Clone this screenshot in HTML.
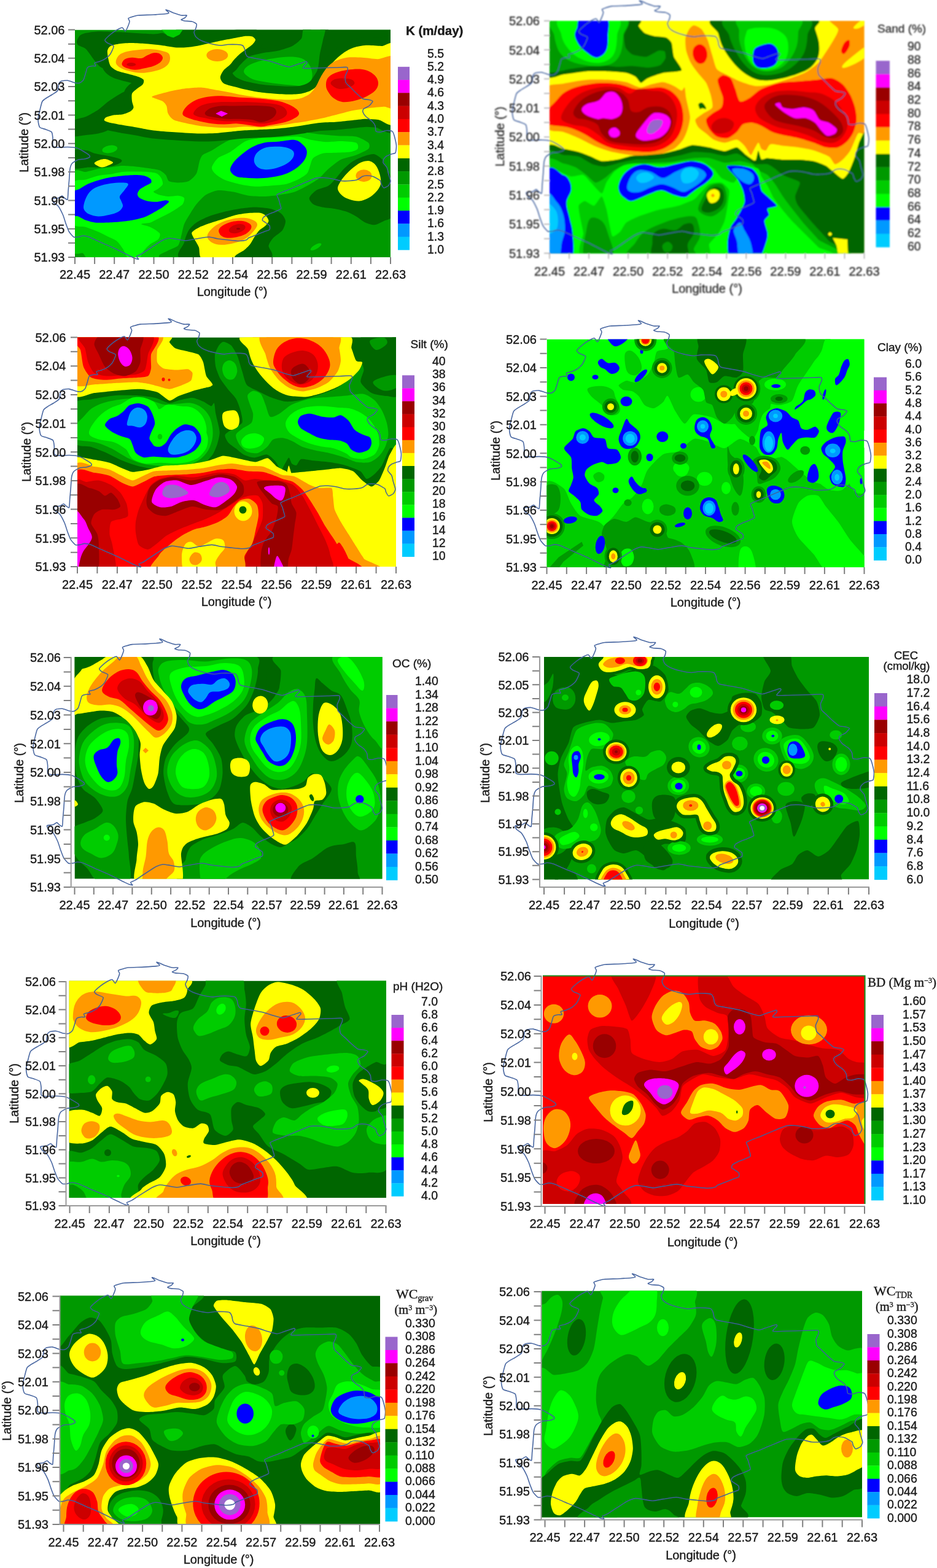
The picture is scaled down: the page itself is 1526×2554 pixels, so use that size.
<!DOCTYPE html>
<html><head><meta charset="utf-8"><title>Spatial distribution maps</title>
<style>html,body{margin:0;padding:0;background:#fff}svg{display:block}text{font-family:"Liberation Sans",sans-serif;font-size:20px;fill:#1a1a1a;stroke:#1a1a1a;stroke-width:.4px}.e{text-anchor:end}.m{text-anchor:middle}.s{font-family:"Liberation Serif",serif}.b{font-weight:bold}.g{fill:#333;stroke:#333}.ol{fill:none;stroke:#3F5F9C;stroke-width:1.6;stroke-linejoin:round;opacity:.95}</style>
</head><body>
<svg width="1526" height="2554" viewBox="0 0 1526 2554">
<rect width="1526" height="2554" fill="#fff"/>
<defs><path id="ol" d="M104 374C103.4 373.9 99.3 373 98 372.5C96.7 372 93.8 370.6 90.5 369C87.2 367.4 70.5 358.9 65.5 356.5C60.5 354.1 44.8 347.4 40.5 345.5C36.2 343.6 25.8 338.5 23 337.5C20.2 336.5 14.8 335.5 13 335.5C11.2 335.5 7 337.3 5.5 337.5C4 337.7 -0.5 338.4 -2 337.5C-3.5 336.6 -8.2 331.1 -9.5 329C-10.8 326.9 -13.5 319.2 -14.5 316.5C-15.5 313.8 -18.2 304.4 -19.5 301.5C-20.8 298.6 -25.5 289.5 -27 287.5C-28.5 285.5 -33.5 282.7 -34.5 281.5C-35.5 280.3 -37.8 276.2 -37 275.5C-36.2 274.8 -28.6 274.5 -27 274C-25.4 273.5 -22 270.5 -21 270.5C-20 270.5 -17.9 273.4 -17 274C-16.1 274.6 -12.6 277.5 -12 276.5C-11.4 275.5 -11.2 267 -11 264C-10.8 261 -9.8 250.2 -9.5 246.5C-9.2 242.7 -8.5 229.4 -8 226.5C-7.5 223.6 -5.8 219 -4.5 217.5C-3.2 216 3.5 212.2 5.5 211.5C7.5 210.8 13.7 210.9 15.5 210.5C17.4 210.1 23.2 208.1 24 207.5C24.8 206.8 24.1 205 23 204C21.9 203 15 198.7 13 197.5C11 196.3 5.5 193.2 3 192.5C0.5 191.8 -8.8 191.1 -12 191C-15.2 190.9 -27.1 191.7 -29.5 191.5C-31.9 191.3 -35.4 190.5 -36 189C-36.6 187.5 -35.8 178.8 -36 176.5C-36.2 174.2 -36.9 167.9 -38 166.5C-39.1 165.1 -45.1 163.2 -47 162.5C-48.9 161.8 -55.8 160.1 -57 159C-58.2 157.9 -59.2 153.2 -59.5 151.5C-59.8 149.8 -59.9 144 -59.5 141.5C-59.1 139 -56.6 129 -56 126.5C-55.4 124 -53.9 118 -53 116.5C-52.1 115 -48.6 112.6 -47 111.5C-45.4 110.4 -38.9 106.8 -37 105.5C-35.1 104.3 -29.1 100.8 -28 99C-26.9 97.2 -26.6 89 -26 87.5C-25.4 86 -23.4 84 -22 83.5C-20.6 83 -14.2 82.2 -12 82.5C-9.8 82.8 -1.5 86.1 0.5 86.5C2.5 86.9 6.7 87 8 86.5C9.3 86 13 83.2 14 81.5C15 79.8 17.4 71 18 69C18.6 67 19.5 62.5 20.5 61.5C21.5 60.5 26.6 59.2 28 59C29.4 58.8 33.6 59.5 34 59C34.4 58.5 31.4 54.7 32 54C32.6 53.2 38.6 52.2 40.5 51.5C42.4 50.8 48.8 47.8 50.5 46.5C52.2 45.2 56.8 41 58 39C59.2 37 63.5 28.2 63 26.5C62.5 24.7 54.4 22.5 53 21.5C51.6 20.5 48.5 17.9 49 16.5C49.5 15.1 56.1 9.1 58 7.5C59.9 5.9 66.1 1.6 68 0.5C69.9 -0.6 75.6 -3.7 77 -3.5C78.4 -3.3 81.2 2.5 82 2.5C82.8 2.5 84.8 -1.9 85.5 -3.5C86.2 -5.1 88.8 -12 89 -13.5C89.2 -15 86.6 -17.8 87 -18.5C87.4 -19.2 91.4 -20.5 93 -21C94.6 -21.5 99.5 -23.1 103 -23.5C106.5 -23.9 123.5 -24.2 128 -24.5C132.5 -24.8 145.5 -25.7 148 -26C150.5 -26.3 153 -26.9 153 -27.5C153 -28.2 148 -32.1 148 -32.5C148 -32.9 151.8 -31.5 153 -31C154.2 -30.5 158.5 -28.3 160.5 -27.5C162.5 -26.8 170.8 -23.9 173 -23.5C175.2 -23.1 181.4 -23.9 182 -23.5C182.6 -23.1 179.9 -20.2 179 -19.5C178.1 -18.8 173.1 -17 173 -16.5C172.9 -16 176.2 -14.8 178 -14.5C179.8 -14.2 188.5 -14 190.5 -13.5C192.5 -13 197.3 -10.6 198 -9.5C198.7 -8.4 197.4 -3.8 197 -2.5C196.6 -1.2 194 2.6 194 4C194 5.4 195.8 10.2 197 11.5C198.2 12.8 203.2 16.4 205.5 17.5C207.8 18.6 217.2 21.7 220.5 22.5C223.8 23.3 235.2 25.4 238 25.5C240.8 25.6 246.4 24.1 249 24C251.6 23.9 261.6 23.9 264 24C266.4 24.1 271.8 24.8 273 25.5C274.2 26.2 276 30.1 276.5 31.5C277 32.9 277.5 37.8 278 39C278.5 40.2 279.4 43.1 281.5 44C283.6 44.9 295.2 46.7 299 47.5C302.8 48.2 315.5 50.6 319 51.5C322.5 52.4 331 55.6 334 56.5C337 57.4 346.5 60.4 349 60.5C351.5 60.6 357 58.1 359 57.5C361 56.9 367.2 54.6 369 54C370.8 53.4 375.6 51.5 376.5 51.5C377.4 51.5 378.5 52.9 378 54C377.5 55.1 370.4 61.7 371.5 62.5C372.6 63.4 383.8 62.6 389 62.5C394.2 62.4 418.6 61.7 424 61.5C429.4 61.4 441 60.5 443 61C445 61.5 444.3 65 444 66.5C443.7 68 440.2 74.5 440 76.5C439.8 78.5 440.6 84.8 441.5 86.5C442.4 88.2 447.2 92.2 449 94C450.8 95.8 457 102.2 459 104C461 105.8 467 111.5 469 112.5C471 113.5 477.4 113.6 479 114C480.6 114.4 485 115.5 485 116.5C485 117.5 480.5 122.8 479 124C477.5 125.2 471 128 470 129C469 130 468.6 132.8 469 134C469.4 135.2 472.5 140 474 141.5C475.5 143 482.5 147.5 484 149C485.5 150.5 488.4 154.8 489 156.5C489.6 158.2 489.6 164.5 490.5 165.5C491.4 166.5 496.2 166.7 498 166.5C499.8 166.3 506.1 164.1 508 164C509.9 163.9 515.8 164.5 517 165.5C518.2 166.5 519.9 171.7 520.5 174C521.1 176.3 523.4 186.4 523.5 189C523.6 191.7 522.8 199.2 522 200.5C521.2 201.8 516.9 202 515.5 202.5C514.1 203 509.2 204.7 508 205.5C506.8 206.3 503.6 209.4 503 210.5C502.4 211.6 501.5 215.2 502 216.5C502.5 217.8 507.1 222.3 508 224C508.9 225.8 509.9 231.8 510.5 234C511.1 236.2 514 244.5 514 246.5C514 248.5 511.6 252.9 510.5 254C509.4 255.1 504.1 257.8 503 257.5C501.9 257.2 499.6 252.7 499 251.5C498.4 250.3 498.4 246.8 497 245.5C495.6 244.2 487.6 239.8 485.5 239C483.4 238.2 477.2 237.5 475.5 237.5C473.8 237.5 469.5 238.3 468 239C466.5 239.7 462.5 243.3 460.5 244C458.5 244.7 450.8 245.8 448 246C445.2 246.2 436 246.4 433 246C430 245.7 420.8 243 418 242.5C415.2 242 408 241.1 405.5 241C403 240.9 395.8 240.9 393 241.5C390.2 242.2 381 246.2 378 247.5C375 248.8 366 252.7 363 254C360 255.3 350.8 259.4 348 260.5C345.2 261.6 337.4 264.6 335.5 265.5C333.6 266.4 329.4 267.9 329 269C328.6 270.1 331.5 275 332 276.5C332.5 278 333.6 282.5 334 284C334.4 285.5 336.4 290.2 335.5 291.5C334.6 292.8 327.5 295.6 325.5 296.5C323.5 297.4 317.4 299.6 315.5 300.5C313.6 301.4 308 304.5 307 305.5C306 306.5 305.1 309.6 305.5 310.5C305.9 311.4 309.4 313.1 310.5 314C311.6 314.9 316.4 317.9 317 319C317.6 320.1 317.9 324.5 317 325.5C316.1 326.5 310.1 328.1 308 329C305.9 329.9 298 333 295.5 334C293 335 284.6 338.1 283 339C281.4 339.9 280.5 342 279 342.5C277.5 343 270.9 344 268 344C265.1 344 254 342.9 250.5 342.5C247 342.1 236.2 341 233 340.5C229.8 340 221.5 337.5 218 337.5C214.5 337.5 201.8 339.9 198 340.5C194.2 341.1 183.8 343.4 180.5 343.5C177.2 343.6 168.2 341.4 165.5 341C162.8 340.6 155.5 339.2 153 339.5C150.5 339.8 143.5 342.4 140.5 344C137.5 345.6 126.2 353.4 123 355.5C119.8 357.6 110.2 364.1 108 365.5C105.8 366.9 100.9 368.1 100.5 369C100.1 369.9 103.7 373.5 104 374"/><filter id="bl" x="-5%" y="-5%" width="110%" height="110%"><feGaussianBlur stdDeviation="0.8"/></filter></defs>
<g id="p01">
<clipPath id="c1"><rect x="122" y="48.5" width="514" height="370.5"/></clipPath>
<g clip-path="url(#c1)">
<rect x="122" y="48.5" width="514" height="370.5" fill="#009900"/>
<path d="M125 67.5C125.3 65.7 128.2 59.6 130 58C131.8 56.4 136.5 54.5 140 53.8C143.5 53 153 51.4 160 51.2C167 51.1 189.5 52 200 52.5C210.5 53 242.4 55.4 250 55.5C257.6 55.6 261.2 53.1 265 53.8C268.8 54.4 278.4 62.3 282.5 61.2C286.6 60.2 274.9 46.9 300 45C325.1 43.1 475 43 497.5 45C520 47 495.1 59 492.5 62.5C489.9 66 480 72.7 475 75C470 77.3 455.8 81.2 450 82.5C444.2 83.8 430.8 85.1 425 86.2C419.2 87.4 404.7 90.3 400 92.5C395.3 94.7 387.9 102.1 385 105C382.1 107.9 375.6 114 375 117.5C374.4 121 377.1 131.8 380 135C382.9 138.2 400.6 143.2 400 145C399.4 146.8 383.8 150.6 375 150C366.2 149.4 339.6 141.8 325 140C310.4 138.2 260.5 136.2 250 135C239.5 133.8 239.4 130.9 235 130C230.6 129.1 217.8 128.7 212.5 127.5C207.2 126.3 195.5 122 190 120C184.5 118 169.1 112.3 165 110C160.9 107.7 157.9 103.5 155 100C152.1 96.5 143.2 83.1 140 80C136.8 76.9 129.2 75.2 127.5 73.8C125.8 72.3 124.7 69.3 125 67.5Z" fill="#006600"/>
<path d="M527.5 45C541.3 43.2 632.2 40.9 646 45C659.8 49.1 651.4 76.5 646 80C640.6 83.5 608.3 75.3 600 75C591.7 74.7 580.8 75.8 575 77.5C569.2 79.2 554.7 86.5 550 90C545.3 93.5 537.9 102.8 535 107.5C532.1 112.2 527.3 125.6 525 130C522.7 134.4 516.8 145.6 515 145C513.2 144.4 510 130.2 510 125C510 119.8 513.5 105.8 515 100C516.5 94.2 521 79.7 522.5 75C524 70.3 526.9 63.5 527.5 60C528.1 56.5 513.7 46.8 527.5 45Z" fill="#006600"/>
<path d="M371 126.2C371.6 123.3 380.6 113.6 383.5 110C386.4 106.4 392.2 98.2 396 95C399.8 91.8 410.2 84.8 416 82.5C421.8 80.2 439 76.5 446 75C453 73.5 470.8 71.8 476 70C481.2 68.2 488.7 62.9 491 60C493.3 57.1 491 46.8 496 45C501 43.2 529.4 41.5 533.5 45C537.6 48.5 531.9 68.6 531 75C530.1 81.4 527.2 94.2 526 100C524.8 105.8 522.8 120 521 125C519.2 130 513.9 139.6 511 142.5C508.1 145.4 500.7 149.1 496 150C491.3 150.9 476.8 150.1 471 150C465.2 149.9 451.8 149.2 446 148.8C440.2 148.3 426.8 147.1 421 146.2C415.2 145.4 401 142.6 396 141.2C391 139.9 381.4 136.8 378.5 135C375.6 133.2 370.4 129.2 371 126.2Z" fill="#006600"/>
<path d="M117.5 197.5C120.1 193.9 135 192.2 140 190C145 187.8 155.9 181.5 160 178.8C164.1 176 171.5 168.9 175 166.2C178.5 163.6 186.2 158.6 190 156.2C193.8 153.9 204.3 148.1 207.5 146.2C210.7 144.4 215.5 136.6 217.5 140C219.5 143.4 228.2 168 225 175C221.8 182 195.8 195.6 190 200C184.2 204.4 178.5 210.5 175 212.5C171.5 214.5 164.1 216.6 160 217.5C155.9 218.4 145 219.6 140 220C135 220.4 120.1 223.9 117.5 221.2C114.9 218.6 114.9 201.1 117.5 197.5Z" fill="#006600"/>
<path d="M378.5 117.5C378.8 115.2 383.1 107.9 386 105C388.9 102.1 398.5 94.7 403.5 92.5C408.5 90.3 422.7 87.4 428.5 86.2C434.3 85.1 448 83.8 453.5 82.5C459 81.2 471.6 77.3 476 75C480.4 72.7 488.7 66 491 62.5C493.3 59 491.6 47 496 45C500.4 43 525 42.7 528.5 45C532 47.3 526.9 60 526 65C525.1 70 521.9 82.5 521 87.5C520.1 92.5 519.4 103.1 518.5 107.5C517.6 111.9 515 121.2 513.5 125C512 128.8 508.3 137.4 506 140C503.7 142.6 497.6 146.8 493.5 147.5C489.4 148.2 476.5 146.8 471 146.2C465.5 145.7 451.8 143.4 446 142.5C440.2 141.6 426.8 140.1 421 138.8C415.2 137.4 400.4 132.9 396 131.2C391.6 129.6 385.5 126.6 383.5 125C381.5 123.4 378.2 119.8 378.5 117.5Z" fill="#009900"/>
<path d="M397.2 117.5C396.4 114.2 399.5 110.4 403.5 107.5C407.5 104.6 413.9 102.1 421 100C428.1 97.9 437.7 96.2 446 95C454.3 93.8 463.5 92.5 471 92.5C478.5 92.5 485.6 92.9 491 95C496.4 97.1 500.6 100.8 503.5 105C506.4 109.2 508.1 115.4 508.5 120C508.9 124.6 508.1 129.2 506 132.5C503.9 135.8 501 139 496 140C491 141 483.5 139.4 476 138.8C468.5 138.1 459.3 137.3 451 136.2C442.7 135.2 433.1 134 426 132.5C418.9 131 413.3 130 408.5 127.5C403.7 125 398.1 120.8 397.2 117.5Z" fill="#00CC00"/>
<path d="M260 45L300 45L292.5 56.2L282.5 61.2L272.5 58Z" fill="#00CC00"/>
<path d="M117.5 246.2C121.2 241.6 133.8 244.4 140 245C146.2 245.6 149.2 248.5 155 250C160.8 251.5 168.3 252.3 175 253.8C181.7 255.2 191.2 257.1 195 258.8C198.8 260.4 199.2 261.9 197.5 263.8C195.8 265.6 190.4 268.5 185 270C179.6 271.5 171.7 272.1 165 272.5C158.3 272.9 152.9 272.4 145 272.5C137.1 272.6 122.1 277.4 117.5 273C112.9 268.6 113.8 250.9 117.5 246.2Z" fill="#006600"/>
<ellipse cx="178.8" cy="243" rx="12.5" ry="6.2" fill="#00CC00" transform="rotate(-10 178.8 243)"/>
<path d="M503.8 322.5C504.4 319.5 510.8 312.7 515 310C519.2 307.3 530.7 305.2 535 302.5C539.3 299.8 544.2 293.7 547.5 290C550.8 286.3 556.3 278.7 560 275C563.7 271.3 570.3 265.3 575 262.5C579.7 259.7 590.3 255.2 595 253.8C599.7 252.2 606.3 250.4 610 251.2C613.7 252.1 619.8 256.8 622.5 260C625.2 263.2 627.7 269.7 630 275C632.3 280.3 638.7 290 640 300C641.3 310 642 342 640 350C638 358 629 357.8 625 360C621 362.2 614 365.9 610 366.2C606 366.6 599 364.3 595 362.5C591 360.7 584 354.8 580 352.5C576 350.2 569.7 346.7 565 345C560.3 343.3 550.3 341 545 340C539.7 339 529.7 338.5 525 337.5C520.3 336.5 512.8 334.5 510 332.5C507.2 330.5 503.1 325.5 503.8 322.5Z" fill="#006600"/>
<path d="M297.5 422.5C279.5 418.8 298.7 401.3 300 395C301.3 388.7 304.8 379.3 307.5 375C310.2 370.7 315.7 365.5 320 362.5C324.3 359.5 334 354.8 340 352.5C346 350.2 358.3 346.7 365 345C371.7 343.3 383.3 341 390 340C396.7 339 408.3 337.5 415 337.5C421.7 337.5 434.3 338.7 440 340C445.7 341.3 454.2 344.8 457.5 347.5C460.8 350.2 464.7 356.3 465 360C465.3 363.7 462.7 371.3 460 375C457.3 378.7 448 384.2 445 387.5C442 390.8 438.8 395.3 437.5 400C436.2 404.7 453.7 419.5 435 422.5C416.3 425.5 315.5 426.2 297.5 422.5Z" fill="#006600"/>
<ellipse cx="514.5" cy="402" rx="10" ry="3.5" fill="#00CC00" transform="rotate(-30 514.5 402)"/>
<path d="M117.5 285C120.1 270.4 135 281.2 140 280C145 278.8 155.3 275.9 160 275C164.7 274.1 175.3 273.1 180 272.5C184.7 271.9 195.3 270.1 200 270C204.7 269.9 215.3 270.8 220 271.2C224.7 271.7 235.3 273 240 273.8C244.7 274.5 256.5 276.2 260 277.5C263.5 278.8 268.2 283 270 285C271.8 287 272.7 293.5 275 295C277.3 296.5 286.2 297.5 290 297.5C293.8 297.5 304 296.8 307.5 295C311 293.2 318 286.3 320 282.5C322 278.7 323.8 266 325 262.5C326.2 259 327.7 254.5 330 252.5C332.3 250.5 340.3 247.6 345 245C349.7 242.4 363.6 232.9 370 230C376.4 227.1 393 221.6 400 220C407 218.4 423 216.5 430 216.2C437 216 453 217.6 460 217.5C467 217.4 483 214.9 490 215C497 215.1 513 218 520 218.8C527 219.5 543 220.8 550 221.2C557 221.7 574.2 221.2 580 222.5C585.8 223.8 597.7 230.2 600 232.5C602.3 234.8 602.3 240.2 600 242.5C597.7 244.8 585.2 250.5 580 252.5C574.8 254.5 560.2 257.4 555 260C549.8 262.6 539.1 271.5 535 275C530.9 278.5 523.5 287.1 520 290C516.5 292.9 509.7 297.4 505 300C500.3 302.6 485.8 310.5 480 312.5C474.2 314.5 460.8 316.6 455 317.5C449.2 318.4 435.8 319.9 430 320C424.2 320.1 410.8 319.6 405 318.8C399.2 317.9 385.8 313.5 380 312.5C374.2 311.5 360.2 309.4 355 310C349.8 310.6 339.1 314.9 335 317.5C330.9 320.1 322.9 329 320 332.5C317.1 336 312.3 343.7 310 347.5C307.7 351.3 301.8 360.6 300 365C298.2 369.4 296.2 380.9 295 385C293.8 389.1 292.3 397.4 290 400C287.7 402.6 278.5 405.8 275 407.5C271.5 409.2 262.9 413.2 260 415C257.1 416.8 262.8 421.6 250 422.5C237.2 423.4 163.4 423.7 150 422.5C136.6 421.3 138.8 414.5 135 412.5C131.2 410.5 119.5 419.9 117.5 405C115.5 390.1 114.9 299.6 117.5 285Z" fill="#00CC00"/>
<path d="M117.5 300C120.5 290.7 134.3 294.3 140 292.5C145.7 290.7 154.7 287.4 160 286.2C165.3 285.1 174.7 284.6 180 283.8C185.3 282.9 194.7 280.6 200 280C205.3 279.4 214.7 279.5 220 279.5C225.3 279.5 235.3 279.6 240 280C244.7 280.4 252 281.2 255 282.5C258 283.8 261.2 287.7 262.5 290C263.8 292.3 265.7 297.7 265 300C264.3 302.3 259.5 305.8 257.5 307.5C255.5 309.2 249.7 311.2 250 312.5C250.3 313.8 256.7 316.5 260 317.5C263.3 318.5 271 319.8 275 320C279 320.2 286.7 318.4 290 318.8C293.3 319.1 299 320.7 300 322.5C301 324.3 299.2 330.2 297.5 332.5C295.8 334.8 290.5 338 287.5 340C284.5 342 278.7 345.5 275 347.5C271.3 349.5 264 353 260 355C256 357 249 361.2 245 362.5C241 363.8 230 364 230 365C230 366 241 368 245 370C249 372 258.3 377.3 260 380C261.7 382.7 259.5 387.7 257.5 390C255.5 392.3 248 395.2 245 397.5C242 399.8 237.7 404.2 235 407.5C232.3 410.8 228.3 420.5 225 422.5C221.7 424.5 213.3 424.8 210 422.5C206.7 420.2 202.7 409 200 405C197.3 401 193.3 395.2 190 392.5C186.7 389.8 179 387 175 385C171 383 164.7 379.5 160 377.5C155.3 375.5 145.7 372 140 370C134.3 368 120.5 371.8 117.5 362.5C114.5 353.2 114.5 309.3 117.5 300Z" fill="#00FF00"/>
<path d="M345 272.5C345.7 269.2 351 260.8 355 257.5C359 254.2 369 251.2 375 247.5C381 243.8 393.3 233 400 230C406.7 227 417.7 225.8 425 225C432.3 224.2 447 224.1 455 223.8C463 223.4 478.3 222 485 222.5C491.7 223 499 226.3 505 227.5C511 228.7 523.3 230.9 530 231.2C536.7 231.6 548.3 229.8 555 230C561.7 230.2 576.3 230.8 580 232.5C583.7 234.2 583.8 240.5 582.5 242.5C581.2 244.5 575 246.7 570 247.5C565 248.3 551 248.4 545 248.8C539 249.1 529.7 248.8 525 250C520.3 251.2 512.7 254.8 510 257.5C507.3 260.2 506.3 266.7 505 270C503.7 273.3 502.7 279.5 500 282.5C497.3 285.5 489.7 290.2 485 292.5C480.3 294.8 471 298.7 465 300C459 301.3 446.7 302 440 302.5C433.3 303 421.7 304.1 415 303.8C408.3 303.4 396.7 301.5 390 300C383.3 298.5 370.3 294.8 365 292.5C359.7 290.2 352.7 285.2 350 282.5C347.3 279.8 344.3 275.8 345 272.5Z" fill="#00FF00"/>
<path d="M117.5 315C119.2 309.5 126.7 309.5 130 307.5C133.3 305.5 138.5 301.8 142.5 300C146.5 298.2 155 295.2 160 293.8C165 292.2 174.7 289.8 180 288.8C185.3 287.8 194.7 286.8 200 286.2C205.3 285.8 215.3 285 220 285C224.7 285 231.7 285.4 235 286.2C238.3 287.1 243.5 289.8 245 291.2C246.5 292.8 247.2 296 246.2 297.5C245.2 299 240 301 237.5 302.5C235 304 229.3 306.9 227.5 308.8C225.7 310.6 223.8 314.4 223.8 316.2C223.8 318.1 225.3 321 227.5 322.5C229.7 324 236.3 326.7 240 327.5C243.7 328.3 251 328.9 255 328.8C259 328.6 267.3 326.2 270 326.2C272.7 326.2 275.7 327.2 275 328.8C274.3 330.2 268.3 335.2 265 337.5C261.7 339.8 254 344.1 250 346.2C246 348.4 239.7 352.1 235 353.8C230.3 355.4 220.3 357.8 215 358.8C209.7 359.8 200.3 360.8 195 361.2C189.7 361.8 180.3 362.3 175 362.5C169.7 362.7 159.7 363 155 362.5C150.3 362 143.7 360.1 140 358.8C136.3 357.4 130.5 353.8 127.5 352.5C124.5 351.2 118.8 353.8 117.5 348.8C116.2 343.8 115.8 320.5 117.5 315Z" fill="#0000FF"/>
<path d="M136.2 335C136.7 331.7 138.1 326.5 140 322.5C141.9 318.5 144.2 314.4 147.5 311.2C150.8 308.1 154.6 305.8 160 303.8C165.4 301.7 173.3 299.8 180 298.8C186.7 297.7 195.2 297.3 200 297.5C204.8 297.7 208.3 297.9 208.8 300C209.2 302.1 204.8 306.7 202.5 310C200.2 313.3 195.8 317.1 195 320C194.2 322.9 196.7 324.8 197.5 327.5C198.3 330.2 200.8 333.3 200 336.2C199.2 339.2 196.2 342.7 192.5 345C188.8 347.3 182.9 348.8 177.5 350C172.1 351.2 165.4 352.7 160 352.5C154.6 352.3 148.8 350.4 145 348.8C141.2 347.1 139 344.8 137.5 342.5C136 340.2 135.8 338.3 136.2 335Z" fill="#0099FF"/>
<path d="M375 277.5C374.2 273.8 377.1 269.2 380 265C382.9 260.8 387.5 256.7 392.5 252.5C397.5 248.3 403.8 243.3 410 240C416.2 236.7 422.5 234.1 430 232.5C437.5 230.9 446.7 231.2 455 230.5C463.3 229.8 473.8 227.2 480 228C486.2 228.8 489.2 232.2 492.5 235C495.8 237.8 498.7 241.2 499.5 245C500.3 248.8 499.5 253.3 497.5 257.5C495.5 261.7 491.7 266.2 487.5 270C483.3 273.8 477.9 277.3 472.5 280C467.1 282.7 462.1 284.6 455 286.2C447.9 287.9 438.3 289.4 430 290C421.7 290.6 412.5 290.4 405 290C397.5 289.6 390 289.6 385 287.5C380 285.4 375.8 281.2 375 277.5Z" fill="#0000FF"/>
<path d="M413.8 262.5C413.3 258.8 414.8 253.5 417.5 250C420.2 246.5 425 243.1 430 241.2C435 239.4 441.7 239 447.5 238.8C453.3 238.5 460 238.8 465 240C470 241.2 475.4 243.5 477.5 246.2C479.6 249 479.2 252.9 477.5 256.2C475.8 259.6 472.1 263.3 467.5 266.2C462.9 269.2 455.8 272.1 450 273.8C444.2 275.4 437.5 276.5 432.5 276.2C427.5 276 423.1 274.8 420 272.5C416.9 270.2 414.2 266.2 413.8 262.5Z" fill="#0099FF"/>
<path d="M175 82.5C175.5 79.8 177.3 76.5 180 75C182.7 73.5 190.3 71.9 195 71.2C199.7 70.6 209.3 70 215 70C220.7 70 231.2 70.8 237.5 71.2C243.8 71.8 255.8 72.9 262.5 73.8C269.2 74.6 280.8 77.2 287.5 77.5C294.2 77.8 305.8 77.1 312.5 76.2C319.2 75.4 331.2 72.6 337.5 71.2C343.8 69.9 353.5 67.6 360 66.2C366.5 64.9 380.5 62.2 386 61.2C391.5 60.2 397.7 59 401 58.8C404.3 58.5 409 58.7 411 59.5C413 60.3 416 63.3 416 65C416 66.7 413 70.5 411 72.5C409 74.5 403.7 78 401 80C398.3 82 393.7 85.2 391 87.5C388.3 89.8 383.1 95.2 381 97.5C378.9 99.8 377.3 102.7 375 105C372.7 107.3 365.9 112.2 363.8 115C361.6 117.8 358.6 123.4 358.8 126.2C358.9 129.1 361.5 134.2 365 136.2C368.5 138.3 380.9 140.8 385 142C389.1 143.2 391.2 143.9 396 145C400.8 146.1 414.3 149 421 150C427.7 151 439.3 152 446 152.5C452.7 153 465 153.8 471 153.8C477 153.8 486.3 153.3 491 152.5C495.7 151.7 502.7 149.2 506 147.5C509.3 145.8 513.3 143 516 140C518.7 137 523.3 129 526 125C528.7 121 533.3 113.7 536 110C538.7 106.3 542.7 100.8 546 97.5C549.3 94.2 557 87.7 561 85C565 82.3 571.3 79 576 77.5C580.7 76 590 74.1 596 73.8C602 73.4 614.5 74.5 621 75C627.5 75.5 641.8 61.2 645 77.5C648.2 93.8 648.9 181.8 645 197.5C641.1 213.2 622.5 195.5 616 195C609.5 194.5 602 193.6 596 193.8C590 193.9 577.7 195.6 571 196.2C564.3 196.9 552.7 198.2 546 198.8C539.3 199.2 527.7 199.3 521 200C514.3 200.7 502.7 202.8 496 203.8C489.3 204.8 477.7 206.7 471 207.5C464.3 208.3 452.7 209.5 446 210C439.3 210.5 427.7 210.9 421 211.2C414.3 211.6 402.7 212 396 212.5C389.3 213 377.1 214.4 371 215C364.9 215.6 356.1 216.7 350 217C343.9 217.3 333.3 217.7 325 217.5C316.7 217.3 297.5 216.2 287.5 215.5C277.5 214.8 258.3 213.5 250 212.5C241.7 211.5 231.7 209.2 225 208C218.3 206.8 206 204.8 200 203.8C194 202.7 184 201 180 200C176 199 171 197.4 170 196.2C169 195.1 170.5 192.4 172.5 191.2C174.5 190.1 181.3 188.2 185 187.5C188.7 186.8 196.3 187.1 200 186.2C203.7 185.4 210.2 182.8 212.5 181.2C214.8 179.8 217.2 177.2 217.5 175C217.8 172.8 215.3 168 215 165C214.7 162 214 155.2 215 152.5C216 149.8 220.2 147 222.5 145C224.8 143 231 139.5 232.5 137.5C234 135.5 234.8 131.7 233.8 130C232.8 128.3 228.5 126.3 225 125C221.5 123.7 212.2 121.3 207.5 120C202.8 118.7 193.7 116.7 190 115C186.3 113.3 181.8 110.2 180 107.5C178.2 104.8 176.9 98.3 176.2 95C175.6 91.7 174.5 85.2 175 82.5Z" fill="#006600" stroke="#006600" stroke-width="26" stroke-linejoin="round"/>
<path d="M175 82.5C175.5 79.8 177.3 76.5 180 75C182.7 73.5 190.3 71.9 195 71.2C199.7 70.6 209.3 70 215 70C220.7 70 231.2 70.8 237.5 71.2C243.8 71.8 255.8 72.9 262.5 73.8C269.2 74.6 280.8 77.2 287.5 77.5C294.2 77.8 305.8 77.1 312.5 76.2C319.2 75.4 331.2 72.6 337.5 71.2C343.8 69.9 353.5 67.6 360 66.2C366.5 64.9 380.5 62.2 386 61.2C391.5 60.2 397.7 59 401 58.8C404.3 58.5 409 58.7 411 59.5C413 60.3 416 63.3 416 65C416 66.7 413 70.5 411 72.5C409 74.5 403.7 78 401 80C398.3 82 393.7 85.2 391 87.5C388.3 89.8 383.1 95.2 381 97.5C378.9 99.8 377.3 102.7 375 105C372.7 107.3 365.9 112.2 363.8 115C361.6 117.8 358.6 123.4 358.8 126.2C358.9 129.1 361.5 134.2 365 136.2C368.5 138.3 380.9 140.8 385 142C389.1 143.2 391.2 143.9 396 145C400.8 146.1 414.3 149 421 150C427.7 151 439.3 152 446 152.5C452.7 153 465 153.8 471 153.8C477 153.8 486.3 153.3 491 152.5C495.7 151.7 502.7 149.2 506 147.5C509.3 145.8 513.3 143 516 140C518.7 137 523.3 129 526 125C528.7 121 533.3 113.7 536 110C538.7 106.3 542.7 100.8 546 97.5C549.3 94.2 557 87.7 561 85C565 82.3 571.3 79 576 77.5C580.7 76 590 74.1 596 73.8C602 73.4 614.5 74.5 621 75C627.5 75.5 641.8 61.2 645 77.5C648.2 93.8 648.9 181.8 645 197.5C641.1 213.2 622.5 195.5 616 195C609.5 194.5 602 193.6 596 193.8C590 193.9 577.7 195.6 571 196.2C564.3 196.9 552.7 198.2 546 198.8C539.3 199.2 527.7 199.3 521 200C514.3 200.7 502.7 202.8 496 203.8C489.3 204.8 477.7 206.7 471 207.5C464.3 208.3 452.7 209.5 446 210C439.3 210.5 427.7 210.9 421 211.2C414.3 211.6 402.7 212 396 212.5C389.3 213 377.1 214.4 371 215C364.9 215.6 356.1 216.7 350 217C343.9 217.3 333.3 217.7 325 217.5C316.7 217.3 297.5 216.2 287.5 215.5C277.5 214.8 258.3 213.5 250 212.5C241.7 211.5 231.7 209.2 225 208C218.3 206.8 206 204.8 200 203.8C194 202.7 184 201 180 200C176 199 171 197.4 170 196.2C169 195.1 170.5 192.4 172.5 191.2C174.5 190.1 181.3 188.2 185 187.5C188.7 186.8 196.3 187.1 200 186.2C203.7 185.4 210.2 182.8 212.5 181.2C214.8 179.8 217.2 177.2 217.5 175C217.8 172.8 215.3 168 215 165C214.7 162 214 155.2 215 152.5C216 149.8 220.2 147 222.5 145C224.8 143 231 139.5 232.5 137.5C234 135.5 234.8 131.7 233.8 130C232.8 128.3 228.5 126.3 225 125C221.5 123.7 212.2 121.3 207.5 120C202.8 118.7 193.7 116.7 190 115C186.3 113.3 181.8 110.2 180 107.5C178.2 104.8 176.9 98.3 176.2 95C175.6 91.7 174.5 85.2 175 82.5Z" fill="#FFFF00"/>
<path d="M188.8 102.5C188.1 99 190.6 93.1 193.8 90C196.9 86.9 202.3 85.2 207.5 83.8C212.7 82.3 218.8 81.9 225 81.2C231.2 80.6 238.8 79.8 245 80C251.2 80.2 257.5 81.2 262.5 82.5C267.5 83.8 272.7 84.6 275 87.5C277.3 90.4 277.5 96.2 276.2 100C275 103.8 271.9 107.3 267.5 110C263.1 112.7 256.2 114.8 250 116.2C243.8 117.7 236.2 118.8 230 118.8C223.8 118.8 217.9 117.5 212.5 116.2C207.1 115 201.5 113.5 197.5 111.2C193.5 109 189.4 106 188.8 102.5Z" fill="#FF9900"/>
<path d="M198.8 102.5C199.4 100.6 201 97.7 203.8 96.2C206.5 94.8 210.6 94 215 93.8C219.4 93.5 225.8 95.6 230 95C234.2 94.4 236.7 91.5 240 90C243.3 88.5 246.7 86.7 250 86.2C253.3 85.8 257.5 86.2 260 87.5C262.5 88.8 264.8 91.5 265 93.8C265.2 96 263.8 99 261.2 101.2C258.8 103.5 254.4 105.8 250 107.5C245.6 109.2 240 110.2 235 111.2C230 112.3 224.6 113.8 220 113.8C215.4 113.8 210.8 112.3 207.5 111.2C204.2 110.2 201.5 109 200 107.5C198.5 106 198.1 104.4 198.8 102.5Z" fill="#FF0000"/>
<ellipse cx="213.8" cy="105" rx="7.5" ry="3" fill="#CC0000" transform="rotate(0 213.8 105)"/>
<ellipse cx="353.8" cy="90" rx="17.5" ry="10" fill="#FF9900" transform="rotate(0 353.8 90)"/>
<path d="M247.5 157.5C248.5 156.3 257.8 153.8 262.5 152.5C267.2 151.2 276.8 148.7 282.5 147.5C288.2 146.3 299 144.4 305 143.8C311 143.1 321.5 142.2 327.5 142.5C333.5 142.8 344.2 145.2 350 146.2C355.8 147.2 364.9 148.8 371 150C377.1 151.2 389.3 153.8 396 155C402.7 156.2 414.3 157.9 421 158.8C427.7 159.6 439.3 160.8 446 161.2C452.7 161.8 465.1 162.7 471 162.5C476.9 162.3 485.5 161.3 490 160C494.5 158.7 501.7 155.2 505 152.5C508.3 149.8 512.7 143.7 515 140C517.3 136.3 520.2 129 522.5 125C524.8 121 529.5 113.3 532.5 110C535.5 106.7 540.7 102.2 545 100C549.3 97.8 559 94.6 565 93.8C571 92.9 583.3 93.4 590 93.8C596.7 94.1 607.7 96.1 615 96.2C622.3 96.4 641 84.8 645 95C649 105.2 647.7 162 645 172.5C642.3 183 631 173.2 625 173.8C619 174.2 606.7 175.4 600 176.2C593.3 177.1 581.7 178.7 575 180C568.3 181.3 556.7 184.6 550 186.2C543.3 187.9 531.7 191 525 192.5C518.3 194 506.7 196.3 500 197.5C493.3 198.7 481.7 200.2 475 201.2C468.3 202.2 456.7 204.2 450 205C443.3 205.8 431.7 207.3 425 207.5C418.3 207.7 406.7 206.2 400 206.2C393.3 206.3 381.7 207.8 375 208C368.3 208.2 356.7 207.9 350 207.5C343.3 207.1 331.7 206 325 205C318.3 204 305.7 201.3 300 200C294.3 198.7 286 197 282.5 195C279 193 275.2 188 273.8 185C272.2 182 272.4 175.2 271.2 172.5C270.1 169.8 267.2 166.5 265 165C262.8 163.5 257.3 162.2 255 161.2C252.7 160.2 246.5 158.7 247.5 157.5Z" fill="#FF9900"/>
<path d="M297.5 186.2C296.7 183.3 299.6 178.5 302.5 175C305.4 171.5 310 167.7 315 165C320 162.3 325.8 160.2 332.5 158.8C339.2 157.3 348.6 156.5 355 156.2C361.4 156 365.2 156.6 371 157C376.8 157.4 382.7 158.2 390 158.8C397.3 159.2 406.7 159.4 415 160C423.3 160.6 432.5 161.5 440 162.5C447.5 163.5 454.2 164.6 460 166.2C465.8 167.9 470.8 170.2 475 172.5C479.2 174.8 483.1 177.5 485 180C486.9 182.5 487.9 185 486.2 187.5C484.6 190 479.4 192.9 475 195C470.6 197.1 465.8 198.5 460 200C454.2 201.5 445.8 202.7 440 203.8C434.2 204.8 430.8 206.2 425 206.2C419.2 206.2 411.7 204.6 405 203.8C398.3 202.9 391.7 201.5 385 201.2C378.3 201 371.7 202.5 365 202.5C358.3 202.5 351.7 202.1 345 201.2C338.3 200.4 331.2 199 325 197.5C318.8 196 312.1 194.4 307.5 192.5C302.9 190.6 298.3 189.2 297.5 186.2Z" fill="#FF0000"/>
<path d="M315 185C315 182.5 318.8 177.7 322.5 175C326.2 172.3 331.7 170.2 337.5 168.8C343.3 167.3 350.4 166.7 357.5 166.2C364.6 165.8 372.1 166.2 380 166.2C387.9 166.2 396.7 166 405 166.2C413.3 166.5 422.5 166.9 430 167.5C437.5 168.1 444.6 168.8 450 170C455.4 171.2 459.6 172.7 462.5 175C465.4 177.3 467.5 181 467.5 183.8C467.5 186.5 465.8 189 462.5 191.2C459.2 193.5 452.9 195.8 447.5 197.5C442.1 199.2 435.4 200.8 430 201.2C424.6 201.7 420.8 200.6 415 200C409.2 199.4 401.7 197.9 395 197.5C388.3 197.1 381.7 197.7 375 197.5C368.3 197.3 361.7 197.1 355 196.2C348.3 195.4 340.4 193.5 335 192.5C329.6 191.5 325.8 191.2 322.5 190C319.2 188.8 315 187.5 315 185Z" fill="#CC0000"/>
<path d="M333.8 183.8C334.6 181.7 338.1 178.1 342.5 176.2C346.9 174.4 353.3 173.1 360 172.5C366.7 171.9 375 172.6 382.5 172.5C390 172.4 397.5 172 405 172C412.5 172 420.8 172 427.5 172.5C434.2 173 441.2 173.3 445 175C448.8 176.7 450 179.8 450 182.5C450 185.2 447.9 188.8 445 191.2C442.1 193.8 436.2 196.2 432.5 197.5C428.8 198.8 426.2 199.2 422.5 198.8C418.8 198.3 415.4 195.8 410 195C404.6 194.2 396.7 194 390 193.8C383.3 193.5 376.7 194.2 370 193.8C363.3 193.3 355.4 192.1 350 191.2C344.6 190.4 340.2 190 337.5 188.8C334.8 187.5 332.9 185.8 333.8 183.8Z" fill="#990000"/>
<path d="M351.2 185L360 180.5L371.2 185L361.2 190Z" fill="#FF00FF"/>
<path d="M531 140C530.8 136.2 531 131 533.5 127.5C536 124 540.6 121 546 118.8C551.4 116.5 559.3 114.8 566 113.8C572.7 112.7 580.2 112.1 586 112.5C591.8 112.9 596.6 114.2 601 116.2C605.4 118.3 609.8 121.7 612.2 125C614.8 128.3 616.2 132.5 616 136.2C615.8 140 614.3 144 611 147.5C607.7 151 601.4 154.8 596 157.5C590.6 160.2 584.8 162.3 578.5 163.8C572.2 165.2 564.3 166.9 558.5 166.2C552.7 165.6 547.5 162.7 543.5 160C539.5 157.3 536.8 153.3 534.8 150C532.7 146.7 531.2 143.8 531 140Z" fill="#FF0000"/>
<path d="M538.5 135C538.9 132.9 542.2 130 546 128.8C549.8 127.5 556.4 127.3 561 127.5C565.6 127.7 570.8 128.5 573.5 130C576.2 131.5 578.1 134.2 577.2 136.2C576.4 138.3 572.5 141 568.5 142.5C564.5 144 557.7 145.2 553.5 145C549.3 144.8 546 142.9 543.5 141.2C541 139.6 538.1 137.1 538.5 135Z" fill="#CC0000"/>
<path d="M153.8 265.5C154.4 263.9 159.4 261.5 162.5 260.5C165.6 259.5 169.4 258.9 172.5 259.2C175.6 259.6 179.4 261.5 181.2 262.5C183.1 263.5 184.8 264.2 183.8 265.5C182.7 266.8 177.9 268.8 175 270C172.1 271.2 169 272.5 166.2 272.5C163.5 272.5 160.8 271.2 158.8 270C156.7 268.8 153.1 267.1 153.8 265.5Z" fill="#FFFF00"/>
<path d="M550 307.5C549.6 303.5 552.5 299.2 555 295C557.5 290.8 561.2 286.5 565 282.5C568.8 278.5 573.3 274.4 577.5 271.2C581.7 268.1 585.8 265.2 590 263.8C594.2 262.3 598.8 261.5 602.5 262.5C606.2 263.5 609.8 266.2 612.5 270C615.2 273.8 617.5 280 618.8 285C620 290 621 295.4 620 300C619 304.6 615.8 308.8 612.5 312.5C609.2 316.2 604.6 320 600 322.5C595.4 325 590 327.1 585 327.5C580 327.9 574.6 326.5 570 325C565.4 323.5 560.8 321.7 557.5 318.8C554.2 315.8 550.4 311.5 550 307.5Z" fill="#FFFF00"/>
<ellipse cx="592.5" cy="286.2" rx="13" ry="10" fill="#FF9900" transform="rotate(0 592.5 286.2)"/>
<path d="M312.5 378.8C313.7 376.2 320.7 372.2 325 370C329.3 367.8 339.7 364.3 345 362.5C350.3 360.7 359.7 357.9 365 356.2C370.3 354.6 379.7 351.2 385 350C390.3 348.8 399.7 347.4 405 347C410.3 346.6 421.2 346.3 425 347C428.8 347.7 432.1 350.8 433.8 352.5C435.4 354.2 437.7 358 437.5 360C437.3 362 434.5 365.5 432.5 367.5C430.5 369.5 424.8 372.7 422.5 375C420.2 377.3 417 382 415 385C413 388 409.8 394.5 407.5 397.5C405.2 400.5 400.5 405.2 397.5 407.5C394.5 409.8 388 413 385 415C382 417 382.3 421.5 375 422.5C367.7 423.5 336.8 425.2 330 422.5C323.2 419.8 325.6 407 323.8 402.5C321.9 398 317.8 391.9 316.2 388.8C314.8 385.6 311.3 381.2 312.5 378.8Z" fill="#FFFF00"/>
<path d="M337.5 385C337.5 381.2 341.2 376.2 345 372.5C348.8 368.8 354.2 365.2 360 362.5C365.8 359.8 373.3 357.5 380 356.2C386.7 355 394.2 354.4 400 355C405.8 355.6 411.9 357.9 415 360C418.1 362.1 419.6 364.2 418.8 367.5C417.9 370.8 413.5 376.2 410 380C406.5 383.8 402.5 387.3 397.5 390C392.5 392.7 386.2 394.8 380 396.2C373.8 397.7 365.8 399 360 398.8C354.2 398.5 348.8 397.3 345 395C341.2 392.7 337.5 388.8 337.5 385Z" fill="#FF9900"/>
<path d="M356.2 375C356.7 372.3 359 369.8 362.5 367.5C366 365.2 372.1 362.5 377.5 361.2C382.9 360 390 359.4 395 360C400 360.6 405.2 362.9 407.5 365C409.8 367.1 410 369.8 408.8 372.5C407.5 375.2 404 379 400 381.2C396 383.5 390 385.2 385 386.2C380 387.3 374.2 387.9 370 387.5C365.8 387.1 362.3 385.8 360 383.8C357.7 381.7 355.8 377.7 356.2 375Z" fill="#FF0000"/>
<ellipse cx="386.2" cy="372.5" rx="13.8" ry="7" fill="#CC0000" transform="rotate(-15 386.2 372.5)"/>
<ellipse cx="388" cy="372.5" rx="3" ry="1.5" fill="#990000" transform="rotate(0 388 372.5)"/>
</g>
<use href="#ol" class="ol" transform="translate(122 48.5) scale(1.0000 1.0000)"/>
<path d="M111 48.5H122M111 71.7H122M111 94.8H122M111 118H122M111 141.1H122M111 164.3H122M111 187.4H122M111 210.6H122M111 233.8H122M111 256.9H122M111 280.1H122M111 303.2H122M111 326.4H122M111 349.5H122M111 372.7H122M111 395.8H122M111 419H122M122 419V430M154.1 419V430M186.2 419V430M218.4 419V430M250.5 419V430M282.6 419V430M314.8 419V430M346.9 419V430M379 419V430M411.1 419V430M443.2 419V430M475.4 419V430M507.5 419V430M539.6 419V430M571.8 419V430M603.9 419V430M636 419V430" stroke="#7f7f7f" stroke-width="2" fill="none"/>
<text x="105.5" y="55.7" class="e">52.06</text>
<text x="105.5" y="102" class="e">52.04</text>
<text x="105.5" y="148.3" class="e">52.03</text>
<text x="105.5" y="194.6" class="e">52.01</text>
<text x="105.5" y="240.9" class="e">52.00</text>
<text x="105.5" y="287.3" class="e">51.98</text>
<text x="105.5" y="333.6" class="e">51.96</text>
<text x="105.5" y="379.9" class="e">51.95</text>
<text x="105.5" y="426.2" class="e">51.93</text>
<text x="122" y="453.7" class="m">22.45</text>
<text x="186.2" y="453.7" class="m">22.47</text>
<text x="250.5" y="453.7" class="m">22.50</text>
<text x="314.8" y="453.7" class="m">22.52</text>
<text x="379" y="453.7" class="m">22.54</text>
<text x="443.2" y="453.7" class="m">22.56</text>
<text x="507.5" y="453.7" class="m">22.59</text>
<text x="571.8" y="453.7" class="m">22.61</text>
<text x="636" y="453.7" class="m">22.63</text>
<text x="378" y="482.2" class="m">Longitude (°)</text>
<text x="46.2" y="232" class="m" transform="rotate(-90 46.2 232)">Latitude (°)</text>
<rect x="648" y="108.8" width="19" height="21.6" fill="#9966CC"/>
<rect x="648" y="130.1" width="19" height="21.6" fill="#FF00FF"/>
<rect x="648" y="151.3" width="19" height="21.6" fill="#990000"/>
<rect x="648" y="172.7" width="19" height="21.6" fill="#CC0000"/>
<rect x="648" y="193.9" width="19" height="21.6" fill="#FF0000"/>
<rect x="648" y="215.2" width="19" height="21.6" fill="#FF9900"/>
<rect x="648" y="236.6" width="19" height="21.6" fill="#FFFF00"/>
<rect x="648" y="257.9" width="19" height="21.6" fill="#006600"/>
<rect x="648" y="279.1" width="19" height="21.6" fill="#009900"/>
<rect x="648" y="300.5" width="19" height="21.6" fill="#00CC00"/>
<rect x="648" y="321.8" width="19" height="21.6" fill="#00FF00"/>
<rect x="648" y="343.1" width="19" height="21.6" fill="#0000FF"/>
<rect x="648" y="364.4" width="19" height="21.6" fill="#0099FF"/>
<rect x="648" y="385.7" width="19" height="21.6" fill="#00CCFF"/>
<text x="696" y="93.5" style="font-size:19.5px">5.5</text>
<text x="696" y="114.8" style="font-size:19.5px">5.2</text>
<text x="696" y="136.1" style="font-size:19.5px">4.9</text>
<text x="696" y="157.4" style="font-size:19.5px">4.6</text>
<text x="696" y="178.7" style="font-size:19.5px">4.3</text>
<text x="696" y="200" style="font-size:19.5px">4.0</text>
<text x="696" y="221.3" style="font-size:19.5px">3.7</text>
<text x="696" y="242.6" style="font-size:19.5px">3.4</text>
<text x="696" y="263.9" style="font-size:19.5px">3.1</text>
<text x="696" y="285.2" style="font-size:19.5px">2.8</text>
<text x="696" y="306.5" style="font-size:19.5px">2.5</text>
<text x="696" y="327.8" style="font-size:19.5px">2.2</text>
<text x="696" y="349.1" style="font-size:19.5px">1.9</text>
<text x="696" y="370.4" style="font-size:19.5px">1.6</text>
<text x="696" y="391.7" style="font-size:19.5px">1.3</text>
<text x="696" y="413" style="font-size:19.5px">1.0</text>
<text x="661" y="57" class="b" style="font-size:20.5px">K (m/day)</text>
</g>
<g id="p02" filter="url(#bl)">
<clipPath id="c2"><rect x="895" y="34" width="512.5" height="378.5"/></clipPath>
<g clip-path="url(#c2)">
<rect x="895" y="34" width="512.5" height="378.5" fill="#FFFF00"/>
<path d="M890 30C904.8 20.7 1022.5 28.8 1037.5 30C1052.5 31.2 1038.8 40.1 1040 42.5C1041.2 44.9 1047.5 52.1 1050 53.8C1052.5 55.4 1061.5 58 1065 58.8C1068.5 59.5 1082.1 60.1 1085 61.2C1087.9 62.4 1092.5 66.9 1093.8 70C1095 73.1 1095.9 88 1097.5 92.5C1099.1 97 1111.8 111.9 1110 114.5C1108.2 117.1 1085.5 117.5 1080 118.8C1074.5 120 1058.6 125.9 1055 127.5C1051.4 129.1 1045.8 135.2 1043.8 135C1041.8 134.8 1037.4 126.6 1035 125C1032.6 123.4 1024.2 119.6 1020 118.8C1015.8 117.9 999 116.5 992.5 116.2C986 116 962.5 115.8 955 116.2C947.5 116.8 924 120.6 917.5 121.2C911 121.9 892.8 132.1 890 123C887.2 113.9 875.2 39.3 890 30Z" fill="#006600"/>
<path d="M890 30C903 21.5 1007.4 27.2 1020 30C1032.6 32.8 1016.4 52.8 1016.2 57.5C1016.1 62.2 1017.4 74.4 1018.8 77.5C1020.1 80.6 1026.6 87.2 1030 88.8C1033.4 90.2 1048.2 93.1 1052.5 92.5C1056.8 91.9 1069.5 83.4 1072.5 82.5C1075.5 81.6 1081.4 82.5 1082.5 83.8C1083.6 85 1084.5 92.8 1083.8 95C1083 97.2 1077.9 104.8 1075 106.2C1072.1 107.8 1059.5 109.9 1055 110C1050.5 110.1 1035 107.6 1030 107.5C1025 107.4 1010 108.9 1005 108.8C1000 108.6 985 106.2 980 106.2C975 106.2 960 108.2 955 108.8C950 109.3 936.5 111.4 930 112C923.5 112.6 894 123.2 890 115C886 106.8 877 38.5 890 30Z" fill="#009900"/>
<path d="M902.5 30C921.2 25.4 996.2 25.4 1015 30C1033.8 34.6 1015.6 48.3 1015 57.5C1014.4 66.7 1013.8 77.7 1011.2 85C1008.8 92.3 1005.2 97.5 1000 101.2C994.8 105 987.5 106.7 980 107.5C972.5 108.3 963.3 107.5 955 106.2C946.7 105 937.3 103.5 930 100C922.7 96.5 915.8 92.1 911.2 85C906.7 77.9 904 66.7 902.5 57.5C901 48.3 883.8 34.6 902.5 30Z" fill="#00CC00"/>
<path d="M913.8 30C928.8 25.8 988.5 25.4 1003.8 30C1019 34.6 1005.3 48.8 1005 57.5C1004.7 66.2 1004.1 76 1002 82.5C999.9 89 997 92.9 992.5 96.2C988 99.6 981.2 102 975 102.5C968.8 103 961.5 101.6 955 99.5C948.5 97.4 941.9 94.3 936.2 90C930.6 85.7 925 79.6 921.2 73.8C917.5 67.9 915 62.3 913.8 55C912.5 47.7 898.8 34.2 913.8 30Z" fill="#00FF00"/>
<path d="M946.2 30C954.2 27.5 980.2 25.4 987.5 30C994.8 34.6 989.8 49.6 990 57.5C990.2 65.4 990 72.3 988.8 77.5C987.5 82.7 985.6 86 982.5 88.8C979.4 91.5 974.6 94.4 970 93.8C965.4 93.1 959.6 88.5 955 85C950.4 81.5 945.6 77.1 942.5 72.5C939.4 67.9 936.7 62.1 936.2 57.5C935.8 52.9 938.3 49.6 940 45C941.7 40.4 938.3 32.5 946.2 30Z" fill="#0000FF"/>
<path d="M1166.2 30C1191.5 25.8 1294.4 27.1 1321.2 30C1348.1 32.9 1325.4 40.8 1327.5 47.5C1329.6 54.2 1332.9 62.5 1333.8 70C1334.6 77.5 1334.8 85.8 1332.5 92.5C1330.2 99.2 1325.4 105.4 1320 110C1314.6 114.6 1307.5 117.1 1300 120C1292.5 122.9 1283.3 125.6 1275 127.5C1266.7 129.4 1257.5 131 1250 131.2C1242.5 131.5 1236.7 131 1230 128.8C1223.3 126.5 1216.2 122.3 1210 117.5C1203.8 112.7 1197.9 106.7 1192.5 100C1187.1 93.3 1181.2 85 1177.5 77.5C1173.8 70 1171.9 62.9 1170 55C1168.1 47.1 1141 34.2 1166.2 30Z" fill="#006600"/>
<path d="M1185 30C1205.8 25.4 1290.8 25.4 1312.5 30C1334.2 34.6 1315.4 48.3 1315 57.5C1314.6 66.7 1313.3 77.1 1310 85C1306.7 92.9 1300.8 99.6 1295 105C1289.2 110.4 1282.5 114.6 1275 117.5C1267.5 120.4 1257.5 122.3 1250 122.5C1242.5 122.7 1236.2 121.7 1230 118.8C1223.8 115.8 1217.9 111 1212.5 105C1207.1 99 1201.7 90.4 1197.5 82.5C1193.3 74.6 1189.6 66.2 1187.5 57.5C1185.4 48.8 1164.2 34.6 1185 30Z" fill="#009900"/>
<path d="M1206.2 30C1222.3 26.7 1284.4 26.2 1300 30C1315.6 33.8 1300.4 45 1300 52.5C1299.6 60 1299.6 67.9 1297.5 75C1295.4 82.1 1291.7 89.2 1287.5 95C1283.3 100.8 1278.8 106.5 1272.5 110C1266.2 113.5 1257.1 116 1250 116.2C1242.9 116.5 1235.8 114.8 1230 111.2C1224.2 107.7 1219.2 101.9 1215 95C1210.8 88.1 1206.9 77.5 1205 70C1203.1 62.5 1203.5 56.7 1203.8 50C1204 43.3 1190.2 33.3 1206.2 30Z" fill="#00CC00"/>
<path d="M1220 47.5C1224.2 45.8 1232.9 45 1240 45C1247.1 45 1255.8 45 1262.5 47.5C1269.2 50 1276.5 54.6 1280 60C1283.5 65.4 1284 73.8 1283.8 80C1283.5 86.2 1281.9 92.5 1278.8 97.5C1275.6 102.5 1270.2 107.3 1265 110C1259.8 112.7 1253.3 114 1247.5 113.8C1241.7 113.5 1235 112.3 1230 108.8C1225 105.2 1220.4 99 1217.5 92.5C1214.6 86 1212.9 76.2 1212.5 70C1212.1 63.8 1213.8 58.8 1215 55C1216.2 51.2 1215.8 49.2 1220 47.5Z" fill="#00FF00"/>
<path d="M1226.2 92.5C1226.5 88.8 1226.5 83.1 1228.8 80C1231 76.9 1235.6 75.2 1240 73.8C1244.4 72.3 1250.8 70.4 1255 71.2C1259.2 72.1 1262.9 75.2 1265 78.8C1267.1 82.3 1267.9 88.1 1267.5 92.5C1267.1 96.9 1265.4 102 1262.5 105C1259.6 108 1254.6 109.7 1250 110.5C1245.4 111.3 1238.8 111.3 1235 110C1231.2 108.7 1229 105.4 1227.5 102.5C1226 99.6 1226 96.2 1226.2 92.5Z" fill="#0000FF"/>
<path d="M890 143.8C893.2 135.4 909.9 137.9 917.5 136.2C925.1 134.6 946.2 130.7 955 130C963.8 129.3 984.9 129.6 992.5 130C1000.1 130.4 1014.2 132.3 1020 133.8C1025.8 135.2 1037.8 142.1 1042.5 142.5C1047.2 142.9 1055.6 138.5 1060 137.5C1064.4 136.5 1075.6 133.5 1080 133.8C1084.4 134 1094 138.4 1097.5 140C1101 141.6 1108 147.2 1110 147.5C1112 147.8 1114.1 141 1115 142.5C1115.9 144 1116.5 154.5 1117.5 160C1118.5 165.5 1123.5 184.2 1123.8 190C1124 195.8 1121.3 205.6 1120 210C1118.7 214.4 1115.1 223.7 1112.5 227.5C1109.9 231.3 1102.5 239.6 1097.5 242.5C1092.5 245.4 1076.4 251.2 1070 252.5C1063.6 253.8 1048.6 253.9 1042.5 253.8C1036.4 253.6 1023.3 252.1 1017.5 251.2C1011.7 250.4 998.3 247.9 992.5 246.2C986.7 244.6 973.3 240 967.5 237.5C961.7 235 948.3 227.6 942.5 225C936.7 222.4 923.6 217 917.5 215C911.4 213 893.2 215.8 890 207.5C886.8 199.2 886.8 152.1 890 143.8Z" fill="#FF9900"/>
<path d="M890 182.5C892.5 176.5 900 170.4 905 165C910 159.6 913.3 154.2 920 150C926.7 145.8 935 142.5 945 140C955 137.5 969.2 135.4 980 135C990.8 134.6 1000.8 135.8 1010 137.5C1019.2 139.2 1027.5 144 1035 145C1042.5 146 1047.9 144.2 1055 143.8C1062.1 143.3 1070.8 141.5 1077.5 142.5C1084.2 143.5 1090 146.2 1095 150C1100 153.8 1104.6 159.2 1107.5 165C1110.4 170.8 1111.9 178.3 1112.5 185C1113.1 191.7 1112.9 198.3 1111.2 205C1109.6 211.7 1106.9 219.2 1102.5 225C1098.1 230.8 1092.1 236.2 1085 240C1077.9 243.8 1069.2 246.5 1060 247.5C1050.8 248.5 1040 247.1 1030 246.2C1020 245.4 1009.2 244.8 1000 242.5C990.8 240.2 983.3 236.7 975 232.5C966.7 228.3 958.3 221.7 950 217.5C941.7 213.3 935 210.2 925 207.5C915 204.8 895.8 205.4 890 201.2C884.2 197.1 887.5 188.5 890 182.5Z" fill="#FF0000"/>
<path d="M913.8 192.5C912.9 187.1 919.8 176.7 925 170C930.2 163.3 936.7 157.1 945 152.5C953.3 147.9 965 144.2 975 142.5C985 140.8 996.7 140.8 1005 142.5C1013.3 144.2 1019.2 152.1 1025 152.5C1030.8 152.9 1034.2 145.8 1040 145C1045.8 144.2 1053.3 146.7 1060 147.5C1066.7 148.3 1074.2 147.5 1080 150C1085.8 152.5 1091.2 157.1 1095 162.5C1098.8 167.9 1101.7 175.4 1102.5 182.5C1103.3 189.6 1102.1 197.9 1100 205C1097.9 212.1 1095 219.6 1090 225C1085 230.4 1077.5 235 1070 237.5C1062.5 240 1054.2 240 1045 240C1035.8 240 1024.2 238.8 1015 237.5C1005.8 236.2 996.7 235.4 990 232.5C983.3 229.6 980.8 224.2 975 220C969.2 215.8 962.5 210.4 955 207.5C947.5 204.6 936.9 205 930 202.5C923.1 200 914.6 197.9 913.8 192.5Z" fill="#CC0000"/>
<path d="M933.8 182.5C934.6 177.9 939.8 170 945 165C950.2 160 957.5 155.6 965 152.5C972.5 149.4 982.5 146.7 990 146.2C997.5 145.8 1004.6 147.3 1010 150C1015.4 152.7 1019.6 157.5 1022.5 162.5C1025.4 167.5 1024.6 176.7 1027.5 180C1030.4 183.3 1035.4 183.3 1040 182.5C1044.6 181.7 1049.2 176.5 1055 175C1060.8 173.5 1069.2 172.5 1075 173.8C1080.8 175 1086.7 178.1 1090 182.5C1093.3 186.9 1095.4 194.2 1095 200C1094.6 205.8 1091.2 212.5 1087.5 217.5C1083.8 222.5 1078.8 227.1 1072.5 230C1066.2 232.9 1058.8 234.4 1050 235C1041.2 235.6 1029.2 234.6 1020 233.8C1010.8 232.9 1001.7 232.7 995 230C988.3 227.3 983.8 222.1 980 217.5C976.2 212.9 976.7 206.2 972.5 202.5C968.3 198.8 960.4 196.7 955 195C949.6 193.3 943.5 194.6 940 192.5C936.5 190.4 932.9 187.1 933.8 182.5Z" fill="#990000"/>
<path d="M947.5 178.8C947.5 175.8 950.4 172.5 955 170C959.6 167.5 969.6 166.9 975 163.8C980.4 160.6 983.3 153.5 987.5 151.2C991.7 149 996.2 148.5 1000 150C1003.8 151.5 1007.7 155.8 1010 160C1012.3 164.2 1013.8 170.4 1013.8 175C1013.8 179.6 1012.7 184.4 1010 187.5C1007.3 190.6 1002.1 192.9 997.5 193.8C992.9 194.6 986.7 192.5 982.5 192.5C978.3 192.5 977.1 194.6 972.5 193.8C967.9 192.9 959.2 190 955 187.5C950.8 185 947.5 181.7 947.5 178.8Z" fill="#FF00FF"/>
<path d="M991.2 215.8C991.2 213.6 993.1 210.8 995 209.5C996.9 208.2 1000.2 207.3 1002.5 208C1004.8 208.7 1007.7 211.8 1008.8 213.8C1009.8 215.8 1009.8 218.3 1008.8 220C1007.7 221.7 1004.8 223.3 1002.5 223.8C1000.2 224.2 996.9 223.8 995 222.5C993.1 221.2 991.2 217.9 991.2 215.8Z" fill="#FF00FF"/>
<path d="M1035.5 220C1035.9 216.2 1040.9 210.4 1045 205C1049.1 199.6 1055.8 191 1060 187.5C1064.2 184 1065.8 183.8 1070 183.8C1074.2 183.8 1081.3 185.2 1085 187.5C1088.7 189.8 1091.6 193.3 1092 197.5C1092.4 201.7 1090.3 208.1 1087.5 212.5C1084.7 216.9 1080.4 221 1075 223.8C1069.6 226.5 1060.4 228.1 1055 228.8C1049.6 229.4 1045.8 229 1042.5 227.5C1039.2 226 1035.1 223.8 1035.5 220Z" fill="#FF00FF"/>
<path d="M1053.8 212.5C1054.2 209.4 1057.3 201.7 1060 198.8C1062.7 195.8 1066.9 195.2 1070 195C1073.1 194.8 1077.9 195.4 1078.8 197.5C1079.6 199.6 1077.3 204.4 1075 207.5C1072.7 210.6 1067.9 214.6 1065 216.2C1062.1 217.9 1059.4 218.1 1057.5 217.5C1055.6 216.9 1053.3 215.6 1053.8 212.5Z" fill="#9966CC"/>
<path d="M1130 41.2C1132.3 41.2 1139.9 44.7 1142.5 47.5C1145.1 50.3 1150.5 60 1152.5 65C1154.5 70 1158.2 84.5 1160 90C1161.8 95.5 1164.6 108.7 1167.5 112.5C1170.4 116.3 1180.6 120.2 1185 122.5C1189.4 124.8 1199.8 130.5 1205 132.5C1210.2 134.5 1224.2 139.4 1230 140C1235.8 140.6 1248.3 139 1255 137.5C1261.7 136 1280.8 129.8 1287.5 127.5C1294.2 125.2 1307.2 120.4 1312.5 117.5C1317.8 114.6 1328.7 106.3 1332.5 102.5C1336.3 98.7 1342.1 89.4 1345 85C1347.9 80.6 1355.2 69.4 1357.5 65C1359.8 60.6 1365.9 51.6 1365 47.5C1364.1 43.4 1344.5 32 1350 30C1355.5 28 1405.2 9.6 1412.5 30C1419.8 50.4 1414.2 183.1 1412.5 205C1410.8 226.9 1400.7 212.8 1397.5 217.5C1394.3 222.2 1387.9 240 1385 245C1382.1 250 1375.4 257.4 1372.5 260C1369.6 262.6 1362.6 268.1 1360 267.5C1357.4 266.9 1354.1 257.6 1350 255C1345.9 252.4 1330.8 246.8 1325 245C1319.2 243.2 1305.8 240.9 1300 240C1294.2 239.1 1280.2 238.1 1275 237.5C1269.8 236.9 1258.2 234.1 1255 235C1251.8 235.9 1249.2 244.1 1247.5 245C1245.8 245.9 1241.5 244 1240 242.5C1238.5 241 1236.5 232.2 1235 232.5C1233.5 232.8 1229 242.7 1227.5 245C1226 247.3 1224.2 253.4 1222.5 252.5C1220.8 251.6 1215.1 240.4 1212.5 237.5C1209.9 234.6 1203.8 228.1 1200 227.5C1196.2 226.9 1184.4 232.5 1180 232.5C1175.6 232.5 1166 229.2 1162.5 227.5C1159 225.8 1152.9 219.8 1150 217.5C1147.1 215.2 1139.5 210.1 1137.5 207.5C1135.5 204.9 1131.6 197.6 1132.5 195C1133.4 192.4 1141.8 187.3 1145 185C1148.2 182.7 1158.5 178.5 1160 175C1161.5 171.5 1158.7 159.7 1157.5 155C1156.3 150.3 1152.3 139.1 1150 135C1147.7 130.9 1140.4 123.8 1137.5 120C1134.6 116.2 1127.3 106.9 1125 102.5C1122.7 98.1 1118.5 87.2 1117.5 82.5C1116.5 77.8 1115.7 66.6 1116.2 62.5C1116.8 58.4 1120.9 50 1122.5 47.5C1124.1 45 1127.7 41.2 1130 41.2Z" fill="#FF9900"/>
<path d="M1372.5 106.2C1374.6 103.2 1381.2 97.5 1387.5 92.5C1393.8 87.5 1406.2 76.5 1410 76.2C1413.8 76 1412.5 86.9 1410 91.2C1407.5 95.6 1400.8 99.3 1395 102.5C1389.2 105.7 1378.8 109.9 1375 110.5C1371.2 111.1 1370.4 109.2 1372.5 106.2Z" fill="#FFFF00"/>
<path d="M1390 45C1390.4 43.1 1396.7 37.5 1400 35C1403.3 32.5 1408.3 29.4 1410 30C1411.7 30.6 1412.1 36 1410 38.8C1407.9 41.5 1400.8 45.2 1397.5 46.2C1394.2 47.3 1389.6 46.9 1390 45Z" fill="#FFFF00"/>
<path d="M1128 86.2C1128 82.7 1129.2 78.6 1131.2 76.2C1133.2 73.9 1137.1 71.8 1140 72C1142.9 72.2 1146.8 74.5 1148.8 77.5C1150.8 80.5 1152.2 86 1152 90C1151.8 94 1149.7 99 1147.5 101.2C1145.3 103.5 1141.5 104.4 1138.8 103.8C1136 103.1 1133 100.4 1131.2 97.5C1129.5 94.6 1128 89.8 1128 86.2Z" fill="#FF0000"/>
<path d="M1370 82.5C1370.2 79.5 1372.9 72.9 1375 70C1377.1 67.1 1381 64.4 1382.5 65C1384 65.6 1384.4 70.6 1383.8 73.8C1383.1 76.9 1380.4 81.4 1378.8 83.8C1377.1 86.1 1375.2 88.2 1373.8 88C1372.3 87.8 1369.8 85.5 1370 82.5Z" fill="#FF0000"/>
<path d="M1168.8 130C1169.4 127 1174.7 122.8 1177.5 122.5C1180.3 122.2 1187.3 124.5 1190 127.5C1192.7 130.5 1195.5 140 1197.5 145C1199.5 150 1202 163 1205 165C1208 167 1215.3 162.7 1220 160C1224.7 157.3 1233.3 148.3 1240 145C1246.7 141.7 1262 136.7 1270 135C1278 133.3 1292 133.2 1300 132.5C1308 131.8 1322.7 130.7 1330 130C1337.3 129.3 1349.3 126.5 1355 127.5C1360.7 128.5 1368.5 133.8 1372.5 137.5C1376.5 141.2 1382.3 150 1385 155C1387.7 160 1391.2 169.7 1392.5 175C1393.8 180.3 1395.3 189.7 1395 195C1394.7 200.3 1392 210.3 1390 215C1388 219.7 1383.3 226.7 1380 230C1376.7 233.3 1369.7 238.7 1365 240C1360.3 241.3 1350.3 241 1345 240C1339.7 239 1331 234.5 1325 232.5C1319 230.5 1306.7 226.7 1300 225C1293.3 223.3 1280.7 221.3 1275 220C1269.3 218.7 1262.2 217 1257.5 215C1252.8 213 1244.3 207 1240 205C1235.7 203 1229 200.3 1225 200C1221 199.7 1213.3 200.5 1210 202.5C1206.7 204.5 1203.3 212 1200 215C1196.7 218 1189.3 224 1185 225C1180.7 226 1171.5 224.5 1167.5 222.5C1163.5 220.5 1157.3 213.7 1155 210C1152.7 206.3 1149.3 198.3 1150 195C1150.7 191.7 1156.7 187.7 1160 185C1163.3 182.3 1172.7 178.3 1175 175C1177.3 171.7 1177.8 164 1177.5 160C1177.2 156 1173.7 149 1172.5 145C1171.3 141 1168.1 133 1168.8 130Z" fill="#FF0000"/>
<path d="M1158.8 205C1159.6 201.7 1163.5 197.1 1167.5 195C1171.5 192.9 1177.9 191.7 1182.5 192.5C1187.1 193.3 1193.8 196.7 1195 200C1196.2 203.3 1193.3 209.6 1190 212.5C1186.7 215.4 1179.6 217.1 1175 217.5C1170.4 217.9 1165.2 217.1 1162.5 215C1159.8 212.9 1157.9 208.3 1158.8 205Z" fill="#CC0000"/>
<path d="M1230 175C1230.8 170 1235 164.2 1240 160C1245 155.8 1252.1 152.1 1260 150C1267.9 147.9 1278.3 147.5 1287.5 147.5C1296.7 147.5 1306.7 149.2 1315 150C1323.3 150.8 1330 150 1337.5 152.5C1345 155 1353.8 159.6 1360 165C1366.2 170.4 1371.7 178.3 1375 185C1378.3 191.7 1380.4 198.8 1380 205C1379.6 211.2 1376.2 217.9 1372.5 222.5C1368.8 227.1 1363.3 231.2 1357.5 232.5C1351.7 233.8 1344.6 232.1 1337.5 230C1330.4 227.9 1322.9 222.9 1315 220C1307.1 217.1 1297.9 214.6 1290 212.5C1282.1 210.4 1274.2 209.6 1267.5 207.5C1260.8 205.4 1255.4 202.9 1250 200C1244.6 197.1 1238.3 194.2 1235 190C1231.7 185.8 1229.2 180 1230 175Z" fill="#CC0000"/>
<path d="M1245 175C1244.2 170 1248.3 165.8 1252.5 162.5C1256.7 159.2 1262.9 156.2 1270 155C1277.1 153.8 1286.7 154.2 1295 155C1303.3 155.8 1312.5 157.5 1320 160C1327.5 162.5 1333.8 165.8 1340 170C1346.2 174.2 1352.5 180 1357.5 185C1362.5 190 1367.5 195 1370 200C1372.5 205 1374.2 210.8 1372.5 215C1370.8 219.2 1365 223.8 1360 225C1355 226.2 1348.3 224.6 1342.5 222.5C1336.7 220.4 1332.1 215.4 1325 212.5C1317.9 209.6 1308.3 207.1 1300 205C1291.7 202.9 1282.1 202.1 1275 200C1267.9 197.9 1262.5 196.7 1257.5 192.5C1252.5 188.3 1245.8 180 1245 175Z" fill="#990000"/>
<path d="M1262.5 170C1262.5 168.7 1268.3 166.8 1270 167.5C1271.7 168.2 1272.3 173.7 1275 175C1277.7 176.3 1285.3 177.5 1290 177.5C1294.7 177.5 1305.3 174.7 1310 175C1314.7 175.3 1321.7 177.3 1325 180C1328.3 182.7 1331.7 192.3 1335 195C1338.3 197.7 1346.3 198 1350 200C1353.7 202 1361.2 207.7 1362.5 210C1363.8 212.3 1362 216 1360 217.5C1358 219 1350.5 221.9 1347.5 221.2C1344.5 220.6 1340.2 215.3 1337.5 212.5C1334.8 209.7 1330.8 202.7 1327.5 200C1324.2 197.3 1316.8 193.5 1312.5 192.5C1308.2 191.5 1299.3 193.5 1295 192.5C1290.7 191.5 1283.3 187 1280 185C1276.7 183 1272.3 179.5 1270 177.5C1267.7 175.5 1262.5 171.3 1262.5 170Z" fill="#FF00FF"/>
<path d="M1137.5 170C1137.9 168.2 1140.8 166.8 1142.5 167C1144.2 167.2 1146.2 169.5 1147.5 171.2C1148.8 173 1150.6 176.7 1150 177.5C1149.4 178.3 1145.4 176.2 1143.8 176.2C1142.1 176.2 1141 178.5 1140 177.5C1139 176.5 1137.1 171.8 1137.5 170Z" fill="#006600"/>
<path d="M890 243.8C892.8 226 912.2 242.1 917.5 242.5C922.8 242.9 938 246.2 942.5 247.5C947 248.8 958.8 253.5 962.5 255C966.2 256.5 975.8 262 980 262.5C984.2 263 1000 260.9 1005 260C1010 259.1 1025 254.5 1030 253.8C1035 253 1050 252.9 1055 252.5C1060 252.1 1075 250.9 1080 250C1085 249.1 1100.2 245.1 1105 243.8C1109.8 242.4 1122.5 236.6 1127.5 236.2C1132.5 235.9 1149.8 239 1155 240C1160.2 241 1175.5 246.2 1180 246.2C1184.5 246.2 1196.5 239.4 1200 240C1203.5 240.6 1212.2 250.4 1215 252.5C1217.8 254.6 1225.9 260.5 1227.5 261.2C1229.1 262 1230.5 261.6 1231.2 260C1232 258.4 1234.1 245.6 1235 245.5C1235.9 245.4 1238.5 258.3 1240 259.5C1241.5 260.7 1246.5 257.4 1250 257.5C1253.5 257.6 1270 259.8 1275 260C1280 260.2 1295 259.8 1300 260C1305 260.2 1320.5 261.5 1325 262.5C1329.5 263.5 1341.8 268.2 1345 270C1348.2 271.8 1354.8 277.9 1357.5 280C1360.2 282.1 1370 291.2 1372.5 291.2C1375 291.2 1380.5 283.6 1382.5 280C1384.5 276.4 1390.8 260 1392.5 255C1394.2 250 1398 233.5 1400 230C1402 226.5 1411.2 201 1412.5 220C1413.8 239 1464.8 400 1412.5 420C1360.2 440 942.2 437.6 890 420C837.8 402.4 887.2 261.5 890 243.8Z" fill="#006600"/>
<path d="M890 252.5C892.8 235.8 912.2 252.2 917.5 252.5C922.8 252.8 937.8 253.5 942.5 255C947.2 256.5 960.8 265.9 965 267.5C969.2 269.1 980.5 271.5 985 271.2C989.5 271 1005 266.1 1010 265C1015 263.9 1030 260.5 1035 260C1040 259.5 1055 260.2 1060 260C1065 259.8 1080 258.2 1085 257.5C1090 256.8 1105.5 253.5 1110 252.5C1114.5 251.5 1125.5 247.9 1130 247.5C1134.5 247.1 1150 248.1 1155 248.8C1160 249.4 1175.5 253.6 1180 253.8C1184.5 253.9 1196.2 249.4 1200 250C1203.8 250.6 1214.5 258.2 1217.5 260C1220.5 261.8 1226.8 266.8 1230 267.5C1233.2 268.2 1246.8 266.8 1250 267.5C1253.2 268.2 1260 273.2 1262.5 275C1265 276.8 1271.2 283 1275 285C1278.8 287 1297.2 293.5 1300 295C1302.8 296.5 1303 297.5 1302.5 300C1302 302.5 1295.2 316.5 1295 320C1294.8 323.5 1297 330.5 1300 335C1303 339.5 1320 359.2 1325 365C1330 370.8 1345.5 387 1350 392.5C1354.5 398 1416 417.2 1370 420C1324 422.8 938 436.8 890 420C842 403.2 887.2 269.2 890 252.5Z" fill="#009900"/>
<path d="M890 265C892.8 249.6 912.8 265.5 917.5 266.2C922.2 267 933.8 270.6 937.5 272.5C941.2 274.4 951.8 282.5 955 285C958.2 287.5 967 297 970 297.5C973 298 982 292 985 290C988 288 996.5 279.8 1000 277.5C1003.5 275.2 1014.5 268.8 1020 267.5C1025.5 266.2 1047.8 265.4 1055 265C1062.2 264.6 1085 264.5 1092.5 263.8C1100 263 1123.8 258.1 1130 257.5C1136.2 256.9 1150 256.8 1155 257.5C1160 258.2 1175 264.5 1180 265C1185 265.5 1200.5 262.2 1205 262.5C1209.5 262.8 1222 266 1225 267.5C1228 269 1232.5 275.8 1235 277.5C1237.5 279.2 1247.2 282.8 1250 285C1252.8 287.2 1260 296.5 1262.5 300C1265 303.5 1272.2 316 1275 320C1277.8 324 1286.5 335.5 1290 340C1293.5 344.5 1305.8 360 1310 365C1314.2 370 1328 384.5 1332.5 390C1337 395.5 1399.2 417 1355 420C1310.8 423 936.5 435.5 890 420C843.5 404.5 887.2 280.4 890 265Z" fill="#00CC00"/>
<path d="M890 280C894 266.8 924 287 930 287.5C936 288 946.8 284 950 285C953.2 286 959.5 294.5 962.5 297.5C965.5 300.5 977.5 315 980 315C982.5 315 985.5 301 987.5 297.5C989.5 294 997.2 282.8 1000 280C1002.8 277.2 1011.5 271.4 1015 270C1018.5 268.6 1028.5 266.5 1035 266.2C1041.5 266 1071.8 267.9 1080 267.5C1088.2 267.1 1111.2 263 1117.5 262.5C1123.8 262 1138 261.2 1142.5 262.5C1147 263.8 1159.2 272.2 1162.5 275C1165.8 277.8 1171.8 287.8 1175 290C1178.2 292.2 1192 298.5 1195 297.5C1198 296.5 1205.2 282.8 1205 280C1204.8 277.2 1191.2 271 1192.5 270C1193.8 269 1213.2 269.5 1217.5 270C1221.8 270.5 1232.8 273.2 1235 275C1237.2 276.8 1238.5 284.8 1240 287.5C1241.5 290.2 1248 299 1250 302.5C1252 306 1257.5 318.5 1260 322.5C1262.5 326.5 1272 338.8 1275 342.5C1278 346.2 1286.2 356 1290 360C1293.8 364 1308.2 378.2 1312.5 382.5C1316.8 386.8 1329.2 398.8 1332.5 402.5C1335.8 406.2 1389.2 418.2 1345 420C1300.8 421.8 935.5 434 890 420C844.5 406 886 293.2 890 280Z" fill="#00FF00"/>
<path d="M942.5 335C943.2 332.2 950 327.5 952.5 327.5C955 327.5 964.8 335.8 967.5 335C970.2 334.2 978 319.5 980 320C982 320.5 986.2 335.5 987.5 340C988.8 344.5 991.5 360.5 992.5 365C993.5 369.5 995.8 383.8 997.5 385C999.2 386.2 1007.8 379.8 1010 377.5C1012.2 375.2 1017 365 1020 362.5C1023 360 1035 354.5 1040 352.5C1045 350.5 1063.5 344.2 1070 342.5C1076.5 340.8 1099 336.8 1105 335C1111 333.2 1126.5 327 1130 325C1133.5 323 1137.5 317.5 1140 315C1142.5 312.5 1151.5 301.8 1155 300C1158.5 298.2 1171.8 296.5 1175 297.5C1178.2 298.5 1186.5 306.2 1187.5 310C1188.5 313.8 1185.8 330 1185 335C1184.2 340 1181.5 355.5 1180 360C1178.5 364.5 1172.5 376.2 1170 380C1167.5 383.8 1157.5 393.5 1155 397.5C1152.5 401.5 1165.2 417.8 1145 420C1124.8 422.2 972 424 952.5 420C933 416 950.8 386.5 950 380C949.2 373.5 945.8 359.5 945 355C944.2 350.5 941.8 337.8 942.5 335Z" fill="#00CC00"/>
<path d="M952.5 420C945.4 412.5 953.3 385.8 955 375C956.7 364.2 958.3 357.5 962.5 355C966.7 352.5 975.4 355.8 980 360C984.6 364.2 987.1 370 990 380C992.9 390 1003.8 413.3 997.5 420C991.2 426.7 959.6 427.5 952.5 420Z" fill="#009900"/>
<path d="M1025 420C1009.6 415.8 1030.8 402.1 1035 395C1039.2 387.9 1043.3 382.5 1050 377.5C1056.7 372.5 1065.8 368.8 1075 365C1084.2 361.2 1095.8 357.1 1105 355C1114.2 352.9 1124.6 350.8 1130 352.5C1135.4 354.2 1135.8 359.6 1137.5 365C1139.2 370.4 1141.2 378.3 1140 385C1138.8 391.7 1132.1 399.2 1130 405C1127.9 410.8 1145 417.5 1127.5 420C1110 422.5 1040.4 424.2 1025 420Z" fill="#009900"/>
<path d="M1065 380C1067.9 376.2 1074.2 373.3 1080 372.5C1085.8 371.7 1094.2 376.2 1100 375C1105.8 373.8 1110.4 366.7 1115 365C1119.6 363.3 1125 362.5 1127.5 365C1130 367.5 1131.2 374.6 1130 380C1128.8 385.4 1122.1 390.8 1120 397.5C1117.9 404.2 1126.7 416.2 1117.5 420C1108.3 423.8 1074.2 424.2 1065 420C1055.8 415.8 1062.5 401.7 1062.5 395C1062.5 388.3 1062.1 383.8 1065 380Z" fill="#006600"/>
<path d="M1078.8 400C1079.6 397.3 1084.8 393.8 1087.5 393.8C1090.2 393.8 1094.2 397.5 1095 400C1095.8 402.5 1094.6 407.1 1092.5 408.8C1090.4 410.4 1084.8 411.5 1082.5 410C1080.2 408.5 1077.9 402.7 1078.8 400Z" fill="#009900"/>
<path d="M1137.5 342.5C1135.4 337.1 1141.7 326.7 1145 320C1148.3 313.3 1152.5 305.8 1157.5 302.5C1162.5 299.2 1170.8 298.3 1175 300C1179.2 301.7 1181.2 307.5 1182.5 312.5C1183.8 317.5 1183.8 325 1182.5 330C1181.2 335 1179.2 338.8 1175 342.5C1170.8 346.2 1163.8 352.5 1157.5 352.5C1151.2 352.5 1139.6 347.9 1137.5 342.5Z" fill="#009900"/>
<path d="M1142.5 341.2C1141.7 337.3 1146.7 328.5 1150 322.5C1153.3 316.5 1158.1 307.3 1162.5 305C1166.9 302.7 1173.5 305.4 1176.2 308.8C1179 312.1 1179.6 320 1178.8 325C1177.9 330 1175.2 335.2 1171.2 338.8C1167.3 342.3 1159.8 345.8 1155 346.2C1150.2 346.7 1143.3 345.2 1142.5 341.2Z" fill="#006600"/>
<path d="M1151.2 318.8C1151 315.6 1152.9 313 1155 311.2C1157.1 309.5 1161 307.8 1163.8 308C1166.5 308.2 1170 310.1 1171.2 312.5C1172.5 314.9 1172.3 319.7 1171.2 322.5C1170.2 325.3 1167.5 328.2 1165 329.5C1162.5 330.8 1158.5 331.8 1156.2 330C1154 328.2 1151.5 321.9 1151.2 318.8Z" fill="#FFFF00"/>
<path d="M1158 318C1158.1 317 1160.3 315.4 1161.2 315.5C1162.2 315.6 1163.8 317.8 1163.8 318.8C1163.7 319.7 1161.7 321.4 1160.8 321.2C1159.8 321.1 1157.9 319 1158 318Z" fill="#FF9900"/>
<path d="M890 282.5C894.6 260 911.2 282.9 917.5 285C923.8 287.1 925.4 290.8 927.5 295C929.6 299.2 930.8 304.2 930 310C929.2 315.8 922.9 322.5 922.5 330C922.1 337.5 925.8 346.7 927.5 355C929.2 363.3 932.1 369.2 932.5 380C932.9 390.8 937.1 413.3 930 420C922.9 426.7 896.7 442.9 890 420C883.3 397.1 885.4 305 890 282.5Z" fill="#0000FF"/>
<path d="M890 320C892.9 305 902.9 325 907.5 330C912.1 335 915.4 342.5 917.5 350C919.6 357.5 920.4 367.5 920 375C919.6 382.5 916.7 387.5 915 395C913.3 402.5 914.2 415.8 910 420C905.8 424.2 893.3 436.7 890 420C886.7 403.3 887.1 335 890 320Z" fill="#0099FF"/>
<path d="M890 332.5C892.5 326.7 901.9 337.9 905 342.5C908.1 347.1 908.8 354.6 908.8 360C908.8 365.4 908.1 372.1 905 375C901.9 377.9 892.5 384.6 890 377.5C887.5 370.4 887.5 338.3 890 332.5Z" fill="#00CCFF"/>
<path d="M1007.5 302.5C1008.3 297.5 1011.2 290 1015 285C1018.8 280 1024.2 275.4 1030 272.5C1035.8 269.6 1042.5 267.5 1050 267.5C1057.5 267.5 1066.7 272.5 1075 272.5C1083.3 272.5 1091.7 269.2 1100 267.5C1108.3 265.8 1117.5 262.7 1125 262.5C1132.5 262.3 1139.6 264.2 1145 266.2C1150.4 268.3 1154.8 271.9 1157.5 275C1160.2 278.1 1162.5 281.2 1161.2 285C1160 288.8 1154.4 293.8 1150 297.5C1145.6 301.2 1139.2 304.6 1135 307.5C1130.8 310.4 1128.3 312.7 1125 315C1121.7 317.3 1119.6 320.8 1115 321.2C1110.4 321.7 1103.8 319.4 1097.5 317.5C1091.2 315.6 1083.8 310.4 1077.5 310C1071.2 309.6 1065.8 312.9 1060 315C1054.2 317.1 1047.9 320.4 1042.5 322.5C1037.1 324.6 1031.7 327.5 1027.5 327.5C1023.3 327.5 1020.4 324.6 1017.5 322.5C1014.6 320.4 1011.7 318.3 1010 315C1008.3 311.7 1006.7 307.5 1007.5 302.5Z" fill="#0000FF"/>
<path d="M1021.2 305C1021.2 300.8 1024.4 292.1 1027.5 287.5C1030.6 282.9 1034.6 278.8 1040 277.5C1045.4 276.2 1053.3 277.9 1060 280C1066.7 282.1 1073.3 290 1080 290C1086.7 290 1093.3 282.9 1100 280C1106.7 277.1 1113.3 273.3 1120 272.5C1126.7 271.7 1135 272.9 1140 275C1145 277.1 1150 281.2 1150 285C1150 288.8 1144.2 293.8 1140 297.5C1135.8 301.2 1129.6 305 1125 307.5C1120.4 310 1117.5 312.9 1112.5 312.5C1107.5 312.1 1100.8 307.1 1095 305C1089.2 302.9 1083.3 300 1077.5 300C1071.7 300 1065.8 302.9 1060 305C1054.2 307.1 1047.9 311.2 1042.5 312.5C1037.1 313.8 1031 313.8 1027.5 312.5C1024 311.2 1021.2 309.2 1021.2 305Z" fill="#0099FF"/>
<path d="M1036.2 290C1036.2 287.5 1039.4 284 1042.5 282.5C1045.6 281 1051.2 280.2 1055 281.2C1058.8 282.3 1065 286.2 1065 288.8C1065 291.2 1058.8 294.8 1055 296.2C1051.2 297.7 1045.6 298.5 1042.5 297.5C1039.4 296.5 1036.2 292.5 1036.2 290Z" fill="#00CCFF"/>
<path d="M1108.8 285C1109.2 281.2 1111.9 277.1 1115 275C1118.1 272.9 1123.8 271.7 1127.5 272.5C1131.2 273.3 1136.2 277.1 1137.5 280C1138.8 282.9 1137.1 287.1 1135 290C1132.9 292.9 1128.8 296.2 1125 297.5C1121.2 298.8 1115.2 299.6 1112.5 297.5C1109.8 295.4 1108.3 288.8 1108.8 285Z" fill="#00CCFF"/>
<path d="M1183.8 271.2C1184.3 268.9 1200.2 269.6 1205 270C1209.8 270.4 1221.5 273 1225 275C1228.5 277 1233.2 283.4 1235 287.5C1236.8 291.6 1238.2 306.2 1240 310C1241.8 313.8 1247.1 317.1 1250 320C1252.9 322.9 1265 332.7 1265 335C1265 337.3 1251.5 338.2 1250 340C1248.5 341.8 1253.1 347.7 1252.5 350C1251.9 352.3 1245.3 356.5 1245 360C1244.7 363.5 1249.7 375.9 1250 380C1250.3 384.1 1249.2 390.3 1247.5 395C1245.8 399.7 1241.7 417.1 1235 420C1228.3 422.9 1195.8 422.9 1190 420C1184.2 417.1 1185 400.8 1185 395C1185 389.2 1188.2 374.7 1190 370C1191.8 365.3 1197.4 359.7 1200 355C1202.6 350.3 1211.3 335.2 1212.5 330C1213.7 324.8 1211.5 314.7 1210 310C1208.5 305.3 1203.1 294.5 1200 290C1196.9 285.5 1183.2 273.6 1183.8 271.2Z" fill="#0000FF"/>
<path d="M1192.5 276.2C1193.3 273.3 1204.6 274 1210 275C1215.4 276 1222.1 279.6 1225 282.5C1227.9 285.4 1228.3 289.6 1227.5 292.5C1226.7 295.4 1223.8 300 1220 300C1216.2 300 1209.6 296.5 1205 292.5C1200.4 288.5 1191.7 279.2 1192.5 276.2Z" fill="#0099FF"/>
<path d="M1195 375C1195.8 370 1202.1 362.5 1205 362.5C1207.9 362.5 1209.6 369.6 1212.5 375C1215.4 380.4 1220.4 387.5 1222.5 395C1224.6 402.5 1227.9 415.8 1225 420C1222.1 424.2 1209.2 424.6 1205 420C1200.8 415.4 1201.7 400 1200 392.5C1198.3 385 1194.2 380 1195 375Z" fill="#0099FF"/>
<path d="M1356.2 387.5L1380 390L1381.2 420L1366.2 420L1362.5 400Z" fill="#FFFF00"/>
<path d="M1348.8 381.2C1348.8 380.2 1350.8 378.2 1351.8 378.2C1352.8 378.2 1354.8 380.2 1354.8 381.2C1354.8 382.2 1352.8 384.2 1351.8 384.2C1350.8 384.2 1348.8 382.2 1348.8 381.2Z" fill="#FFFF00"/>
</g>
<use href="#ol" class="ol" transform="translate(894 34) scale(0.9951 1.0154)"/>
<path d="M886 34H895M886 57.7H895M886 81.3H895M886 105H895M886 128.6H895M886 152.3H895M886 175.9H895M886 199.6H895M886 223.2H895M886 246.9H895M886 270.6H895M886 294.2H895M886 317.9H895M886 341.5H895M886 365.2H895M886 388.8H895M886 412.5H895M895 412.5V421.5M927 412.5V421.5M959.1 412.5V421.5M991.1 412.5V421.5M1023.1 412.5V421.5M1055.2 412.5V421.5M1087.2 412.5V421.5M1119.2 412.5V421.5M1151.2 412.5V421.5M1183.3 412.5V421.5M1215.3 412.5V421.5M1247.3 412.5V421.5M1279.4 412.5V421.5M1311.4 412.5V421.5M1343.4 412.5V421.5M1375.5 412.5V421.5M1407.5 412.5V421.5" stroke="#a8a8a8" stroke-width="1.5" fill="none"/>
<text x="879" y="41.2" class="e g">52.06</text>
<text x="879" y="88.5" class="e g">52.04</text>
<text x="879" y="135.8" class="e g">52.03</text>
<text x="879" y="183.1" class="e g">52.01</text>
<text x="879" y="230.4" class="e g">52.00</text>
<text x="879" y="277.8" class="e g">51.98</text>
<text x="879" y="325.1" class="e g">51.96</text>
<text x="879" y="372.4" class="e g">51.95</text>
<text x="879" y="419.7" class="e g">51.93</text>
<text x="895" y="448.7" class="m g">22.45</text>
<text x="959.1" y="448.7" class="m g">22.47</text>
<text x="1023.1" y="448.7" class="m g">22.50</text>
<text x="1087.2" y="448.7" class="m g">22.52</text>
<text x="1151.2" y="448.7" class="m g">22.54</text>
<text x="1215.3" y="448.7" class="m g">22.56</text>
<text x="1279.4" y="448.7" class="m g">22.59</text>
<text x="1343.4" y="448.7" class="m g">22.61</text>
<text x="1407.5" y="448.7" class="m g">22.63</text>
<text x="1151.5" y="477.2" class="m g">Longitude (°)</text>
<text x="821.2" y="222.5" class="m g" transform="rotate(-90 821.2 222.5)">Latitude (°)</text>
<rect x="1426.5" y="99" width="22.5" height="22" fill="#9966CC"/>
<rect x="1426.5" y="120.7" width="22.5" height="22" fill="#FF00FF"/>
<rect x="1426.5" y="142.4" width="22.5" height="22" fill="#990000"/>
<rect x="1426.5" y="164" width="22.5" height="22" fill="#CC0000"/>
<rect x="1426.5" y="185.7" width="22.5" height="22" fill="#FF0000"/>
<rect x="1426.5" y="207.4" width="22.5" height="22" fill="#FF9900"/>
<rect x="1426.5" y="229.1" width="22.5" height="22" fill="#FFFF00"/>
<rect x="1426.5" y="250.8" width="22.5" height="22" fill="#006600"/>
<rect x="1426.5" y="272.4" width="22.5" height="22" fill="#009900"/>
<rect x="1426.5" y="294.1" width="22.5" height="22" fill="#00CC00"/>
<rect x="1426.5" y="315.8" width="22.5" height="22" fill="#00FF00"/>
<rect x="1426.5" y="337.5" width="22.5" height="22" fill="#0000FF"/>
<rect x="1426.5" y="359.2" width="22.5" height="22" fill="#0099FF"/>
<rect x="1426.5" y="380.8" width="22.5" height="22" fill="#00CCFF"/>
<text x="1478" y="82.3" class="g" style="font-size:19.5px">90</text>
<text x="1478" y="104" class="g" style="font-size:19.5px">88</text>
<text x="1478" y="125.7" class="g" style="font-size:19.5px">86</text>
<text x="1478" y="147.4" class="g" style="font-size:19.5px">84</text>
<text x="1478" y="169.1" class="g" style="font-size:19.5px">82</text>
<text x="1478" y="190.7" class="g" style="font-size:19.5px">80</text>
<text x="1478" y="212.4" class="g" style="font-size:19.5px">78</text>
<text x="1478" y="234.1" class="g" style="font-size:19.5px">76</text>
<text x="1478" y="255.8" class="g" style="font-size:19.5px">74</text>
<text x="1478" y="277.5" class="g" style="font-size:19.5px">72</text>
<text x="1478" y="299.1" class="g" style="font-size:19.5px">70</text>
<text x="1478" y="320.8" class="g" style="font-size:19.5px">68</text>
<text x="1478" y="342.5" class="g" style="font-size:19.5px">66</text>
<text x="1478" y="364.2" class="g" style="font-size:19.5px">64</text>
<text x="1478" y="385.9" class="g" style="font-size:19.5px">62</text>
<text x="1478" y="407.5" class="g" style="font-size:19.5px">60</text>
<text x="1429" y="53" class="g" style="font-size:19px">Sand (%)</text>
</g>
<g id="p03">
<clipPath id="c3"><rect x="126" y="549.5" width="519" height="373.5"/></clipPath>
<g clip-path="url(#c3)">
<rect x="126" y="549.5" width="519" height="373.5" fill="#006600"/>
<path d="M120.9 545.6C135.9 536.4 255.1 544.3 270.3 545.6C285.5 546.8 271.6 555.5 272.8 557.9C274.1 560.2 280.4 567.4 283 569C285.5 570.6 294.6 573.2 298.2 573.9C301.7 574.7 315.5 575.3 318.4 576.4C321.3 577.5 326 581.9 327.3 585C328.5 588.1 329.4 602.8 331.1 607.2C332.7 611.6 345.5 626.3 343.7 628.9C342 631.5 318.9 631.8 313.3 633.1C307.8 634.4 291.7 640.2 288 641.8C284.4 643.4 278.7 649.4 276.6 649.2C274.6 648.9 270.2 640.9 267.8 639.3C265.4 637.7 256.9 634 252.6 633.1C248.3 632.3 231.3 630.9 224.7 630.7C218.2 630.4 194.4 630.2 186.8 630.7C179.2 631.2 155.4 634.9 148.8 635.6C142.2 636.3 123.7 646.3 120.9 637.3C118.2 628.3 106 554.7 120.9 545.6Z" fill="#FFFF00"/>
<path d="M120.9 545.6C134.1 537.2 239.8 542.8 252.6 545.6C265.4 548.3 248.9 568 248.8 572.7C248.7 577.4 249.9 589.3 251.3 592.4C252.7 595.5 259.3 602 262.7 603.5C266.1 605 281.2 607.8 285.5 607.2C289.8 606.6 302.7 598.2 305.8 597.4C308.8 596.5 314.7 597.4 315.9 598.6C317 599.8 317.9 607.5 317.1 609.7C316.4 611.9 311.2 619.3 308.3 620.8C305.4 622.3 292.6 624.4 288 624.5C283.5 624.6 267.8 622.2 262.7 622C257.6 621.9 242.5 623.4 237.4 623.3C232.3 623.1 217.1 620.8 212.1 620.8C207 620.8 191.8 622.7 186.8 623.3C181.7 623.8 168 625.9 161.4 626.5C154.9 627.1 125 637.5 120.9 629.4C116.9 621.3 107.8 553.9 120.9 545.6Z" fill="#FF9900"/>
<path d="M133.6 545.6C152.6 541 228.5 541 247.5 545.6C266.5 550.1 248.2 563.6 247.5 572.7C246.9 581.7 246.3 592.6 243.7 599.8C241.2 607 237.6 612.2 232.3 615.9C227.1 619.6 219.7 621.2 212.1 622C204.5 622.9 195.2 622 186.8 620.8C178.3 619.6 168.8 618.1 161.4 614.6C154.1 611.1 147.1 606.8 142.5 599.8C137.8 592.8 135.1 581.7 133.6 572.7C132.1 563.6 114.6 550.1 133.6 545.6Z" fill="#FF0000"/>
<path d="M145 545.6C160.2 541.4 220.7 541 236.1 545.6C251.5 550.1 237.7 564.1 237.4 572.7C237.1 581.3 236.5 591 234.4 597.4C232.2 603.7 229.3 607.6 224.7 610.9C220.2 614.2 213.3 616.6 207 617.1C200.7 617.6 193.3 616.2 186.8 614.1C180.2 612.1 173.5 609 167.8 604.8C162.1 600.5 156.4 594.5 152.6 588.7C148.8 583 146.3 577.4 145 570.2C143.7 563 129.8 549.7 145 545.6Z" fill="#CC0000"/>
<path d="M177.9 545.6C185.9 543.1 212.3 541 219.7 545.6C227.1 550.1 222 564.9 222.2 572.7C222.4 580.5 222.2 587.3 220.9 592.4C219.7 597.6 217.8 600.9 214.6 603.5C211.4 606.2 206.6 609.1 202 608.5C197.3 607.8 191.4 603.3 186.8 599.8C182.1 596.3 177.3 592 174.1 587.5C170.9 583 168.2 577.2 167.8 572.7C167.4 568.2 169.9 564.9 171.6 560.4C173.3 555.8 169.9 548 177.9 545.6Z" fill="#990000"/>
<path d="M400.7 545.6C426.2 541.4 530.4 542.7 557.7 545.6C584.9 548.4 561.9 556.2 564 562.8C566.1 569.4 569.5 577.6 570.3 585C571.2 592.4 571.4 600.6 569 607.2C566.7 613.8 561.9 620 556.4 624.5C550.9 629 543.7 631.5 536.1 634.4C528.5 637.2 519.3 639.9 510.8 641.8C502.4 643.6 493.1 645.3 485.5 645.5C477.9 645.7 472 645.3 465.2 643C458.5 640.7 451.3 636.6 445 631.9C438.7 627.2 432.8 621.2 427.3 614.6C421.8 608 415.9 599.8 412.1 592.4C408.3 585 406.4 578 404.5 570.2C402.6 562.4 375.2 549.7 400.7 545.6Z" fill="#FFFF00"/>
<path d="M419.7 545.6C440.8 541 526.9 541 548.8 545.6C570.7 550.1 551.7 563.6 551.3 572.7C550.9 581.7 549.6 592 546.3 599.8C542.9 607.6 537 614.2 531.1 619.6C525.2 624.9 518.4 629 510.8 631.9C503.2 634.8 493.1 636.6 485.5 636.8C477.9 637 471.6 636 465.2 633.1C458.9 630.3 453 625.5 447.5 619.6C442 613.6 436.6 605.2 432.3 597.4C428.1 589.5 424.3 581.3 422.2 572.7C420.1 564.1 398.6 550.1 419.7 545.6Z" fill="#FF9900"/>
<path d="M441.2 545.6C457.4 542.3 520.3 541.9 536.1 545.6C552 549.3 536.6 560.4 536.1 567.8C535.7 575.2 535.7 583 533.6 590C531.5 596.9 527.7 603.9 523.5 609.7C519.3 615.5 514.6 621 508.3 624.5C502 628 492.7 630.5 485.5 630.7C478.3 630.9 471.2 629.2 465.2 625.7C459.3 622.2 454.3 616.5 450.1 609.7C445.8 602.9 441.8 592.4 439.9 585C438 577.6 438.5 571.9 438.7 565.3C438.9 558.7 425 548.8 441.2 545.6Z" fill="#FF0000"/>
<path d="M455.1 562.8C459.3 561.2 468.2 560.4 475.4 560.4C482.5 560.4 491.4 560.4 498.2 562.8C504.9 565.3 512.3 569.8 515.9 575.2C519.5 580.5 519.9 588.7 519.7 594.9C519.5 601.1 517.8 607.2 514.6 612.2C511.5 617.1 506 621.8 500.7 624.5C495.4 627.2 488.9 628.4 483 628.2C477.1 628 470.3 626.8 465.2 623.3C460.2 619.8 455.5 613.6 452.6 607.2C449.6 600.9 447.9 591.2 447.5 585C447.1 578.9 448.8 573.9 450.1 570.2C451.3 566.5 450.9 564.5 455.1 562.8Z" fill="#CC0000"/>
<path d="M461.5 607.2C461.7 603.5 461.7 598 464 594.9C466.3 591.8 470.9 590.2 475.4 588.7C479.8 587.3 486.3 585.4 490.6 586.3C494.8 587.1 498.6 590.2 500.7 593.7C502.8 597.2 503.6 602.9 503.2 607.2C502.8 611.5 501.1 616.6 498.2 619.6C495.2 622.5 490.1 624.2 485.5 625C480.9 625.8 474.1 625.8 470.3 624.5C466.5 623.2 464.2 620 462.7 617.1C461.2 614.2 461.2 610.9 461.5 607.2Z" fill="#990000"/>
<path d="M120.9 657.8C124.2 649.6 141.1 652 148.8 650.4C156.5 648.8 177.9 645 186.8 644.2C195.6 643.5 217.1 643.8 224.7 644.2C232.4 644.7 246.7 646.5 252.6 647.9C258.5 649.4 270.6 656.1 275.4 656.6C280.1 657 288.7 652.6 293.1 651.6C297.5 650.6 308.9 647.6 313.3 647.9C317.8 648.2 327.5 652.5 331.1 654.1C334.6 655.7 341.7 661.2 343.7 661.5C345.8 661.8 347.9 655.1 348.8 656.6C349.7 658 350.3 668.4 351.3 673.8C352.4 679.3 357.4 697.7 357.7 703.4C357.9 709.2 355.2 718.9 353.9 723.2C352.5 727.5 348.9 736.7 346.3 740.4C343.6 744.2 336.1 752.4 331.1 755.2C326 758.1 309.7 763.8 303.2 765.1C296.7 766.4 281.6 766.5 275.4 766.3C269.2 766.2 256 764.7 250.1 763.9C244.1 763 230.6 760.5 224.7 758.9C218.8 757.4 205.3 752.8 199.4 750.3C193.5 747.9 180 740.6 174.1 738C168.2 735.4 155 730.1 148.8 728.1C142.6 726.1 124.2 728.9 120.9 720.7C117.7 712.5 117.7 666 120.9 657.8Z" fill="#009900"/>
<path d="M120.9 696C123.5 690.1 131.1 684.1 136.1 678.8C141.2 673.4 144.6 668.1 151.3 664C158.1 659.9 166.5 656.6 176.6 654.1C186.8 651.6 201.1 649.6 212.1 649.2C223 648.8 233.2 650 242.5 651.6C251.7 653.3 260.2 658 267.8 659C275.4 660.1 280.9 658.2 288 657.8C295.2 657.4 304.1 655.5 310.8 656.6C317.6 657.6 323.5 660.3 328.5 664C333.6 667.7 338.2 673 341.2 678.8C344.1 684.5 345.6 691.9 346.3 698.5C346.9 705.1 346.7 711.7 345 718.2C343.3 724.8 340.6 732.2 336.1 738C331.7 743.7 325.6 749.1 318.4 752.8C311.2 756.5 302.4 759.2 293.1 760.2C283.8 761.2 272.8 759.8 262.7 758.9C252.6 758.1 241.6 757.5 232.3 755.2C223 753 215.5 749.5 207 745.4C198.6 741.3 190.1 734.7 181.7 730.6C173.3 726.5 166.5 723.4 156.4 720.7C146.3 718 126.8 718.7 120.9 714.5C115 710.4 118.4 702 120.9 696Z" fill="#00CC00"/>
<path d="M145 705.9C144.1 700.6 151.1 690.3 156.4 683.7C161.7 677.1 168.2 671 176.6 666.4C185.1 661.9 196.9 658.2 207 656.6C217.1 654.9 229 654.9 237.4 656.6C245.8 658.2 251.7 666 257.6 666.4C263.6 666.8 266.9 659.9 272.8 659C278.7 658.2 286.3 660.7 293.1 661.5C299.8 662.3 307.4 661.5 313.3 664C319.3 666.4 324.7 671 328.5 676.3C332.3 681.6 335.3 689 336.1 696C337 703 335.7 711.3 333.6 718.2C331.5 725.2 328.5 732.6 323.5 738C318.4 743.3 310.8 747.8 303.2 750.3C295.6 752.8 287.2 752.8 277.9 752.8C268.6 752.8 256.8 751.5 247.5 750.3C238.2 749.1 229 748.3 222.2 745.4C215.5 742.5 212.9 737.2 207 733C201.1 728.9 194.4 723.6 186.8 720.7C179.2 717.8 168.4 718.2 161.4 715.8C154.5 713.3 145.8 711.3 145 705.9Z" fill="#00FF00"/>
<path d="M165.2 696C166.1 691.5 171.4 683.7 176.6 678.8C181.9 673.8 189.3 669.5 196.9 666.4C204.5 663.4 214.6 660.7 222.2 660.3C229.8 659.9 237 661.3 242.5 664C247.9 666.6 252.2 671.4 255.1 676.3C258.1 681.2 257.2 690.3 260.2 693.6C263.1 696.9 268.2 696.9 272.8 696C277.5 695.2 282.1 690.1 288 688.6C293.9 687.2 302.4 686.2 308.3 687.4C314.2 688.6 320.1 691.7 323.5 696C326.8 700.4 329 707.6 328.5 713.3C328.1 719.1 324.7 725.6 320.9 730.6C317.1 735.5 312.1 740 305.8 742.9C299.4 745.8 291.8 747.2 283 747.8C274.1 748.5 261.9 747.4 252.6 746.6C243.3 745.8 234 745.6 227.3 742.9C220.5 740.2 215.9 735.1 212.1 730.6C208.3 726.1 208.7 719.5 204.5 715.8C200.3 712.1 192.2 710 186.8 708.4C181.3 706.7 175.2 708 171.6 705.9C168 703.9 164.4 700.6 165.2 696Z" fill="#0000FF"/>
<path d="M179.2 692.3C179.2 689.5 182.1 686.2 186.8 683.7C191.4 681.2 201.5 680.6 207 677.5C212.5 674.5 215.5 667.5 219.7 665.2C223.9 662.9 228.5 662.5 232.3 664C236.1 665.4 240.1 669.7 242.5 673.8C244.8 677.9 246.3 684.1 246.3 688.6C246.3 693.2 245.2 697.9 242.5 701C239.7 704.1 234.4 706.3 229.8 707.1C225.2 708 218.8 705.9 214.6 705.9C210.4 705.9 209.1 708 204.5 707.1C199.8 706.3 191 703.4 186.8 701C182.5 698.5 179.2 695.2 179.2 692.3Z" fill="#0099FF"/>
<path d="M223.5 728.8C223.5 726.7 225.4 724 227.3 722.7C229.2 721.4 232.5 720.5 234.9 721.2C237.2 721.9 240.1 724.9 241.2 726.9C242.2 728.8 242.2 731.4 241.2 733C240.1 734.7 237.2 736.3 234.9 736.7C232.5 737.2 229.2 736.8 227.3 735.5C225.4 734.2 223.5 731 223.5 728.8Z" fill="#0099FF"/>
<path d="M268.3 733C268.7 729.3 273.8 723.6 277.9 718.2C282 712.9 288.9 704.5 293.1 701C297.3 697.5 299 697.3 303.2 697.3C307.4 697.3 314.7 698.7 318.4 701C322.1 703.2 325.1 706.7 325.5 710.8C325.9 715 323.8 721.3 320.9 725.6C318.1 730 313.8 734.1 308.3 736.7C302.8 739.4 293.5 741.1 288 741.7C282.5 742.3 278.7 741.9 275.4 740.4C272.1 739 267.9 736.7 268.3 733Z" fill="#0099FF"/>
<path d="M286.8 725.6C287.2 722.6 290.4 715 293.1 712.1C295.8 709.2 300.1 708.6 303.2 708.4C306.4 708.2 311.2 708.8 312.1 710.8C312.9 712.9 310.6 717.6 308.3 720.7C306 723.8 301.1 727.7 298.2 729.3C295.2 731 292.5 731.2 290.6 730.6C288.7 730 286.3 728.7 286.8 725.6Z" fill="#00CCFF"/>
<path d="M364 556.7C366.3 556.7 374 560.1 376.6 562.8C379.3 565.6 384.7 575.2 386.8 580.1C388.8 585 392.6 599.3 394.4 604.8C396.1 610.2 399 623.2 402 627C404.9 630.7 415.2 634.5 419.7 636.8C424.1 639.1 434.6 644.7 439.9 646.7C445.2 648.7 459.3 653.5 465.2 654.1C471.2 654.7 483.8 653.1 490.6 651.6C497.4 650.2 516.7 644.1 523.5 641.8C530.3 639.5 543.5 634.8 548.8 631.9C554.1 629 565.2 620.8 569 617.1C572.9 613.4 578.8 604.1 581.7 599.8C584.7 595.5 592 584.4 594.4 580.1C596.7 575.8 602.8 566.9 602 562.8C601.1 558.8 581.2 547.6 586.8 545.6C592.4 543.5 642.7 525.4 650.1 545.6C657.4 565.7 651.8 696.7 650.1 718.2C648.3 739.8 638.1 726 634.9 730.6C631.6 735.2 625.2 752.8 622.2 757.7C619.3 762.6 612.5 769.9 609.6 772.5C606.6 775.1 599.6 780.5 596.9 779.9C594.2 779.3 590.9 770.2 586.8 767.6C582.6 765 567.4 759.4 561.5 757.7C555.5 756 542 753.6 536.1 752.8C530.2 751.9 516.1 750.9 510.8 750.3C505.5 749.7 493.8 747 490.6 747.8C487.3 748.7 484.7 756.8 483 757.7C481.2 758.6 476.9 756.7 475.4 755.2C473.9 753.8 471.8 745.1 470.3 745.4C468.8 745.7 464.2 755.4 462.7 757.7C461.2 760 459.4 766 457.7 765.1C455.9 764.3 450.2 753.2 447.5 750.3C444.9 747.4 438.7 741 434.9 740.4C431 739.9 419 745.4 414.6 745.4C410.2 745.4 400.4 742.2 396.9 740.4C393.3 738.7 387.2 732.9 384.2 730.6C381.3 728.3 373.6 723.3 371.6 720.7C369.5 718.1 365.6 711 366.5 708.4C367.4 705.8 375.9 700.8 379.2 698.5C382.4 696.2 392.9 692.1 394.4 688.6C395.8 685.2 393 673.5 391.8 668.9C390.6 664.3 386.6 653.2 384.2 649.2C381.9 645.1 374.5 638.1 371.6 634.4C368.6 630.6 361.3 621.4 358.9 617.1C356.6 612.8 352.4 602 351.3 597.4C350.3 592.8 349.5 581.7 350.1 577.6C350.6 573.6 354.8 565.3 356.4 562.8C358 560.4 361.6 556.7 364 556.7Z" fill="#009900"/>
<path d="M609.6 620.8C611.7 617.8 618.4 612.2 624.7 607.2C631.1 602.3 643.7 591.4 647.5 591.2C651.3 591 650.1 601.7 647.5 606C645 610.3 638.2 613.9 632.3 617.1C626.4 620.3 615.9 624.4 612.1 625C608.3 625.6 607.4 623.8 609.6 620.8Z" fill="#006600"/>
<path d="M627.3 560.4C627.7 558.5 634 553 637.4 550.5C640.8 548 645.8 544.9 647.5 545.6C649.2 546.2 649.6 551.5 647.5 554.2C645.4 556.9 638.2 560.6 634.9 561.6C631.5 562.6 626.9 562.2 627.3 560.4Z" fill="#006600"/>
<path d="M362 601.1C362 597.6 363.2 593.5 365.2 591.2C367.3 588.8 371.2 586.8 374.1 587C377.1 587.2 380.9 589.5 383 592.4C385 595.4 386.5 600.9 386.3 604.8C386 608.7 383.9 613.6 381.7 615.9C379.5 618.1 375.6 618.9 372.8 618.3C370.1 617.7 367.1 615 365.2 612.2C363.4 609.3 362 604.6 362 601.1Z" fill="#00CC00"/>
<path d="M607 597.4C607.2 594.4 610 587.9 612.1 585C614.2 582.1 618.2 579.5 619.7 580.1C621.2 580.7 621.6 585.6 620.9 588.7C620.3 591.8 617.6 596.2 615.9 598.6C614.2 600.9 612.3 603 610.8 602.8C609.3 602.6 606.8 600.3 607 597.4Z" fill="#00CC00"/>
<path d="M403.2 644.2C403.9 641.3 409.2 637.2 412.1 636.8C415 636.5 422 638.8 424.7 641.8C427.4 644.7 430.3 654.1 432.3 659C434.4 664 436.9 676.8 439.9 678.8C443 680.7 450.4 676.5 455.1 673.8C459.8 671.2 468.6 662.3 475.4 659C482.1 655.7 497.7 650.8 505.8 649.2C513.9 647.5 528 647.4 536.1 646.7C544.2 646 559.1 644.9 566.5 644.2C573.9 643.6 586.1 640.8 591.8 641.8C597.6 642.8 605.5 648 609.6 651.6C613.6 655.3 619.5 664 622.2 668.9C624.9 673.8 628.5 683.4 629.8 688.6C631.2 693.9 632.7 703.1 632.3 708.4C632 713.6 629.3 723.5 627.3 728.1C625.3 732.7 620.5 739.6 617.2 742.9C613.8 746.2 606.7 751.5 602 752.8C597.2 754.1 587.1 753.8 581.7 752.8C576.3 751.8 567.5 747.4 561.5 745.4C555.4 743.4 542.9 739.6 536.1 738C529.4 736.3 516.6 734.4 510.8 733C505.1 731.7 497.8 730.1 493.1 728.1C488.4 726.1 479.8 720.2 475.4 718.2C471 716.3 464.2 713.6 460.2 713.3C456.1 713 448.4 713.8 445 715.8C441.6 717.7 438.2 725.1 434.9 728.1C431.5 731.1 424.1 737 419.7 738C415.3 739 406 737.5 402 735.5C397.9 733.5 391.7 726.8 389.3 723.2C386.9 719.6 383.6 711.7 384.2 708.4C384.9 705.1 391 701.1 394.4 698.5C397.7 695.9 407.2 691.9 409.6 688.6C411.9 685.3 412.4 677.8 412.1 673.8C411.7 669.9 408.2 663 407 659C405.8 655.1 402.5 647.2 403.2 644.2Z" fill="#00CC00"/>
<path d="M393.1 718.2C393.9 715 397.9 710.4 402 708.4C406 706.3 412.5 705.1 417.1 705.9C421.8 706.7 428.5 710 429.8 713.3C431.1 716.6 428.1 722.8 424.7 725.6C421.4 728.5 414.2 730.2 409.6 730.6C404.9 731 399.6 730.2 396.9 728.1C394.1 726.1 392.3 721.5 393.1 718.2Z" fill="#00FF00"/>
<path d="M465.2 688.6C466.1 683.7 470.3 677.9 475.4 673.8C480.4 669.7 487.6 666 495.6 664C503.6 661.9 514.2 661.5 523.5 661.5C532.8 661.5 542.9 663.1 551.3 664C559.8 664.8 566.5 664 574.1 666.4C581.7 668.9 590.6 673.4 596.9 678.8C603.2 684.1 608.7 691.9 612.1 698.5C615.5 705.1 617.6 712.1 617.2 718.2C616.7 724.4 613.4 731 609.6 735.5C605.8 740 600.3 744.1 594.4 745.4C588.5 746.6 581.3 745 574.1 742.9C566.9 740.9 559.3 735.9 551.3 733C543.3 730.2 534 727.7 526 725.6C518 723.6 510 722.8 503.2 720.7C496.5 718.7 491 716.2 485.5 713.3C480 710.4 473.7 707.6 470.3 703.4C466.9 699.3 464.4 693.6 465.2 688.6Z" fill="#00FF00"/>
<path d="M480.4 688.6C479.6 683.7 483.8 679.6 488 676.3C492.3 673 498.6 670.1 505.8 668.9C512.9 667.7 522.6 668.1 531.1 668.9C539.5 669.7 548.8 671.4 556.4 673.8C564 676.3 570.3 679.6 576.6 683.7C583 687.8 589.3 693.6 594.4 698.5C599.4 703.4 604.5 708.4 607 713.3C609.6 718.2 611.2 724 609.6 728.1C607.9 732.2 602 736.7 596.9 738C591.8 739.2 585.1 737.6 579.2 735.5C573.3 733.5 568.6 728.5 561.5 725.6C554.3 722.8 544.6 720.3 536.1 718.2C527.7 716.2 518 715.4 510.8 713.3C503.6 711.3 498.2 710 493.1 705.9C488 701.8 481.3 693.6 480.4 688.6Z" fill="#0000FF"/>
<path d="M498.2 683.7C498.2 682.4 504.1 680.6 505.8 681.2C507.4 681.9 508.1 687.3 510.8 688.6C513.5 690 521.3 691.1 526 691.1C530.7 691.1 541.5 688.3 546.3 688.6C551 689 558.1 690.9 561.5 693.6C564.8 696.2 568.2 705.7 571.6 708.4C575 711 583.1 711.3 586.8 713.3C590.5 715.3 598.1 720.9 599.4 723.2C600.8 725.5 598.9 729.1 596.9 730.6C594.9 732.1 587.3 734.9 584.2 734.3C581.2 733.6 576.8 728.4 574.1 725.6C571.4 722.8 567.4 715.9 564 713.3C560.6 710.7 553.2 706.9 548.8 705.9C544.4 704.9 535.5 706.9 531.1 705.9C526.7 704.9 519.3 700.5 515.9 698.5C512.5 696.5 508.1 693.1 505.8 691.1C503.4 689.1 498.2 685 498.2 683.7Z" fill="#0099FF"/>
<path d="M371.6 683.7C372 682 375 680.5 376.6 680.7C378.3 680.9 380.4 683.2 381.7 684.9C383 686.7 384.9 690.3 384.2 691.1C383.6 691.9 379.6 689.9 377.9 689.9C376.2 689.9 375.2 692.1 374.1 691.1C373.1 690.1 371.2 685.4 371.6 683.7Z" fill="#FFFF00"/>
<path d="M120.9 756.5C123.7 739 143.5 754.9 148.8 755.2C154.1 755.6 169.5 758.9 174.1 760.2C178.7 761.4 190.6 766.1 194.4 767.6C198.2 769.1 207.8 774.5 212.1 775C216.4 775.5 232.3 773.4 237.4 772.5C242.5 771.7 257.6 767.1 262.7 766.3C267.8 765.6 283 765.5 288 765.1C293.1 764.7 308.3 763.5 313.3 762.6C318.4 761.8 333.9 757.8 338.7 756.5C343.5 755.1 356.4 749.4 361.4 749.1C366.5 748.7 384 751.8 389.3 752.8C394.6 753.8 410.1 758.9 414.6 758.9C419.2 758.9 431.3 752.2 434.9 752.8C438.4 753.4 447.3 763 450.1 765.1C452.8 767.2 461.1 773 462.7 773.7C464.4 774.5 465.8 774.1 466.5 772.5C467.3 771 469.4 758.3 470.3 758.2C471.2 758.2 473.9 770.8 475.4 772C476.9 773.2 482 770 485.5 770C489 770.1 505.8 772.3 510.8 772.5C515.9 772.8 531.1 772.3 536.1 772.5C541.2 772.8 556.9 774 561.5 775C566 776 578.4 780.7 581.7 782.4C585 784.1 591.6 790.2 594.4 792.3C597.2 794.3 607 803.4 609.6 803.4C612.1 803.4 617.7 795.8 619.7 792.3C621.7 788.7 628 772.5 629.8 767.6C631.6 762.6 635.4 746.4 637.4 742.9C639.4 739.5 648.8 714.3 650.1 733C651.3 751.8 703 910.7 650.1 930.4C597.2 950.1 173.8 947.8 120.9 930.4C68 913 118.2 774 120.9 756.5Z" fill="#FFFF00"/>
<path d="M120.9 765.1C123.7 748.6 143.5 764.9 148.8 765.1C154.1 765.4 169.3 766.1 174.1 767.6C178.9 769.1 192.6 778.3 196.9 779.9C201.2 781.5 212.6 783.9 217.1 783.6C221.7 783.4 237.4 778.6 242.5 777.4C247.5 776.3 262.7 773 267.8 772.5C272.8 772 288 772.8 293.1 772.5C298.2 772.3 313.3 770.8 318.4 770C323.5 769.3 339.2 766.1 343.7 765.1C348.3 764.1 359.4 760.5 364 760.2C368.5 759.8 384.2 760.8 389.3 761.4C394.4 762 410.1 766.2 414.6 766.3C419.2 766.5 431.1 762 434.9 762.6C438.7 763.3 449.6 770.8 452.6 772.5C455.6 774.2 462 779.2 465.2 779.9C468.5 780.7 482.2 779.2 485.5 779.9C488.8 780.7 495.6 785.6 498.2 787.3C500.7 789 507 795.2 510.8 797.2C514.6 799.2 533.4 805.6 536.1 807.1C538.9 808.5 539.2 809.5 538.7 812C538.2 814.5 531.3 828.3 531.1 831.7C530.8 835.2 533.1 842.1 536.1 846.5C539.2 851 556.4 870.5 561.5 876.1C566.5 881.8 582.2 897.8 586.8 903.3C591.3 908.7 653.6 927.7 607 930.4C560.4 933.1 169.5 946.9 120.9 930.4C72.3 913.9 118.2 781.6 120.9 765.1Z" fill="#FF9900"/>
<path d="M120.9 777.4C123.7 762.3 144 777.9 148.8 778.7C153.6 779.4 165.2 783 169 784.8C172.8 786.7 183.5 794.7 186.8 797.2C190.1 799.7 198.9 809 202 809.5C205 810 214.1 804.1 217.1 802.1C220.2 800.1 228.8 792 232.3 789.8C235.9 787.6 247 781.1 252.6 779.9C258.2 778.7 280.7 777.8 288 777.4C295.4 777.1 318.4 777 326 776.2C333.6 775.5 357.7 770.7 364 770C370.3 769.4 384.2 769.3 389.3 770C394.4 770.8 409.6 777 414.6 777.4C419.7 777.9 435.4 774.7 439.9 775C444.5 775.2 457.1 778.4 460.2 779.9C463.2 781.4 467.8 788.1 470.3 789.8C472.8 791.5 482.7 795 485.5 797.2C488.3 799.4 495.6 808.5 498.2 812C500.7 815.4 508 827.8 510.8 831.7C513.6 835.7 522.5 847 526 851.5C529.6 855.9 542 871.2 546.3 876.1C550.6 881.1 564.5 895.4 569 900.8C573.6 906.2 636.6 927.4 591.8 930.4C547 933.4 168 945.7 120.9 930.4C73.8 915.1 118.2 792.6 120.9 777.4Z" fill="#FF0000"/>
<path d="M120.9 792.3C125 779.2 155.4 799.2 161.4 799.7C167.5 800.1 178.4 796.2 181.7 797.2C185 798.2 191.3 806.6 194.4 809.5C197.4 812.5 209.5 826.8 212.1 826.8C214.6 826.8 217.6 813 219.7 809.5C221.7 806.1 229.5 795 232.3 792.3C235.1 789.5 244 783.7 247.5 782.4C251.1 781 261.2 778.9 267.8 778.7C274.4 778.4 305 780.3 313.3 779.9C321.7 779.5 345 775.5 351.3 775C357.7 774.5 372.1 773.7 376.6 775C381.2 776.2 393.6 784.6 396.9 787.3C400.2 790 406.3 799.9 409.6 802.1C412.8 804.3 426.8 810.5 429.8 809.5C432.8 808.5 440.2 795 439.9 792.3C439.7 789.5 426 783.4 427.3 782.4C428.5 781.4 448.3 781.9 452.6 782.4C456.9 782.9 468 785.6 470.3 787.3C472.6 789 473.9 796.9 475.4 799.7C476.9 802.4 483.5 811 485.5 814.5C487.5 817.9 493.1 830.2 495.6 834.2C498.2 838.1 507.8 850.2 510.8 853.9C513.9 857.6 522.2 867.2 526 871.2C529.8 875.1 544.5 889.2 548.8 893.4C553.1 897.6 565.8 909.4 569 913.1C572.3 916.8 626.5 928.7 581.7 930.4C536.9 932.1 167 944.2 120.9 930.4C74.9 916.6 116.9 805.3 120.9 792.3Z" fill="#CC0000"/>
<path d="M174.1 846.5C174.9 843.8 181.7 839.1 184.2 839.1C186.8 839.1 196.6 847.3 199.4 846.5C202.2 845.8 210.1 831.2 212.1 831.7C214.1 832.2 218.4 847 219.7 851.5C220.9 855.9 223.7 871.7 224.7 876.1C225.7 880.6 228 894.6 229.8 895.9C231.6 897.1 240.2 890.7 242.5 888.5C244.7 886.2 249.5 876.1 252.6 873.7C255.6 871.2 267.8 865.8 272.8 863.8C277.9 861.8 296.6 855.7 303.2 853.9C309.8 852.2 332.6 848.3 338.7 846.5C344.7 844.8 360.4 838.6 364 836.7C367.5 834.7 371.6 829.3 374.1 826.8C376.6 824.3 385.8 813.7 389.3 812C392.8 810.3 406.3 808.5 409.6 809.5C412.8 810.5 421.2 818.2 422.2 821.9C423.2 825.6 420.4 841.6 419.7 846.5C418.9 851.5 416.1 866.8 414.6 871.2C413.1 875.6 407 887.2 404.5 890.9C402 894.6 391.8 904.3 389.3 908.2C386.8 912.1 399.7 928.2 379.2 930.4C358.7 932.6 204 934.3 184.2 930.4C164.5 926.5 182.5 897.3 181.7 890.9C180.9 884.5 177.4 870.7 176.6 866.3C175.9 861.8 173.3 849.2 174.1 846.5Z" fill="#FF0000"/>
<path d="M184.2 930.4C177.1 923 185.1 896.7 186.8 886C188.4 875.3 190.1 868.7 194.4 866.3C198.6 863.8 207.4 867.1 212.1 871.2C216.7 875.3 219.3 881.1 222.2 890.9C225.2 900.8 236.1 923.8 229.8 930.4C223.5 937 191.4 937.8 184.2 930.4Z" fill="#FF9900"/>
<path d="M257.6 930.4C242 926.3 263.6 912.7 267.8 905.7C272 898.7 276.2 893.4 283 888.5C289.7 883.5 299 879.8 308.3 876.1C317.6 872.4 329.4 868.3 338.7 866.3C347.9 864.2 358.5 862.1 364 863.8C369.5 865.4 369.9 870.8 371.6 876.1C373.3 881.5 375.4 889.3 374.1 895.9C372.8 902.4 366.1 909.8 364 915.6C361.9 921.4 379.2 927.9 361.4 930.4C343.7 932.9 273.3 934.5 257.6 930.4Z" fill="#FF9900"/>
<path d="M298.2 890.9C301.1 887.2 307.4 884.4 313.3 883.5C319.3 882.7 327.7 887.2 333.6 886C339.5 884.8 344.1 877.8 348.8 876.1C353.4 874.5 358.9 873.7 361.4 876.1C364 878.6 365.2 885.6 364 890.9C362.7 896.3 356 901.6 353.9 908.2C351.7 914.8 360.6 926.7 351.3 930.4C342 934.1 307.4 934.5 298.2 930.4C288.9 926.3 295.6 912.3 295.6 905.7C295.6 899.2 295.2 894.6 298.2 890.9Z" fill="#FFFF00"/>
<path d="M312.1 910.7C312.9 908 318.2 904.5 320.9 904.5C323.7 904.5 327.7 908.2 328.5 910.7C329.4 913.1 328.1 917.7 326 919.3C323.9 920.9 318.2 922 315.9 920.5C313.6 919.1 311.2 913.3 312.1 910.7Z" fill="#FF9900"/>
<path d="M371.6 853.9C369.5 848.6 375.8 838.3 379.2 831.7C382.5 825.1 386.8 817.7 391.8 814.5C396.9 811.2 405.3 810.3 409.6 812C413.8 813.6 415.9 819.4 417.1 824.3C418.4 829.3 418.4 836.7 417.1 841.6C415.9 846.5 413.8 850.2 409.6 853.9C405.3 857.6 398.2 863.8 391.8 863.8C385.5 863.8 373.7 859.3 371.6 853.9Z" fill="#FF9900"/>
<path d="M376.6 852.7C375.8 848.8 380.9 840.2 384.2 834.2C387.6 828.2 392.5 819.2 396.9 816.9C401.3 814.7 408.1 817.3 410.8 820.6C413.6 823.9 414.2 831.7 413.3 836.7C412.5 841.6 409.8 846.7 405.8 850.2C401.7 853.7 394.2 857.2 389.3 857.6C384.4 858 377.5 856.6 376.6 852.7Z" fill="#FFFF00"/>
<path d="M385.5 830.5C385.3 827.4 387.2 824.9 389.3 823.1C391.4 821.3 395.4 819.7 398.2 819.9C400.9 820.1 404.5 821.9 405.8 824.3C407 826.7 406.8 831.4 405.8 834.2C404.7 837 402 839.9 399.4 841.1C396.9 842.3 392.9 843.4 390.6 841.6C388.2 839.8 385.7 833.6 385.5 830.5Z" fill="#006600"/>
<path d="M392.3 829.7C392.4 828.8 394.7 827.2 395.6 827.3C396.6 827.4 398.2 829.5 398.2 830.5C398.1 831.4 396.1 833.1 395.1 833C394.1 832.8 392.3 830.7 392.3 829.7Z" fill="#009900"/>
<path d="M120.9 794.7C125.6 772.5 142.5 795.1 148.8 797.2C155.1 799.2 156.8 802.9 158.9 807.1C161 811.2 162.3 816.1 161.4 821.9C160.6 827.6 154.3 834.2 153.8 841.6C153.4 849 157.2 858 158.9 866.3C160.6 874.5 163.6 880.2 164 890.9C164.4 901.6 168.6 923.8 161.4 930.4C154.3 937 127.7 953 120.9 930.4C114.2 907.8 116.3 816.9 120.9 794.7Z" fill="#990000"/>
<path d="M120.9 831.7C123.9 816.9 134 836.7 138.7 841.6C143.3 846.5 146.7 853.9 148.8 861.3C150.9 868.7 151.7 878.6 151.3 886C150.9 893.4 147.9 898.3 146.3 905.7C144.6 913.1 145.4 926.3 141.2 930.4C137 934.5 124.3 946.8 120.9 930.4C117.6 914 118 846.5 120.9 831.7Z" fill="#FF00FF"/>
<path d="M120.9 844.1C123.5 838.3 133 849.4 136.1 853.9C139.3 858.4 139.9 865.8 139.9 871.2C139.9 876.5 139.3 883.1 136.1 886C133 888.9 123.5 895.5 120.9 888.5C118.4 881.5 118.4 849.8 120.9 844.1Z" fill="#9966CC"/>
<path d="M239.9 814.5C240.8 809.5 243.7 802.1 247.5 797.2C251.3 792.3 256.8 787.7 262.7 784.8C268.6 782 275.4 779.9 283 779.9C290.6 779.9 299.8 784.8 308.3 784.8C316.7 784.8 325.2 781.6 333.6 779.9C342 778.3 351.3 775.2 358.9 775C366.5 774.8 373.7 776.6 379.2 778.7C384.7 780.7 389.1 784.2 391.8 787.3C394.6 790.4 396.9 793.5 395.6 797.2C394.4 800.9 388.7 805.8 384.2 809.5C379.8 813.2 373.3 816.5 369 819.4C364.8 822.3 362.3 824.5 358.9 826.8C355.5 829 353.4 832.5 348.8 833C344.1 833.4 337.4 831.1 331.1 829.3C324.7 827.4 317.1 822.3 310.8 821.9C304.5 821.4 299 824.7 293.1 826.8C287.2 828.8 280.9 832.1 275.4 834.2C269.9 836.2 264.4 839.1 260.2 839.1C256 839.1 253 836.2 250.1 834.2C247.1 832.1 244.1 830.1 242.5 826.8C240.8 823.5 239.1 819.4 239.9 814.5Z" fill="#990000"/>
<path d="M253.9 816.9C253.9 812.8 257 804.2 260.2 799.7C263.3 795.1 267.4 791 272.8 789.8C278.3 788.5 286.3 790.2 293.1 792.3C299.8 794.3 306.6 802.1 313.3 802.1C320.1 802.1 326.8 795.1 333.6 792.3C340.4 789.4 347.1 785.7 353.9 784.8C360.6 784 369 785.3 374.1 787.3C379.2 789.4 384.2 793.5 384.2 797.2C384.2 800.9 378.3 805.8 374.1 809.5C369.9 813.2 363.6 816.9 358.9 819.4C354.3 821.9 351.3 824.7 346.3 824.3C341.2 823.9 334.4 819 328.5 816.9C322.6 814.9 316.7 812 310.8 812C304.9 812 299 814.9 293.1 816.9C287.2 819 280.9 823.1 275.4 824.3C269.9 825.6 263.8 825.6 260.2 824.3C256.6 823.1 253.9 821 253.9 816.9Z" fill="#FF00FF"/>
<path d="M269 802.1C269 799.7 272.2 796.2 275.4 794.7C278.5 793.3 284.2 792.5 288 793.5C291.8 794.5 298.2 798.4 298.2 800.9C298.2 803.4 291.8 806.8 288 808.3C284.2 809.7 278.5 810.5 275.4 809.5C272.2 808.5 269 804.6 269 802.1Z" fill="#9966CC"/>
<path d="M342.5 797.2C342.9 793.5 345.6 789.4 348.8 787.3C352 785.3 357.7 784 361.4 784.8C365.2 785.7 370.3 789.4 371.6 792.3C372.8 795.1 371.2 799.2 369 802.1C366.9 805 362.7 808.3 358.9 809.5C355.1 810.8 349 811.6 346.3 809.5C343.5 807.5 342 800.9 342.5 797.2Z" fill="#9966CC"/>
<path d="M418.4 783.6C419 781.3 435.1 782 439.9 782.4C444.8 782.8 456.6 785.3 460.2 787.3C463.7 789.3 468.5 795.6 470.3 799.7C472.1 803.7 473.6 818.1 475.4 821.9C477.1 825.6 482.5 828.8 485.5 831.7C488.5 834.6 500.7 844.2 500.7 846.5C500.7 848.8 487 849.7 485.5 851.5C484 853.2 488.6 859 488 861.3C487.4 863.6 480.7 867.7 480.4 871.2C480.1 874.6 485.2 886.9 485.5 890.9C485.8 895 484.7 901.1 483 905.7C481.2 910.3 477.1 927.5 470.3 930.4C463.5 933.3 430.6 933.3 424.7 930.4C418.8 927.5 419.7 911.5 419.7 905.7C419.7 900 423 885.7 424.7 881.1C426.5 876.5 432.2 870.9 434.9 866.3C437.5 861.7 446.3 846.8 447.5 841.6C448.7 836.4 446.5 826.5 445 821.9C443.5 817.2 438 806.6 434.9 802.1C431.8 797.7 417.8 785.9 418.4 783.6Z" fill="#990000"/>
<path d="M427.3 788.5C428.1 785.7 439.5 786.3 445 787.3C450.5 788.3 457.2 791.8 460.2 794.7C463.1 797.6 463.6 801.7 462.7 804.6C461.9 807.5 458.9 812 455.1 812C451.3 812 444.6 808.5 439.9 804.6C435.3 800.7 426.4 791.4 427.3 788.5Z" fill="#FF00FF"/>
<path d="M429.8 886C430.6 881.1 437 873.7 439.9 873.7C442.9 873.7 444.6 880.7 447.5 886C450.5 891.3 455.5 898.3 457.7 905.7C459.8 913.1 463.1 926.3 460.2 930.4C457.2 934.5 444.2 934.9 439.9 930.4C435.7 925.9 436.6 910.7 434.9 903.3C433.2 895.9 429 890.9 429.8 886Z" fill="#FF00FF"/>
<path d="M593.1 898.3L617.2 900.8L618.4 930.4L603.2 930.4L599.4 910.7Z" fill="#006600"/>
<path d="M585.5 892.2C585.5 891.2 587.5 889.2 588.5 889.2C589.6 889.2 591.6 891.2 591.6 892.2C591.6 893.1 589.6 895.1 588.5 895.1C587.5 895.1 585.5 893.1 585.5 892.2Z" fill="#006600"/>
<path d="M121 545C136.2 535.2 258 543.8 273.5 545C289 546.2 274.8 555.2 276 557.5C277.2 559.8 283 566 286 567.5C289 569 302.2 571.5 306 572.5C309.8 573.5 321 575.8 323.5 577.5C326 579.2 329.8 586.5 331 590C332.2 593.5 334.5 608.8 336 612.5C337.5 616.2 348 625.1 346 627.5C344 629.9 321.5 634.5 316 636.2C310.5 638 295 643.4 291 645C287 646.6 279.5 653.1 276 652.5C272.5 651.9 260.8 640.6 256 638.8C251.2 636.9 235 634 228.5 633.8C222 633.5 198.5 635.6 191 636.2C183.5 636.9 160.5 639.3 153.5 640C146.5 640.7 124.2 652.5 121 643C117.8 633.5 105.8 554.8 121 545Z" fill="#FFFF00"/>
<path d="M121 545C135 537 247.5 542.5 261 545C274.5 547.5 256.5 565.5 256 570C255.5 574.5 255 587 256 590C257 593 263 598.8 266 600C269 601.2 282 602.4 286 602.5C290 602.6 303.2 600.8 306 601.2C308.8 601.8 313 605.6 313.5 607.5C314 609.4 312.8 618 311 620C309.2 622 299.5 626.1 296 627.5C292.5 628.9 280 633.6 276 633.8C272 633.9 259.5 629.6 256 628.8C252.5 627.9 244.5 625.6 241 625C237.5 624.4 226 622.6 221 622.5C216 622.4 197.8 623.4 191 623.8C184.2 624.1 160.5 626.1 153.5 626.2C146.5 626.4 124.2 633.6 121 625.5C117.8 617.4 107 553 121 545Z" fill="#FF9900"/>
<path d="M121 545C135.3 542.1 238.9 541.2 253.5 545C268.1 548.8 246.9 571.1 246 577.5C245.1 583.9 246.6 595.9 246 600C245.4 604.1 243.6 610.8 241 612.5C238.4 614.2 228.5 614.6 223.5 615C218.5 615.4 204.6 615.8 198.5 616.2C192.4 616.7 176.8 618.9 171 618.8C165.2 618.6 152.6 617.5 148.5 615C144.4 612.5 138 602.8 136 597.5C134 592.2 132.8 576.1 131 570C129.2 563.9 106.7 547.9 121 545Z" fill="#FF0000"/>
<path d="M131 545C143.5 542.4 233.2 541.2 246 545C258.8 548.8 242.2 570.8 241 577.5C239.8 584.2 238.3 598.7 236 602.5C233.7 606.3 225.4 609 221 610C216.6 611 204 611 198.5 611.2C193 611.5 178.8 612.9 173.5 612.5C168.2 612.1 157 610.1 153.5 607.5C150 604.9 145.2 594.7 143.5 590C141.8 585.3 140 572.8 138.5 567.5C137 562.2 118.5 547.6 131 545Z" fill="#CC0000"/>
<path d="M153.5 560C154.1 556.2 157 546.8 166 545C175 543.2 223.7 542.1 231 545C238.3 547.9 228.8 564.8 228.5 570C228.2 575.2 229.4 585.9 228.5 590C227.6 594.1 223.9 602.4 221 605C218.1 607.6 207.6 612.1 203.5 612.5C199.4 612.9 189.8 610.5 186 608.8C182.2 607 173.9 601.1 171 597.5C168.1 593.9 163 581.9 161 577.5C159 573.1 152.9 563.8 153.5 560Z" fill="#990000"/>
<path d="M192.2 577.5C192 573.8 193.1 569.8 194.8 567.5C196.4 565.2 199.5 563.3 202.2 563.8C205 564.2 208.8 566.9 211 570C213.2 573.1 215.3 578.5 215.5 582.5C215.7 586.5 214.2 591.3 212.2 593.8C210.2 596.2 206.2 597.6 203.5 597C200.8 596.4 197.9 593.2 196 590C194.1 586.8 192.5 581.2 192.2 577.5Z" fill="#FF00FF"/>
<ellipse cx="266" cy="618" rx="2.5" ry="3" fill="#FF0000" transform="rotate(0 266 618)"/>
<ellipse cx="275.5" cy="618.8" rx="2" ry="2" fill="#FF0000" transform="rotate(0 275.5 618.8)"/>
<path d="M158.5 695C158.8 691.3 163 683.7 166 680C169 676.3 176.7 670.5 181 667.5C185.3 664.5 193.8 660.2 198.5 657.5C203.2 654.8 211.3 648.8 216 647.5C220.7 646.2 228.8 646.5 233.5 647.5C238.2 648.5 247.3 652 251 655C254.7 658 257.7 666.7 261 670C264.3 673.3 271.3 678.7 276 680C280.7 681.3 290.7 679.7 296 680C301.3 680.3 311.3 680.5 316 682.5C320.7 684.5 328 691 331 695C334 699 337.8 707.8 338.5 712.5C339.2 717.2 338 725.7 336 730C334 734.3 327.5 742 323.5 745C319.5 748 311 751.2 306 752.5C301 753.8 292 754.8 286 755C280 755.2 267.7 753.8 261 753.8C254.3 753.8 242 755.8 236 755C230 754.2 220 750.5 216 747.5C212 744.5 208.7 736.2 206 732.5C203.3 728.8 199.7 722.3 196 720C192.3 717.7 182.8 716.7 178.5 715C174.2 713.3 166.2 710.2 163.5 707.5C160.8 704.8 158.2 698.7 158.5 695Z" fill="#00FF00"/>
<path d="M171 692.5C170.7 689.8 175.8 684.5 178.5 682.5C181.2 680.5 188 679.2 191 677.5C194 675.8 198.3 672.3 201 670C203.7 667.7 207.7 661.7 211 660C214.3 658.3 222 656.7 226 657C230 657.3 238 660.1 241 662.5C244 664.9 247 671.3 248.5 675C250 678.7 252.6 686 252.2 690C251.9 694 247.2 701.7 246 705C244.8 708.3 242.8 712.3 243.5 715C244.2 717.7 248.7 723.3 251 725C253.3 726.7 258.3 728.2 261 727.5C263.7 726.8 268.7 722.7 271 720C273.3 717.3 276.2 710.5 278.5 707.5C280.8 704.5 285.5 699.7 288.5 697.5C291.5 695.3 297.3 691.6 301 691.2C304.7 690.9 312.7 692.8 316 695C319.3 697.2 324.5 704.2 326 707.5C327.5 710.8 328.2 716.7 327.2 720C326.2 723.3 321.3 729.8 318.5 732.5C315.7 735.2 310 738.3 306 740C302 741.7 293.5 744.3 288.5 745C283.5 745.7 273.8 745.2 268.5 745C263.2 744.8 253.2 743.8 248.5 743.8C243.8 743.8 237.2 745.8 233.5 745C229.8 744.2 223.3 740.2 221 737.5C218.7 734.8 217.3 728 216 725C214.7 722 213.7 717 211 715C208.3 713 200 711.7 196 710C192 708.3 184.3 704.8 181 702.5C177.7 700.2 171.3 695.2 171 692.5Z" fill="#0000FF"/>
<path d="M208.5 682.5C209.5 678.8 211 673.1 213.5 670C216 666.9 220 664.2 223.5 663.8C227 663.3 232 665.2 234.8 667.5C237.5 669.8 239.3 673.8 239.8 677.5C240.2 681.2 239.1 686.9 237.2 690C235.4 693.1 232 695.6 228.5 696.2C225 696.9 219.5 694.4 216 693.8C212.5 693.1 208.5 694.4 207.2 692.5C206 690.6 207.5 686.2 208.5 682.5Z" fill="#0099FF"/>
<path d="M273.5 732.5C273.5 729.2 276 724.2 278.5 720C281 715.8 284.8 710.6 288.5 707.5C292.2 704.4 296.8 702.1 301 701.2C305.2 700.4 310.4 700.6 313.5 702.5C316.6 704.4 319.3 708.8 319.8 712.5C320.2 716.2 318.3 721.2 316 725C313.7 728.8 310.2 732.5 306 735C301.8 737.5 295.6 739.2 291 740C286.4 740.8 281.4 741.2 278.5 740C275.6 738.8 273.5 735.8 273.5 732.5Z" fill="#0099FF"/>
<path d="M244.8 712.5C244.8 709 247.9 707.1 251 705C254.1 702.9 259.8 700 263.5 700C267.2 700 272 702.1 273.5 705C275 707.9 273.9 714 272.2 717.5C270.6 721 267 724.8 263.5 726.2C260 727.7 254.1 728.5 251 726.2C247.9 724 244.8 716 244.8 712.5Z" fill="#00FF00"/>
<ellipse cx="260.5" cy="711.2" rx="3.8" ry="4.5" fill="#00CC00" transform="rotate(0 260.5 711.2)"/>
<path d="M362.2 682.5C361.8 678.8 361.6 674.8 363.5 672.5C365.4 670.2 370 669.2 373.5 668.8C377 668.3 382 667.7 384.8 670C387.5 672.3 389.3 678.3 389.8 682.5C390.2 686.7 389.5 692.1 387.2 695C385 697.9 379.5 700 376 700C372.5 700 368.3 697.9 366 695C363.7 692.1 362.7 686.2 362.2 682.5Z" fill="#FFFF00"/>
<path d="M575 545C583.5 542.4 641.2 533.9 650 545C658.8 556.1 652.3 628.3 650 640C647.7 651.7 635.2 645 630 645C624.8 645 610 642.6 605 640C600 637.4 589 626.9 587.5 622.5C586 618.1 592.5 606.6 592.5 602.5C592.5 598.4 589.2 591.6 587.5 587.5C585.8 583.4 579 572.5 577.5 567.5C576 562.5 566.5 547.6 575 545Z" fill="#006600"/>
<path d="M607.5 622.5C608.3 618.5 623.3 614.2 630 612.5C636.7 610.8 644.6 609.6 647.5 612.5C650.4 615.4 651.2 626 647.5 630C643.8 634 631.7 637.5 625 636.2C618.3 635 606.7 626.5 607.5 622.5Z" fill="#009900"/>
<path d="M602.5 555C604.6 551.7 620.4 549.2 625 550C629.6 550.8 632.1 556.7 630 560C627.9 563.3 617.1 570.8 612.5 570C607.9 569.2 600.4 558.3 602.5 555Z" fill="#009900"/>
<path d="M402.5 555C401.9 551.2 388.8 546.2 407.5 545C426.2 543.8 543.2 542.4 562.5 545C581.8 547.6 570.5 562.5 572.5 567.5C574.5 572.5 578 584.9 580 587.5C582 590.1 589.4 588.2 590 590C590.6 591.8 587.3 599.3 585 602.5C582.7 605.7 574.1 614.3 570 617.5C565.9 620.7 555.2 627.4 550 630C544.8 632.6 530.8 638.1 525 640C519.2 641.9 505.2 645.7 500 646.2C494.8 646.8 484.7 646.3 480 645C475.3 643.7 464.4 637.9 460 635C455.6 632.1 446.3 624.1 442.5 620C438.7 615.9 431 605 427.5 600C424 595 415.4 582.8 412.5 577.5C409.6 572.2 403.1 558.8 402.5 555Z" fill="#FFFF00"/>
<path d="M427.5 545C440.9 541.2 532.9 542.4 547.5 545C562.1 547.6 551.6 562.5 552.5 567.5C553.4 572.5 555.3 583.1 555 587.5C554.7 591.9 552.3 600.9 550 605C547.7 609.1 539.1 619.3 535 622.5C530.9 625.7 520 630.8 515 632.5C510 634.2 497.5 637.5 492.5 637.5C487.5 637.5 476.9 634.5 472.5 632.5C468.1 630.5 458.8 623.8 455 620C451.2 616.2 442.6 605 440 600C437.4 595 434 583.9 432.5 577.5C431 571.1 414.1 548.8 427.5 545Z" fill="#FF9900"/>
<path d="M445 590C445 584.6 447.1 575.4 450 570C452.9 564.6 457.5 560.6 462.5 557.5C467.5 554.4 473.8 552.1 480 551.2C486.2 550.4 493.3 550.6 500 552.5C506.7 554.4 514.6 558.3 520 562.5C525.4 566.7 529.6 572.1 532.5 577.5C535.4 582.9 537.9 589.2 537.5 595C537.1 600.8 533.8 607.5 530 612.5C526.2 617.5 520.8 621.9 515 625C509.2 628.1 501.2 630.8 495 631.2C488.8 631.7 483.3 630.2 477.5 627.5C471.7 624.8 464.6 619.2 460 615C455.4 610.8 452.5 606.7 450 602.5C447.5 598.3 445 595.4 445 590Z" fill="#FF0000"/>
<path d="M458.8 597.5C458.8 592.9 459.4 586.5 462.5 582.5C465.6 578.5 472.1 575.6 477.5 573.8C482.9 571.9 489.6 570.6 495 571.2C500.4 571.9 506.2 574 510 577.5C513.8 581 516.7 587.1 517.5 592.5C518.3 597.9 517.5 605 515 610C512.5 615 507.1 619.8 502.5 622.5C497.9 625.2 492.5 626.7 487.5 626.2C482.5 625.8 476.7 622.7 472.5 620C468.3 617.3 464.8 613.8 462.5 610C460.2 606.2 458.8 602.1 458.8 597.5Z" fill="#CC0000"/>
<path d="M473.8 607.5C473.8 604.4 474.4 601.2 477.5 598.8C480.6 596.2 488.3 592.3 492.5 592.5C496.7 592.7 500.4 596.7 502.5 600C504.6 603.3 505.8 608.8 505 612.5C504.2 616.2 500.4 620.4 497.5 622.5C494.6 624.6 490.8 625.8 487.5 625C484.2 624.2 479.8 620.4 477.5 617.5C475.2 614.6 473.8 610.6 473.8 607.5Z" fill="#990000"/>
<path d="M466.2 690C466.6 686 471.5 678.3 475 675C478.5 671.7 486.8 666.7 492.5 665C498.2 663.3 510.8 662.5 517.5 662.5C524.2 662.5 536.8 664.7 542.5 665C548.2 665.3 555.7 664 560 665C564.3 666 571.3 669.5 575 672.5C578.7 675.5 583.8 683.8 587.5 687.5C591.2 691.2 598.8 697 602.5 700C606.2 703 613 706.7 615 710C617 713.3 618.2 721 617.5 725C616.8 729 613.3 737 610 740C606.7 743 597.5 746.8 592.5 747.5C587.5 748.2 576.8 746.7 572.5 745C568.2 743.3 563.7 737 560 735C556.3 733 549.7 731 545 730C540.3 729 530.3 728.5 525 727.5C519.7 726.5 510 724.2 505 722.5C500 720.8 491.8 717.3 487.5 715C483.2 712.7 475.3 708.3 472.5 705C469.7 701.7 465.9 694 466.2 690Z" fill="#00FF00"/>
<path d="M485 687.5C485 684.8 487.3 679.3 490 677.5C492.7 675.7 500.3 673.6 505 673.8C509.7 673.9 520 677.9 525 678.8C530 679.6 538.5 680.3 542.5 680C546.5 679.7 551.7 675.6 555 676.2C558.3 676.9 564.5 681.8 567.5 685C570.5 688.2 574.5 697 577.5 700C580.5 703 586.7 705.8 590 707.5C593.3 709.2 600.5 710.5 602.5 712.5C604.5 714.5 605.3 719.8 605 722.5C604.7 725.2 602.7 730.5 600 732.5C597.3 734.5 588.7 737.5 585 737.5C581.3 737.5 575.2 734.5 572.5 732.5C569.8 730.5 567.7 724.5 565 722.5C562.3 720.5 556.5 718.3 552.5 717.5C548.5 716.7 539.7 716.9 535 716.2C530.3 715.6 521.8 714 517.5 712.5C513.2 711 506.2 707 502.5 705C498.8 703 492.3 699.8 490 697.5C487.7 695.2 485 690.2 485 687.5Z" fill="#0000FF"/>
<path d="M460 772.5C459.2 771.8 475.5 770.5 480 770C484.5 769.5 500 768 505 767.5C510 767 525 765.5 530 765C535 764.5 550.5 762.2 555 762.5C559.5 762.8 571.5 765.5 575 767.5C578.5 769.5 587 780 590 782.5C593 785 602.2 792.5 605 792.5C607.8 792.5 615.2 785.8 617.5 782.5C619.8 779.2 625.8 764.2 627.5 760C629.2 755.8 632.8 743 635 740C637.2 737 648.5 710.8 650 730C651.5 749.2 654.5 912.2 650 932.5C645.5 952.8 610.8 934.8 605 932.5C599.2 930.2 595 914.2 592.5 910C590 905.8 582.5 894 580 890C577.5 886 570 874 567.5 870C565 866 557.2 854 555 850C552.8 846 546.2 834 545 830C543.8 826 543 813.5 542.5 810C542 806.5 542.2 796.5 540 795C537.8 793.5 523.5 795.5 520 795C516.5 794.5 508.2 791.8 505 790C501.8 788.2 492 779.2 487.5 777.5C483 775.8 460.8 773.2 460 772.5Z" fill="#FFFF00"/>
<path d="M121 746.2C124.2 741.6 147.8 748 153.5 748.8C159.2 749.5 174 752.4 178.5 753.8C183 755.1 194.8 761 198.5 762.5C202.2 764 211.8 768.5 216 768.8C220.2 769 236 766 241 765C246 764 261 759.5 266 758.8C271 758 286 757.9 291 757.5C296 757.1 311 755.8 316 755C321 754.2 336.2 751.2 341 750C345.8 748.8 358.5 742.8 363.5 742.5C368.5 742.2 385.8 746.5 391 747.5C396.2 748.5 411.5 752.6 416 752.5C420.5 752.4 432.5 745.5 436 746.2C439.5 747 448 757.9 451 760C454 762.1 464.1 766.2 466 767.5C467.9 768.8 468.6 769.8 470 772.5C471.4 775.2 514.9 792.8 480 795C445.1 797.2 156.9 799.9 121 795C85.1 790.1 117.8 750.9 121 746.2Z" fill="#FFFF00"/>
<path d="M121 761.2C124.2 744 147.8 759.6 153.5 760C159.2 760.4 174 763.5 178.5 765C183 766.5 194.8 773.2 198.5 775C202.2 776.8 212.5 782.5 216 782.5C219.5 782.5 230 776.5 233.5 775C237 773.5 246.8 768.4 251 767.5C255.2 766.6 270.5 766.5 276 766.2C281.5 766 300.5 765.4 306 765C311.5 764.6 326 763.2 331 762.5C336 761.8 351.2 758.2 356 757.5C360.8 756.8 373.8 754.9 378.5 755C383.2 755.1 398.5 758.2 403.5 758.8C408.5 759.2 423.8 758.9 428.5 760C433.2 761.1 447.9 768.6 451 770C454.1 771.4 457.1 773.1 460 773.8C462.9 774.4 475.5 774.6 480 776.2C484.5 777.9 501 788.1 505 790C509 791.9 516.5 794.5 520 795C523.5 795.5 537.8 793.5 540 795C542.2 796.5 542 806.5 542.5 810C543 813.5 543.8 826 545 830C546.2 834 552.8 846 555 850C557.2 854 565 866 567.5 870C570 874 577.5 886 580 890C582.5 894 590 905.8 592.5 910C595 914.2 652.1 930.2 605 932.5C557.9 934.8 169.4 949.6 121 932.5C72.6 915.4 117.8 778.5 121 761.2Z" fill="#FF9900"/>
<path d="M121 772.5C124.2 756.2 147.8 769.8 153.5 770C159.2 770.2 174 773.4 178.5 775C183 776.6 194.8 784.5 198.5 786.2C202.2 788 212.5 792.6 216 792.5C219.5 792.4 230 786.6 233.5 785C237 783.4 246.8 777.4 251 776.2C255.2 775.1 270.5 774.1 276 773.8C281.5 773.4 300.5 772.9 306 772.5C311.5 772.1 326 770.8 331 770C336 769.2 351.2 765.6 356 765C360.8 764.4 373.8 763.5 378.5 763.8C383.2 764 398.5 767 403.5 767.5C408.5 768 423.8 767.9 428.5 768.8C433.2 769.6 447.9 775.1 451 776.2C454.1 777.4 457.4 779.1 460 780C462.6 780.9 474.2 783.2 477.5 785C480.8 786.8 489.8 794.5 492.5 797.5C495.2 800.5 502.5 811.2 505 815C507.5 818.8 515 830.8 517.5 835C520 839.2 527.2 853 530 857.5C532.8 862 542 875.2 545 880C548 884.8 557 899.8 560 905C563 910.2 618.9 929.8 575 932.5C531.1 935.2 166.4 948.5 121 932.5C75.6 916.5 117.8 788.8 121 772.5Z" fill="#FF0000"/>
<path d="M121 790C123.3 772.8 136.3 785.9 141 785C145.7 784.1 156.3 781.9 161 782.5C165.7 783.1 176.9 787.7 181 790C185.1 792.3 193.1 799 196 802.5C198.9 806 204.5 815.6 206 820C207.5 824.4 209.4 837.1 208.5 840C207.6 842.9 201.7 843.8 198.5 845C195.3 846.2 183.3 847.1 181 850C178.7 852.9 178.2 865.3 178.5 870C178.8 874.7 182.6 882.7 183.5 890C184.4 897.3 193.3 927.5 186 932.5C178.7 937.5 128.6 949.1 121 932.5C113.4 915.9 118.7 807.2 121 790Z" fill="#CC0000"/>
<path d="M221 850C221.6 845.6 224.2 835 226 830C227.8 825 233.7 812.2 236 807.5C238.3 802.8 243.1 793.2 246 790C248.9 786.8 256.3 781.8 261 780C265.7 778.2 279.6 775.3 286 775C292.4 774.7 308.1 778.1 316 777.5C323.9 776.9 345.9 770.6 353.5 770C361.1 769.4 375.8 771 381 772.5C386.2 774 394.4 781.6 398.5 782.5C402.6 783.4 411 779.9 416 780C421 780.1 436.4 783.5 441 783.8C445.6 784 450.7 781.8 455 782.5C459.3 783.2 473.1 787.1 477.5 790C481.9 792.9 489.3 802.8 492.5 807.5C495.7 812.2 502.1 824.5 505 830C507.9 835.5 514.6 849.2 517.5 855C520.4 860.8 527.7 874.5 530 880C532.3 885.5 536.9 896.4 537.5 902.5C538.1 908.6 551.3 929 535 932.5C518.7 936 413.2 935.7 397.5 932.5C381.8 929.3 398.5 910.5 400 905C401.5 899.5 407.7 889.7 410 885C412.3 880.3 418 869.7 420 865C422 860.3 426.6 850.2 427.5 845C428.4 839.8 428.4 824.4 427.5 820C426.6 815.6 422.5 809 420 807.5C417.5 806 409.4 806.9 406 807.5C402.6 808.1 394.5 810.8 391 812.5C387.5 814.2 380.1 819.9 376 822.5C371.9 825.1 360.7 832.4 356 835C351.3 837.6 340.7 843 336 845C331.3 847 321.2 850.5 316 852.5C310.8 854.5 296.2 860.2 291 862.5C285.8 864.8 275.1 869.9 271 872.5C266.9 875.1 259.5 882.4 256 885C252.5 887.6 244.5 894.7 241 895C237.5 895.3 228.3 890.7 226 887.5C223.7 884.3 221.6 871.9 221 867.5C220.4 863.1 220.4 854.4 221 850Z" fill="#CC0000"/>
<path d="M121 795C123.9 779 141.3 794.4 146 795C150.7 795.6 158.1 798.5 161 800C163.9 801.5 168.7 807.2 171 807.5C173.3 807.8 178.7 801.9 181 802.5C183.3 803.1 189.2 809.9 191 812.5C192.8 815.1 196.6 823 196 825C195.4 827 189.5 829.4 186 830C182.5 830.6 169.8 829.1 166 830C162.2 830.9 155.5 834.9 153.5 837.5C151.5 840.1 147.9 848.7 148.5 852.5C149.1 856.3 157 865.6 158.5 870C160 874.4 161 882.7 161 890C161 897.3 163.2 927.5 158.5 932.5C153.8 937.5 125.4 948.5 121 932.5C116.6 916.5 118.1 811 121 795Z" fill="#990000"/>
<path d="M238.5 815C238.8 810.7 240.8 799.3 243.5 795C246.2 790.7 253.5 784.8 258.5 782.5C263.5 780.2 274 777.5 281 777.5C288 777.5 303.7 782.5 311 782.5C318.3 782.5 329.3 778.8 336 777.5C342.7 776.2 354.7 772.5 361 772.5C367.3 772.5 378.8 775.2 383.5 777.5C388.2 779.8 394.3 786.3 396 790C397.7 793.7 398 801.3 396 805C394 808.7 385.7 814.2 381 817.5C376.3 820.8 367 828.3 361 830C355 831.7 342.3 830.7 336 830C329.7 829.3 319.5 824.7 313.5 825C307.5 825.3 296.7 830.5 291 832.5C285.3 834.5 276 839.3 271 840C266 840.7 257.5 839.2 253.5 837.5C249.5 835.8 243 830.5 241 827.5C239 824.5 238.2 819.3 238.5 815Z" fill="#990000"/>
<path d="M427.5 932.5C422.8 929 424.7 908.3 425 902.5C425.3 896.7 428 886.9 430 882.5C432 878.1 440.2 869.4 442.5 865C444.8 860.6 448.8 849.7 450 845C451.2 840.3 453.4 827.9 452.5 825C451.6 822.1 445.1 822.3 442.5 820C439.9 817.7 432.3 807.9 430 805C427.7 802.1 423.8 797.3 422.5 795C421.2 792.7 417.3 786.5 418.8 785C420.2 783.5 430.8 782.6 435 782.5C439.2 782.4 451.2 782.9 455 783.8C458.8 784.6 465.5 787.5 467.5 790C469.5 792.5 471.6 801.5 472.5 805C473.4 808.5 473.8 816.5 475 820C476.2 823.5 481.9 830.9 482.5 835C483.1 839.1 480.6 850.3 480 855C479.4 859.7 478.1 870.3 477.5 875C476.9 879.7 475.9 890.9 475 895C474.1 899.1 471.2 905.6 470 910C468.8 914.4 470 929.9 465 932.5C460 935.1 432.2 936 427.5 932.5Z" fill="#990000"/>
<path d="M247.2 817.5C246.2 813.7 250.7 801.8 253.5 797.5C256.3 793.2 263.8 787 268.5 785C273.2 783 282.8 781.8 288.5 782.5C294.2 783.2 305 789.8 311 790C317 790.2 327.5 785.4 333.5 783.8C339.5 782.1 350.3 777.8 356 777.5C361.7 777.2 372 779.2 376 781.2C380 783.2 385.3 789.3 386 792.5C386.7 795.7 383.7 801.7 381 805C378.3 808.3 370 814.7 366 817.5C362 820.3 355.3 825.6 351 826.2C346.7 826.9 338.2 824 333.5 822.5C328.8 821 321 815.7 316 815C311 814.3 301 816.2 296 817.5C291 818.8 283.2 823.8 278.5 825C273.8 826.2 265.2 827.2 261 826.2C256.8 825.2 248.2 821.3 247.2 817.5Z" fill="#FF00FF"/>
<path d="M264.8 800C265.6 797.3 267.5 792.9 271 791.2C274.5 789.6 281 789 286 790C291 791 297.7 795.2 301 797.5C304.3 799.8 307.7 801.7 306 803.8C304.3 805.8 296 808.8 291 810C286 811.2 280.2 811.7 276 811.2C271.8 810.8 267.9 809.4 266 807.5C264.1 805.6 263.9 802.7 264.8 800Z" fill="#9966CC"/>
<path d="M341 805C340.6 801.7 345.2 793.3 348.5 790C351.8 786.7 357.2 785 361 785C364.8 785 368.9 787.5 371 790C373.1 792.5 374.8 797.1 373.5 800C372.2 802.9 367.2 805.8 363.5 807.5C359.8 809.2 354.8 810.4 351 810C347.2 809.6 341.4 808.3 341 805Z" fill="#9966CC"/>
<path d="M121 837.5C123.5 822.9 132.2 841.2 136 845C139.8 848.8 141.2 855 143.5 860C145.8 865 149.8 870.4 149.8 875C149.8 879.6 145.8 883.8 143.5 887.5C141.2 891.2 138.1 893.8 136 897.5C133.9 901.2 132.7 904.2 131 910C129.3 915.8 127.7 928.8 126 932.5C124.3 936.2 121.8 948.3 121 932.5C120.2 916.7 118.5 852.1 121 837.5Z" fill="#FF00FF"/>
<path d="M430 795C430 792.9 434.6 791.7 440 791.2C445.4 790.8 458.5 790.2 462.5 792.5C466.5 794.8 464.4 801.2 463.8 805C463.1 808.8 461 813.8 458.8 815C456.5 816.2 453.1 814.4 450 812.5C446.9 810.6 443.3 806.7 440 803.8C436.7 800.8 430 797.1 430 795Z" fill="#FF00FF"/>
<path d="M446.2 932.5C444 928.3 448.5 911.2 450 907.5C451.5 903.8 452.7 905.8 455 910C457.3 914.2 465.2 928.8 463.8 932.5C462.3 936.2 448.5 936.7 446.2 932.5Z" fill="#FF00FF"/>
<ellipse cx="438" cy="897.5" rx="1.2" ry="6.2" fill="#FF00FF" transform="rotate(0 438 897.5)"/>
<path d="M251 932.5C233.7 928.8 255.2 911 258.5 905C261.8 899 271 891.8 276 887.5C281 883.2 290.7 875.8 296 872.5C301.3 869.2 310.7 864.5 316 862.5C321.3 860.5 330.7 859.2 336 857.5C341.3 855.8 351.3 852.3 356 850C360.7 847.7 367.7 843.3 371 840C374.3 836.7 378.3 828.3 381 825C383.7 821.7 387.7 816.7 391 815C394.3 813.3 402.3 811.5 406 812.5C409.7 813.5 416.5 818.8 418.5 822.5C420.5 826.2 421.3 834.3 421 840C420.7 845.7 417.3 859 416 865C414.7 871 413.3 879.7 411 885C408.7 890.3 401.5 898.7 398.5 905C395.5 911.3 408.2 928.8 388.5 932.5C368.8 936.2 268.3 936.2 251 932.5Z" fill="#FF9900"/>
<path d="M296 907.5C295.6 900 298.5 891.7 301 887.5C303.5 883.3 307.2 882.1 311 882.5C314.8 882.9 319.3 889.6 323.5 890C327.7 890.4 331.4 887.1 336 885C340.6 882.9 346.4 878.3 351 877.5C355.6 876.7 361 877.5 363.5 880C366 882.5 366.8 888.8 366 892.5C365.2 896.2 361 898.8 358.5 902.5C356 906.2 352.7 910 351 915C349.3 920 356.4 929.6 348.5 932.5C340.6 935.4 312.2 936.7 303.5 932.5C294.8 928.3 296.4 915 296 907.5Z" fill="#FFFF00"/>
<path d="M308.5 910C309.1 906.9 313.1 901.2 316 900C318.9 898.8 323.9 900.4 326 902.5C328.1 904.6 329.3 909.6 328.5 912.5C327.7 915.4 323.7 919 321 920C318.3 921 314.3 920.4 312.2 918.8C310.2 917.1 307.9 913.1 308.5 910Z" fill="#FF9900"/>
<ellipse cx="396" cy="832.5" rx="14.5" ry="16" fill="#FFFF00" transform="rotate(0 396 832.5)"/>
<ellipse cx="395.5" cy="830.5" rx="6" ry="6" fill="#006600" transform="rotate(20 395.5 830.5)"/>
<path d="M540 910C539.2 903.3 547.1 888.3 550 885C552.9 881.7 554.6 885.8 557.5 890C560.4 894.2 565.4 904.6 567.5 910C569.6 915.4 572.1 920 570 922.5C567.9 925 560 927.1 555 925C550 922.9 540.8 916.7 540 910Z" fill="#FF0000"/>
</g>
<use href="#ol" class="ol" transform="translate(124.7 551.5) scale(1.0101 0.9951)"/>
<path d="M115 549.5H126M115 572.8H126M115 596.2H126M115 619.5H126M115 642.9H126M115 666.2H126M115 689.6H126M115 712.9H126M115 736.2H126M115 759.6H126M115 782.9H126M115 806.3H126M115 829.6H126M115 853H126M115 876.3H126M115 899.7H126M115 923H126M126 923V934M158.4 923V934M190.9 923V934M223.3 923V934M255.8 923V934M288.2 923V934M320.6 923V934M353.1 923V934M385.5 923V934M417.9 923V934M450.4 923V934M482.8 923V934M515.2 923V934M547.7 923V934M580.1 923V934M612.6 923V934M645 923V934" stroke="#7f7f7f" stroke-width="2" fill="none"/>
<text x="107.5" y="556.7" class="e">52.06</text>
<text x="107.5" y="603.4" class="e">52.04</text>
<text x="107.5" y="650.1" class="e">52.03</text>
<text x="107.5" y="696.8" class="e">52.01</text>
<text x="107.5" y="743.5" class="e">52.00</text>
<text x="107.5" y="790.1" class="e">51.98</text>
<text x="107.5" y="836.8" class="e">51.96</text>
<text x="107.5" y="883.5" class="e">51.95</text>
<text x="107.5" y="930.2" class="e">51.93</text>
<text x="126" y="958.7" class="m">22.45</text>
<text x="190.9" y="958.7" class="m">22.47</text>
<text x="255.8" y="958.7" class="m">22.50</text>
<text x="320.6" y="958.7" class="m">22.52</text>
<text x="385.5" y="958.7" class="m">22.54</text>
<text x="450.4" y="958.7" class="m">22.56</text>
<text x="515.2" y="958.7" class="m">22.59</text>
<text x="580.1" y="958.7" class="m">22.61</text>
<text x="645" y="958.7" class="m">22.63</text>
<text x="385" y="987.2" class="m">Longitude (°)</text>
<text x="49.7" y="736" class="m" transform="rotate(-90 49.7 736)">Latitude (°)</text>
<rect x="655" y="611.3" width="20" height="21.4" fill="#9966CC"/>
<rect x="655" y="632.4" width="20" height="21.4" fill="#FF00FF"/>
<rect x="655" y="653.5" width="20" height="21.4" fill="#990000"/>
<rect x="655" y="674.6" width="20" height="21.4" fill="#CC0000"/>
<rect x="655" y="695.7" width="20" height="21.4" fill="#FF0000"/>
<rect x="655" y="716.8" width="20" height="21.4" fill="#FF9900"/>
<rect x="655" y="737.9" width="20" height="21.4" fill="#FFFF00"/>
<rect x="655" y="759" width="20" height="21.4" fill="#006600"/>
<rect x="655" y="780.1" width="20" height="21.4" fill="#009900"/>
<rect x="655" y="801.2" width="20" height="21.4" fill="#00CC00"/>
<rect x="655" y="822.3" width="20" height="21.4" fill="#00FF00"/>
<rect x="655" y="843.4" width="20" height="21.4" fill="#0000FF"/>
<rect x="655" y="864.5" width="20" height="21.4" fill="#0099FF"/>
<rect x="655" y="885.6" width="20" height="21.4" fill="#00CCFF"/>
<text x="704" y="595.2" style="font-size:19.5px">40</text>
<text x="704" y="616.3" style="font-size:19.5px">38</text>
<text x="704" y="637.4" style="font-size:19.5px">36</text>
<text x="704" y="658.5" style="font-size:19.5px">34</text>
<text x="704" y="679.6" style="font-size:19.5px">32</text>
<text x="704" y="700.7" style="font-size:19.5px">30</text>
<text x="704" y="721.8" style="font-size:19.5px">28</text>
<text x="704" y="742.9" style="font-size:19.5px">26</text>
<text x="704" y="764" style="font-size:19.5px">24</text>
<text x="704" y="785.1" style="font-size:19.5px">22</text>
<text x="704" y="806.2" style="font-size:19.5px">20</text>
<text x="704" y="827.3" style="font-size:19.5px">18</text>
<text x="704" y="848.4" style="font-size:19.5px">16</text>
<text x="704" y="869.5" style="font-size:19.5px">14</text>
<text x="704" y="890.6" style="font-size:19.5px">12</text>
<text x="704" y="911.7" style="font-size:19.5px">10</text>
<text x="668.5" y="566.5" style="font-size:19px">Silt (%)</text>
</g>
<g id="p04">
<clipPath id="c4"><rect x="890.5" y="552.5" width="517" height="371.5"/></clipPath>
<g clip-path="url(#c4)">
<rect x="890.5" y="552.5" width="517" height="371.5" fill="#00FF00"/>
<path d="M1007.5 627.5C1008.1 625.8 1016.8 620.6 1020 620C1023.2 619.4 1030.9 623.7 1035 622.5C1039.1 621.3 1051.5 613.8 1055 610C1058.5 606.2 1063.2 594.4 1065 590C1066.8 585.6 1067.4 575.1 1070 572.5C1072.6 569.9 1085.2 570.4 1087.5 567.5C1089.8 564.6 1070.9 549.8 1090 547.5C1109.1 545.2 1232.2 532 1251 547.5C1269.8 563 1256.4 663.4 1251 680C1245.6 696.6 1213.3 688.8 1205 690C1196.7 691.2 1185.2 691.2 1180 690C1174.8 688.8 1165.8 681.8 1160 680C1154.2 678.2 1135.2 673.8 1130 675C1124.8 676.2 1118.5 690.6 1115 690C1111.5 689.4 1103.2 675.2 1100 670C1096.8 664.8 1089.8 646.8 1087.5 645C1085.2 643.2 1082.6 652.7 1080 655C1077.4 657.3 1068.5 664.4 1065 665C1061.5 665.6 1052.9 662.3 1050 660C1047.1 657.7 1042.3 647.6 1040 645C1037.7 642.4 1032.9 638.7 1030 637.5C1027.1 636.3 1017.6 636.2 1015 635C1012.4 633.8 1006.9 629.2 1007.5 627.5Z" fill="#00CC00"/>
<path d="M1225 547.5C1245.4 536.7 1338.3 542.5 1350 547.5C1361.7 552.5 1330.8 580.7 1325 590C1319.2 599.3 1304.1 620.2 1300 627.5C1295.9 634.8 1293.5 648.7 1290 652.5C1286.5 656.3 1274.7 659.4 1270 660C1265.3 660.6 1253.2 655.8 1250 657.5C1246.8 659.2 1244.2 670 1242.5 675C1240.8 680 1237 695.3 1235 700C1233 704.7 1228.5 715 1225 715C1221.5 715 1209.1 704.1 1205 700C1200.9 695.9 1193.5 687 1190 680C1186.5 673 1170.9 655.5 1175 640C1179.1 624.5 1204.6 558.3 1225 547.5Z" fill="#00CC00"/>
<path d="M1055 765C1059.1 759.2 1074.2 743.5 1080 740C1085.8 736.5 1099.2 737.9 1105 735C1110.8 732.1 1124.2 716.8 1130 715C1135.8 713.2 1149.2 718.2 1155 720C1160.8 721.8 1174.2 730.6 1180 730C1185.8 729.4 1199.2 715.3 1205 715C1210.8 714.7 1225.9 724.6 1230 727.5C1234.1 730.4 1234.8 738 1240 740C1245.2 742 1268 742.1 1275 745C1282 747.9 1294.2 760.3 1300 765C1305.8 769.7 1319.2 782.1 1325 785C1330.8 787.9 1344.2 788.8 1350 790C1355.8 791.2 1367.4 797.9 1375 795C1382.6 792.1 1410.3 749 1415 765C1419.7 781 1465.8 913 1415 932.5C1364.2 952 1031.3 940.4 980 932.5C928.7 924.6 974.4 874 975 865C975.6 856 982.1 857.9 985 855C987.9 852.1 996.5 844.1 1000 840C1003.5 835.9 1011.5 823.5 1015 820C1018.5 816.5 1026.5 813.5 1030 810C1033.5 806.5 1042.1 795.2 1045 790C1047.9 784.8 1050.9 770.8 1055 765Z" fill="#00CC00"/>
<path d="M887.5 790C891 774 912.5 791.5 917.5 795C922.5 798.5 926.8 814.8 930 820C933.2 825.2 939.8 836.5 945 840C950.2 843.5 970.3 847.1 975 850C979.7 852.9 984.4 855.4 985 865C985.6 874.6 991.4 924.6 980 932.5C968.6 940.4 898.3 949.1 887.5 932.5C876.7 915.9 884 806 887.5 790Z" fill="#00CC00"/>
<path d="M1017.5 577.5C1018.5 571.9 1023.8 570.4 1027.5 571.2C1031.2 572.1 1037.1 577.7 1040 582.5C1042.9 587.3 1045.8 595.2 1045 600C1044.2 604.8 1039 610.4 1035 611.2C1031 612.1 1024.2 610.6 1021.2 605C1018.3 599.4 1016.5 583.1 1017.5 577.5Z" fill="#00CC00"/>
<path d="M957.5 632.5C960.4 629.8 973.3 628.3 980 628.8C986.7 629.2 993.8 631.9 997.5 635C1001.2 638.1 1000.4 642.5 1002.5 647.5C1004.6 652.5 1009.6 660.4 1010 665C1010.4 669.6 1008.3 673.3 1005 675C1001.7 676.7 994.2 677.5 990 675C985.8 672.5 984.6 665 980 660C975.4 655 966.2 649.6 962.5 645C958.8 640.4 954.6 635.2 957.5 632.5Z" fill="#00CC00"/>
<path d="M966.2 775C966.7 772.3 972.1 769 975 768.8C977.9 768.5 982.5 771.5 983.8 773.8C985 776 984.4 780.6 982.5 782.5C980.6 784.4 975.2 786.2 972.5 785C969.8 783.8 965.8 777.7 966.2 775Z" fill="#00CC00"/>
<ellipse cx="1135" cy="607.5" rx="11.2" ry="11.2" fill="#00FF00" transform="rotate(0 1135 607.5)"/>
<ellipse cx="1137.5" cy="642.5" rx="13" ry="12" fill="#00FF00" transform="rotate(0 1137.5 642.5)"/>
<ellipse cx="1175" cy="665" rx="11.2" ry="10" fill="#00FF00" transform="rotate(0 1175 665)"/>
<ellipse cx="1110" cy="762.5" rx="12.5" ry="10" fill="#00FF00" transform="rotate(0 1110 762.5)"/>
<ellipse cx="1110" cy="765" rx="11.2" ry="11.2" fill="#00FF00" transform="rotate(0 1110 765)"/>
<ellipse cx="1147.5" cy="780" rx="12.5" ry="11.2" fill="#00FF00" transform="rotate(0 1147.5 780)"/>
<ellipse cx="1055" cy="825" rx="9.5" ry="12.5" fill="#00FF00" transform="rotate(0 1055 825)"/>
<ellipse cx="1020" cy="905" rx="10.5" ry="13.8" fill="#00FF00" transform="rotate(0 1020 905)"/>
<ellipse cx="1182.5" cy="795" rx="7.5" ry="10" fill="#00FF00" transform="rotate(0 1182.5 795)"/>
<ellipse cx="1107.5" cy="762.5" rx="11.2" ry="10" fill="#00FF00" transform="rotate(0 1107.5 762.5)"/>
<ellipse cx="1295" cy="745" rx="10" ry="10" fill="#00FF00" transform="rotate(0 1295 745)"/>
<ellipse cx="1347.5" cy="757.5" rx="8.8" ry="8.8" fill="#00FF00" transform="rotate(0 1347.5 757.5)"/>
<ellipse cx="1315" cy="680" rx="8.8" ry="8.8" fill="#00FF00" transform="rotate(0 1315 680)"/>
<ellipse cx="1262.5" cy="626.2" rx="17.5" ry="9.5" fill="#00FF00" transform="rotate(0 1262.5 626.2)"/>
<path d="M1290 850C1290 843.6 1297.1 825 1300 820C1302.9 815 1311.2 809 1315 807.5C1318.8 806 1329 805.5 1332.5 807.5C1336 809.5 1341.2 820 1345 825C1348.8 830 1360.3 843.6 1365 850C1369.7 856.4 1379.2 872.4 1385 880C1390.8 887.6 1411.5 908.9 1415 915C1418.5 921.1 1422.6 930.5 1415 932.5C1407.4 934.5 1360.5 936 1350 932.5C1339.5 929 1330.8 909.2 1325 902.5C1319.2 895.8 1304.1 881.1 1300 875C1295.9 868.9 1290 856.4 1290 850Z" fill="#00FF00"/>
<path d="M1205 897.5C1206.7 890.4 1211.7 889.6 1215 890C1218.3 890.4 1222.5 892.9 1225 900C1227.5 907.1 1233.3 927.1 1230 932.5C1226.7 937.9 1209.2 938.3 1205 932.5C1200.8 926.7 1203.3 904.6 1205 897.5Z" fill="#00FF00"/>
<path d="M1380 735C1383.3 726.7 1394.2 726.7 1400 727.5C1405.8 728.3 1412.5 728.8 1415 740C1417.5 751.2 1418.3 784.6 1415 795C1411.7 805.4 1400.8 805.4 1395 802.5C1389.2 799.6 1382.5 788.8 1380 777.5C1377.5 766.2 1376.7 743.3 1380 735Z" fill="#00FF00"/>
<path d="M1350 547.5C1359 544.6 1407.4 530.9 1415 547.5C1422.6 564.1 1418.2 672.2 1415 690C1411.8 707.8 1393.6 703.5 1387.5 700C1381.4 696.5 1368.3 665.5 1362.5 660C1356.7 654.5 1343.3 651.9 1337.5 652.5C1331.7 653.1 1317.5 664.4 1312.5 665C1307.5 665.6 1296.5 661 1295 657.5C1293.5 654 1297.1 641.4 1300 635C1302.9 628.6 1315.6 609.8 1320 602.5C1324.4 595.2 1334 578.9 1337.5 572.5C1341 566.1 1341 550.4 1350 547.5Z" fill="#00FF00"/>
<path d="M1235 700C1235.9 693 1239 679.7 1242.5 675C1246 670.3 1258.9 661.2 1265 660C1271.1 658.8 1288.6 661.5 1295 665C1301.4 668.5 1315 685.9 1320 690C1325 694.1 1336 696.5 1337.5 700C1339 703.5 1336.9 717.7 1332.5 720C1328.1 722.3 1305.5 717.7 1300 720C1294.5 722.3 1290.8 736.8 1285 740C1279.2 743.2 1255.8 748.1 1250 747.5C1244.2 746.9 1236.8 740.5 1235 735C1233.2 729.5 1234.1 707 1235 700Z" fill="#00FF00"/>
<path d="M1325 705C1329.4 698.9 1343.3 700 1350 700C1356.7 700 1378.7 700.3 1382.5 705C1386.3 709.7 1383.4 729.5 1382.5 740C1381.6 750.5 1378.8 788.3 1375 795C1371.2 801.7 1355.8 799.5 1350 797.5C1344.2 795.5 1329.4 782.8 1325 777.5C1320.6 772.2 1312.5 761 1312.5 752.5C1312.5 744 1320.6 711.1 1325 705Z" fill="#00FF00"/>
<path d="M1090 547.5C1113.9 544.6 1278.6 544 1302.5 547.5C1326.4 551 1298.2 571.1 1295 577.5C1291.8 583.9 1278.5 598.1 1275 602.5C1271.5 606.9 1268.5 613.5 1265 615C1261.5 616.5 1248.5 614.1 1245 615C1241.5 615.9 1236.8 619 1235 622.5C1233.2 626 1231.2 640.9 1230 645C1228.8 649.1 1227.9 655.8 1225 657.5C1222.1 659.2 1208.8 657.4 1205 660C1201.2 662.6 1195.4 676.5 1192.5 680C1189.6 683.5 1182.9 690 1180 690C1177.1 690 1169.8 683.5 1167.5 680C1165.2 676.5 1162 662.9 1160 660C1158 657.1 1151.8 657.9 1150 655C1148.2 652.1 1147.3 638.8 1145 635C1142.7 631.2 1132.9 625.4 1130 622.5C1127.1 619.6 1122.9 610.9 1120 610C1117.1 609.1 1107.3 616.8 1105 615C1102.7 613.2 1100.9 600 1100 595C1099.1 590 1098.7 578 1097.5 572.5C1096.3 567 1066.1 550.4 1090 547.5Z" fill="#009900"/>
<path d="M985 855C987.3 852.1 995.9 845.6 1000 845C1004.1 844.4 1015.9 850.3 1020 850C1024.1 849.7 1030.9 842.5 1035 842.5C1039.1 842.5 1049.8 848.5 1055 850C1060.2 851.5 1076.2 852.1 1080 855C1083.8 857.9 1085.2 871.5 1087.5 875C1089.8 878.5 1097.1 883.2 1100 885C1102.9 886.8 1109.6 886.5 1112.5 890C1115.4 893.5 1123.5 910 1125 915C1126.5 920 1140.8 930.5 1125 932.5C1109.2 934.5 1005.8 936 990 932.5C974.2 929 990.6 908 990 902.5C989.4 897 986.2 888.8 985 885C983.8 881.2 980 873.5 980 870C980 866.5 982.7 857.9 985 855Z" fill="#009900"/>
<path d="M1010 905C1010.2 900.6 1013.3 896.7 1016.2 895C1019.2 893.3 1024.8 892.9 1027.5 895C1030.2 897.1 1032.5 903.3 1032.5 907.5C1032.5 911.7 1030.4 917.7 1027.5 920C1024.6 922.3 1017.9 923.8 1015 921.2C1012.1 918.8 1009.8 909.4 1010 905Z" fill="#00FF00"/>
<path d="M887.5 932.5L910 907.5L947.5 882.5L950 888.8L917.5 915L905 932.5Z" fill="#009900"/>
<path d="M887.5 795C890.4 786.7 900.8 788.3 905 790C909.2 791.7 911.7 798.3 912.5 805C913.3 811.7 912.9 824.2 910 830C907.1 835.8 898.8 838.3 895 840C891.2 841.7 888.8 847.5 887.5 840C886.2 832.5 884.6 803.3 887.5 795Z" fill="#009900"/>
<path d="M1185 727.5C1185.8 725.4 1187.5 736.2 1190 740C1192.5 743.8 1196.7 744.6 1200 750C1203.3 755.4 1208.3 765 1210 772.5C1211.7 780 1210.8 789.2 1210 795C1209.2 800.8 1207.5 807.5 1205 807.5C1202.5 807.5 1197.9 800.8 1195 795C1192.1 789.2 1189.2 779.6 1187.5 772.5C1185.8 765.4 1185.4 760 1185 752.5C1184.6 745 1184.2 729.6 1185 727.5Z" fill="#009900"/>
<path d="M1225 752.5C1226.2 747.5 1233.8 743.3 1240 742.5C1246.2 741.7 1257.3 744.2 1262.5 747.5C1267.7 750.8 1271.2 757.5 1271.2 762.5C1271.2 767.5 1266.5 773.8 1262.5 777.5C1258.5 781.2 1252.1 783.3 1247.5 785C1242.9 786.7 1237.5 789.6 1235 787.5C1232.5 785.4 1234.2 778.3 1232.5 772.5C1230.8 766.7 1223.8 757.5 1225 752.5Z" fill="#009900"/>
<path d="M1050 930C1037.5 922.1 1045.8 894.2 1050 885C1054.2 875.8 1065.4 875.4 1075 875C1084.6 874.6 1099.2 877.9 1107.5 882.5C1115.8 887.1 1122.1 894.2 1125 902.5C1127.9 910.8 1137.5 927.9 1125 932.5C1112.5 937.1 1062.5 937.9 1050 930Z" fill="#009900"/>
<ellipse cx="1087.5" cy="831.2" rx="13" ry="9" fill="#009900" transform="rotate(0 1087.5 831.2)"/>
<ellipse cx="1085" cy="830" rx="11.2" ry="8.8" fill="#009900" transform="rotate(0 1085 830)"/>
<ellipse cx="1107.5" cy="746.2" rx="9.5" ry="7.5" fill="#009900" transform="rotate(0 1107.5 746.2)"/>
<ellipse cx="1296.2" cy="776.2" rx="15" ry="7" fill="#009900" transform="rotate(-35 1296.2 776.2)"/>
<ellipse cx="1197.5" cy="828.8" rx="6.2" ry="11.2" fill="#009900" transform="rotate(0 1197.5 828.8)"/>
<ellipse cx="1268.8" cy="649.5" rx="13.8" ry="7.5" fill="#009900" transform="rotate(0 1268.8 649.5)"/>
<ellipse cx="1311.2" cy="733.8" rx="8" ry="7" fill="#009900" transform="rotate(0 1311.2 733.8)"/>
<ellipse cx="1225" cy="717.5" rx="5" ry="7.5" fill="#009900" transform="rotate(0 1225 717.5)"/>
<ellipse cx="1022.5" cy="818.8" rx="6.2" ry="5.5" fill="#009900" transform="rotate(0 1022.5 818.8)"/>
<path d="M1140 547.5C1148.8 545.5 1204.3 544 1212.5 547.5C1220.7 551 1210.3 570.8 1210 577.5C1209.7 584.2 1211.2 600.6 1210 605C1208.8 609.4 1203.5 614.1 1200 615C1196.5 615.9 1183.8 611.6 1180 612.5C1176.2 613.4 1170.4 621.3 1167.5 622.5C1164.6 623.7 1157 624.8 1155 622.5C1153 620.2 1152.3 606.9 1150 602.5C1147.7 598.1 1136.5 589.4 1135 585C1133.5 580.6 1136.9 569.4 1137.5 565C1138.1 560.6 1131.2 549.5 1140 547.5Z" fill="#006600"/>
<ellipse cx="1177.5" cy="873.8" rx="30" ry="15" fill="#009900" transform="rotate(20 1177.5 873.8)"/>
<ellipse cx="1177.5" cy="873.8" rx="23.8" ry="8.8" fill="#006600" transform="rotate(20 1177.5 873.8)"/>
<ellipse cx="1120" cy="791.2" rx="18.8" ry="16.2" fill="#009900" transform="rotate(0 1120 791.2)"/>
<ellipse cx="1120" cy="791.2" rx="11.2" ry="8.8" fill="#006600" transform="rotate(0 1120 791.2)"/>
<ellipse cx="1033.8" cy="743.8" rx="11.2" ry="14.5" fill="#009900" transform="rotate(0 1033.8 743.8)"/>
<ellipse cx="1033.8" cy="743.8" rx="6.2" ry="9.5" fill="#006600" transform="rotate(0 1033.8 743.8)"/>
<ellipse cx="1107.5" cy="746.2" rx="13.2" ry="10.8" fill="#009900" transform="rotate(0 1107.5 746.2)"/>
<ellipse cx="1107.5" cy="746.2" rx="8.8" ry="6.2" fill="#006600" transform="rotate(0 1107.5 746.2)"/>
<ellipse cx="1268.8" cy="649.5" rx="6.2" ry="3.5" fill="#006600" transform="rotate(0 1268.8 649.5)"/>
<path d="M1232.5 750C1233.8 746.9 1242.5 745.8 1247.5 746.2C1252.5 746.7 1259.6 749.4 1262.5 752.5C1265.4 755.6 1266.2 761.2 1265 765C1263.8 768.8 1258.3 772.1 1255 775C1251.7 777.9 1248.1 782.1 1245 782.5C1241.9 782.9 1237.1 780.4 1236.2 777.5C1235.4 774.6 1240.6 769.6 1240 765C1239.4 760.4 1231.2 753.1 1232.5 750Z" fill="#006600"/>
<path d="M990 547.5C993.8 544.8 1018.3 545.6 1022.5 547.5C1026.7 549.4 1018.8 556 1015 558.8C1011.2 561.5 1004.2 565.6 1000 563.8C995.8 561.9 986.2 550.2 990 547.5Z" fill="#0000FF"/>
<ellipse cx="1045" cy="572.5" rx="2.5" ry="3.8" fill="#0000FF" transform="rotate(0 1045 572.5)"/>
<path d="M973.8 590C974.2 587.8 977.3 584.3 980 584.5C982.7 584.7 986.2 590.1 990 591.2C993.8 592.4 999.4 590 1002.5 591.2C1005.6 592.5 1008.3 596.2 1008.8 598.8C1009.2 601.2 1007.3 604.6 1005 606.2C1002.7 607.9 998.3 609.6 995 608.8C991.7 607.9 987.9 603.1 985 601.2C982.1 599.4 979.4 599.4 977.5 597.5C975.6 595.6 973.3 592.2 973.8 590Z" fill="#0000FF"/>
<ellipse cx="930" cy="614.5" rx="6" ry="6" fill="#0000FF" transform="rotate(0 930 614.5)"/>
<ellipse cx="969.5" cy="614.2" rx="5" ry="3.8" fill="#0000FF" transform="rotate(0 969.5 614.2)"/>
<ellipse cx="1043.8" cy="612" rx="13.8" ry="4.5" fill="#0000FF" transform="rotate(-45 1043.8 612)"/>
<ellipse cx="1020" cy="653.8" rx="9.5" ry="8" fill="#0000FF" transform="rotate(0 1020 653.8)"/>
<ellipse cx="980" cy="685" rx="22" ry="7.5" fill="#0000FF" transform="rotate(30 980 685)"/>
<path d="M918.8 730C919.1 726 930 718.7 932.5 715C935 711.3 935.2 704.8 937.5 702.5C939.8 700.2 947 697.5 950 697.5C953 697.5 957.7 700.5 960 702.5C962.3 704.5 964.2 710.8 967.5 712.5C970.8 714.2 982 712.7 985 715C988 717.3 987.3 727.7 990 730C992.7 732.3 1002.2 730.5 1005 732.5C1007.8 734.5 1011.2 742.2 1011.2 745C1011.2 747.8 1007.8 752.2 1005 753.8C1002.2 755.2 993.3 756.4 990 756.2C986.7 756.1 983.3 752.3 980 752.5C976.7 752.7 968.3 755.8 965 757.5C961.7 759.2 956.7 762.7 955 765C953.3 767.3 951.8 772 952.5 775C953.2 778 957.3 784.8 960 787.5C962.7 790.2 970.5 792.7 972.5 795C974.5 797.3 975.7 802.3 975 805C974.3 807.7 967.2 812.3 967.5 815C967.8 817.7 975.7 822.7 977.5 825C979.3 827.3 981.9 830.5 981.2 832.5C980.6 834.5 975.3 839.2 972.5 840C969.7 840.8 963.3 840.1 960 838.8C956.7 837.4 949.5 832.8 947.5 830C945.5 827.2 946.7 820.5 945 817.5C943.3 814.5 937.5 809.8 935 807.5C932.5 805.2 926.9 802.3 926.2 800C925.6 797.7 929 793 930 790C931 787 933.6 781.2 933.8 777.5C933.9 773.8 931.8 766.8 931.2 762.5C930.8 758.2 931.7 749.3 930 745C928.3 740.7 918.4 734 918.8 730Z" fill="#0000FF"/>
<ellipse cx="948.8" cy="712.5" rx="10.5" ry="10.5" fill="#0099FF" transform="rotate(0 948.8 712.5)"/>
<ellipse cx="948.8" cy="712.5" rx="5" ry="5" fill="#00CCFF" transform="rotate(0 948.8 712.5)"/>
<path d="M1007.5 715C1007.5 710.4 1010.4 705.4 1012.5 700C1014.6 694.6 1017.7 684.2 1020 682.5C1022.3 680.8 1022.9 686.7 1026.2 690C1029.6 693.3 1037.3 698.3 1040 702.5C1042.7 706.7 1043.3 710.8 1042.5 715C1041.7 719.2 1038.3 724.8 1035 727.5C1031.7 730.2 1026.2 731.2 1022.5 731.2C1018.8 731.2 1015 730.2 1012.5 727.5C1010 724.8 1007.5 719.6 1007.5 715Z" fill="#0000FF"/>
<ellipse cx="1026.2" cy="714.2" rx="12" ry="12" fill="#0099FF" transform="rotate(0 1026.2 714.2)"/>
<ellipse cx="1026.2" cy="714.2" rx="7.5" ry="7.5" fill="#00CCFF" transform="rotate(0 1026.2 714.2)"/>
<ellipse cx="1078.8" cy="711.2" rx="9.5" ry="8.8" fill="#0000FF" transform="rotate(0 1078.8 711.2)"/>
<ellipse cx="1113" cy="726.2" rx="5" ry="4.5" fill="#0000FF" transform="rotate(0 1113 726.2)"/>
<ellipse cx="1058" cy="745" rx="5.5" ry="6.2" fill="#0000FF" transform="rotate(0 1058 745)"/>
<path d="M1131.2 695C1131.6 691.7 1132.7 686.3 1135 683.8C1137.3 681.2 1141.7 679.3 1145 679.5C1148.3 679.7 1152.6 682 1155 685C1157.4 688 1159.3 693.3 1159.5 697.5C1159.7 701.7 1155.8 705.8 1156.2 710C1156.8 714.2 1161 719.4 1162.5 722.5C1164 725.6 1165.6 727.6 1165 728.8C1164.4 729.9 1160.8 731.8 1158.8 729.5C1156.7 727.2 1155.6 718.2 1152.5 715C1149.4 711.8 1143.2 711.9 1140 710C1136.8 708.1 1134.5 706.2 1133 703.8C1131.5 701.2 1130.9 698.3 1131.2 695Z" fill="#0000FF"/>
<ellipse cx="1144.5" cy="694.5" rx="9.5" ry="10" fill="#0099FF" transform="rotate(0 1144.5 694.5)"/>
<ellipse cx="1144.5" cy="694.5" rx="3.8" ry="3.8" fill="#00CCFF" transform="rotate(0 1144.5 694.5)"/>
<ellipse cx="1222" cy="754.5" rx="18" ry="5.5" fill="#0000FF" transform="rotate(50 1222 754.5)"/>
<path d="M1370 597.5C1371.5 593.8 1373.1 589.6 1375 587.5C1376.9 585.4 1379.8 584 1381.2 585C1382.7 586 1384 590.8 1383.8 593.8C1383.5 596.7 1381.5 599 1380 602.5C1378.5 606 1377.9 610.8 1375 615C1372.1 619.2 1365 627.1 1362.5 627.5C1360 627.9 1359.4 620.4 1360 617.5C1360.6 614.6 1364.6 613.3 1366.2 610C1367.9 606.7 1368.5 601.2 1370 597.5Z" fill="#0000FF"/>
<path d="M1311.2 640C1312.9 636.8 1315 635.1 1317.5 634.5C1320 633.9 1324.5 634.7 1326.2 636.2C1328 637.8 1328.8 641.5 1328 643.8C1327.2 646 1323.6 648.5 1321.2 650C1318.9 651.5 1316.5 650.8 1313.8 652.5C1311 654.2 1308.1 657.6 1305 660C1301.9 662.4 1296.5 666.6 1295 667C1293.5 667.4 1294.2 664.7 1296.2 662.5C1298.3 660.3 1305 657.5 1307.5 653.8C1310 650 1309.6 643.2 1311.2 640Z" fill="#0000FF"/>
<ellipse cx="1263.8" cy="628.8" rx="7.5" ry="3" fill="#0000FF" transform="rotate(0 1263.8 628.8)"/>
<ellipse cx="1342.5" cy="642.5" rx="2" ry="8.8" fill="#0000FF" transform="rotate(15 1342.5 642.5)"/>
<path d="M1247.5 680C1247.8 677 1250.2 672 1252.5 670C1254.8 668 1261.3 665 1265 665C1268.7 665 1276.7 668 1280 670C1283.3 672 1287.3 678 1290 680C1292.7 682 1298 682.7 1300 685C1302 687.3 1303 695.5 1305 697.5C1307 699.5 1312 700.3 1315 700C1318 699.7 1325 694.7 1327.5 695C1330 695.3 1333.8 700.2 1333.8 702.5C1333.8 704.8 1330.3 711.2 1327.5 712.5C1324.7 713.8 1316.2 712.2 1312.5 712.5C1308.8 712.8 1303 713.3 1300 715C1297 716.7 1292.3 722.7 1290 725C1287.7 727.3 1284.5 733.2 1282.5 732.5C1280.5 731.8 1276.3 723.7 1275 720C1273.7 716.3 1273.5 705.7 1272.5 705C1271.5 704.3 1268.5 711.7 1267.5 715C1266.5 718.3 1266.3 726.7 1265 730C1263.7 733.3 1260.2 738.7 1257.5 740C1254.8 741.3 1247.7 741.3 1245 740C1242.3 738.7 1238.5 733.7 1237.5 730C1236.5 726.3 1237.2 716.5 1237.5 712.5C1237.8 708.5 1238.3 702.7 1240 700C1241.7 697.3 1249 695.2 1250 692.5C1251 689.8 1247.2 683 1247.5 680Z" fill="#0000FF"/>
<ellipse cx="1263" cy="677.5" rx="11.2" ry="10" fill="#0099FF" transform="rotate(0 1263 677.5)"/>
<ellipse cx="1263" cy="677.5" rx="3.8" ry="3.5" fill="#00CCFF" transform="rotate(0 1263 677.5)"/>
<ellipse cx="1252" cy="720" rx="10.5" ry="17.5" fill="#0099FF" transform="rotate(0 1252 720)"/>
<ellipse cx="1252" cy="722.5" rx="7" ry="12.5" fill="#00CCFF" transform="rotate(0 1252 722.5)"/>
<path d="M1346.2 695C1346.9 691.2 1350.4 684 1352.5 680C1354.6 676 1356 672.5 1358.8 671.2C1361.5 670 1367.3 670.2 1368.8 672.5C1370.2 674.8 1368.5 680.8 1367.5 685C1366.5 689.2 1364.4 694.2 1362.5 697.5C1360.6 700.8 1358.5 704.2 1356.2 705C1354 705.8 1350.4 704.2 1348.8 702.5C1347.1 700.8 1345.6 698.8 1346.2 695Z" fill="#0000FF"/>
<path d="M1337.5 730C1338 727.3 1342 722.3 1345 720C1348 717.7 1356 713.7 1360 712.5C1364 711.3 1372.7 710.2 1375 711.2C1377.3 712.2 1377.8 716.8 1377.5 720C1377.2 723.2 1373.2 731 1372.5 735C1371.8 739 1372.2 746 1372.5 750C1372.8 754 1374.3 761 1375 765C1375.7 769 1377.5 776.3 1377.5 780C1377.5 783.7 1376.7 790.8 1375 792.5C1373.3 794.2 1367.7 793.2 1365 792.5C1362.3 791.8 1356.8 789.8 1355 787.5C1353.2 785.2 1350.6 778.7 1351.2 775C1351.9 771.3 1360.2 763.7 1360 760C1359.8 756.3 1352.5 750.2 1350 747.5C1347.5 744.8 1342.9 742.3 1341.2 740C1339.6 737.7 1337 732.7 1337.5 730Z" fill="#0000FF"/>
<ellipse cx="1356.2" cy="733.8" rx="12.5" ry="11.2" fill="#0099FF" transform="rotate(0 1356.2 733.8)"/>
<ellipse cx="1356.2" cy="734.5" rx="4.5" ry="3.8" fill="#00CCFF" transform="rotate(0 1356.2 734.5)"/>
<ellipse cx="1363.2" cy="777" rx="9.5" ry="12" fill="#0099FF" transform="rotate(0 1363.2 777)"/>
<ellipse cx="1363.2" cy="777.5" rx="3.8" ry="5.5" fill="#00CCFF" transform="rotate(0 1363.2 777.5)"/>
<path d="M1315 775C1315.6 771 1317.9 763.1 1320 760C1322.1 756.9 1325.4 755 1327.5 756.2C1329.6 757.5 1331.7 763.5 1332.5 767.5C1333.3 771.5 1333.8 776.9 1332.5 780C1331.2 783.1 1327.7 785.6 1325 786.2C1322.3 786.9 1317.9 785.6 1316.2 783.8C1314.6 781.9 1314.4 779 1315 775Z" fill="#0000FF"/>
<ellipse cx="1402.5" cy="783.8" rx="2" ry="5" fill="#0000FF" transform="rotate(0 1402.5 783.8)"/>
<ellipse cx="928.8" cy="847" rx="11.2" ry="5.5" fill="#0000FF" transform="rotate(-10 928.8 847)"/>
<ellipse cx="977.5" cy="887.5" rx="7.5" ry="15" fill="#0000FF" transform="rotate(10 977.5 887.5)"/>
<ellipse cx="1002.5" cy="798.8" rx="5" ry="4.5" fill="#0000FF" transform="rotate(0 1002.5 798.8)"/>
<path d="M1023.8 785C1023.1 781 1026.9 776.2 1028.8 776.2C1030.6 776.2 1032.7 782.3 1035 785C1037.3 787.7 1039.4 790.2 1042.5 792.5C1045.6 794.8 1053.8 796.7 1053.8 798.8C1053.8 800.8 1046 804.8 1042.5 805C1039 805.2 1035.6 803.3 1032.5 800C1029.4 796.7 1024.4 789 1023.8 785Z" fill="#0000FF"/>
<ellipse cx="1120" cy="836.2" rx="7" ry="10" fill="#0000FF" transform="rotate(0 1120 836.2)"/>
<ellipse cx="1107.5" cy="855" rx="8.8" ry="3" fill="#0000FF" transform="rotate(-15 1107.5 855)"/>
<path d="M1140 826.2C1140.3 823.1 1141.5 817.7 1143.8 815C1146 812.3 1150.2 810.2 1153.8 810C1157.3 809.8 1162.3 811.2 1165 813.8C1167.7 816.2 1168.5 821 1170 825C1171.5 829 1172.5 833.8 1173.8 837.5C1175 841.2 1178.1 845.4 1177.5 847.5C1176.9 849.6 1172.9 850.6 1170 850C1167.1 849.4 1163.8 845.4 1160 843.8C1156.2 842.1 1150.5 841.7 1147.5 840C1144.5 838.3 1143.2 836 1142 833.8C1140.8 831.5 1139.7 829.4 1140 826.2Z" fill="#0000FF"/>
<ellipse cx="1155" cy="827.5" rx="10.5" ry="12.5" fill="#0099FF" transform="rotate(0 1155 827.5)"/>
<ellipse cx="1155" cy="828" rx="7" ry="8.8" fill="#00CCFF" transform="rotate(0 1155 828)"/>
<path d="M1248.8 800C1248.5 796.2 1250.2 794 1252.5 792.5C1254.8 791 1259 790.6 1262.5 791.2C1266 791.9 1271.2 793.5 1273.8 796.2C1276.2 799 1277.7 804 1277.5 807.5C1277.3 811 1275 815.4 1272.5 817.5C1270 819.6 1265.6 820.4 1262.5 820C1259.4 819.6 1256 818.3 1253.8 815C1251.5 811.7 1249 803.8 1248.8 800Z" fill="#0000FF"/>
<ellipse cx="1263" cy="805.5" rx="8.8" ry="8.8" fill="#0099FF" transform="rotate(0 1263 805.5)"/>
<ellipse cx="1058.8" cy="745" rx="4.5" ry="5.5" fill="#0000FF" transform="rotate(0 1058.8 745)"/>
<ellipse cx="1050" cy="798.8" rx="3" ry="3.8" fill="#0000FF" transform="rotate(0 1050 798.8)"/>
<ellipse cx="1051.2" cy="553.8" rx="18.1" ry="18.1" fill="#009900" transform="rotate(0 1051.2 553.8)"/>
<ellipse cx="1051.2" cy="553.8" rx="14.5" ry="14.5" fill="#006600" transform="rotate(0 1051.2 553.8)"/>
<ellipse cx="1051.2" cy="553.8" rx="10" ry="10" fill="#FFFF00" transform="rotate(0 1051.2 553.8)"/>
<ellipse cx="1051.2" cy="553.8" rx="8" ry="8" fill="#FF9900" transform="rotate(0 1051.2 553.8)"/>
<ellipse cx="1051.2" cy="553.8" rx="6.2" ry="6.2" fill="#FF0000" transform="rotate(0 1051.2 553.8)"/>
<ellipse cx="1078.2" cy="599.5" rx="16.4" ry="16.4" fill="#009900" transform="rotate(0 1078.2 599.5)"/>
<ellipse cx="1078.2" cy="599.5" rx="12.8" ry="12.8" fill="#006600" transform="rotate(0 1078.2 599.5)"/>
<ellipse cx="1078.2" cy="599.5" rx="8.2" ry="8.2" fill="#FFFF00" transform="rotate(0 1078.2 599.5)"/>
<ellipse cx="1078.2" cy="599.5" rx="4.1" ry="4.1" fill="#FF9900" transform="rotate(0 1078.2 599.5)"/>
<path d="M1147 588.8C1147 585.8 1151 584.3 1153.8 584.5C1156.5 584.7 1161 587.6 1163.8 590C1166.5 592.4 1170.4 595.5 1170 598.8C1169.6 602 1164 608.9 1161.2 609.5C1158.5 610.1 1156.1 606 1153.8 602.5C1151.4 599 1147 591.8 1147 588.8Z" fill="#FFFF00"/>
<ellipse cx="1178.8" cy="642" rx="17.6" ry="17.6" fill="#009900" transform="rotate(0 1178.8 642)"/>
<ellipse cx="1178.8" cy="642" rx="14.8" ry="14.8" fill="#006600" transform="rotate(0 1178.8 642)"/>
<ellipse cx="1178.8" cy="642" rx="11.2" ry="11.2" fill="#FFFF00" transform="rotate(0 1178.8 642)"/>
<ellipse cx="1178.8" cy="642" rx="5.6" ry="5.6" fill="#FF9900" transform="rotate(0 1178.8 642)"/>
<ellipse cx="1215" cy="633" rx="23.3" ry="23.3" fill="#009900" transform="rotate(0 1215 633)"/>
<ellipse cx="1215" cy="633" rx="20.5" ry="20.5" fill="#006600" transform="rotate(0 1215 633)"/>
<ellipse cx="1215" cy="633" rx="17" ry="17" fill="#FFFF00" transform="rotate(0 1215 633)"/>
<ellipse cx="1215" cy="633" rx="13.6" ry="13.6" fill="#FF9900" transform="rotate(0 1215 633)"/>
<ellipse cx="1215" cy="633" rx="10.5" ry="10.5" fill="#FF0000" transform="rotate(0 1215 633)"/>
<ellipse cx="1215" cy="633" rx="7.1" ry="7.1" fill="#CC0000" transform="rotate(0 1215 633)"/>
<ellipse cx="1215" cy="633" rx="3.7" ry="3.7" fill="#990000" transform="rotate(0 1215 633)"/>
<path d="M1187.5 640C1188.3 637.9 1195 632.5 1197.5 632.5C1200 632.5 1203.3 637.9 1202.5 640C1201.7 642.1 1195 645 1192.5 645C1190 645 1186.7 642.1 1187.5 640Z" fill="#FFFF00"/>
<ellipse cx="1215" cy="673.8" rx="18.1" ry="18.1" fill="#009900" transform="rotate(0 1215 673.8)"/>
<ellipse cx="1215" cy="673.8" rx="14.5" ry="14.5" fill="#006600" transform="rotate(0 1215 673.8)"/>
<ellipse cx="1215" cy="673.8" rx="10" ry="10" fill="#FFFF00" transform="rotate(0 1215 673.8)"/>
<ellipse cx="1215" cy="673.8" rx="5" ry="5" fill="#FF9900" transform="rotate(0 1215 673.8)"/>
<ellipse cx="994.5" cy="662.5" rx="13.6" ry="13.6" fill="#009900" transform="rotate(0 994.5 662.5)"/>
<ellipse cx="994.5" cy="662.5" rx="10" ry="10" fill="#006600" transform="rotate(0 994.5 662.5)"/>
<ellipse cx="994.5" cy="662.5" rx="5.5" ry="5.5" fill="#FFFF00" transform="rotate(0 994.5 662.5)"/>
<ellipse cx="1198.8" cy="763.8" rx="13.9" ry="18" fill="#009900" transform="rotate(0 1198.8 763.8)"/>
<ellipse cx="1198.8" cy="763.8" rx="9.9" ry="14" fill="#006600" transform="rotate(0 1198.8 763.8)"/>
<ellipse cx="1198.8" cy="763.8" rx="5" ry="9" fill="#FFFF00" transform="rotate(0 1198.8 763.8)"/>
<ellipse cx="898.8" cy="857" rx="21.1" ry="21.1" fill="#009900" transform="rotate(0 898.8 857)"/>
<ellipse cx="898.8" cy="857" rx="17.5" ry="17.5" fill="#006600" transform="rotate(0 898.8 857)"/>
<ellipse cx="898.8" cy="857" rx="13" ry="13" fill="#FFFF00" transform="rotate(0 898.8 857)"/>
<ellipse cx="898.8" cy="857" rx="10.4" ry="10.4" fill="#FF9900" transform="rotate(0 898.8 857)"/>
<ellipse cx="898.8" cy="857" rx="8.1" ry="8.1" fill="#FF0000" transform="rotate(0 898.8 857)"/>
<ellipse cx="898.8" cy="857" rx="5.5" ry="5.5" fill="#CC0000" transform="rotate(0 898.8 857)"/>
<ellipse cx="898.8" cy="857" rx="2.9" ry="2.9" fill="#990000" transform="rotate(0 898.8 857)"/>
<ellipse cx="1070.5" cy="862.5" rx="16" ry="16" fill="#009900" transform="rotate(0 1070.5 862.5)"/>
<ellipse cx="1070.5" cy="862.5" rx="12" ry="12" fill="#006600" transform="rotate(0 1070.5 862.5)"/>
<ellipse cx="1070.5" cy="862.5" rx="7" ry="7" fill="#FFFF00" transform="rotate(0 1070.5 862.5)"/>
<ellipse cx="998.8" cy="906.2" rx="14.2" ry="17.2" fill="#009900" transform="rotate(0 998.8 906.2)"/>
<ellipse cx="998.8" cy="906.2" rx="11" ry="14" fill="#006600" transform="rotate(0 998.8 906.2)"/>
<ellipse cx="998.8" cy="906.2" rx="7" ry="10" fill="#FFFF00" transform="rotate(0 998.8 906.2)"/>
<ellipse cx="998.8" cy="906.2" rx="3.5" ry="5" fill="#FF9900" transform="rotate(0 998.8 906.2)"/>
<ellipse cx="1235.5" cy="805.5" rx="11.9" ry="13.6" fill="#009900" transform="rotate(0 1235.5 805.5)"/>
<ellipse cx="1235.5" cy="805.5" rx="8.3" ry="10" fill="#006600" transform="rotate(0 1235.5 805.5)"/>
<ellipse cx="1235.5" cy="805.5" rx="3.8" ry="5.5" fill="#FFFF00" transform="rotate(0 1235.5 805.5)"/>
<path d="M1236.2 751.2C1236.7 748.5 1244.2 748.1 1247.5 748.8C1250.8 749.4 1254.4 752.3 1256.2 755C1258.1 757.7 1259.4 762.3 1258.8 765C1258.1 767.7 1254.8 771.2 1252.5 771.2C1250.2 771.2 1247.7 768.3 1245 765C1242.3 761.7 1235.8 754 1236.2 751.2Z" fill="#FFFF00"/>
<path d="M1241.2 753.8C1241.2 752.2 1246.7 751.4 1248.8 752C1250.8 752.6 1252.8 755.5 1253.8 757.5C1254.7 759.5 1255.3 763.1 1254.5 763.8C1253.7 764.4 1251 762.9 1248.8 761.2C1246.5 759.6 1241.2 755.3 1241.2 753.8Z" fill="#FF9900"/>
</g>
<use href="#ol" class="ol" transform="translate(890.1 554.3) scale(1.0091 0.9914)"/>
<path d="M879.5 552.5H890.5M879.5 575.7H890.5M879.5 598.9H890.5M879.5 622.2H890.5M879.5 645.4H890.5M879.5 668.6H890.5M879.5 691.8H890.5M879.5 715H890.5M879.5 738.2H890.5M879.5 761.5H890.5M879.5 784.7H890.5M879.5 807.9H890.5M879.5 831.1H890.5M879.5 854.3H890.5M879.5 877.6H890.5M879.5 900.8H890.5M879.5 924H890.5M890.5 924V935M922.8 924V935M955.1 924V935M987.4 924V935M1019.8 924V935M1052.1 924V935M1084.4 924V935M1116.7 924V935M1149 924V935M1181.3 924V935M1213.6 924V935M1245.9 924V935M1278.2 924V935M1310.6 924V935M1342.9 924V935M1375.2 924V935M1407.5 924V935" stroke="#7f7f7f" stroke-width="2" fill="none"/>
<text x="874" y="559.7" class="e">52.06</text>
<text x="874" y="606.1" class="e">52.04</text>
<text x="874" y="652.6" class="e">52.03</text>
<text x="874" y="699" class="e">52.01</text>
<text x="874" y="745.5" class="e">52.00</text>
<text x="874" y="791.9" class="e">51.98</text>
<text x="874" y="838.3" class="e">51.96</text>
<text x="874" y="884.8" class="e">51.95</text>
<text x="874" y="931.2" class="e">51.93</text>
<text x="890.5" y="959.7" class="m">22.45</text>
<text x="955.1" y="959.7" class="m">22.47</text>
<text x="1019.8" y="959.7" class="m">22.50</text>
<text x="1084.4" y="959.7" class="m">22.52</text>
<text x="1149" y="959.7" class="m">22.54</text>
<text x="1213.6" y="959.7" class="m">22.56</text>
<text x="1278.2" y="959.7" class="m">22.59</text>
<text x="1342.9" y="959.7" class="m">22.61</text>
<text x="1407.5" y="959.7" class="m">22.63</text>
<text x="1149" y="988.2" class="m">Longitude (°)</text>
<text x="813.7" y="734" class="m" transform="rotate(-90 813.7 734)">Latitude (°)</text>
<rect x="1423" y="614.5" width="21" height="21.6" fill="#9966CC"/>
<rect x="1423" y="635.8" width="21" height="21.6" fill="#FF00FF"/>
<rect x="1423" y="657.1" width="21" height="21.6" fill="#990000"/>
<rect x="1423" y="678.4" width="21" height="21.6" fill="#CC0000"/>
<rect x="1423" y="699.7" width="21" height="21.6" fill="#FF0000"/>
<rect x="1423" y="721" width="21" height="21.6" fill="#FF9900"/>
<rect x="1423" y="742.2" width="21" height="21.6" fill="#FFFF00"/>
<rect x="1423" y="763.5" width="21" height="21.6" fill="#006600"/>
<rect x="1423" y="784.8" width="21" height="21.6" fill="#009900"/>
<rect x="1423" y="806.1" width="21" height="21.6" fill="#00CC00"/>
<rect x="1423" y="827.4" width="21" height="21.6" fill="#00FF00"/>
<rect x="1423" y="848.7" width="21" height="21.6" fill="#0000FF"/>
<rect x="1423" y="870" width="21" height="21.6" fill="#0099FF"/>
<rect x="1423" y="891.3" width="21" height="21.6" fill="#00CCFF"/>
<text x="1474" y="599" style="font-size:19.5px">6.0</text>
<text x="1474" y="620.3" style="font-size:19.5px">5.6</text>
<text x="1474" y="641.6" style="font-size:19.5px">5.2</text>
<text x="1474" y="662.9" style="font-size:19.5px">4.8</text>
<text x="1474" y="684.2" style="font-size:19.5px">4.4</text>
<text x="1474" y="705.5" style="font-size:19.5px">4.0</text>
<text x="1474" y="726.8" style="font-size:19.5px">3.6</text>
<text x="1474" y="748.1" style="font-size:19.5px">3.2</text>
<text x="1474" y="769.3" style="font-size:19.5px">2.8</text>
<text x="1474" y="790.6" style="font-size:19.5px">2.4</text>
<text x="1474" y="811.9" style="font-size:19.5px">2.0</text>
<text x="1474" y="833.2" style="font-size:19.5px">1.6</text>
<text x="1474" y="854.5" style="font-size:19.5px">1.2</text>
<text x="1474" y="875.8" style="font-size:19.5px">0.8</text>
<text x="1474" y="897.1" style="font-size:19.5px">0.4</text>
<text x="1474" y="918.4" style="font-size:19.5px">0.0</text>
<text x="1429" y="571.5" style="font-size:19px">Clay (%)</text>
</g>
<g id="p05">
<clipPath id="c5"><rect x="121.5" y="1070" width="501" height="361.5"/></clipPath>
<g clip-path="url(#c5)">
<rect x="121.5" y="1070" width="501" height="361.5" fill="#006600"/>
<path d="M250 1075C252.2 1072 243.7 1068.5 265 1067.5C286.3 1066.5 389.3 1064.5 410 1067.5C430.7 1070.5 419.3 1083 420 1090C420.7 1097 417.3 1112.3 415 1120C412.7 1127.7 407.2 1140.8 402.5 1147.5C397.8 1154.2 386.3 1165.3 380 1170C373.7 1174.7 361 1179.2 355 1182.5C349 1185.8 336 1191 335 1195C334 1199 344.2 1207.2 347.5 1212.5C350.8 1217.8 358 1228.7 360 1235C362 1241.3 362.8 1253.3 362.5 1260C362.2 1266.7 359.8 1279.7 357.5 1285C355.2 1290.3 349.7 1296.7 345 1300C340.3 1303.3 330.5 1308.7 322.5 1310C314.5 1311.3 291.7 1312.7 285 1310C278.3 1307.3 275 1296.7 272.5 1290C270 1283.3 266.6 1267.3 266.2 1260C265.9 1252.7 267.5 1241.3 270 1235C272.5 1228.7 280.3 1217.8 285 1212.5C289.7 1207.2 302 1198.7 305 1195C308 1191.3 308.8 1188.3 307.5 1185C306.2 1181.7 298.3 1174 295 1170C291.7 1166 286.5 1159.7 282.5 1155C278.5 1150.3 269 1141 265 1135C261 1129 254.7 1116 252.5 1110C250.3 1104 249.1 1094.7 248.8 1090C248.4 1085.3 247.8 1078 250 1075Z" fill="#009900"/>
<path d="M122.5 1222.5C123 1214.5 124.8 1205.3 127.5 1200C130.2 1194.7 137.5 1186.5 142.5 1182.5C147.5 1178.5 158.3 1172 165 1170C171.7 1168 185.8 1167.2 192.5 1167.5C199.2 1167.8 210.7 1168.8 215 1172.5C219.3 1176.2 223.7 1187.3 225 1195C226.3 1202.7 225.7 1221.3 225 1230C224.3 1238.7 221.3 1252.7 220 1260C218.7 1267.3 216.7 1279 215 1285C213.3 1291 208.8 1298.3 207.5 1305C206.2 1311.7 205 1326.3 205 1335C205 1343.7 206.8 1362 207.5 1370C208.2 1378 209.7 1386.3 210 1395C210.3 1403.7 216.7 1429.7 210 1435C203.3 1440.3 169 1437.7 160 1435C151 1432.3 147.2 1420 142.5 1415C137.8 1410 128.3 1402.2 125 1397.5C121.7 1392.8 118.5 1386.3 117.5 1380C116.5 1373.7 114.8 1355.3 117.5 1350C120.2 1344.7 132.5 1342.3 137.5 1340C142.5 1337.7 151 1335.2 155 1332.5C159 1329.8 167.5 1324.3 167.5 1320C167.5 1315.7 159.3 1304.7 155 1300C150.7 1295.3 139.2 1290.3 135 1285C130.8 1279.7 125.4 1268.3 123.8 1260C122.1 1251.7 122 1230.5 122.5 1222.5Z" fill="#009900"/>
<path d="M385 1182.5C387.3 1177.8 394.7 1168.7 400 1165C405.3 1161.3 419 1158.7 425 1155C431 1151.3 441 1142.5 445 1137.5C449 1132.5 453.3 1123.5 455 1117.5C456.7 1111.5 457.8 1099.2 457.5 1092.5C457.2 1085.8 429.8 1070.8 452.5 1067.5C475.2 1064.2 604.2 1021.8 627.5 1067.5C650.8 1113.2 627.5 1361 627.5 1410C627.5 1459 670.8 1431.7 627.5 1435C584.2 1438.3 345.8 1439.7 302.5 1435C259.2 1430.3 301.5 1407.3 302.5 1400C303.5 1392.7 306.3 1384.3 310 1380C313.7 1375.7 324 1370.2 330 1367.5C336 1364.8 348.3 1362.3 355 1360C361.7 1357.7 374.7 1352.7 380 1350C385.3 1347.3 391 1340.3 395 1340C399 1339.7 406 1344.5 410 1347.5C414 1350.5 420.7 1358.8 425 1362.5C429.3 1366.2 438.2 1372.7 442.5 1375C446.8 1377.3 453.5 1380.3 457.5 1380C461.5 1379.7 468.8 1374.5 472.5 1372.5C476.2 1370.5 481.3 1368 485 1365C488.7 1362 496.3 1354.7 500 1350C503.7 1345.3 509.2 1335.3 512.5 1330C515.8 1324.7 521.3 1316 525 1310C528.7 1304 540.3 1291 540 1285C539.7 1279 526.8 1268.3 522.5 1265C518.2 1261.7 511.2 1259 507.5 1260C503.8 1261 498.7 1269.8 495 1272.5C491.3 1275.2 484.7 1278.3 480 1280C475.3 1281.7 465.3 1285 460 1285C454.7 1285 445.3 1282.7 440 1280C434.7 1277.3 425 1270 420 1265C415 1260 406.5 1248.5 402.5 1242.5C398.5 1236.5 392.7 1225.7 390 1220C387.3 1214.3 383.2 1205 382.5 1200C381.8 1195 382.7 1187.2 385 1182.5Z" fill="#009900"/>
<path d="M512.5 1122.5C513.3 1115.4 512.9 1106.7 515 1105C517.1 1103.3 520.8 1109.2 525 1112.5C529.2 1115.8 535 1121.7 540 1125C545 1128.3 550.8 1127.5 555 1132.5C559.2 1137.5 562.1 1147.1 565 1155C567.9 1162.9 571.2 1170.8 572.5 1180C573.8 1189.2 574.6 1201.7 572.5 1210C570.4 1218.3 565.4 1225 560 1230C554.6 1235 545.8 1240 540 1240C534.2 1240 529.2 1235 525 1230C520.8 1225 517.5 1218.3 515 1210C512.5 1201.7 510.8 1190.4 510 1180C509.2 1169.6 509.6 1157.1 510 1147.5C510.4 1137.9 511.7 1129.6 512.5 1122.5Z" fill="#006600"/>
<path d="M480 1440C464.6 1435.4 480 1419.6 485 1412.5C490 1405.4 501.7 1402.9 510 1397.5C518.3 1392.1 526.7 1383.8 535 1380C543.3 1376.2 552.9 1376.2 560 1375C567.1 1373.8 574.2 1369.2 577.5 1372.5C580.8 1375.8 579.2 1387.1 580 1395C580.8 1402.9 582.9 1412.5 582.5 1420C582.1 1427.5 594.6 1436.7 577.5 1440C560.4 1443.3 495.4 1444.6 480 1440Z" fill="#006600"/>
<path d="M435 1092.5C436.7 1085.6 442.1 1087.5 445 1088.8C447.9 1090 450.8 1094.8 452.5 1100C454.2 1105.2 456.2 1114.2 455 1120C453.8 1125.8 448.3 1133.3 445 1135C441.7 1136.7 436.7 1137.1 435 1130C433.3 1122.9 433.3 1099.4 435 1092.5Z" fill="#006600"/>
<path d="M258.8 1087.5C260.6 1083.8 263.1 1079.6 270 1077.5C276.9 1075.4 289.2 1075 300 1075C310.8 1075 322.9 1077.9 335 1077.5C347.1 1077.1 361.7 1072.9 372.5 1072.5C383.3 1072.1 393.8 1072.1 400 1075C406.2 1077.9 408.8 1083.3 410 1090C411.2 1096.7 409.6 1106.7 407.5 1115C405.4 1123.3 402.9 1132.5 397.5 1140C392.1 1147.5 382.9 1154.6 375 1160C367.1 1165.4 357.5 1169.2 350 1172.5C342.5 1175.8 336.7 1179.2 330 1180C323.3 1180.8 315.8 1180.4 310 1177.5C304.2 1174.6 300 1167.9 295 1162.5C290 1157.1 285 1152.1 280 1145C275 1137.9 268.5 1127.5 265 1120C261.5 1112.5 259.8 1105.4 258.8 1100C257.7 1094.6 256.9 1091.2 258.8 1087.5Z" fill="#00CC00"/>
<path d="M272.5 1260C271.7 1251.7 274.2 1242.1 277.5 1235C280.8 1227.9 287.1 1222.1 292.5 1217.5C297.9 1212.9 304.6 1209.2 310 1207.5C315.4 1205.8 319.6 1205 325 1207.5C330.4 1210 338.1 1216.2 342.5 1222.5C346.9 1228.8 349.6 1237.5 351.2 1245C352.9 1252.5 354 1260.4 352.5 1267.5C351 1274.6 347.5 1282.5 342.5 1287.5C337.5 1292.5 329.6 1295.8 322.5 1297.5C315.4 1299.2 306.7 1299.6 300 1297.5C293.3 1295.4 287.1 1291.2 282.5 1285C277.9 1278.8 273.3 1268.3 272.5 1260Z" fill="#00CC00"/>
<path d="M128.8 1235C129.4 1227.5 131.5 1217.1 135 1210C138.5 1202.9 144.2 1197.5 150 1192.5C155.8 1187.5 162.9 1182.5 170 1180C177.1 1177.5 185.8 1177.1 192.5 1177.5C199.2 1177.9 205.8 1178.8 210 1182.5C214.2 1186.2 216.2 1192.9 217.5 1200C218.8 1207.1 218.3 1215.8 217.5 1225C216.7 1234.2 214.2 1245.8 212.5 1255C210.8 1264.2 210.4 1273.3 207.5 1280C204.6 1286.7 200 1292.1 195 1295C190 1297.9 183.8 1298.3 177.5 1297.5C171.2 1296.7 163.8 1293.8 157.5 1290C151.2 1286.2 144.4 1280.8 140 1275C135.6 1269.2 133.1 1261.7 131.2 1255C129.4 1248.3 128.1 1242.5 128.8 1235Z" fill="#00CC00"/>
<path d="M398.8 1200C400 1193.8 402.3 1184.2 407.5 1177.5C412.7 1170.8 422.5 1165.4 430 1160C437.5 1154.6 445.8 1150.4 452.5 1145C459.2 1139.6 464.6 1131.2 470 1127.5C475.4 1123.8 480.4 1121.2 485 1122.5C489.6 1123.8 495 1127.9 497.5 1135C500 1142.1 499.6 1152.5 500 1165C500.4 1177.5 501.2 1197.5 500 1210C498.8 1222.5 495.8 1231.7 492.5 1240C489.2 1248.3 485.4 1255 480 1260C474.6 1265 466.7 1268.8 460 1270C453.3 1271.2 446.2 1270.4 440 1267.5C433.8 1264.6 427.9 1258.8 422.5 1252.5C417.1 1246.2 411.2 1236.2 407.5 1230C403.8 1223.8 401.5 1220 400 1215C398.5 1210 397.5 1206.2 398.8 1200Z" fill="#00CC00"/>
<path d="M545 1067.5C557.1 1062.5 613.8 1043.8 627.5 1067.5C641.2 1091.2 630.4 1187.1 627.5 1210C624.6 1232.9 615.4 1209.2 610 1205C604.6 1200.8 599.2 1192.5 595 1185C590.8 1177.5 586.7 1167.5 585 1160C583.3 1152.5 587.5 1146.2 585 1140C582.5 1133.8 575 1129.6 570 1122.5C565 1115.4 559.2 1106.7 555 1097.5C550.8 1088.3 532.9 1072.5 545 1067.5Z" fill="#00CC00"/>
<path d="M131.2 1372.5C131.7 1368.8 133.5 1363.8 137.5 1360C141.5 1356.2 149.2 1353.3 155 1350C160.8 1346.7 167.5 1340.8 172.5 1340C177.5 1339.2 181.7 1341.7 185 1345C188.3 1348.3 191.7 1355 192.5 1360C193.3 1365 191.7 1370 190 1375C188.3 1380 186.7 1386.2 182.5 1390C178.3 1393.8 170.8 1397.5 165 1397.5C159.2 1397.5 152.5 1392.5 147.5 1390C142.5 1387.5 137.7 1385.4 135 1382.5C132.3 1379.6 130.8 1376.2 131.2 1372.5Z" fill="#00CC00"/>
<path d="M325 1407.5C325 1399.6 326.2 1397.1 330 1392.5C333.8 1387.9 340.8 1383.8 347.5 1380C354.2 1376.2 362.9 1372.5 370 1370C377.1 1367.5 383.3 1365 390 1365C396.7 1365 404.6 1367.1 410 1370C415.4 1372.9 420 1377.9 422.5 1382.5C425 1387.1 427.1 1393.3 425 1397.5C422.9 1401.7 415.4 1404.6 410 1407.5C404.6 1410.4 398.3 1412.1 392.5 1415C386.7 1417.9 381.2 1420.8 375 1425C368.8 1429.2 362.5 1437.5 355 1440C347.5 1442.5 335 1445.4 330 1440C325 1434.6 325 1415.4 325 1407.5Z" fill="#00CC00"/>
<path d="M551.2 1275C552.7 1267.5 556 1261.2 560 1255C564 1248.8 570.8 1241.2 575 1237.5C579.2 1233.8 580.8 1230.4 585 1232.5C589.2 1234.6 595 1242.9 600 1250C605 1257.1 611.7 1265.8 615 1275C618.3 1284.2 620 1295.8 620 1305C620 1314.2 617.9 1323.3 615 1330C612.1 1336.7 607.1 1341.2 602.5 1345C597.9 1348.8 592.5 1352.9 587.5 1352.5C582.5 1352.1 577.1 1347.1 572.5 1342.5C567.9 1337.9 563.5 1332.1 560 1325C556.5 1317.9 552.7 1308.3 551.2 1300C549.8 1291.7 549.8 1282.5 551.2 1275Z" fill="#00CC00"/>
<path d="M277.5 1097.5C280.8 1092.1 290.4 1089.6 300 1087.5C309.6 1085.4 324.2 1086.2 335 1085C345.8 1083.8 355.8 1080 365 1080C374.2 1080 384.6 1080.8 390 1085C395.4 1089.2 396.7 1098.3 397.5 1105C398.3 1111.7 397.9 1118.8 395 1125C392.1 1131.2 386.7 1137.1 380 1142.5C373.3 1147.9 362.5 1153.8 355 1157.5C347.5 1161.2 340.8 1163.3 335 1165C329.2 1166.7 325 1168.3 320 1167.5C315 1166.7 310 1164.2 305 1160C300 1155.8 294.2 1149.2 290 1142.5C285.8 1135.8 282.1 1127.5 280 1120C277.9 1112.5 274.2 1102.9 277.5 1097.5Z" fill="#00FF00"/>
<path d="M286.2 1260C285.4 1253.3 287.3 1245.8 290 1240C292.7 1234.2 297.9 1228.3 302.5 1225C307.1 1221.7 312.5 1219.6 317.5 1220C322.5 1220.4 328.8 1222.9 332.5 1227.5C336.2 1232.1 338.8 1240.8 340 1247.5C341.2 1254.2 341.7 1261.7 340 1267.5C338.3 1273.3 335 1279.6 330 1282.5C325 1285.4 315.8 1285.4 310 1285C304.2 1284.6 299 1284.2 295 1280C291 1275.8 287.1 1266.7 286.2 1260Z" fill="#00FF00"/>
<path d="M138.8 1235C139.4 1228.8 141.5 1220.8 145 1215C148.5 1209.2 154.6 1204.2 160 1200C165.4 1195.8 171.7 1192.1 177.5 1190C183.3 1187.9 190 1186.7 195 1187.5C200 1188.3 205 1190.4 207.5 1195C210 1199.6 210.4 1207.5 210 1215C209.6 1222.5 206.2 1231.7 205 1240C203.8 1248.3 204.2 1257.9 202.5 1265C200.8 1272.1 198.3 1278.8 195 1282.5C191.7 1286.2 187.5 1287.5 182.5 1287.5C177.5 1287.5 170.4 1285.8 165 1282.5C159.6 1279.2 154 1272.5 150 1267.5C146 1262.5 143.1 1257.9 141.2 1252.5C139.4 1247.1 138.1 1241.2 138.8 1235Z" fill="#00FF00"/>
<path d="M407.5 1200C408.3 1194.2 410.4 1187.9 415 1182.5C419.6 1177.1 428.3 1171.7 435 1167.5C441.7 1163.3 449.2 1161.2 455 1157.5C460.8 1153.8 465.8 1147.5 470 1145C474.2 1142.5 477.1 1140.8 480 1142.5C482.9 1144.2 485.8 1149.2 487.5 1155C489.2 1160.8 489.6 1168.3 490 1177.5C490.4 1186.7 491.2 1200.4 490 1210C488.8 1219.6 485.8 1227.9 482.5 1235C479.2 1242.1 475 1248.8 470 1252.5C465 1256.2 458.3 1257.9 452.5 1257.5C446.7 1257.1 440.4 1254.2 435 1250C429.6 1245.8 424.2 1237.9 420 1232.5C415.8 1227.1 412.1 1222.9 410 1217.5C407.9 1212.1 406.7 1205.8 407.5 1200Z" fill="#00FF00"/>
<path d="M565 1282.5C566.2 1276.2 569.6 1269 572.5 1265C575.4 1261 578.8 1257.9 582.5 1258.8C586.2 1259.6 590.8 1264.8 595 1270C599.2 1275.2 605 1282.9 607.5 1290C610 1297.1 611.2 1306.7 610 1312.5C608.8 1318.3 604.2 1322.1 600 1325C595.8 1327.9 589.6 1330.8 585 1330C580.4 1329.2 575.8 1324.6 572.5 1320C569.2 1315.4 566.2 1308.8 565 1302.5C563.8 1296.2 563.8 1288.8 565 1282.5Z" fill="#00FF00"/>
<path d="M550 1075C550.8 1071.2 560 1068.3 565 1070C570 1071.7 575.4 1078.3 580 1085C584.6 1091.7 590.8 1103.3 592.5 1110C594.2 1116.7 592.9 1125 590 1125C587.1 1125 580 1115.4 575 1110C570 1104.6 564.2 1098.3 560 1092.5C555.8 1086.7 549.2 1078.8 550 1075Z" fill="#00FF00"/>
<ellipse cx="173.8" cy="1364.5" rx="5" ry="5" fill="#00FF00" transform="rotate(0 173.8 1364.5)"/>
<path d="M295 1117.5C295.4 1112.9 297.9 1107.9 302.5 1105C307.1 1102.1 315 1101.9 322.5 1100C330 1098.1 340.4 1095.2 347.5 1093.8C354.6 1092.3 359.8 1090.6 365 1091.2C370.2 1091.9 375.6 1094.4 378.8 1097.5C381.9 1100.6 383.5 1105.4 383.8 1110C384 1114.6 383.1 1120.8 380 1125C376.9 1129.2 370 1132.1 365 1135C360 1137.9 355 1139.6 350 1142.5C345 1145.4 339.6 1150.4 335 1152.5C330.4 1154.6 326.7 1155.8 322.5 1155C318.3 1154.2 313.8 1151.2 310 1147.5C306.2 1143.8 302.5 1137.5 300 1132.5C297.5 1127.5 294.6 1122.1 295 1117.5Z" fill="#0000FF"/>
<path d="M306.2 1125C306.7 1122.3 308.5 1118.1 312.5 1116.2C316.5 1114.4 324.6 1114 330 1113.8C335.4 1113.5 340.8 1116 345 1115C349.2 1114 351.5 1109.2 355 1107.5C358.5 1105.8 363.1 1104.2 366.2 1105C369.4 1105.8 372.9 1109.8 373.8 1112.5C374.6 1115.2 374 1119 371.2 1121.2C368.5 1123.5 362.3 1125.2 357.5 1126.2C352.7 1127.3 346.2 1125.6 342.5 1127.5C338.8 1129.4 337.5 1134.8 335 1137.5C332.5 1140.2 330.4 1143.3 327.5 1143.8C324.6 1144.2 320.4 1141.9 317.5 1140C314.6 1138.1 311.9 1135 310 1132.5C308.1 1130 305.8 1127.7 306.2 1125Z" fill="#0099FF"/>
<path d="M152.5 1232.5C152.9 1227.9 156.2 1225 160 1222.5C163.8 1220 170.8 1220.4 175 1217.5C179.2 1214.6 181.9 1207.5 185 1205C188.1 1202.5 191.9 1201.7 193.8 1202.5C195.6 1203.3 196.7 1206.2 196.2 1210C195.8 1213.8 192.3 1219.2 191.2 1225C190.2 1230.8 190 1239.2 190 1245C190 1250.8 192.1 1255.8 191.2 1260C190.4 1264.2 187.7 1267.7 185 1270C182.3 1272.3 178.3 1274.6 175 1273.8C171.7 1272.9 167.9 1269 165 1265C162.1 1261 159.6 1255.4 157.5 1250C155.4 1244.6 152.1 1237.1 152.5 1232.5Z" fill="#0000FF"/>
<path d="M416.2 1202.5C416.7 1198.3 419 1191.7 422.5 1187.5C426 1183.3 431.2 1180.2 437.5 1177.5C443.8 1174.8 453.8 1171.2 460 1171.2C466.2 1171.2 471.5 1174 475 1177.5C478.5 1181 480.2 1186.7 481.2 1192.5C482.3 1198.3 482.3 1205.8 481.2 1212.5C480.2 1219.2 477.7 1227.1 475 1232.5C472.3 1237.9 468.8 1242.5 465 1245C461.2 1247.5 457.1 1248.3 452.5 1247.5C447.9 1246.7 441.7 1243.8 437.5 1240C433.3 1236.2 430.4 1229.6 427.5 1225C424.6 1220.4 421.9 1216.2 420 1212.5C418.1 1208.8 415.8 1206.7 416.2 1202.5Z" fill="#0000FF"/>
<path d="M423.8 1205C423.8 1200.8 426.5 1195.8 430 1192.5C433.5 1189.2 439.6 1186.5 445 1185C450.4 1183.5 457.9 1182.5 462.5 1183.8C467.1 1185 470.6 1188.1 472.5 1192.5C474.4 1196.9 474.2 1204.2 473.8 1210C473.3 1215.8 472.3 1222.9 470 1227.5C467.7 1232.1 463.8 1235.4 460 1237.5C456.2 1239.6 451.2 1241.2 447.5 1240C443.8 1238.8 440.4 1233.8 437.5 1230C434.6 1226.2 432.3 1221.7 430 1217.5C427.7 1213.3 423.8 1209.2 423.8 1205Z" fill="#0099FF"/>
<ellipse cx="585.8" cy="1301.8" rx="6.8" ry="6.8" fill="#0000FF" transform="rotate(0 585.8 1301.8)"/>
<path d="M117.5 1092.5C119.5 1083.2 128.5 1091 132.5 1090C136.5 1089 143.2 1087 147.5 1085C151.8 1083 160.7 1077.3 165 1075C169.3 1072.7 172 1068.5 180 1067.5C188 1066.5 217 1065.2 225 1067.5C233 1069.8 236.7 1079.7 240 1085C243.3 1090.3 246.7 1102.2 250 1107.5C253.3 1112.8 261 1120.3 265 1125C269 1129.7 277 1137.2 280 1142.5C283 1147.8 286.8 1159.3 287.5 1165C288.2 1170.7 286.7 1180.3 285 1185C283.3 1189.7 277.7 1196 275 1200C272.3 1204 267 1210.3 265 1215C263 1219.7 261 1229 260 1235C259 1241 258.8 1254 257.5 1260C256.2 1266 252 1276.7 250 1280C248 1283.3 244.5 1285.7 242.5 1285C240.5 1284.3 236.7 1279 235 1275C233.3 1271 231 1261 230 1255C229 1249 227.7 1236 227.5 1230C227.3 1224 229.8 1215.3 228.8 1210C227.8 1204.7 223.2 1195 220 1190C216.8 1185 209.7 1176.5 205 1172.5C200.3 1168.5 190.3 1162 185 1160C179.7 1158 170.3 1157.5 165 1157.5C159.7 1157.5 150 1159.3 145 1160C140 1160.7 131.2 1162.5 127.5 1162.5C123.8 1162.5 118.8 1169.3 117.5 1160C116.2 1150.7 115.5 1101.8 117.5 1092.5Z" fill="#FFFF00"/>
<path d="M117.5 1067.5C120 1061.2 130.4 1065.4 132.5 1067.5C134.6 1069.6 129.8 1076.5 130 1080C130.2 1083.5 134.6 1085.4 133.8 1088.8C132.9 1092.1 127.7 1097.3 125 1100C122.3 1102.7 118.8 1110.4 117.5 1105C116.2 1099.6 115 1073.8 117.5 1067.5Z" fill="#006600"/>
<path d="M141.2 1135C141.7 1130.4 143.5 1124.2 147.5 1117.5C151.5 1110.8 158.8 1101.7 165 1095C171.2 1088.3 179.6 1082.1 185 1077.5C190.4 1072.9 191.7 1069.2 197.5 1067.5C203.3 1065.8 214.6 1064.6 220 1067.5C225.4 1070.4 226.7 1078.8 230 1085C233.3 1091.2 236.2 1098.8 240 1105C243.8 1111.2 247.5 1116.7 252.5 1122.5C257.5 1128.3 265.4 1133.8 270 1140C274.6 1146.2 278.3 1153.8 280 1160C281.7 1166.2 281.2 1172.5 280 1177.5C278.8 1182.5 275.4 1186.5 272.5 1190C269.6 1193.5 265.8 1196.9 262.5 1198.8C259.2 1200.6 255.8 1202.3 252.5 1201.2C249.2 1200.2 246.2 1196 242.5 1192.5C238.8 1189 234.6 1184.6 230 1180C225.4 1175.4 220.4 1169.6 215 1165C209.6 1160.4 203.3 1155.4 197.5 1152.5C191.7 1149.6 186.2 1148.1 180 1147.5C173.8 1146.9 165.8 1149.2 160 1148.8C154.2 1148.3 148.1 1147.3 145 1145C141.9 1142.7 140.8 1139.6 141.2 1135Z" fill="#FF9900"/>
<path d="M166.2 1125C165.8 1120.4 170.6 1112.7 175 1107.5C179.4 1102.3 186.7 1096.7 192.5 1093.8C198.3 1090.8 205 1089.8 210 1090C215 1090.2 218.8 1091.7 222.5 1095C226.2 1098.3 228.8 1105 232.5 1110C236.2 1115 240.4 1120 245 1125C249.6 1130 255.8 1134.6 260 1140C264.2 1145.4 267.7 1152.1 270 1157.5C272.3 1162.9 274.2 1167.9 273.8 1172.5C273.3 1177.1 270.2 1182.1 267.5 1185C264.8 1187.9 261.2 1190.4 257.5 1190C253.8 1189.6 249.6 1185.8 245 1182.5C240.4 1179.2 235.4 1174.6 230 1170C224.6 1165.4 218.3 1160 212.5 1155C206.7 1150 200.8 1143.3 195 1140C189.2 1136.7 182.3 1137.5 177.5 1135C172.7 1132.5 166.7 1129.6 166.2 1125Z" fill="#FF0000"/>
<path d="M191.2 1122.5C190.4 1117.9 194 1112.9 197.5 1110C201 1107.1 207.5 1105 212.5 1105C217.5 1105 222.9 1106.7 227.5 1110C232.1 1113.3 235.4 1120 240 1125C244.6 1130 250.8 1134.6 255 1140C259.2 1145.4 263.1 1152.5 265 1157.5C266.9 1162.5 267.3 1166.7 266.2 1170C265.2 1173.3 261.9 1177.1 258.8 1177.5C255.6 1177.9 251.5 1175 247.5 1172.5C243.5 1170 239.6 1166.7 235 1162.5C230.4 1158.3 225.4 1151.7 220 1147.5C214.6 1143.3 207.3 1141.7 202.5 1137.5C197.7 1133.3 192.1 1127.1 191.2 1122.5Z" fill="#CC0000"/>
<path d="M220 1132.5C220 1129.6 222.1 1127.5 225 1127.5C227.9 1127.5 232.9 1130 237.5 1132.5C242.1 1135 248.5 1138.8 252.5 1142.5C256.5 1146.2 259.8 1151.2 261.2 1155C262.7 1158.8 262.3 1162.3 261.2 1165C260.2 1167.7 257.7 1170.8 255 1171.2C252.3 1171.7 248.3 1169.4 245 1167.5C241.7 1165.6 238.3 1163.8 235 1160C231.7 1156.2 227.5 1149.6 225 1145C222.5 1140.4 220 1135.4 220 1132.5Z" fill="#990000"/>
<ellipse cx="245" cy="1152.5" rx="12" ry="13" fill="#FF00FF" transform="rotate(0 245 1152.5)"/>
<ellipse cx="245.8" cy="1153.8" rx="5" ry="5" fill="#9966CC" transform="rotate(0 245.8 1153.8)"/>
<path d="M232.5 1222.5L237 1218L242 1222.5L237 1227Z" fill="#FF9900"/>
<ellipse cx="423.8" cy="1148" rx="12.5" ry="14.5" fill="#FFFF00" transform="rotate(10 423.8 1148)"/>
<path d="M375 1245C375.4 1241.2 376.7 1237.9 380 1236.2C383.3 1234.6 390.8 1234.2 395 1235C399.2 1235.8 403 1238.3 405 1241.2C407 1244.2 407.4 1248.8 407 1252.5C406.6 1256.2 405.8 1261.7 402.5 1263.8C399.2 1265.8 391.7 1265.8 387.5 1265C383.3 1264.2 379.6 1262.1 377.5 1258.8C375.4 1255.4 374.6 1248.8 375 1245Z" fill="#FFFF00"/>
<path d="M517.5 1180C517.7 1172.9 518.3 1165.8 520 1160C521.7 1154.2 524.2 1147.1 527.5 1145C530.8 1142.9 535.8 1145 540 1147.5C544.2 1150 549.6 1154.6 552.5 1160C555.4 1165.4 556.7 1172.5 557.5 1180C558.3 1187.5 558.8 1197.9 557.5 1205C556.2 1212.1 553.3 1218.3 550 1222.5C546.7 1226.7 541.7 1230 537.5 1230C533.3 1230 528.1 1227.1 525 1222.5C521.9 1217.9 520 1209.6 518.8 1202.5C517.5 1195.4 517.3 1187.1 517.5 1180Z" fill="#FFFF00"/>
<path d="M525 1202.5C525.2 1199.2 528.1 1193.8 530 1190C531.9 1186.2 533.8 1180 536.2 1180C538.8 1180 543.8 1185.8 545 1190C546.2 1194.2 545.2 1201.2 543.8 1205C542.3 1208.8 538.8 1211.7 536.2 1212.5C533.8 1213.3 530.6 1211.7 528.8 1210C526.9 1208.3 524.8 1205.8 525 1202.5Z" fill="#FF9900"/>
<path d="M217.5 1325C218 1321.3 218.9 1315 221.2 1312.5C223.6 1310 231.2 1306.8 235 1306.2C238.8 1305.8 246 1307.2 250 1308.8C254 1310.2 260.3 1315.3 265 1317.5C269.7 1319.7 279.7 1324.3 285 1325C290.3 1325.7 299.7 1324.5 305 1322.5C310.3 1320.5 319.7 1312.7 325 1310C330.3 1307.3 340.3 1303.7 345 1302.5C349.7 1301.3 357.3 1300.2 360 1301.2C362.7 1302.2 364 1306.5 365 1310C366 1313.5 366.3 1323.5 367.5 1327.5C368.7 1331.5 373.4 1337 373.8 1340C374.1 1343 372.5 1347.7 370 1350C367.5 1352.3 359.7 1355.8 355 1357.5C350.3 1359.2 340 1361.2 335 1362.5C330 1363.8 321.8 1365.8 317.5 1367.5C313.2 1369.2 305.5 1372 302.5 1375C299.5 1378 296.2 1381.3 295 1390C293.8 1398.7 303.4 1433.3 293.8 1440C284.1 1446.7 232 1445.3 222.5 1440C213 1434.7 222.2 1408.7 222.5 1400C222.8 1391.3 225 1381 225 1375C225 1369 223.5 1359.7 222.5 1355C221.5 1350.3 218.2 1344 217.5 1340C216.8 1336 217 1328.7 217.5 1325Z" fill="#FFFF00"/>
<path d="M318.8 1335C318.5 1330.8 319.8 1325.8 322.5 1322.5C325.2 1319.2 330.8 1315.4 335 1315C339.2 1314.6 344.6 1317.1 347.5 1320C350.4 1322.9 352.5 1328.3 352.5 1332.5C352.5 1336.7 350.4 1341.7 347.5 1345C344.6 1348.3 339 1352.1 335 1352.5C331 1352.9 326.5 1350.4 323.8 1347.5C321 1344.6 319 1339.2 318.8 1335Z" fill="#FF9900"/>
<path d="M232.5 1420C232.9 1412.5 236.2 1403.3 237.5 1395C238.8 1386.7 238.5 1376.7 240 1370C241.5 1363.3 243.3 1358.8 246.2 1355C249.2 1351.2 254 1347.9 257.5 1347.5C261 1347.1 265 1348.8 267.5 1352.5C270 1356.2 271.2 1363.8 272.5 1370C273.8 1376.2 273.3 1384.6 275 1390C276.7 1395.4 281 1397.9 282.5 1402.5C284 1407.1 285 1413.3 283.8 1417.5C282.5 1421.7 279 1423.8 275 1427.5C271 1431.2 266.7 1437.9 260 1440C253.3 1442.1 239.6 1443.3 235 1440C230.4 1436.7 232.1 1427.5 232.5 1420Z" fill="#FF9900"/>
<path d="M117.5 1305C118.3 1303.3 120.9 1302.9 122.5 1303.8C124.1 1304.6 127 1308.3 127 1310C127 1311.7 124.1 1313.1 122.5 1313.8C120.9 1314.4 118.3 1315.2 117.5 1313.8C116.7 1312.3 116.7 1306.7 117.5 1305Z" fill="#FFFF00"/>
<path d="M407.5 1280C408.3 1275.8 412 1274.1 415 1273.8C418 1273.4 426.3 1275.8 430 1277.5C433.7 1279.2 438.5 1285.1 442.5 1286.2C446.5 1287.4 454.3 1286.4 460 1286.2C465.7 1286.1 480 1285.8 485 1285C490 1284.2 495.3 1282.3 497.5 1280C499.7 1277.7 499.6 1270 501.2 1267.5C502.9 1265 507.2 1261.9 510 1261.2C512.8 1260.6 520 1260.7 522.5 1262.5C525 1264.3 527.6 1271 528.8 1275C529.9 1279 531.8 1288.8 531.2 1292.5C530.8 1296.2 527.5 1300.8 525 1302.5C522.5 1304.2 514.5 1303 512.5 1305C510.5 1307 511.7 1312.8 510 1317.5C508.3 1322.2 503.3 1334.3 500 1340C496.7 1345.7 489.3 1355.3 485 1360C480.7 1364.7 471.2 1373.2 467.5 1375C463.8 1376.8 461.2 1375.4 457.5 1373.8C453.8 1372.1 444.3 1366 440 1362.5C435.7 1359 428.3 1351.8 425 1347.5C421.7 1343.2 417.2 1335.7 415 1330C412.8 1324.3 409.8 1311.7 408.8 1305C407.8 1298.3 406.7 1284.2 407.5 1280Z" fill="#FFFF00"/>
<path d="M503.8 1296.2C504 1294.8 506.2 1293.1 507.5 1293.8C508.8 1294.4 510.8 1298.1 511.2 1300C511.7 1301.9 510.8 1304.6 510 1305C509.2 1305.4 507.3 1304 506.2 1302.5C505.2 1301 503.5 1297.7 503.8 1296.2Z" fill="#006600"/>
<path d="M421.2 1320C421 1315 422.3 1309 425 1305C427.7 1301 432.5 1298.5 437.5 1296.2C442.5 1294 449.2 1291.9 455 1291.2C460.8 1290.6 467.1 1290.6 472.5 1292.5C477.9 1294.4 483.8 1298.3 487.5 1302.5C491.2 1306.7 494.2 1312.1 495 1317.5C495.8 1322.9 494.6 1329.6 492.5 1335C490.4 1340.4 486.7 1345.8 482.5 1350C478.3 1354.2 472.5 1358.8 467.5 1360C462.5 1361.2 457.5 1359.6 452.5 1357.5C447.5 1355.4 441.9 1351.2 437.5 1347.5C433.1 1343.8 429 1339.6 426.2 1335C423.5 1330.4 421.5 1325 421.2 1320Z" fill="#FF9900"/>
<path d="M427.5 1320C427.1 1314.8 429.6 1309.8 432.5 1306.2C435.4 1302.7 440.4 1300.6 445 1298.8C449.6 1296.9 455 1294.8 460 1295C465 1295.2 471 1297.1 475 1300C479 1302.9 482.5 1307.5 483.8 1312.5C485 1317.5 484.4 1324.6 482.5 1330C480.6 1335.4 476.2 1341.2 472.5 1345C468.8 1348.8 464.4 1352.1 460 1352.5C455.6 1352.9 450.4 1350 446.2 1347.5C442.1 1345 438.1 1342.1 435 1337.5C431.9 1332.9 427.9 1325.2 427.5 1320Z" fill="#FF0000"/>
<path d="M440 1320C440 1316.2 441.2 1311.7 443.8 1308.8C446.2 1305.8 451 1303.1 455 1302.5C459 1301.9 464.2 1302.9 467.5 1305C470.8 1307.1 474.2 1311.2 475 1315C475.8 1318.8 474.6 1323.8 472.5 1327.5C470.4 1331.2 465.8 1335.8 462.5 1337.5C459.2 1339.2 455.6 1338.5 452.5 1337.5C449.4 1336.5 445.8 1334.2 443.8 1331.2C441.7 1328.3 440 1323.8 440 1320Z" fill="#CC0000"/>
<ellipse cx="456.8" cy="1318.8" rx="12.5" ry="11.5" fill="#990000" transform="rotate(0 456.8 1318.8)"/>
<ellipse cx="456.8" cy="1315.8" rx="8.5" ry="8" fill="#FF00FF" transform="rotate(0 456.8 1315.8)"/>
</g>
<use href="#ol" class="ol" transform="translate(113.3 1072.8) scale(0.9905 0.9873)"/>
<path d="M103.7 1071H115.7M103.7 1094.4H115.7M103.7 1117.8H115.7M103.7 1141.1H115.7M103.7 1164.5H115.7M103.7 1187.9H115.7M103.7 1211.2H115.7M103.7 1234.6H115.7M103.7 1258H115.7M103.7 1281.4H115.7M103.7 1304.8H115.7M103.7 1328.1H115.7M103.7 1351.5H115.7M103.7 1374.9H115.7M103.7 1398.2H115.7M103.7 1421.6H115.7M103.7 1445H115.7M121.5 1445V1457M152.8 1445V1457M184.1 1445V1457M215.4 1445V1457M246.8 1445V1457M278.1 1445V1457M309.4 1445V1457M340.7 1445V1457M372 1445V1457M403.3 1445V1457M434.6 1445V1457M465.9 1445V1457M497.2 1445V1457M528.6 1445V1457M559.9 1445V1457M591.2 1445V1457M622.5 1445V1457" stroke="#7f7f7f" stroke-width="2" fill="none"/>
<path d="M115.7 1070V1445H623.5" stroke="#9a9a9a" stroke-width="2" fill="none"/>
<text x="99" y="1078.2" class="e">52.06</text>
<text x="99" y="1125" class="e">52.04</text>
<text x="99" y="1171.7" class="e">52.03</text>
<text x="99" y="1218.5" class="e">52.01</text>
<text x="99" y="1265.2" class="e">52.00</text>
<text x="99" y="1312" class="e">51.98</text>
<text x="99" y="1358.7" class="e">51.96</text>
<text x="99" y="1405.5" class="e">51.95</text>
<text x="99" y="1452.2" class="e">51.93</text>
<text x="121.5" y="1480.7" class="m">22.45</text>
<text x="184.1" y="1480.7" class="m">22.47</text>
<text x="246.8" y="1480.7" class="m">22.50</text>
<text x="309.4" y="1480.7" class="m">22.52</text>
<text x="372" y="1480.7" class="m">22.54</text>
<text x="434.6" y="1480.7" class="m">22.57</text>
<text x="497.2" y="1480.7" class="m">22.59</text>
<text x="559.9" y="1480.7" class="m">22.61</text>
<text x="622.5" y="1480.7" class="m">22.63</text>
<text x="367.5" y="1509.7" class="m">Longitude (°)</text>
<text x="38.2" y="1259" class="m" transform="rotate(-90 38.2 1259)">Latitude (°)</text>
<rect x="629" y="1132" width="18.5" height="21.8" fill="#9966CC"/>
<rect x="629" y="1153.5" width="18.5" height="21.8" fill="#FF00FF"/>
<rect x="629" y="1175.1" width="18.5" height="21.8" fill="#990000"/>
<rect x="629" y="1196.6" width="18.5" height="21.8" fill="#CC0000"/>
<rect x="629" y="1218.2" width="18.5" height="21.8" fill="#FF0000"/>
<rect x="629" y="1239.7" width="18.5" height="21.8" fill="#FF9900"/>
<rect x="629" y="1261.2" width="18.5" height="21.8" fill="#FFFF00"/>
<rect x="629" y="1282.8" width="18.5" height="21.8" fill="#006600"/>
<rect x="629" y="1304.3" width="18.5" height="21.8" fill="#009900"/>
<rect x="629" y="1325.9" width="18.5" height="21.8" fill="#00CC00"/>
<rect x="629" y="1347.4" width="18.5" height="21.8" fill="#00FF00"/>
<rect x="629" y="1368.9" width="18.5" height="21.8" fill="#0000FF"/>
<rect x="629" y="1390.5" width="18.5" height="21.8" fill="#0099FF"/>
<rect x="629" y="1412" width="18.5" height="21.8" fill="#00CCFF"/>
<text x="676" y="1116.3" style="font-size:19.5px">1.40</text>
<text x="676" y="1137.8" style="font-size:19.5px">1.34</text>
<text x="676" y="1159.4" style="font-size:19.5px">1.28</text>
<text x="676" y="1180.9" style="font-size:19.5px">1.22</text>
<text x="676" y="1202.4" style="font-size:19.5px">1.16</text>
<text x="676" y="1224" style="font-size:19.5px">1.10</text>
<text x="676" y="1245.5" style="font-size:19.5px">1.04</text>
<text x="676" y="1267.1" style="font-size:19.5px">0.98</text>
<text x="676" y="1288.6" style="font-size:19.5px">0.92</text>
<text x="676" y="1310.1" style="font-size:19.5px">0.86</text>
<text x="676" y="1331.7" style="font-size:19.5px">0.80</text>
<text x="676" y="1353.2" style="font-size:19.5px">0.74</text>
<text x="676" y="1374.8" style="font-size:19.5px">0.68</text>
<text x="676" y="1396.3" style="font-size:19.5px">0.62</text>
<text x="676" y="1417.8" style="font-size:19.5px">0.56</text>
<text x="676" y="1439.4" style="font-size:19.5px">0.50</text>
<text x="639" y="1086.5" style="font-size:19px">OC (%)</text>
</g>
<g id="p06">
<clipPath id="c6"><rect x="886" y="1070" width="529" height="362.5"/></clipPath>
<g clip-path="url(#c6)">
<rect x="886" y="1070" width="529" height="362.5" fill="#009900"/>
<path d="M881 1065C892.7 1021.8 968.8 1062.1 981 1065C993.2 1067.9 983.1 1085.9 986 1090C988.9 1094.1 1001.3 1099.7 1006 1100C1010.7 1100.3 1020.8 1094 1026 1092.5C1031.2 1091 1046.3 1088.4 1051 1087.5C1055.7 1086.6 1062.2 1083.5 1066 1085C1069.8 1086.5 1080.9 1095.3 1083.5 1100C1086.1 1104.7 1089.4 1120 1088.5 1125C1087.6 1130 1079.8 1140.8 1076 1142.5C1072.2 1144.2 1059.5 1138.5 1056 1140C1052.5 1141.5 1046.9 1152.1 1046 1155C1045.1 1157.9 1049.7 1163 1048.5 1165C1047.3 1167 1039.8 1171.3 1036 1172.5C1032.2 1173.7 1020.7 1174.4 1016 1175C1011.3 1175.6 1000.7 1177.8 996 1177.5C991.3 1177.2 981.2 1172.5 976 1172.5C970.8 1172.5 956 1176 951 1177.5C946 1179 936.4 1181.2 933.5 1185C930.6 1188.8 928.3 1204.2 926 1210C923.7 1215.8 915.5 1229.2 913.5 1235C911.5 1240.8 908.8 1254.2 908.5 1260C908.2 1265.8 910.1 1279.2 911 1285C911.9 1290.8 914.2 1304.2 916 1310C917.8 1315.8 923.1 1329.2 926 1335C928.9 1340.8 939.8 1354.2 941 1360C942.2 1365.8 937.8 1379.2 936 1385C934.2 1390.8 929.5 1404.2 926 1410C922.5 1415.8 911.2 1432.1 906 1435C900.8 1437.9 883.9 1478.2 881 1435C878.1 1391.8 869.3 1108.2 881 1065Z" fill="#006600"/>
<path d="M901 1132.5C902.2 1128.8 904.3 1124.6 908.5 1122.5C912.7 1120.4 921.4 1118.8 926 1120C930.6 1121.2 934.3 1125.8 936 1130C937.7 1134.2 937.7 1140.8 936 1145C934.3 1149.2 930.6 1153.5 926 1155C921.4 1156.5 912.7 1155.4 908.5 1153.8C904.3 1152.1 902.2 1148.5 901 1145C899.8 1141.5 899.8 1136.2 901 1132.5Z" fill="#009900"/>
<path d="M881 1122.5C883.1 1117.1 890.2 1114.2 893.5 1110C896.8 1105.8 900 1095.8 901 1097.5C902 1099.2 901.4 1112.9 899.8 1120C898.1 1127.1 894.1 1136.2 891 1140C887.9 1143.8 882.7 1145.4 881 1142.5C879.3 1139.6 878.9 1127.9 881 1122.5Z" fill="#009900"/>
<path d="M881 1355C884.3 1348.8 894.8 1347.5 901 1347.5C907.2 1347.5 914.3 1350.4 918.5 1355C922.7 1359.6 926.8 1369.2 926 1375C925.2 1380.8 919.3 1387.1 913.5 1390C907.7 1392.9 896.4 1393.3 891 1392.5C885.6 1391.7 882.7 1391.2 881 1385C879.3 1378.8 877.7 1361.2 881 1355Z" fill="#009900"/>
<path d="M1242.5 1065C1246 1061.8 1279.5 1062.7 1285 1065C1290.5 1067.3 1288.2 1080.3 1290 1085C1291.8 1089.7 1297.1 1100.3 1300 1105C1302.9 1109.7 1311.5 1120.6 1315 1125C1318.5 1129.4 1327.7 1137.8 1330 1142.5C1332.3 1147.2 1335.6 1160 1335 1165C1334.4 1170 1328.5 1182.4 1325 1185C1321.5 1187.6 1309.7 1187.5 1305 1187.5C1300.3 1187.5 1288.5 1186.5 1285 1185C1281.5 1183.5 1278.2 1177.9 1275 1175C1271.8 1172.1 1261 1162.3 1257.5 1160C1254 1157.7 1247 1157.9 1245 1155C1243 1152.1 1240 1140.2 1240 1135C1240 1129.8 1243.2 1115 1245 1110C1246.8 1105 1255.3 1097.8 1255 1092.5C1254.7 1087.2 1239 1068.2 1242.5 1065Z" fill="#006600"/>
<path d="M1117.5 1167.5C1117.5 1164.9 1122.4 1159.1 1125 1157.5C1127.6 1155.9 1136.2 1153.5 1140 1153.8C1143.8 1154 1153.4 1159 1157.5 1160C1161.6 1161 1171.2 1163.1 1175 1162.5C1178.8 1161.9 1188 1158.2 1190 1155C1192 1151.8 1190.2 1138.1 1192.5 1135C1194.8 1131.9 1205.6 1129.3 1210 1128.8C1214.4 1128.2 1226.5 1128.1 1230 1130C1233.5 1131.9 1238.8 1140.9 1240 1145C1241.2 1149.1 1241.8 1161.2 1240 1165C1238.2 1168.8 1229.1 1175.8 1225 1177.5C1220.9 1179.2 1208.8 1178.5 1205 1180C1201.2 1181.5 1194.8 1187.1 1192.5 1190C1190.2 1192.9 1187.6 1202.1 1185 1205C1182.4 1207.9 1173.5 1214.7 1170 1215C1166.5 1215.3 1158.8 1210.4 1155 1207.5C1151.2 1204.6 1141 1193.2 1137.5 1190C1134 1186.8 1127.3 1182.6 1125 1180C1122.7 1177.4 1117.5 1170.1 1117.5 1167.5Z" fill="#006600"/>
<path d="M1331.2 1215C1331.7 1211.2 1333.5 1208.3 1337.5 1207.5C1341.5 1206.7 1350.6 1207.9 1355 1210C1359.4 1212.1 1363.3 1215.8 1363.8 1220C1364.2 1224.2 1360.6 1231.7 1357.5 1235C1354.4 1238.3 1348.8 1240.8 1345 1240C1341.2 1239.2 1337.3 1234.2 1335 1230C1332.7 1225.8 1330.8 1218.8 1331.2 1215Z" fill="#006600"/>
<path d="M1370 1275C1371.7 1272.5 1379.2 1270 1385 1267.5C1390.8 1265 1399.2 1261.7 1405 1260C1410.8 1258.3 1417.5 1254.2 1420 1257.5C1422.5 1260.8 1424.2 1275.4 1420 1280C1415.8 1284.6 1402.5 1284.6 1395 1285C1387.5 1285.4 1379.2 1284.2 1375 1282.5C1370.8 1280.8 1368.3 1277.5 1370 1275Z" fill="#006600"/>
<path d="M1257.5 1440C1246.4 1437.4 1266.2 1421.3 1270 1417.5C1273.8 1413.7 1286.5 1410.4 1290 1407.5C1293.5 1404.6 1297.1 1395.1 1300 1392.5C1302.9 1389.9 1311.2 1384.7 1315 1385C1318.8 1385.3 1328.4 1395 1332.5 1395C1336.6 1395 1346.2 1388.5 1350 1385C1353.8 1381.5 1361.5 1369.7 1365 1365C1368.5 1360.3 1376.2 1348.2 1380 1345C1383.8 1341.8 1395.2 1335.8 1397.5 1337.5C1399.8 1339.2 1400.3 1354.5 1400 1360C1399.7 1365.5 1396.8 1379.5 1395 1385C1393.2 1390.5 1387.9 1402.8 1385 1407.5C1382.1 1412.2 1372.3 1421.2 1370 1425C1367.7 1428.8 1378.1 1438.2 1365 1440C1351.9 1441.8 1268.6 1442.6 1257.5 1440Z" fill="#006600"/>
<path d="M1280 1310C1282.1 1306.7 1290 1305 1295 1305C1300 1305 1307.9 1305.8 1310 1310C1312.1 1314.2 1309.2 1323.3 1307.5 1330C1305.8 1336.7 1302.5 1344.6 1300 1350C1297.5 1355.4 1294.6 1364.2 1292.5 1362.5C1290.4 1360.8 1289.2 1346.2 1287.5 1340C1285.8 1333.8 1283.8 1330 1282.5 1325C1281.2 1320 1277.9 1313.3 1280 1310Z" fill="#006600"/>
<path d="M956 1290C957.2 1287.1 961.8 1285 966 1285C970.2 1285 976.6 1288.3 981 1290C985.4 1291.7 991.4 1292.1 992.2 1295C993.1 1297.9 989.5 1305 986 1307.5C982.5 1310 975.6 1310.8 971 1310C966.4 1309.2 961 1305.8 958.5 1302.5C956 1299.2 954.8 1292.9 956 1290Z" fill="#006600"/>
<path d="M988.5 1335C990.2 1330.9 997.8 1322.3 1001 1320C1004.2 1317.7 1011.9 1314.4 1016 1315C1020.1 1315.6 1031.3 1322.7 1036 1325C1040.7 1327.3 1051.3 1334.1 1056 1335C1060.7 1335.9 1070.8 1331.9 1076 1332.5C1081.2 1333.1 1096.3 1338 1101 1340C1105.7 1342 1114.2 1346.5 1116 1350C1117.8 1353.5 1117.8 1367.1 1116 1370C1114.2 1372.9 1105.1 1374.4 1101 1375C1096.9 1375.6 1085.1 1373.8 1081 1375C1076.9 1376.2 1066.6 1382.1 1066 1385C1065.4 1387.9 1073.1 1397.4 1076 1400C1078.9 1402.6 1090.4 1405.5 1091 1407.5C1091.6 1409.5 1083.9 1416.9 1081 1417.5C1078.1 1418.1 1069.5 1415.1 1066 1412.5C1062.5 1409.9 1054.5 1398.2 1051 1395C1047.5 1391.8 1040.1 1385.6 1036 1385C1031.9 1384.4 1020.1 1390 1016 1390C1011.9 1390 1003.9 1387.3 1001 1385C998.1 1382.7 992.8 1373.5 991 1370C989.2 1366.5 986.3 1359.1 986 1355C985.7 1350.9 986.8 1339.1 988.5 1335Z" fill="#006600"/>
<path d="M1063.5 1305C1064.8 1300.8 1070.6 1296.2 1076 1295C1081.4 1293.8 1091.8 1295 1096 1297.5C1100.2 1300 1101 1305.4 1101 1310C1101 1314.6 1099.3 1322.1 1096 1325C1092.7 1327.9 1085.6 1328.3 1081 1327.5C1076.4 1326.7 1071.4 1323.8 1068.5 1320C1065.6 1316.2 1062.2 1309.2 1063.5 1305Z" fill="#006600"/>
<path d="M906 1425C907.7 1420.8 911.4 1415.8 916 1415C920.6 1414.2 929.3 1417.1 933.5 1420C937.7 1422.9 940.6 1429.2 941 1432.5C941.4 1435.8 941.8 1438.8 936 1440C930.2 1441.2 911 1442.5 906 1440C901 1437.5 904.3 1429.2 906 1425Z" fill="#006600"/>
<path d="M1062.5 1305C1064.2 1299.2 1070 1295 1075 1295C1080 1295 1088.3 1301.2 1092.5 1305C1096.7 1308.8 1099.6 1312.5 1100 1317.5C1100.4 1322.5 1098.3 1331.2 1095 1335C1091.7 1338.8 1085 1340.8 1080 1340C1075 1339.2 1067.9 1335.8 1065 1330C1062.1 1324.2 1060.8 1310.8 1062.5 1305Z" fill="#006600"/>
<path d="M1050 1375C1052.5 1370.4 1060 1369.2 1065 1370C1070 1370.8 1075 1375 1080 1380C1085 1385 1093.3 1394.6 1095 1400C1096.7 1405.4 1093.3 1410 1090 1412.5C1086.7 1415 1080 1415.8 1075 1415C1070 1414.2 1064.2 1410.4 1060 1407.5C1055.8 1404.6 1051.7 1402.9 1050 1397.5C1048.3 1392.1 1047.5 1379.6 1050 1375Z" fill="#006600"/>
<path d="M1305 1300C1305.4 1296.7 1311.2 1293.3 1315 1292.5C1318.8 1291.7 1325.8 1292.1 1327.5 1295C1329.2 1297.9 1327.5 1307.1 1325 1310C1322.5 1312.9 1315.8 1314.2 1312.5 1312.5C1309.2 1310.8 1304.6 1303.3 1305 1300Z" fill="#006600"/>
<path d="M992.2 1106.2C993.5 1103.3 1000.8 1101.9 1006 1100C1011.2 1098.1 1018.1 1096 1023.5 1095C1028.9 1094 1034.3 1092.9 1038.5 1093.8C1042.7 1094.6 1046.4 1096.9 1048.5 1100C1050.6 1103.1 1051 1107.5 1051 1112.5C1051 1117.5 1050.6 1125.4 1048.5 1130C1046.4 1134.6 1042.2 1138.3 1038.5 1140C1034.8 1141.7 1029.3 1141.7 1026 1140C1022.7 1138.3 1021 1133.3 1018.5 1130C1016 1126.7 1014.3 1122.1 1011 1120C1007.7 1117.9 1001.6 1119.8 998.5 1117.5C995.4 1115.2 991 1109.2 992.2 1106.2Z" fill="#00CC00"/>
<ellipse cx="1039.8" cy="1128" rx="4.5" ry="4.5" fill="#00FF00" transform="rotate(0 1039.8 1128)"/>
<path d="M1083.5 1137.5C1084.8 1134.6 1087.2 1128.8 1091 1127.5C1094.8 1126.2 1101.8 1130.8 1106 1130C1110.2 1129.2 1112.7 1125.2 1116 1122.5C1119.3 1119.8 1121.8 1115.4 1126 1113.8C1130.2 1112.1 1136 1111.5 1141 1112.5C1146 1113.5 1152.7 1117.1 1156 1120C1159.3 1122.9 1161.8 1126.7 1161 1130C1160.2 1133.3 1155.2 1137.5 1151 1140C1146.8 1142.5 1140.6 1143.8 1136 1145C1131.4 1146.2 1127.2 1145.8 1123.5 1147.5C1119.8 1149.2 1117.2 1152.9 1113.5 1155C1109.8 1157.1 1105.2 1160 1101 1160C1096.8 1160 1091.4 1157.5 1088.5 1155C1085.6 1152.5 1084.3 1147.9 1083.5 1145C1082.7 1142.1 1082.2 1140.4 1083.5 1137.5Z" fill="#00CC00"/>
<ellipse cx="1133.5" cy="1127.5" rx="10" ry="8.8" fill="#00FF00" transform="rotate(0 1133.5 1127.5)"/>
<ellipse cx="1099.8" cy="1147.5" rx="4.5" ry="4.5" fill="#00FF00" transform="rotate(0 1099.8 1147.5)"/>
<ellipse cx="920.5" cy="1136.2" rx="5.5" ry="5" fill="#00CC00" transform="rotate(0 920.5 1136.2)"/>
<path d="M931 1210C932.7 1205.3 935.8 1193.7 938.5 1190C941.2 1186.3 946.7 1184.2 951 1182.5C955.3 1180.8 966.3 1177.8 971 1177.5C975.7 1177.2 982.3 1177.7 986 1180C989.7 1182.3 997.5 1191 998.5 1195C999.5 1199 995.8 1206.7 993.5 1210C991.2 1213.3 985 1218.7 981 1220C977 1221.3 966.8 1218 963.5 1220C960.2 1222 957.3 1230.3 956 1235C954.7 1239.7 952.5 1253 953.5 1255C954.5 1257 959.8 1251 963.5 1250C967.2 1249 977 1246.8 981 1247.5C985 1248.2 991.2 1252.3 993.5 1255C995.8 1257.7 998.5 1264.2 998.5 1267.5C998.5 1270.8 996.5 1277.7 993.5 1280C990.5 1282.3 980.7 1285 976 1285C971.3 1285 961.8 1278.7 958.5 1280C955.2 1281.3 953.7 1291.7 951 1295C948.3 1298.3 942.2 1304.3 938.5 1305C934.8 1305.7 926.2 1302.7 923.5 1300C920.8 1297.3 918.5 1290.3 918.5 1285C918.5 1279.7 923.5 1265.3 923.5 1260C923.5 1254.7 918.2 1249.7 918.5 1245C918.8 1240.3 924.3 1229.7 926 1225C927.7 1220.3 929.3 1214.7 931 1210Z" fill="#00CC00"/>
<ellipse cx="976" cy="1203.8" rx="17" ry="11.2" fill="#00FF00" transform="rotate(-10 976 1203.8)"/>
<path d="M926 1235C926.6 1229.2 928.5 1223.3 931 1220C933.5 1216.7 938.1 1214.2 941 1215C943.9 1215.8 947 1220 948.5 1225C950 1230 950.2 1237.9 949.8 1245C949.3 1252.1 947 1260.8 946 1267.5C945 1274.2 945.2 1280 943.5 1285C941.8 1290 938.7 1296.2 936 1297.5C933.3 1298.8 929.3 1296.2 927.2 1292.5C925.2 1288.8 923.5 1281.2 923.5 1275C923.5 1268.8 926.8 1261.7 927.2 1255C927.7 1248.3 925.4 1240.8 926 1235Z" fill="#00FF00"/>
<ellipse cx="974.8" cy="1265" rx="16.2" ry="11.2" fill="#00FF00" transform="rotate(0 974.8 1265)"/>
<path d="M1018.5 1240C1019.8 1237.1 1025.6 1233.8 1031 1232.5C1036.4 1231.2 1046 1233.8 1051 1232.5C1056 1231.2 1056.8 1226.7 1061 1225C1065.2 1223.3 1072 1221.2 1076 1222.5C1080 1223.8 1083.9 1228.8 1084.8 1232.5C1085.6 1236.2 1083.7 1241.7 1081 1245C1078.3 1248.3 1072.7 1250 1068.5 1252.5C1064.3 1255 1058.9 1257.1 1056 1260C1053.1 1262.9 1053.5 1268.8 1051 1270C1048.5 1271.2 1043.5 1270.4 1041 1267.5C1038.5 1264.6 1038.9 1255.4 1036 1252.5C1033.1 1249.6 1026.4 1252.1 1023.5 1250C1020.6 1247.9 1017.2 1242.9 1018.5 1240Z" fill="#00CC00"/>
<ellipse cx="1138.5" cy="1217" rx="17.5" ry="16.2" fill="#00CC00" transform="rotate(30 1138.5 1217)"/>
<ellipse cx="1138.5" cy="1217" rx="11.2" ry="10.5" fill="#00FF00" transform="rotate(30 1138.5 1217)"/>
<ellipse cx="1104.8" cy="1280" rx="17.5" ry="15" fill="#00CC00" transform="rotate(0 1104.8 1280)"/>
<ellipse cx="1104.8" cy="1280" rx="12" ry="10.5" fill="#00FF00" transform="rotate(0 1104.8 1280)"/>
<ellipse cx="1203.5" cy="1260" rx="15" ry="14.5" fill="#00CC00" transform="rotate(0 1203.5 1260)"/>
<ellipse cx="1203.5" cy="1260" rx="10" ry="9.5" fill="#00FF00" transform="rotate(0 1203.5 1260)"/>
<ellipse cx="1257.5" cy="1198.8" rx="16.2" ry="13.8" fill="#00CC00" transform="rotate(0 1257.5 1198.8)"/>
<ellipse cx="1257.5" cy="1198.8" rx="10" ry="8.8" fill="#00FF00" transform="rotate(0 1257.5 1198.8)"/>
<ellipse cx="1247.5" cy="1237.5" rx="20.5" ry="18.8" fill="#00CC00" transform="rotate(30 1247.5 1237.5)"/>
<ellipse cx="1247.5" cy="1237.5" rx="13.8" ry="12.5" fill="#00FF00" transform="rotate(30 1247.5 1237.5)"/>
<ellipse cx="1370" cy="1245" rx="14.5" ry="17.5" fill="#00CC00" transform="rotate(0 1370 1245)"/>
<ellipse cx="1370" cy="1245" rx="9.5" ry="12" fill="#00FF00" transform="rotate(0 1370 1245)"/>
<ellipse cx="1231.2" cy="1288.8" rx="15" ry="12.5" fill="#00CC00" transform="rotate(0 1231.2 1288.8)"/>
<ellipse cx="1231.2" cy="1288.8" rx="10" ry="8" fill="#00FF00" transform="rotate(0 1231.2 1288.8)"/>
<ellipse cx="1106" cy="1381.2" rx="18.8" ry="11.2" fill="#00CC00" transform="rotate(0 1106 1381.2)"/>
<ellipse cx="1106" cy="1381.2" rx="11.2" ry="6.2" fill="#00FF00" transform="rotate(0 1106 1381.2)"/>
<ellipse cx="1156" cy="1367.5" rx="21.2" ry="10" fill="#00CC00" transform="rotate(0 1156 1367.5)"/>
<ellipse cx="1156" cy="1367.5" rx="13.8" ry="5" fill="#00FF00" transform="rotate(0 1156 1367.5)"/>
<ellipse cx="1204.8" cy="1211.2" rx="12.5" ry="11.2" fill="#00CC00" transform="rotate(0 1204.8 1211.2)"/>
<ellipse cx="1218.5" cy="1183.8" rx="12.5" ry="8.8" fill="#00CC00" transform="rotate(0 1218.5 1183.8)"/>
<ellipse cx="1023.5" cy="1297.5" rx="11.2" ry="10.5" fill="#00CC00" transform="rotate(0 1023.5 1297.5)"/>
<ellipse cx="1265" cy="1148.8" rx="11.2" ry="7.5" fill="#00CC00" transform="rotate(0 1265 1148.8)"/>
<ellipse cx="1205" cy="1211.2" rx="12.5" ry="11.2" fill="#00CC00" transform="rotate(0 1205 1211.2)"/>
<ellipse cx="1361.2" cy="1197" rx="10" ry="7.5" fill="#00CC00" transform="rotate(0 1361.2 1197)"/>
<ellipse cx="1280" cy="1285" rx="13.8" ry="11.2" fill="#00CC00" transform="rotate(0 1280 1285)"/>
<ellipse cx="1041" cy="1320" rx="6.2" ry="6.2" fill="#00CC00" transform="rotate(0 1041 1320)"/>
<ellipse cx="963.5" cy="1415" rx="7.5" ry="7.5" fill="#00CC00" transform="rotate(0 963.5 1415)"/>
<ellipse cx="1265" cy="1330" rx="8.8" ry="11.2" fill="#00CC00" transform="rotate(0 1265 1330)"/>
<ellipse cx="898.5" cy="1235" rx="11.2" ry="11.2" fill="#00CC00" transform="rotate(0 898.5 1235)"/>
<ellipse cx="908.5" cy="1322.5" rx="5" ry="5" fill="#00CC00" transform="rotate(0 908.5 1322.5)"/>
<path d="M1270 1210C1270.4 1204.2 1275 1202.1 1280 1200C1285 1197.9 1294.2 1195.8 1300 1197.5C1305.8 1199.2 1310.8 1204.6 1315 1210C1319.2 1215.4 1324.2 1224.2 1325 1230C1325.8 1235.8 1323.3 1241.2 1320 1245C1316.7 1248.8 1310 1252.1 1305 1252.5C1300 1252.9 1294.6 1250.4 1290 1247.5C1285.4 1244.6 1280.8 1241.2 1277.5 1235C1274.2 1228.8 1269.6 1215.8 1270 1210Z" fill="#00CC00"/>
<path d="M1276.2 1215C1276.2 1209.6 1281 1206.9 1285 1205C1289 1203.1 1295.6 1202.1 1300 1203.8C1304.4 1205.4 1308.1 1210.2 1311.2 1215C1314.4 1219.8 1318.5 1227.9 1318.8 1232.5C1319 1237.1 1316 1240.6 1312.5 1242.5C1309 1244.4 1302.1 1244.6 1297.5 1243.8C1292.9 1242.9 1288.5 1242.3 1285 1237.5C1281.5 1232.7 1276.2 1220.4 1276.2 1215Z" fill="#00FF00"/>
<path d="M903.5 1362.5C904.8 1359.2 909.3 1357.1 913.5 1355C917.7 1352.9 923.9 1353.3 928.5 1350C933.1 1346.7 937.7 1341.2 941 1335C944.3 1328.8 945.6 1317.1 948.5 1312.5C951.4 1307.9 955.2 1306.2 958.5 1307.5C961.8 1308.8 965.6 1314.6 968.5 1320C971.4 1325.4 974.3 1334.2 976 1340C977.7 1345.8 979.3 1350.4 978.5 1355C977.7 1359.6 975.2 1364.6 971 1367.5C966.8 1370.4 959.8 1370.4 953.5 1372.5C947.2 1374.6 939.8 1378.3 933.5 1380C927.2 1381.7 920.6 1383.3 916 1382.5C911.4 1381.7 908.1 1378.3 906 1375C903.9 1371.7 902.2 1365.8 903.5 1362.5Z" fill="#00CC00"/>
<path d="M911 1367.5C911.8 1364.8 916.8 1362.1 921 1360C925.2 1357.9 932.2 1354.6 936 1355C939.8 1355.4 944.3 1359.6 943.5 1362.5C942.7 1365.4 935.6 1370.2 931 1372.5C926.4 1374.8 919.3 1377.1 916 1376.2C912.7 1375.4 910.2 1370.2 911 1367.5Z" fill="#00FF00"/>
<ellipse cx="967.2" cy="1347.5" rx="6.2" ry="6.2" fill="#00FF00" transform="rotate(0 967.2 1347.5)"/>
<ellipse cx="953.5" cy="1325" rx="3.8" ry="7.5" fill="#00FF00" transform="rotate(0 953.5 1325)"/>
<path d="M1327.5 1275C1329.2 1271.2 1334.6 1267.5 1340 1267.5C1345.4 1267.5 1352.9 1271.7 1360 1275C1367.1 1278.3 1375.8 1283.3 1382.5 1287.5C1389.2 1291.7 1395.4 1295.8 1400 1300C1404.6 1304.2 1410 1309.2 1410 1312.5C1410 1315.8 1405 1319.2 1400 1320C1395 1320.8 1386.2 1318.3 1380 1317.5C1373.8 1316.7 1368.3 1317.1 1362.5 1315C1356.7 1312.9 1350.4 1309.2 1345 1305C1339.6 1300.8 1332.9 1295 1330 1290C1327.1 1285 1325.8 1278.8 1327.5 1275Z" fill="#00CC00"/>
<path d="M1342.5 1280C1344.6 1278.3 1352.1 1282.9 1357.5 1285C1362.9 1287.1 1370.8 1289.2 1375 1292.5C1379.2 1295.8 1382.9 1302.1 1382.5 1305C1382.1 1307.9 1376.7 1310 1372.5 1310C1368.3 1310 1362.1 1307.5 1357.5 1305C1352.9 1302.5 1347.5 1299.2 1345 1295C1342.5 1290.8 1340.4 1281.7 1342.5 1280Z" fill="#00FF00"/>
<ellipse cx="976" cy="1204.2" rx="2.5" ry="2" fill="#0000FF" transform="rotate(0 976 1204.2)"/>
<path d="M931 1232.5C931.4 1228.8 932.9 1226.5 934.8 1225C936.6 1223.5 940.4 1222.5 942.2 1223.8C944.1 1225 946 1229 946 1232.5C946 1236 942.9 1240.8 942.2 1245C941.6 1249.2 942.9 1254 942.2 1257.5C941.6 1261 940 1265.8 938.5 1266.2C937 1266.7 934.5 1263.1 933.5 1260C932.5 1256.9 932.7 1252.1 932.2 1247.5C931.8 1242.9 930.6 1236.2 931 1232.5Z" fill="#0000FF"/>
<ellipse cx="938" cy="1233.8" rx="3.5" ry="4" fill="#0099FF" transform="rotate(0 938 1233.8)"/>
<ellipse cx="976" cy="1265.5" rx="8.8" ry="4.5" fill="#0000FF" transform="rotate(0 976 1265.5)"/>
<ellipse cx="1138.5" cy="1217" rx="3" ry="4.5" fill="#0000FF" transform="rotate(0 1138.5 1217)"/>
<ellipse cx="1105.5" cy="1280.5" rx="6.2" ry="5.5" fill="#0000FF" transform="rotate(0 1105.5 1280.5)"/>
<ellipse cx="1204" cy="1260" rx="5.5" ry="4.5" fill="#0000FF" transform="rotate(0 1204 1260)"/>
<ellipse cx="1258.8" cy="1198.8" rx="2.5" ry="2" fill="#0000FF" transform="rotate(0 1258.8 1198.8)"/>
<ellipse cx="1247" cy="1238" rx="6.2" ry="6" fill="#0000FF" transform="rotate(20 1247 1238)"/>
<path d="M1282.5 1220C1282.9 1216.7 1284 1212.1 1286.2 1210C1288.5 1207.9 1293.1 1206.7 1296.2 1207.5C1299.4 1208.3 1302.5 1211.2 1305 1215C1307.5 1218.8 1311.2 1226.7 1311.2 1230C1311.2 1233.3 1308.5 1234.2 1305 1235C1301.5 1235.8 1293.5 1235.8 1290 1235C1286.5 1234.2 1285 1232.5 1283.8 1230C1282.5 1227.5 1282.1 1223.3 1282.5 1220Z" fill="#0000FF"/>
<ellipse cx="1291.2" cy="1221.2" rx="7.5" ry="10" fill="#0099FF" transform="rotate(0 1291.2 1221.2)"/>
<ellipse cx="1366.2" cy="1301.2" rx="7" ry="7" fill="#0000FF" transform="rotate(0 1366.2 1301.2)"/>
<path d="M974.8 1082.5C974.8 1079.4 977.9 1076.7 981 1073.8C984.1 1070.8 981 1066.5 993.5 1065C1006 1063.5 1045 1062.9 1056 1065C1067 1067.1 1059.8 1073.8 1059.8 1077.5C1059.8 1081.2 1059.1 1085.4 1056 1087.5C1052.9 1089.6 1046 1090.2 1041 1090C1036 1089.8 1031 1086 1026 1086.2C1021 1086.5 1016.4 1089.8 1011 1091.2C1005.6 1092.7 998.5 1094.8 993.5 1095C988.5 1095.2 984.1 1094.6 981 1092.5C977.9 1090.4 974.8 1085.6 974.8 1082.5Z" fill="#006600" stroke="#006600" stroke-width="9" stroke-linejoin="round"/>
<path d="M974.8 1082.5C974.8 1079.4 977.9 1076.7 981 1073.8C984.1 1070.8 981 1066.5 993.5 1065C1006 1063.5 1045 1062.9 1056 1065C1067 1067.1 1059.8 1073.8 1059.8 1077.5C1059.8 1081.2 1059.1 1085.4 1056 1087.5C1052.9 1089.6 1046 1090.2 1041 1090C1036 1089.8 1031 1086 1026 1086.2C1021 1086.5 1016.4 1089.8 1011 1091.2C1005.6 1092.7 998.5 1094.8 993.5 1095C988.5 1095.2 984.1 1094.6 981 1092.5C977.9 1090.4 974.8 1085.6 974.8 1082.5Z" fill="#FFFF00"/>
<path d="M982.2 1082.5C981.8 1080.4 985.4 1076.9 988.5 1075C991.6 1073.1 994.8 1072 1001 1071.2C1007.2 1070.5 1017.7 1070.6 1026 1070.5C1034.3 1070.4 1046.2 1069.3 1051 1070.5C1055.8 1071.7 1055.2 1075.1 1054.8 1077.5C1054.3 1079.9 1051.6 1083.8 1048.5 1085C1045.4 1086.2 1040.6 1085.6 1036 1085C1031.4 1084.4 1026 1081 1021 1081.2C1016 1081.5 1011 1085.2 1006 1086.2C1001 1087.3 995 1088.1 991 1087.5C987 1086.9 982.7 1084.6 982.2 1082.5Z" fill="#FF9900"/>
<ellipse cx="1009.8" cy="1076.2" rx="8" ry="5.5" fill="#FF0000" transform="rotate(0 1009.8 1076.2)"/>
<ellipse cx="1042.2" cy="1076.2" rx="11.2" ry="8.8" fill="#FF0000" transform="rotate(0 1042.2 1076.2)"/>
<ellipse cx="1042.2" cy="1076.2" rx="7" ry="5.4" fill="#CC0000" transform="rotate(0 1042.2 1076.2)"/>
<ellipse cx="1042.2" cy="1076.2" rx="3.7" ry="2.9" fill="#990000" transform="rotate(0 1042.2 1076.2)"/>
<path d="M951 1137.5C951.6 1133.8 953.9 1129.4 956 1125C958.1 1120.6 960.8 1114 963.5 1111.2C966.2 1108.5 970.4 1107.7 972.2 1108.8C974.1 1109.8 975 1113.5 974.8 1117.5C974.5 1121.5 972.5 1127.5 971 1132.5C969.5 1137.5 967.9 1143.3 966 1147.5C964.1 1151.7 962 1157.5 959.8 1157.5C957.5 1157.5 953.7 1150.8 952.2 1147.5C950.8 1144.2 950.4 1141.2 951 1137.5Z" fill="#FFFF00"/>
<ellipse cx="1069.8" cy="1118.8" rx="18.2" ry="23.2" fill="#006600" transform="rotate(0 1069.8 1118.8)"/>
<ellipse cx="1069.8" cy="1118.8" rx="13.8" ry="18.8" fill="#FFFF00" transform="rotate(0 1069.8 1118.8)"/>
<ellipse cx="1069.8" cy="1118.8" rx="9.4" ry="12.8" fill="#FF9900" transform="rotate(0 1069.8 1118.8)"/>
<ellipse cx="1069.8" cy="1118.8" rx="5.2" ry="7.1" fill="#FF0000" transform="rotate(0 1069.8 1118.8)"/>
<ellipse cx="1018" cy="1156.2" rx="22" ry="17.5" fill="#006600" transform="rotate(0 1018 1156.2)"/>
<ellipse cx="1018" cy="1156.2" rx="17.5" ry="13" fill="#FFFF00" transform="rotate(0 1018 1156.2)"/>
<ellipse cx="1018" cy="1156.2" rx="10" ry="7.4" fill="#FF9900" transform="rotate(0 1018 1156.2)"/>
<ellipse cx="1018" cy="1156.2" rx="4.5" ry="3.4" fill="#FF0000" transform="rotate(0 1018 1156.2)"/>
<ellipse cx="1211" cy="1156.2" rx="26.2" ry="25" fill="#006600" transform="rotate(0 1211 1156.2)"/>
<ellipse cx="1211" cy="1156.2" rx="21.2" ry="20" fill="#FFFF00" transform="rotate(0 1211 1156.2)"/>
<ellipse cx="1211" cy="1156.2" rx="17.4" ry="16.4" fill="#FF9900" transform="rotate(0 1211 1156.2)"/>
<ellipse cx="1211" cy="1156.2" rx="14" ry="13.2" fill="#FF0000" transform="rotate(0 1211 1156.2)"/>
<ellipse cx="1211" cy="1156.2" rx="10.2" ry="9.6" fill="#CC0000" transform="rotate(0 1211 1156.2)"/>
<ellipse cx="1211" cy="1156.2" rx="6.8" ry="6.4" fill="#990000" transform="rotate(0 1211 1156.2)"/>
<ellipse cx="1211" cy="1156.2" rx="4.2" ry="4" fill="#FF00FF" transform="rotate(0 1211 1156.2)"/>
<ellipse cx="1163.5" cy="1190" rx="15" ry="7.5" fill="#FFFF00" transform="rotate(-40 1163.5 1190)"/>
<ellipse cx="1003.5" cy="1224.5" rx="21.5" ry="20" fill="#006600" transform="rotate(0 1003.5 1224.5)"/>
<ellipse cx="1003.5" cy="1224.5" rx="17" ry="15.5" fill="#FFFF00" transform="rotate(0 1003.5 1224.5)"/>
<ellipse cx="1003.5" cy="1224.5" rx="13.9" ry="12.7" fill="#FF9900" transform="rotate(0 1003.5 1224.5)"/>
<ellipse cx="1003.5" cy="1224.5" rx="11.2" ry="10.2" fill="#FF0000" transform="rotate(0 1003.5 1224.5)"/>
<ellipse cx="1003.5" cy="1224.5" rx="6.8" ry="6.2" fill="#CC0000" transform="rotate(0 1003.5 1224.5)"/>
<ellipse cx="1003.5" cy="1224.5" rx="2.5" ry="2.3" fill="#990000" transform="rotate(0 1003.5 1224.5)"/>
<ellipse cx="1024" cy="1267" rx="18.2" ry="19.5" fill="#006600" transform="rotate(0 1024 1267)"/>
<ellipse cx="1024" cy="1267" rx="13.8" ry="15" fill="#FFFF00" transform="rotate(0 1024 1267)"/>
<ellipse cx="1024" cy="1267" rx="9.6" ry="10.5" fill="#FF9900" transform="rotate(0 1024 1267)"/>
<ellipse cx="1024" cy="1267" rx="4.1" ry="4.5" fill="#FF0000" transform="rotate(0 1024 1267)"/>
<ellipse cx="1104.8" cy="1250" rx="18.8" ry="17" fill="#006600" transform="rotate(0 1104.8 1250)"/>
<ellipse cx="1104.8" cy="1250" rx="11.2" ry="9.5" fill="#FFFF00" transform="rotate(0 1104.8 1250)"/>
<ellipse cx="1265.5" cy="1172.5" rx="12" ry="7" fill="#FFFF00" transform="rotate(0 1265.5 1172.5)"/>
<ellipse cx="1265.5" cy="1173" rx="2" ry="1.5" fill="#FF9900" transform="rotate(0 1265.5 1173)"/>
<ellipse cx="1281.2" cy="1253.8" rx="13.8" ry="15" fill="#006600" transform="rotate(0 1281.2 1253.8)"/>
<ellipse cx="1281.2" cy="1253.8" rx="10" ry="11.2" fill="#FFFF00" transform="rotate(0 1281.2 1253.8)"/>
<ellipse cx="1281.2" cy="1253.8" rx="6.5" ry="7.3" fill="#FF9900" transform="rotate(0 1281.2 1253.8)"/>
<ellipse cx="1351.2" cy="1220" rx="2" ry="2" fill="#FFFF00" transform="rotate(0 1351.2 1220)"/>
<path d="M1151 1251.2C1151 1249.4 1155.2 1246.9 1158.5 1245C1161.8 1243.1 1167.2 1242.1 1171 1240C1174.8 1237.9 1177.2 1233.8 1181 1232.5C1184.8 1231.2 1190.6 1231.2 1193.5 1232.5C1196.4 1233.8 1198.5 1236.7 1198.5 1240C1198.5 1243.3 1195.2 1248.8 1193.5 1252.5C1191.8 1256.2 1188.5 1259.2 1188.5 1262.5C1188.5 1265.8 1191 1269.6 1193.5 1272.5C1196 1275.4 1200.8 1276.2 1203.5 1280C1206.2 1283.8 1208.5 1290 1209.8 1295C1211 1300 1211.6 1305.8 1211 1310C1210.4 1314.2 1208.5 1317.9 1206 1320C1203.5 1322.1 1198.9 1323.3 1196 1322.5C1193.1 1321.7 1190.6 1318.3 1188.5 1315C1186.4 1311.7 1185.2 1307.1 1183.5 1302.5C1181.8 1297.9 1179.5 1292.5 1178.5 1287.5C1177.5 1282.5 1177.7 1276.7 1177.2 1272.5C1176.8 1268.3 1177.5 1265 1176 1262.5C1174.5 1260 1171.4 1258.5 1168.5 1257.5C1165.6 1256.5 1161.4 1257.3 1158.5 1256.2C1155.6 1255.2 1151 1253.1 1151 1251.2Z" fill="#006600" stroke="#006600" stroke-width="11" stroke-linejoin="round"/>
<path d="M1151 1251.2C1151 1249.4 1155.2 1246.9 1158.5 1245C1161.8 1243.1 1167.2 1242.1 1171 1240C1174.8 1237.9 1177.2 1233.8 1181 1232.5C1184.8 1231.2 1190.6 1231.2 1193.5 1232.5C1196.4 1233.8 1198.5 1236.7 1198.5 1240C1198.5 1243.3 1195.2 1248.8 1193.5 1252.5C1191.8 1256.2 1188.5 1259.2 1188.5 1262.5C1188.5 1265.8 1191 1269.6 1193.5 1272.5C1196 1275.4 1200.8 1276.2 1203.5 1280C1206.2 1283.8 1208.5 1290 1209.8 1295C1211 1300 1211.6 1305.8 1211 1310C1210.4 1314.2 1208.5 1317.9 1206 1320C1203.5 1322.1 1198.9 1323.3 1196 1322.5C1193.1 1321.7 1190.6 1318.3 1188.5 1315C1186.4 1311.7 1185.2 1307.1 1183.5 1302.5C1181.8 1297.9 1179.5 1292.5 1178.5 1287.5C1177.5 1282.5 1177.7 1276.7 1177.2 1272.5C1176.8 1268.3 1177.5 1265 1176 1262.5C1174.5 1260 1171.4 1258.5 1168.5 1257.5C1165.6 1256.5 1161.4 1257.3 1158.5 1256.2C1155.6 1255.2 1151 1253.1 1151 1251.2Z" fill="#FFFF00"/>
<ellipse cx="1183.5" cy="1246.2" rx="7.5" ry="7" fill="#FF9900" transform="rotate(0 1183.5 1246.2)"/>
<path d="M1179.8 1280C1180.3 1276.2 1184.1 1271.2 1187.2 1271.2C1190.4 1271.2 1195.6 1275.6 1198.5 1280C1201.4 1284.4 1203.4 1292.1 1204.8 1297.5C1206.1 1302.9 1207.3 1309.4 1206.5 1312.5C1205.7 1315.6 1202.3 1317.1 1199.8 1316.2C1197.2 1315.4 1193.6 1311.2 1191 1307.5C1188.4 1303.8 1185.9 1298.3 1184 1293.8C1182.1 1289.2 1179.2 1283.8 1179.8 1280Z" fill="#FF9900"/>
<path d="M1182.2 1280C1182.7 1276.9 1186 1273.3 1188.5 1273.8C1191 1274.2 1195 1278.5 1197.2 1282.5C1199.5 1286.5 1201.2 1292.9 1202.2 1297.5C1203.3 1302.1 1204.1 1307.5 1203.5 1310C1202.9 1312.5 1200.4 1313.3 1198.5 1312.5C1196.6 1311.7 1194.3 1308.3 1192.2 1305C1190.2 1301.7 1187.7 1296.7 1186 1292.5C1184.3 1288.3 1181.8 1283.1 1182.2 1280Z" fill="#FF0000"/>
<path d="M1102.2 1315C1101.4 1311.5 1103.3 1307.5 1106 1305C1108.7 1302.5 1113.9 1301 1118.5 1300C1123.1 1299 1129.3 1297.9 1133.5 1298.8C1137.7 1299.6 1140.6 1301.9 1143.5 1305C1146.4 1308.1 1148.5 1313.3 1151 1317.5C1153.5 1321.7 1156 1325.8 1158.5 1330C1161 1334.2 1165 1338.8 1166 1342.5C1167 1346.2 1166.8 1350.4 1164.8 1352.5C1162.7 1354.6 1156.8 1355.4 1153.5 1355C1150.2 1354.6 1147 1352.9 1144.8 1350C1142.5 1347.1 1141.2 1341.2 1139.8 1337.5C1138.3 1333.8 1138.7 1329.2 1136 1327.5C1133.3 1325.8 1127.7 1327.7 1123.5 1327.5C1119.3 1327.3 1114.5 1328.3 1111 1326.2C1107.5 1324.2 1103.1 1318.5 1102.2 1315Z" fill="#006600" stroke="#006600" stroke-width="11" stroke-linejoin="round"/>
<path d="M1102.2 1315C1101.4 1311.5 1103.3 1307.5 1106 1305C1108.7 1302.5 1113.9 1301 1118.5 1300C1123.1 1299 1129.3 1297.9 1133.5 1298.8C1137.7 1299.6 1140.6 1301.9 1143.5 1305C1146.4 1308.1 1148.5 1313.3 1151 1317.5C1153.5 1321.7 1156 1325.8 1158.5 1330C1161 1334.2 1165 1338.8 1166 1342.5C1167 1346.2 1166.8 1350.4 1164.8 1352.5C1162.7 1354.6 1156.8 1355.4 1153.5 1355C1150.2 1354.6 1147 1352.9 1144.8 1350C1142.5 1347.1 1141.2 1341.2 1139.8 1337.5C1138.3 1333.8 1138.7 1329.2 1136 1327.5C1133.3 1325.8 1127.7 1327.7 1123.5 1327.5C1119.3 1327.3 1114.5 1328.3 1111 1326.2C1107.5 1324.2 1103.1 1318.5 1102.2 1315Z" fill="#FFFF00"/>
<ellipse cx="1124.8" cy="1312" rx="12.5" ry="8.8" fill="#FF9900" transform="rotate(0 1124.8 1312)"/>
<ellipse cx="1152.2" cy="1345" rx="7" ry="7" fill="#FF9900" transform="rotate(0 1152.2 1345)"/>
<ellipse cx="1124.8" cy="1312" rx="2.5" ry="2" fill="#FF0000" transform="rotate(0 1124.8 1312)"/>
<path d="M994.8 1340C995.2 1336.9 998.1 1332.3 1001 1330C1003.9 1327.7 1008.1 1325.8 1012.2 1326.2C1016.4 1326.7 1021.2 1329.8 1026 1332.5C1030.8 1335.2 1036.4 1339.6 1041 1342.5C1045.6 1345.4 1051.4 1347.1 1053.5 1350C1055.6 1352.9 1055.6 1357.7 1053.5 1360C1051.4 1362.3 1045.6 1363.3 1041 1363.8C1036.4 1364.2 1031 1364 1026 1362.5C1021 1361 1015.6 1357.3 1011 1355C1006.4 1352.7 1001.2 1351.2 998.5 1348.8C995.8 1346.2 994.3 1343.1 994.8 1340Z" fill="#006600" stroke="#006600" stroke-width="9" stroke-linejoin="round"/>
<path d="M994.8 1340C995.2 1336.9 998.1 1332.3 1001 1330C1003.9 1327.7 1008.1 1325.8 1012.2 1326.2C1016.4 1326.7 1021.2 1329.8 1026 1332.5C1030.8 1335.2 1036.4 1339.6 1041 1342.5C1045.6 1345.4 1051.4 1347.1 1053.5 1350C1055.6 1352.9 1055.6 1357.7 1053.5 1360C1051.4 1362.3 1045.6 1363.3 1041 1363.8C1036.4 1364.2 1031 1364 1026 1362.5C1021 1361 1015.6 1357.3 1011 1355C1006.4 1352.7 1001.2 1351.2 998.5 1348.8C995.8 1346.2 994.3 1343.1 994.8 1340Z" fill="#FFFF00"/>
<ellipse cx="1023.5" cy="1345" rx="11.2" ry="6.2" fill="#FF9900" transform="rotate(30 1023.5 1345)"/>
<path d="M1064.8 1360C1065.2 1357.7 1069.5 1355.4 1073.5 1353.8C1077.5 1352.1 1083.5 1351 1088.5 1350C1093.5 1349 1099.5 1346.7 1103.5 1347.5C1107.5 1348.3 1111.2 1352.3 1112.2 1355C1113.3 1357.7 1112 1361.5 1109.8 1363.8C1107.5 1366 1102.9 1368.3 1098.5 1368.8C1094.1 1369.2 1088.1 1366.5 1083.5 1366.2C1078.9 1366 1074.1 1368.5 1071 1367.5C1067.9 1366.5 1064.3 1362.3 1064.8 1360Z" fill="#006600" stroke="#006600" stroke-width="7.5" stroke-linejoin="round"/>
<path d="M1064.8 1360C1065.2 1357.7 1069.5 1355.4 1073.5 1353.8C1077.5 1352.1 1083.5 1351 1088.5 1350C1093.5 1349 1099.5 1346.7 1103.5 1347.5C1107.5 1348.3 1111.2 1352.3 1112.2 1355C1113.3 1357.7 1112 1361.5 1109.8 1363.8C1107.5 1366 1102.9 1368.3 1098.5 1368.8C1094.1 1369.2 1088.1 1366.5 1083.5 1366.2C1078.9 1366 1074.1 1368.5 1071 1367.5C1067.9 1366.5 1064.3 1362.3 1064.8 1360Z" fill="#FFFF00"/>
<ellipse cx="1097.2" cy="1360" rx="5.5" ry="5.5" fill="#FF9900" transform="rotate(0 1097.2 1360)"/>
<ellipse cx="948.5" cy="1387.5" rx="21.2" ry="18" fill="#006600" transform="rotate(-20 948.5 1387.5)"/>
<ellipse cx="948.5" cy="1387.5" rx="16.2" ry="13" fill="#FFFF00" transform="rotate(-20 948.5 1387.5)"/>
<ellipse cx="948.5" cy="1387.5" rx="9.8" ry="7.8" fill="#FF9900" transform="rotate(-20 948.5 1387.5)"/>
<ellipse cx="948.5" cy="1387.5" rx="1.6" ry="1.3" fill="#FF0000" transform="rotate(-20 948.5 1387.5)"/>
<ellipse cx="885.5" cy="1380" rx="24.5" ry="24.5" fill="#006600" transform="rotate(0 885.5 1380)"/>
<ellipse cx="885.5" cy="1380" rx="20" ry="20" fill="#FFFF00" transform="rotate(0 885.5 1380)"/>
<ellipse cx="885.5" cy="1380" rx="17" ry="17" fill="#FF9900" transform="rotate(0 885.5 1380)"/>
<ellipse cx="885.5" cy="1380" rx="14" ry="14" fill="#FF0000" transform="rotate(0 885.5 1380)"/>
<ellipse cx="885.5" cy="1380" rx="10.4" ry="10.4" fill="#CC0000" transform="rotate(0 885.5 1380)"/>
<ellipse cx="885.5" cy="1380" rx="7.2" ry="7.2" fill="#990000" transform="rotate(0 885.5 1380)"/>
<ellipse cx="885.5" cy="1380" rx="3" ry="3" fill="#FF00FF" transform="rotate(0 885.5 1380)"/>
<path d="M976 1440C968.9 1436.2 978.1 1422.7 981 1417.5C983.9 1412.3 988.9 1410 993.5 1408.8C998.1 1407.5 1004.3 1408.1 1008.5 1410C1012.7 1411.9 1016 1415 1018.5 1420C1021 1425 1030.6 1436.7 1023.5 1440C1016.4 1443.3 983.1 1443.8 976 1440Z" fill="#006600" stroke="#006600" stroke-width="9" stroke-linejoin="round"/>
<path d="M976 1440C968.9 1436.2 978.1 1422.7 981 1417.5C983.9 1412.3 988.9 1410 993.5 1408.8C998.1 1407.5 1004.3 1408.1 1008.5 1410C1012.7 1411.9 1016 1415 1018.5 1420C1021 1425 1030.6 1436.7 1023.5 1440C1016.4 1443.3 983.1 1443.8 976 1440Z" fill="#FFFF00"/>
<path d="M979.8 1440C974 1436.9 982 1425.6 984.8 1421.2C987.5 1416.9 992 1414.6 996 1413.8C1000 1412.9 1005.2 1414.4 1008.5 1416.2C1011.8 1418.1 1014.2 1421 1016 1425C1017.8 1429 1025 1437.5 1019 1440C1013 1442.5 985.5 1443.1 979.8 1440Z" fill="#FF9900"/>
<path d="M983.5 1440C979.3 1437.1 986 1426.2 988.5 1422.5C991 1418.8 995.2 1417.5 998.5 1417.5C1001.8 1417.5 1006 1418.8 1008.5 1422.5C1011 1426.2 1017.7 1437.1 1013.5 1440C1009.3 1442.9 987.7 1442.9 983.5 1440Z" fill="#FF0000"/>
<path d="M1156 1397.5C1155.6 1394.6 1157.7 1391.9 1161 1390C1164.3 1388.1 1171 1386.5 1176 1386.2C1181 1386 1186.8 1386.9 1191 1388.8C1195.2 1390.6 1199.3 1394.4 1201 1397.5C1202.7 1400.6 1202.7 1404.6 1201 1407.5C1199.3 1410.4 1195.2 1414 1191 1415C1186.8 1416 1180.6 1415 1176 1413.8C1171.4 1412.5 1166.8 1410.2 1163.5 1407.5C1160.2 1404.8 1156.4 1400.4 1156 1397.5Z" fill="#006600" stroke="#006600" stroke-width="12.5" stroke-linejoin="round"/>
<path d="M1156 1397.5C1155.6 1394.6 1157.7 1391.9 1161 1390C1164.3 1388.1 1171 1386.5 1176 1386.2C1181 1386 1186.8 1386.9 1191 1388.8C1195.2 1390.6 1199.3 1394.4 1201 1397.5C1202.7 1400.6 1202.7 1404.6 1201 1407.5C1199.3 1410.4 1195.2 1414 1191 1415C1186.8 1416 1180.6 1415 1176 1413.8C1171.4 1412.5 1166.8 1410.2 1163.5 1407.5C1160.2 1404.8 1156.4 1400.4 1156 1397.5Z" fill="#FFFF00"/>
<ellipse cx="1179.8" cy="1398.8" rx="15" ry="7.5" fill="#FF9900" transform="rotate(15 1179.8 1398.8)"/>
<ellipse cx="1241.2" cy="1316.2" rx="23.2" ry="22" fill="#006600" transform="rotate(0 1241.2 1316.2)"/>
<ellipse cx="1241.2" cy="1316.2" rx="18.8" ry="17.5" fill="#FFFF00" transform="rotate(0 1241.2 1316.2)"/>
<ellipse cx="1241.2" cy="1316.2" rx="16.5" ry="15.4" fill="#FF9900" transform="rotate(0 1241.2 1316.2)"/>
<ellipse cx="1241.2" cy="1316.2" rx="14.6" ry="13.7" fill="#FF0000" transform="rotate(0 1241.2 1316.2)"/>
<ellipse cx="1241.2" cy="1316.2" rx="12.8" ry="11.9" fill="#CC0000" transform="rotate(0 1241.2 1316.2)"/>
<ellipse cx="1241.2" cy="1316.2" rx="10.9" ry="10.1" fill="#990000" transform="rotate(0 1241.2 1316.2)"/>
<ellipse cx="1241.2" cy="1316.2" rx="8.2" ry="7.7" fill="#FF00FF" transform="rotate(0 1241.2 1316.2)"/>
<ellipse cx="1241.2" cy="1316.2" rx="6.2" ry="5.8" fill="#9966CC" transform="rotate(0 1241.2 1316.2)"/>
<ellipse cx="1241.2" cy="1316.2" rx="3.8" ry="3.5" fill="#FFFFFF" transform="rotate(0 1241.2 1316.2)"/>
<ellipse cx="1340" cy="1310" rx="17" ry="17.5" fill="#006600" transform="rotate(-30 1340 1310)"/>
<ellipse cx="1340" cy="1310" rx="12" ry="12.5" fill="#FFFF00" transform="rotate(-30 1340 1310)"/>
<ellipse cx="1340" cy="1310" rx="3.6" ry="3.8" fill="#FF9900" transform="rotate(-30 1340 1310)"/>
</g>
<use href="#ol" class="ol" transform="translate(877.6 1070) scale(1.0428 0.9992)"/>
<path d="M867 1070H879M867 1092.7H879M867 1115.3H879M867 1138H879M867 1160.6H879M867 1183.3H879M867 1205.9H879M867 1228.6H879M867 1251.2H879M867 1273.9H879M867 1296.6H879M867 1319.2H879M867 1341.9H879M867 1364.5H879M867 1387.2H879M867 1409.8H879M867 1432.5H879M886 1445V1457M919.1 1445V1457M952.1 1445V1457M985.2 1445V1457M1018.2 1445V1457M1051.3 1445V1457M1084.4 1445V1457M1117.4 1445V1457M1150.5 1445V1457M1183.6 1445V1457M1216.6 1445V1457M1249.7 1445V1457M1282.8 1445V1457M1315.8 1445V1457M1348.9 1445V1457M1381.9 1445V1457M1415 1445V1457" stroke="#7f7f7f" stroke-width="2" fill="none"/>
<path d="M879 1069V1445H1416" stroke="#9a9a9a" stroke-width="2" fill="none"/>
<text x="861.5" y="1077.2" class="e">52.06</text>
<text x="861.5" y="1122.5" class="e">52.05</text>
<text x="861.5" y="1167.8" class="e">52.03</text>
<text x="861.5" y="1213.1" class="e">52.01</text>
<text x="861.5" y="1258.5" class="e">52.00</text>
<text x="861.5" y="1303.8" class="e">51.98</text>
<text x="861.5" y="1349.1" class="e">51.97</text>
<text x="861.5" y="1394.4" class="e">51.95</text>
<text x="861.5" y="1439.7" class="e">51.93</text>
<text x="886" y="1481.2" class="m">22.45</text>
<text x="952.1" y="1481.2" class="m">22.47</text>
<text x="1018.2" y="1481.2" class="m">22.50</text>
<text x="1084.4" y="1481.2" class="m">22.52</text>
<text x="1150.5" y="1481.2" class="m">22.54</text>
<text x="1216.6" y="1481.2" class="m">22.57</text>
<text x="1282.8" y="1481.2" class="m">22.59</text>
<text x="1348.9" y="1481.2" class="m">22.61</text>
<text x="1415" y="1481.2" class="m">22.63</text>
<text x="1146.5" y="1511.2" class="m">Longitude (°)</text>
<text x="797.2" y="1259" class="m" transform="rotate(-90 797.2 1259)">Latitude (°)</text>
<rect x="1424" y="1129" width="21" height="22" fill="#9966CC"/>
<rect x="1424" y="1150.7" width="21" height="22" fill="#FF00FF"/>
<rect x="1424" y="1172.4" width="21" height="22" fill="#990000"/>
<rect x="1424" y="1194.1" width="21" height="22" fill="#CC0000"/>
<rect x="1424" y="1215.8" width="21" height="22" fill="#FF0000"/>
<rect x="1424" y="1237.5" width="21" height="22" fill="#FF9900"/>
<rect x="1424" y="1259.2" width="21" height="22" fill="#FFFF00"/>
<rect x="1424" y="1280.9" width="21" height="22" fill="#006600"/>
<rect x="1424" y="1302.6" width="21" height="22" fill="#009900"/>
<rect x="1424" y="1324.3" width="21" height="22" fill="#00CC00"/>
<rect x="1424" y="1346" width="21" height="22" fill="#00FF00"/>
<rect x="1424" y="1367.7" width="21" height="22" fill="#0000FF"/>
<rect x="1424" y="1389.4" width="21" height="22" fill="#0099FF"/>
<rect x="1424" y="1411.1" width="21" height="22" fill="#00CCFF"/>
<text x="1476.5" y="1113.1" style="font-size:19.5px">18.0</text>
<text x="1476.5" y="1134.8" style="font-size:19.5px">17.2</text>
<text x="1476.5" y="1156.5" style="font-size:19.5px">16.4</text>
<text x="1476.5" y="1178.2" style="font-size:19.5px">15.6</text>
<text x="1476.5" y="1199.9" style="font-size:19.5px">14.8</text>
<text x="1476.5" y="1221.6" style="font-size:19.5px">14.0</text>
<text x="1476.5" y="1243.3" style="font-size:19.5px">13.2</text>
<text x="1476.5" y="1265" style="font-size:19.5px">12.4</text>
<text x="1476.5" y="1286.7" style="font-size:19.5px">11.6</text>
<text x="1476.5" y="1308.4" style="font-size:19.5px">10.8</text>
<text x="1476.5" y="1330.1" style="font-size:19.5px">10.0</text>
<text x="1476.5" y="1351.8" style="font-size:19.5px">9.2</text>
<text x="1476.5" y="1373.5" style="font-size:19.5px">8.4</text>
<text x="1476.5" y="1395.2" style="font-size:19.5px">7.6</text>
<text x="1476.5" y="1416.9" style="font-size:19.5px">6.8</text>
<text x="1476.5" y="1438.6" style="font-size:19.5px">6.0</text>
<text x="1475.5" y="1074" class="m" style="font-size:18.5px">CEC</text>
<text x="1476.5" y="1091" class="m" style="font-size:18.5px">(cmol/kg)</text>
</g>
<g id="p07">
<clipPath id="c7"><rect x="112.5" y="1597.5" width="516.5" height="353.5"/></clipPath>
<g clip-path="url(#c7)">
<rect x="112.5" y="1597.5" width="516.5" height="353.5" fill="#006600"/>
<path d="M107.5 1737.5C110.5 1730.8 124.3 1730.5 130 1727.5C135.7 1724.5 144.7 1718.3 150 1715C155.3 1711.7 164.7 1705.2 170 1702.5C175.3 1699.8 184.7 1696.3 190 1695C195.3 1693.7 205.3 1692.2 210 1692.5C214.7 1692.8 221.7 1695.2 225 1697.5C228.3 1699.8 231 1707 235 1710C239 1713 250.3 1717 255 1720C259.7 1723 267.7 1728.5 270 1732.5C272.3 1736.5 273.2 1745.3 272.5 1750C271.8 1754.7 267.3 1763.2 265 1767.5C262.7 1771.8 258 1779.2 255 1782.5C252 1785.8 246.2 1791.5 242.5 1792.5C238.8 1793.5 230.8 1791.7 227.5 1790C224.2 1788.3 219.8 1782.7 217.5 1780C215.2 1777.3 213 1772.7 210 1770C207 1767.3 199.7 1762 195 1760C190.3 1758 179.3 1754.3 175 1755C170.7 1755.7 165.8 1762 162.5 1765C159.2 1768 154 1775.5 150 1777.5C146 1779.5 138.2 1780 132.5 1780C126.8 1780 110.8 1783.2 107.5 1777.5C104.2 1771.8 104.5 1744.2 107.5 1737.5Z" fill="#009900"/>
<path d="M552 1592.5C562 1589.2 621.3 1574.8 632 1592.5C642.7 1610.2 634.7 1706.7 632 1725C629.3 1743.3 617 1728 612 1730C607 1732 598.5 1737.3 594.5 1740C590.5 1742.7 584.7 1746.7 582 1750C579.3 1753.3 575.2 1760.3 574.5 1765C573.8 1769.7 575.3 1780.3 577 1785C578.7 1789.7 584 1796.7 587 1800C590 1803.3 596.2 1808.7 599.5 1810C602.8 1811.3 607.7 1811.3 612 1810C616.3 1808.7 629.3 1788 632 1800C634.7 1812 636.3 1885.3 632 1900C627.7 1914.7 607.2 1908.7 599.5 1910C591.8 1911.3 581.2 1911.3 574.5 1910C567.8 1908.7 556.2 1901 549.5 1900C542.8 1899 530.8 1901.8 524.5 1902.5C518.2 1903.2 507 1906 502 1905C497 1904 492.3 1898.3 487 1895C481.7 1891.7 468.7 1883.7 462 1880C455.3 1876.3 442.3 1871.8 437 1867.5C431.7 1863.2 425.3 1851.8 422 1847.5C418.7 1843.2 412 1838 412 1835C412 1832 419.3 1827.7 422 1825C424.7 1822.3 432 1817.7 432 1815C432 1812.3 426 1807 422 1805C418 1803 406.7 1801.3 402 1800C397.3 1798.7 390.3 1794.3 387 1795C383.7 1795.7 378.3 1801 377 1805C375.7 1809 376.7 1820.3 377 1825C377.3 1829.7 380.8 1836.7 379.5 1840C378.2 1843.3 371 1850 367 1850C363 1850 352.8 1844.7 349.5 1840C346.2 1835.3 345.7 1819.3 342 1815C338.3 1810.7 326.3 1810.8 322 1807.5C317.7 1804.2 311.7 1795.7 309.5 1790C307.3 1784.3 305.4 1771.7 305.8 1765C306.1 1758.3 311.8 1745.3 312 1740C312.2 1734.7 309 1729 307 1725C305 1721 299.3 1714.7 297 1710C294.7 1705.3 290.7 1696 289.5 1690C288.3 1684 287.6 1670.3 288.2 1665C288.9 1659.7 291 1653 294.5 1650C298 1647 310.5 1646.2 314.5 1642.5C318.5 1638.8 321.8 1627.5 324.5 1622.5C327.2 1617.5 332.5 1609 334.5 1605C336.5 1601 331.8 1594.2 339.5 1592.5C347.2 1590.8 384.2 1589.8 392 1592.5C399.8 1595.2 397.1 1606.8 398.2 1612.5C399.4 1618.2 400.8 1628.7 400.8 1635C400.8 1641.3 398.2 1653.3 398.2 1660C398.2 1666.7 399.6 1679 400.8 1685C401.9 1691 406.8 1700.3 407 1705C407.2 1709.7 404.7 1718.3 402 1720C399.3 1721.7 391 1718.5 387 1717.5C383 1716.5 375.3 1712.5 372 1712.5C368.7 1712.5 363.8 1715.5 362 1717.5C360.2 1719.5 356.9 1725.2 358.2 1727.5C359.6 1729.8 368.2 1733.7 372 1735C375.8 1736.3 383 1736.2 387 1737.5C391 1738.8 398.3 1743.3 402 1745C405.7 1746.7 410.5 1750 414.5 1750C418.5 1750 427.3 1747.3 432 1745C436.7 1742.7 444.5 1736.5 449.5 1732.5C454.5 1728.5 463.8 1719.3 469.5 1715C475.2 1710.7 485.7 1703.3 492 1700C498.3 1696.7 511 1692.7 517 1690C523 1687.3 532 1682.7 537 1680C542 1677.3 550.2 1672.7 554.5 1670C558.8 1667.3 568.5 1664 569.5 1660C570.5 1656 563.7 1645.7 562 1640C560.3 1634.3 558.3 1623.8 557 1617.5C555.7 1611.2 542 1595.8 552 1592.5Z" fill="#009900"/>
<path d="M457 1775C458.7 1771.7 462 1769.4 467 1767.5C472 1765.6 480.3 1764.6 487 1763.8C493.7 1762.9 500.3 1761.9 507 1762.5C513.7 1763.1 521.6 1765 527 1767.5C532.4 1770 538.7 1773.3 539.5 1777.5C540.3 1781.7 536.6 1789.2 532 1792.5C527.4 1795.8 518.7 1795.8 512 1797.5C505.3 1799.2 498.2 1801.2 492 1802.5C485.8 1803.8 479.5 1805.8 474.5 1805C469.5 1804.2 464.9 1800.4 462 1797.5C459.1 1794.6 457.8 1791.2 457 1787.5C456.2 1783.8 455.3 1778.3 457 1775Z" fill="#006600"/>
<path d="M575.8 1765C576.4 1760.8 577.6 1757.3 580.8 1755C583.9 1752.7 589.3 1750.8 594.5 1751.2C599.7 1751.7 605.8 1754.8 612 1757.5C618.2 1760.2 628.7 1760.4 632 1767.5C635.3 1774.6 635.3 1793.3 632 1800C628.7 1806.7 617.8 1806.7 612 1807.5C606.2 1808.3 601.6 1807.5 597 1805C592.4 1802.5 587.8 1796.7 584.5 1792.5C581.2 1788.3 578.5 1784.6 577 1780C575.5 1775.4 575.1 1769.2 575.8 1765Z" fill="#006600"/>
<path d="M265 1651.2C265 1650.2 271.7 1650.8 275 1650C278.3 1649.2 282.3 1646.7 285 1646.2C287.7 1645.8 291 1645.6 291.2 1647.5C291.5 1649.4 289 1656 286.2 1657.5C283.5 1659 278.5 1657.3 275 1656.2C271.5 1655.2 265 1652.3 265 1651.2Z" fill="#009900"/>
<path d="M107.5 1880C110.8 1869 126.8 1878.8 132.5 1877.5C138.2 1876.2 145.7 1872.7 150 1870C154.3 1867.3 161 1860.5 165 1857.5C169 1854.5 175.3 1847.5 180 1847.5C184.7 1847.5 195 1854.8 200 1857.5C205 1860.2 212.2 1865.8 217.5 1867.5C222.8 1869.2 235 1869 240 1870C245 1871 252.3 1872.3 255 1875C257.7 1877.7 260.7 1886 260 1890C259.3 1894 253.3 1901.3 250 1905C246.7 1908.7 238.3 1914.2 235 1917.5C231.7 1920.8 227.3 1924.3 225 1930C222.7 1935.7 233.2 1956 217.5 1960C201.8 1964 122.2 1970.7 107.5 1960C92.8 1949.3 104.2 1891 107.5 1880Z" fill="#009900"/>
<path d="M176.2 1722.5C176.9 1719.8 178.5 1715.4 182.5 1712.5C186.5 1709.6 195 1706.5 200 1705C205 1703.5 209.4 1702.5 212.5 1703.8C215.6 1705 217.9 1709.4 218.8 1712.5C219.6 1715.6 219.8 1719.8 217.5 1722.5C215.2 1725.2 210 1727.3 205 1728.8C200 1730.2 191.9 1731.2 187.5 1731.2C183.1 1731.2 180.6 1730.2 178.8 1728.8C176.9 1727.3 175.6 1725.2 176.2 1722.5Z" fill="#00CC00"/>
<ellipse cx="149.2" cy="1758.8" rx="6.2" ry="7.5" fill="#00CC00" transform="rotate(0 149.2 1758.8)"/>
<ellipse cx="241.2" cy="1758" rx="4.5" ry="4.5" fill="#00CC00" transform="rotate(0 241.2 1758)"/>
<path d="M315 1672.5C315.8 1669 318.8 1664.2 322.5 1660C326.2 1655.8 333.8 1652.1 337.5 1647.5C341.2 1642.9 341.7 1636.2 345 1632.5C348.3 1628.8 352.5 1626 357.5 1625C362.5 1624 370.8 1624.2 375 1626.2C379.2 1628.3 381.2 1632.7 382.5 1637.5C383.8 1642.3 384.2 1649.6 382.5 1655C380.8 1660.4 377.1 1666.2 372.5 1670C367.9 1673.8 360.4 1675.2 355 1677.5C349.6 1679.8 345 1682.1 340 1683.8C335 1685.4 328.8 1687.9 325 1687.5C321.2 1687.1 319.2 1683.8 317.5 1681.2C315.8 1678.8 314.2 1676 315 1672.5Z" fill="#00CC00"/>
<ellipse cx="360" cy="1643.8" rx="7" ry="9.5" fill="#00FF00" transform="rotate(30 360 1643.8)"/>
<path d="M320 1775C321 1771.7 323.3 1767.9 327.5 1765C331.7 1762.1 338.8 1760 345 1757.5C351.2 1755 359.6 1750.8 365 1750C370.4 1749.2 374.2 1750.4 377.5 1752.5C380.8 1754.6 384.6 1758.8 385 1762.5C385.4 1766.2 384.2 1771.7 380 1775C375.8 1778.3 366.2 1780.4 360 1782.5C353.8 1784.6 347.9 1785.8 342.5 1787.5C337.1 1789.2 331 1792.9 327.5 1792.5C324 1792.1 322.5 1787.9 321.2 1785C320 1782.1 319 1778.3 320 1775Z" fill="#00CC00"/>
<path d="M413.8 1775C413.8 1771.7 416.9 1767.3 420 1765C423.1 1762.7 428.8 1760.8 432.5 1761.2C436.2 1761.7 440.8 1764.4 442.5 1767.5C444.2 1770.6 444.2 1777.1 442.5 1780C440.8 1782.9 436.2 1784.2 432.5 1785C428.8 1785.8 423.1 1786.7 420 1785C416.9 1783.3 413.8 1778.3 413.8 1775Z" fill="#00CC00"/>
<path d="M444.5 1845C442.2 1842 447.2 1830.8 449.5 1827.5C451.8 1824.2 458 1820.3 462 1820C466 1819.7 475.5 1825.7 479.5 1825C483.5 1824.3 488.3 1817.7 492 1815C495.7 1812.3 502.3 1807.7 507 1805C511.7 1802.3 522 1798.3 527 1795C532 1791.7 541.5 1784 544.5 1780C547.5 1776 550.5 1768.3 549.5 1765C548.5 1761.7 542 1756.7 537 1755C532 1753.3 518.7 1752.8 512 1752.5C505.3 1752.2 492.3 1753.5 487 1752.5C481.7 1751.5 473.3 1747.7 472 1745C470.7 1742.3 474.3 1735.2 477 1732.5C479.7 1729.8 487.3 1726.7 492 1725C496.7 1723.3 502.7 1721.3 512 1720C521.3 1718.7 552.7 1715 562 1715C571.3 1715 578.7 1717.3 582 1720C585.3 1722.7 588 1731 587 1735C586 1739 577.2 1746 574.5 1750C571.8 1754 567.3 1760.3 567 1765C566.7 1769.7 570 1780 572 1785C574 1790 580.3 1797.2 582 1802.5C583.7 1807.8 584.8 1819.3 584.5 1825C584.2 1830.7 581.8 1840.3 579.5 1845C577.2 1849.7 571 1857 567 1860C563 1863 554.8 1867.2 549.5 1867.5C544.2 1867.8 532.7 1864.2 527 1862.5C521.3 1860.8 512.3 1856.7 507 1855C501.7 1853.3 492.3 1850.7 487 1850C481.7 1849.3 472.7 1850.7 467 1850C461.3 1849.3 446.8 1848 444.5 1845Z" fill="#00CC00"/>
<path d="M517 1822.5C517 1819.4 522.4 1816 527 1813.8C531.6 1811.5 538.7 1809.8 544.5 1808.8C550.3 1807.7 558.5 1806 562 1807.5C565.5 1809 566.2 1813.8 565.8 1817.5C565.3 1821.2 563 1827.3 559.5 1830C556 1832.7 549.9 1833.3 544.5 1833.8C539.1 1834.2 531.6 1834.4 527 1832.5C522.4 1830.6 517 1825.6 517 1822.5Z" fill="#00FF00"/>
<ellipse cx="542" cy="1741.2" rx="10.5" ry="5.5" fill="#00FF00" transform="rotate(-10 542 1741.2)"/>
<path d="M597 1840C597.4 1835.4 601.2 1830.8 604.5 1827.5C607.8 1824.2 612.4 1821.2 617 1820C621.6 1818.8 629.5 1813.3 632 1820C634.5 1826.7 634.9 1852.9 632 1860C629.1 1867.1 619.5 1863.3 614.5 1862.5C609.5 1861.7 604.9 1858.8 602 1855C599.1 1851.2 596.6 1844.6 597 1840Z" fill="#00CC00"/>
<path d="M107.5 1895C111.7 1889.2 125.4 1893.8 132.5 1892.5C139.6 1891.2 144.6 1887.5 150 1887.5C155.4 1887.5 159.6 1892.1 165 1892.5C170.4 1892.9 176.7 1890 182.5 1890C188.3 1890 195.4 1890.8 200 1892.5C204.6 1894.2 207.9 1896.2 210 1900C212.1 1903.8 213.8 1910 212.5 1915C211.2 1920 205 1925 202.5 1930C200 1935 198.8 1940 197.5 1945C196.2 1950 202.9 1957.5 195 1960C187.1 1962.5 160 1963.3 150 1960C140 1956.7 140 1945 135 1940C130 1935 124.6 1932.1 120 1930C115.4 1927.9 109.6 1933.3 107.5 1927.5C105.4 1921.7 103.3 1900.8 107.5 1895Z" fill="#00CC00"/>
<ellipse cx="175.5" cy="1877.5" rx="5.5" ry="5.5" fill="#006600" transform="rotate(0 175.5 1877.5)"/>
<ellipse cx="192.5" cy="1915.5" rx="2.2" ry="1.8" fill="#00FF00" transform="rotate(0 192.5 1915.5)"/>
<path d="M107.5 1592.5C133.2 1578.1 273.7 1589.8 300 1592.5C326.3 1595.2 305 1608.2 305 1612.5C305 1616.8 302.7 1622.7 300 1625C297.3 1627.3 289.7 1629 285 1630C280.3 1631 270 1631.5 265 1632.5C260 1633.5 250.5 1635.2 247.5 1637.5C244.5 1639.8 242.2 1646.3 242.5 1650C242.8 1653.7 248.7 1661 250 1665C251.3 1669 251.8 1676.3 252.5 1680C253.2 1683.7 256 1689.7 255 1692.5C254 1695.3 247.7 1700.9 245 1701.2C242.3 1701.6 237.7 1697.2 235 1695C232.3 1692.8 228.3 1686.7 225 1685C221.7 1683.3 214.7 1682.5 210 1682.5C205.3 1682.5 195.3 1684 190 1685C184.7 1686 175.3 1688.7 170 1690C164.7 1691.3 155.3 1694 150 1695C144.7 1696 135.7 1696.8 130 1697.5C124.3 1698.2 110.5 1714.5 107.5 1700.5C104.5 1686.5 81.8 1606.9 107.5 1592.5Z" fill="#FFFF00"/>
<path d="M118.8 1655C119 1650 119.8 1640.8 122.5 1635C125.2 1629.2 129.6 1623.3 135 1620C140.4 1616.7 147.5 1615.2 155 1615C162.5 1614.8 171.7 1617.5 180 1618.8C188.3 1620 197.9 1621.9 205 1622.5C212.1 1623.1 218.3 1620.8 222.5 1622.5C226.7 1624.2 229.6 1627.9 230 1632.5C230.4 1637.1 227.9 1645 225 1650C222.1 1655 217.9 1658.8 212.5 1662.5C207.1 1666.2 199.6 1669.8 192.5 1672.5C185.4 1675.2 177.5 1677.3 170 1678.8C162.5 1680.2 154.2 1681.9 147.5 1681.2C140.8 1680.6 134.4 1677.7 130 1675C125.6 1672.3 123.1 1668.3 121.2 1665C119.4 1661.7 118.5 1660 118.8 1655Z" fill="#FF9900"/>
<path d="M227.5 1592.5C235.4 1589 273.5 1589.6 282.5 1592.5C291.5 1595.4 282.9 1606 281.2 1610C279.6 1614 277.7 1615 272.5 1616.2C267.3 1617.5 256.2 1617.9 250 1617.5C243.8 1617.1 238.8 1617.9 235 1613.8C231.2 1609.6 219.6 1596 227.5 1592.5Z" fill="#FF9900"/>
<path d="M140 1657.5C140 1654.8 142.1 1650.2 145 1647.5C147.9 1644.8 152.9 1642.7 157.5 1641.2C162.1 1639.8 167.5 1638.3 172.5 1638.8C177.5 1639.2 183.5 1641.2 187.5 1643.8C191.5 1646.2 195 1650.6 196.2 1653.8C197.5 1656.9 196.9 1660 195 1662.5C193.1 1665 189.2 1667.5 185 1668.8C180.8 1670 175 1670.2 170 1670C165 1669.8 159.2 1668.5 155 1667.5C150.8 1666.5 147.5 1665.4 145 1663.8C142.5 1662.1 140 1660.2 140 1657.5Z" fill="#FF0000"/>
<path d="M408.2 1667.5C408.6 1661.2 412.3 1649.2 414.5 1642.5C416.7 1635.8 421.5 1622.5 424.5 1617.5C427.5 1612.5 433.3 1607.4 437 1605C440.7 1602.6 447 1599.7 452 1599.5C457 1599.3 468.8 1602 474.5 1603.8C480.2 1605.5 489.5 1609.3 494.5 1612.5C499.5 1615.7 508.3 1623.5 512 1627.5C515.7 1631.5 521 1638.2 522 1642.5C523 1646.8 521.5 1655.7 519.5 1660C517.5 1664.3 511.3 1671 507 1675C502.7 1679 492.3 1686.7 487 1690C481.7 1693.3 472 1698 467 1700C462 1702 453 1703 449.5 1705C446 1707 442.4 1712 440.8 1715C439.1 1718 439.2 1724.7 437 1727.5C434.8 1730.3 427.2 1736.2 424.5 1736.2C421.8 1736.2 418.3 1731 417 1727.5C415.7 1724 415.2 1715 414.5 1710C413.8 1705 412.8 1695.7 412 1690C411.2 1684.3 407.9 1673.8 408.2 1667.5Z" fill="#FFFF00"/>
<path d="M417 1677.5C417.4 1672.5 421.2 1665.4 424.5 1660C427.8 1654.6 432 1649.4 437 1645C442 1640.6 448.2 1635.8 454.5 1633.8C460.8 1631.7 468.7 1631 474.5 1632.5C480.3 1634 485.8 1638.3 489.5 1642.5C493.2 1646.7 496.6 1652.5 497 1657.5C497.4 1662.5 495.3 1667.9 492 1672.5C488.7 1677.1 482.8 1682.1 477 1685C471.2 1687.9 463.7 1688.5 457 1690C450.3 1691.5 442.8 1693.8 437 1693.8C431.2 1693.8 425.3 1692.7 422 1690C418.7 1687.3 416.6 1682.5 417 1677.5Z" fill="#FF9900"/>
<ellipse cx="467" cy="1668" rx="16.2" ry="13.8" fill="#FF0000" transform="rotate(10 467 1668)"/>
<ellipse cx="431" cy="1679.5" rx="7.5" ry="7.5" fill="#FF0000" transform="rotate(0 431 1679.5)"/>
<ellipse cx="509.5" cy="1780" rx="10.5" ry="8" fill="#FFFF00" transform="rotate(0 509.5 1780)"/>
<path d="M584.5 1760C584.9 1758.8 588.7 1757.1 592 1757.5C595.3 1757.9 600.3 1760.4 604.5 1762.5C608.7 1764.6 613.7 1767.1 617 1770C620.3 1772.9 624.1 1776.2 624.5 1780C624.9 1783.8 622.4 1789.2 619.5 1792.5C616.6 1795.8 610.1 1800.4 607 1800C603.9 1799.6 602 1794.2 600.8 1790C599.5 1785.8 601.4 1779.2 599.5 1775C597.6 1770.8 592 1767.5 589.5 1765C587 1762.5 584.1 1761.2 584.5 1760Z" fill="#FFFF00"/>
<path d="M107.5 1813.8C110.8 1807.1 126.8 1807.7 132.5 1807.5C138.2 1807.3 146 1811.2 150 1812.5C154 1813.8 160.3 1818.5 162.5 1817.5C164.7 1816.5 166.8 1808.3 166.2 1805C165.8 1801.7 160.1 1795.5 158.8 1792.5C157.4 1789.5 155.4 1785.2 156.2 1782.5C157.1 1779.8 162.5 1774.3 165 1772.5C167.5 1770.7 172.7 1768.1 175 1768.8C177.3 1769.4 181.5 1774.7 182.5 1777.5C183.5 1780.3 181.5 1787.7 182.5 1790C183.5 1792.3 187 1794 190 1795C193 1796 201 1796.2 205 1797.5C209 1798.8 216 1803 220 1805C224 1807 231.3 1811.8 235 1812.5C238.7 1813.2 244.2 1812 247.5 1810C250.8 1808 258 1800.8 260 1797.5C262 1794.2 260.8 1787.5 262.5 1785C264.2 1782.5 269.8 1779.1 272.5 1778.8C275.2 1778.4 280.7 1780.3 282.5 1782.5C284.3 1784.7 285.9 1791.3 286.2 1795C286.6 1798.7 284.5 1806 285 1810C285.5 1814 288 1821.7 290 1825C292 1828.3 296.7 1833.3 300 1835C303.3 1836.7 311.3 1838.2 315 1837.5C318.7 1836.8 324.5 1830.7 327.5 1830C330.5 1829.3 335.8 1830.8 337.5 1832.5C339.2 1834.2 340.7 1839.5 340 1842.5C339.3 1845.5 333.5 1852.3 332.5 1855C331.5 1857.7 330.2 1861.2 332.5 1862.5C334.8 1863.8 345 1865.3 350 1865C355 1864.7 364.7 1861.2 370 1860C375.3 1858.8 384.3 1855.9 390 1856.2C395.7 1856.6 406.8 1860 412.5 1862.5C418.2 1865 427.5 1871.3 432.5 1875C437.5 1878.7 445.3 1885.3 450 1890C454.7 1894.7 463.5 1904.7 467.5 1910C471.5 1915.3 477.5 1923.3 480 1930C482.5 1936.7 520.2 1956 486.2 1960C452.2 1964 259.2 1963 225 1960C190.8 1957 227.7 1941.8 230 1937.5C232.3 1933.2 238.5 1930.2 242.5 1927.5C246.5 1924.8 256.3 1921.2 260 1917.5C263.7 1913.8 269 1905 270 1900C271 1895 269.5 1884.7 267.5 1880C265.5 1875.3 259.3 1867.7 255 1865C250.7 1862.3 240.3 1861.3 235 1860C229.7 1858.7 219.7 1857 215 1855C210.3 1853 204.7 1847.7 200 1845C195.3 1842.3 184.7 1835 180 1835C175.3 1835 169 1842 165 1845C161 1848 154.3 1855.2 150 1857.5C145.7 1859.8 138.2 1862.5 132.5 1862.5C126.8 1862.5 110.8 1864 107.5 1857.5C104.2 1851 104.2 1820.4 107.5 1813.8Z" fill="#FFFF00"/>
<path d="M132.5 1842.5C132.1 1838.5 134.6 1832.7 137.5 1830C140.4 1827.3 146 1826 150 1826.2C154 1826.5 159.4 1828.5 161.2 1831.2C163.1 1834 162.7 1839 161.2 1842.5C159.8 1846 156 1850.6 152.5 1852.5C149 1854.4 143.3 1855.4 140 1853.8C136.7 1852.1 132.9 1846.5 132.5 1842.5Z" fill="#FF9900"/>
<path d="M185 1817.5C185.4 1815.2 188.8 1813.5 192.5 1813.8C196.2 1814 202.1 1816.9 207.5 1818.8C212.9 1820.6 218.8 1823.5 225 1825C231.2 1826.5 238.3 1827.5 245 1827.5C251.7 1827.5 260 1824.6 265 1825C270 1825.4 272.5 1827.1 275 1830C277.5 1832.9 280 1839.2 280 1842.5C280 1845.8 279.2 1848.1 275 1850C270.8 1851.9 261.7 1853.3 255 1853.8C248.3 1854.2 241.2 1853.5 235 1852.5C228.8 1851.5 222.9 1850 217.5 1847.5C212.1 1845 207.1 1840.8 202.5 1837.5C197.9 1834.2 192.9 1830.8 190 1827.5C187.1 1824.2 184.6 1819.8 185 1817.5Z" fill="#FF9900"/>
<ellipse cx="284.2" cy="1877.5" rx="4" ry="6" fill="#FF9900" transform="rotate(-20 284.2 1877.5)"/>
<ellipse cx="307.5" cy="1883.8" rx="3.5" ry="1.8" fill="#006600" transform="rotate(-20 307.5 1883.8)"/>
<path d="M266.2 1940C267.7 1934.2 271.5 1929.6 275 1925C278.5 1920.4 282.5 1915.8 287.5 1912.5C292.5 1909.2 298.8 1907.1 305 1905C311.2 1902.9 318.3 1902.5 325 1900C331.7 1897.5 338.8 1893.8 345 1890C351.2 1886.2 356.7 1880.8 362.5 1877.5C368.3 1874.2 373.8 1871.5 380 1870C386.2 1868.5 393.8 1867.9 400 1868.8C406.2 1869.6 411.7 1871.5 417.5 1875C423.3 1878.5 430 1884.2 435 1890C440 1895.8 445 1902.9 447.5 1910C450 1917.1 450 1924.2 450 1932.5C450 1940.8 478.1 1955.4 447.5 1960C416.9 1964.6 296.5 1963.3 266.2 1960C236 1956.7 264.8 1945.8 266.2 1940Z" fill="#FF9900"/>
<path d="M341.2 1922.5C341.7 1917.1 344.4 1910.4 347.5 1905C350.6 1899.6 355.4 1894.2 360 1890C364.6 1885.8 369.6 1882.3 375 1880C380.4 1877.7 386.7 1876 392.5 1876.2C398.3 1876.5 404.6 1878.1 410 1881.2C415.4 1884.4 420.8 1889.4 425 1895C429.2 1900.6 433.1 1908.8 435 1915C436.9 1921.2 437.5 1925 436.2 1932.5C435 1940 440.6 1955.4 427.5 1960C414.4 1964.6 371.2 1963.8 357.5 1960C343.8 1956.2 347.7 1943.8 345 1937.5C342.3 1931.2 340.8 1927.9 341.2 1922.5Z" fill="#FF0000"/>
<ellipse cx="302.5" cy="1923.8" rx="8.8" ry="7" fill="#FF0000" transform="rotate(20 302.5 1923.8)"/>
<path d="M362.5 1912.5C362.3 1907.1 365.8 1901.7 368.8 1897.5C371.7 1893.3 375.6 1889.6 380 1887.5C384.4 1885.4 390 1884.2 395 1885C400 1885.8 405.6 1888.8 410 1892.5C414.4 1896.2 419 1902.1 421.2 1907.5C423.5 1912.9 424.8 1920 423.8 1925C422.7 1930 419 1934.6 415 1937.5C411 1940.4 405.4 1942.1 400 1942.5C394.6 1942.9 387.5 1942.1 382.5 1940C377.5 1937.9 373.3 1934.6 370 1930C366.7 1925.4 362.7 1917.9 362.5 1912.5Z" fill="#CC0000"/>
<path d="M373.8 1910C373.5 1905.8 376 1900.4 378.8 1897.5C381.5 1894.6 386 1892.5 390 1892.5C394 1892.5 399 1894.6 402.5 1897.5C406 1900.4 409.6 1906.2 411.2 1910C412.9 1913.8 414 1917.1 412.5 1920C411 1922.9 406.2 1926.2 402.5 1927.5C398.8 1928.8 393.8 1928.3 390 1927.5C386.2 1926.7 382.7 1925.4 380 1922.5C377.3 1919.6 374 1914.2 373.8 1910Z" fill="#990000"/>
</g>
<use href="#ol" class="ol" transform="translate(103.8 1599) scale(1.0214 0.9752)"/>
<path d="M95.5 1599H107.5M95.5 1621.8H107.5M95.5 1644.6H107.5M95.5 1667.4H107.5M95.5 1690.2H107.5M95.5 1713.1H107.5M95.5 1735.9H107.5M95.5 1758.7H107.5M95.5 1781.5H107.5M95.5 1804.3H107.5M95.5 1827.1H107.5M95.5 1849.9H107.5M95.5 1872.8H107.5M95.5 1895.6H107.5M95.5 1918.4H107.5M95.5 1941.2H107.5M95.5 1964H107.5M113.5 1964V1976M145.7 1964V1976M177.9 1964V1976M210.1 1964V1976M242.2 1964V1976M274.4 1964V1976M306.6 1964V1976M338.8 1964V1976M371 1964V1976M403.2 1964V1976M435.4 1964V1976M467.6 1964V1976M499.8 1964V1976M531.9 1964V1976M564.1 1964V1976M596.3 1964V1976M628.5 1964V1976" stroke="#7f7f7f" stroke-width="2" fill="none"/>
<path d="M107.5 1598V1964H629.5" stroke="#9a9a9a" stroke-width="2" fill="none"/>
<text x="91" y="1606.2" class="e">52.06</text>
<text x="91" y="1651.8" class="e">52.04</text>
<text x="91" y="1697.5" class="e">52.03</text>
<text x="91" y="1743.1" class="e">52.01</text>
<text x="91" y="1788.7" class="e">52.00</text>
<text x="91" y="1834.3" class="e">51.98</text>
<text x="91" y="1880" class="e">51.96</text>
<text x="91" y="1925.6" class="e">51.95</text>
<text x="91" y="1971.2" class="e">51.93</text>
<text x="113.5" y="1999.7" class="m">22.45</text>
<text x="177.9" y="1999.7" class="m">22.47</text>
<text x="242.2" y="1999.7" class="m">22.50</text>
<text x="306.6" y="1999.7" class="m">22.52</text>
<text x="371" y="1999.7" class="m">22.54</text>
<text x="435.4" y="1999.7" class="m">22.57</text>
<text x="499.8" y="1999.7" class="m">22.59</text>
<text x="564.1" y="1999.7" class="m">22.61</text>
<text x="628.5" y="1999.7" class="m">22.63</text>
<text x="367.5" y="2028.2" class="m">Longitude (°)</text>
<text x="29.7" y="1781" class="m" transform="rotate(-90 29.7 1781)">Latitude (°)</text>
<rect x="637.5" y="1653" width="20" height="21.4" fill="#9966CC"/>
<rect x="637.5" y="1674.1" width="20" height="21.4" fill="#FF00FF"/>
<rect x="637.5" y="1695.2" width="20" height="21.4" fill="#990000"/>
<rect x="637.5" y="1716.3" width="20" height="21.4" fill="#CC0000"/>
<rect x="637.5" y="1737.4" width="20" height="21.4" fill="#FF0000"/>
<rect x="637.5" y="1758.5" width="20" height="21.4" fill="#FF9900"/>
<rect x="637.5" y="1779.6" width="20" height="21.4" fill="#FFFF00"/>
<rect x="637.5" y="1800.7" width="20" height="21.4" fill="#006600"/>
<rect x="637.5" y="1821.8" width="20" height="21.4" fill="#009900"/>
<rect x="637.5" y="1842.9" width="20" height="21.4" fill="#00CC00"/>
<rect x="637.5" y="1864" width="20" height="21.4" fill="#00FF00"/>
<rect x="637.5" y="1885.1" width="20" height="21.4" fill="#0000FF"/>
<rect x="637.5" y="1906.2" width="20" height="21.4" fill="#0099FF"/>
<rect x="637.5" y="1927.3" width="20" height="21.4" fill="#00CCFF"/>
<text x="686" y="1637.7" style="font-size:19.5px">7.0</text>
<text x="686" y="1658.8" style="font-size:19.5px">6.8</text>
<text x="686" y="1679.9" style="font-size:19.5px">6.6</text>
<text x="686" y="1701" style="font-size:19.5px">6.4</text>
<text x="686" y="1722.1" style="font-size:19.5px">6.2</text>
<text x="686" y="1743.2" style="font-size:19.5px">6.0</text>
<text x="686" y="1764.3" style="font-size:19.5px">5.8</text>
<text x="686" y="1785.4" style="font-size:19.5px">5.6</text>
<text x="686" y="1806.5" style="font-size:19.5px">5.4</text>
<text x="686" y="1827.6" style="font-size:19.5px">5.2</text>
<text x="686" y="1848.7" style="font-size:19.5px">5.0</text>
<text x="686" y="1869.8" style="font-size:19.5px">4.8</text>
<text x="686" y="1890.9" style="font-size:19.5px">4.6</text>
<text x="686" y="1912" style="font-size:19.5px">4.4</text>
<text x="686" y="1933.1" style="font-size:19.5px">4.2</text>
<text x="686" y="1954.2" style="font-size:19.5px">4.0</text>
<text x="640" y="1613" style="font-size:19px">pH (H2O)</text>
</g>
<g id="p08">
<clipPath id="c8"><rect x="884" y="1590" width="524" height="371"/></clipPath>
<g clip-path="url(#c8)">
<rect x="884" y="1590" width="524" height="371" fill="#FF0000"/>
<path d="M996.5 1586.2C1002.5 1583.9 1060.2 1583.1 1066.5 1586.2C1072.8 1589.4 1061.2 1611.6 1059 1617.5C1056.8 1623.4 1047 1640.5 1044 1645C1041 1649.5 1031.5 1663.2 1029 1662.5C1026.5 1661.8 1021.2 1642.8 1019 1637.5C1016.8 1632.2 1008.8 1615.1 1006.5 1610C1004.2 1604.9 990.5 1588.6 996.5 1586.2Z" fill="#CC0000"/>
<path d="M956.5 1692.5C956.8 1688.7 958.9 1680 961.5 1677.5C964.1 1675 974 1671.8 979 1671.2C984 1670.7 999 1671.9 1004 1672.5C1009 1673.1 1018.9 1673.9 1021.5 1676.2C1024.1 1678.6 1025.6 1688 1026.5 1692.5C1027.4 1697 1026.4 1711.2 1029 1715C1031.6 1718.8 1043.8 1723.2 1049 1725C1054.2 1726.8 1068.8 1730 1074 1730C1079.2 1730 1089.6 1727 1094 1725C1098.4 1723 1106.5 1714.2 1111.5 1712.5C1116.5 1710.8 1130.7 1709.1 1136.5 1710C1142.3 1710.9 1156.2 1720 1161.5 1720C1166.8 1720 1178.6 1714.7 1181.5 1710C1184.4 1705.3 1186.2 1686.4 1186.5 1680C1186.8 1673.6 1186 1658.5 1184 1655C1182 1651.5 1173.1 1651.8 1169 1650C1164.9 1648.2 1152.5 1642.9 1149 1640C1145.5 1637.1 1140.2 1631.3 1139 1625C1137.8 1618.7 1134.2 1590.8 1139 1586.2C1143.8 1581.7 1173.5 1583.8 1180 1586.2C1186.5 1588.7 1190.9 1603.3 1195 1607.5C1199.1 1611.7 1210.3 1619.3 1215 1622.5C1219.7 1625.7 1231.5 1631.2 1235 1635C1238.5 1638.8 1243.2 1650.3 1245 1655C1246.8 1659.7 1247.1 1670.9 1250 1675C1252.9 1679.1 1264.8 1687.7 1270 1690C1275.2 1692.3 1289.2 1693.5 1295 1695C1300.8 1696.5 1314.8 1701 1320 1702.5C1325.2 1704 1334.8 1706.6 1340 1707.5C1345.2 1708.4 1360 1708 1365 1710C1370 1712 1379 1722.7 1382.5 1725C1386 1727.3 1391.3 1728.8 1395 1730C1398.7 1731.2 1411.8 1728.6 1414 1735C1416.2 1741.4 1416.2 1778.9 1414 1785C1411.8 1791.1 1400.1 1788.1 1395 1787.5C1389.9 1786.9 1375.8 1780 1370 1780C1364.2 1780 1350.8 1785.5 1345 1787.5C1339.2 1789.5 1325.8 1797.5 1320 1797.5C1314.2 1797.5 1299.4 1790.4 1295 1787.5C1290.6 1784.6 1286 1775.7 1282.5 1772.5C1279 1769.3 1269.4 1762 1265 1760C1260.6 1758 1250.2 1756.2 1245 1755C1239.8 1753.8 1225.8 1749.7 1220 1750C1214.2 1750.3 1200.8 1756.9 1195 1757.5C1189.2 1758.1 1175.8 1755.9 1170 1755C1164.2 1754.1 1150.4 1749.4 1145 1750C1139.6 1750.6 1127.9 1757.7 1124 1760C1120.1 1762.3 1113.5 1766.2 1111.5 1770C1109.5 1773.8 1108.5 1787.8 1106.5 1792.5C1104.5 1797.2 1097.2 1807.1 1094 1810C1090.8 1812.9 1081.9 1818.1 1079 1817.5C1076.1 1816.9 1071.9 1808.2 1069 1805C1066.1 1801.8 1057.5 1793.2 1054 1790C1050.5 1786.8 1042.5 1780.1 1039 1777.5C1035.5 1774.9 1028.1 1770.1 1024 1767.5C1019.9 1764.9 1008.7 1758.2 1004 1755C999.3 1751.8 988.1 1743.5 984 1740C979.9 1736.5 971.9 1728.5 969 1725C966.1 1721.5 960.5 1713.8 959 1710C957.5 1706.2 956.2 1696.3 956.5 1692.5Z" fill="#CC0000"/>
<path d="M879 1880C882.3 1868 898 1877 904 1875C910 1873 919.3 1868.7 924 1865C928.7 1861.3 934.7 1851 939 1847.5C943.3 1844 951.2 1839.8 956.5 1838.8C961.8 1837.8 973.3 1838.5 979 1840C984.7 1841.5 995 1846.7 999 1850C1003 1853.3 1007 1860.3 1009 1865C1011 1869.7 1014 1879.7 1014 1885C1014 1890.3 1010.3 1899.7 1009 1905C1007.7 1910.3 1003.3 1920.3 1004 1925C1004.7 1929.7 1011.7 1934.7 1014 1940C1016.3 1945.3 1039.5 1961.7 1021.5 1965C1003.5 1968.3 898 1976.3 879 1965C860 1953.7 875.7 1892 879 1880Z" fill="#CC0000"/>
<path d="M906.5 1925C906.5 1920.8 909.8 1915.4 914 1912.5C918.2 1909.6 926.5 1907.1 931.5 1907.5C936.5 1907.9 942.3 1911.2 944 1915C945.7 1918.8 944 1925.8 941.5 1930C939 1934.2 933.6 1938.8 929 1940C924.4 1941.2 917.8 1940 914 1937.5C910.2 1935 906.5 1929.2 906.5 1925Z" fill="#FF0000"/>
<path d="M1039 1925C1038.3 1920.3 1042 1910.3 1044 1905C1046 1899.7 1051 1889.7 1054 1885C1057 1880.3 1062.5 1873.3 1066.5 1870C1070.5 1866.7 1079 1862.3 1084 1860C1089 1857.7 1099.3 1854.8 1104 1852.5C1108.7 1850.2 1115.3 1845.5 1119 1842.5C1122.7 1839.5 1127.5 1832 1131.5 1830C1135.5 1828 1144.7 1826.5 1149 1827.5C1153.3 1828.5 1160.8 1833.8 1164 1837.5C1167.2 1841.2 1171.8 1850 1172.8 1855C1173.8 1860 1173 1870.3 1171.5 1875C1170 1879.7 1164.8 1886.7 1161.5 1890C1158.2 1893.3 1150.8 1897.3 1146.5 1900C1142.2 1902.7 1133 1906.7 1129 1910C1125 1913.3 1119.8 1921 1116.5 1925C1113.2 1929 1108 1937 1104 1940C1100 1943 1091.5 1946.5 1086.5 1947.5C1081.5 1948.5 1071.5 1948.5 1066.5 1947.5C1061.5 1946.5 1052.7 1943 1049 1940C1045.3 1937 1039.7 1929.7 1039 1925Z" fill="#CC0000"/>
<path d="M1270 1855C1270.2 1851.3 1272.3 1843 1275 1840C1277.7 1837 1285.3 1833.2 1290 1832.5C1294.7 1831.8 1304.3 1834 1310 1835C1315.7 1836 1326.8 1839.7 1332.5 1840C1338.2 1840.3 1347.2 1838.2 1352.5 1837.5C1357.8 1836.8 1367.8 1834 1372.5 1835C1377.2 1836 1385.2 1841 1387.5 1845C1389.8 1849 1390.7 1860.3 1390 1865C1389.3 1869.7 1385.8 1877.3 1382.5 1880C1379.2 1882.7 1370 1884.7 1365 1885C1360 1885.3 1350.3 1881.8 1345 1882.5C1339.7 1883.2 1330.3 1889.3 1325 1890C1319.7 1890.7 1310.3 1889.2 1305 1887.5C1299.7 1885.8 1289.2 1880.2 1285 1877.5C1280.8 1874.8 1275.8 1870.5 1273.8 1867.5C1271.8 1864.5 1269.8 1858.7 1270 1855Z" fill="#CC0000"/>
<ellipse cx="984.5" cy="1703.8" rx="18.8" ry="19.5" fill="#990000" transform="rotate(0 984.5 1703.8)"/>
<path d="M1032.8 1757.5C1032.8 1754.9 1035.9 1749.2 1039 1747.5C1042.1 1745.8 1053.8 1742.8 1059 1742.5C1064.2 1742.2 1078.2 1745.6 1084 1745C1089.8 1744.4 1103.2 1739.2 1109 1737.5C1114.8 1735.8 1128.5 1730.6 1134 1730C1139.5 1729.4 1151.8 1733.1 1156.5 1732.5C1161.2 1731.9 1170.5 1728.2 1174 1725C1177.5 1721.8 1185 1710.8 1186.5 1705C1188 1699.2 1186.6 1680.8 1186.5 1675C1186.4 1669.2 1184.3 1658.6 1185.2 1655C1186.2 1651.4 1191.8 1644.9 1195 1643.8C1198.2 1642.6 1209.3 1643.7 1212.5 1645C1215.7 1646.3 1221 1651.5 1222.5 1655C1224 1658.5 1224.4 1670.9 1225 1675C1225.6 1679.1 1225.2 1687.4 1227.5 1690C1229.8 1692.6 1240.6 1696.3 1245 1697.5C1249.4 1698.7 1260.9 1698.5 1265 1700C1269.1 1701.5 1276.5 1707.7 1280 1710C1283.5 1712.3 1290.9 1718.5 1295 1720C1299.1 1721.5 1310.6 1722.5 1315 1722.5C1319.4 1722.5 1329.6 1718.5 1332.5 1720C1335.4 1721.5 1338.5 1730.9 1340 1735C1341.5 1739.1 1342.7 1751.5 1345 1755C1347.3 1758.5 1356.2 1765 1360 1765C1363.8 1765 1373.4 1756.8 1377.5 1755C1381.6 1753.2 1390.7 1750.3 1395 1750C1399.3 1749.7 1411.8 1749 1414 1752.5C1416.2 1756 1416.8 1776.5 1414 1780C1411.2 1783.5 1395.4 1782.8 1390 1782.5C1384.6 1782.2 1372.8 1777.5 1367.5 1777.5C1362.2 1777.5 1350.5 1780.8 1345 1782.5C1339.5 1784.2 1325.2 1792.2 1320 1792.5C1314.8 1792.8 1303.8 1787.6 1300 1785C1296.2 1782.4 1291 1773.5 1287.5 1770C1284 1766.5 1274.4 1757.3 1270 1755C1265.6 1752.7 1254.7 1751.2 1250 1750C1245.3 1748.8 1234.7 1745 1230 1745C1225.3 1745 1214.1 1748.5 1210 1750C1205.9 1751.5 1199.1 1757.2 1195 1757.5C1190.9 1757.8 1179.8 1753.7 1175 1752.5C1170.2 1751.3 1159.4 1747.5 1154 1747.5C1148.6 1747.5 1134 1750.5 1129 1752.5C1124 1754.5 1114.3 1761.2 1111.5 1765C1108.7 1768.8 1107.3 1780.9 1105.2 1785C1103.2 1789.1 1097.1 1797.4 1094 1800C1090.9 1802.6 1082.2 1807.8 1079 1807.5C1075.8 1807.2 1069.4 1800.4 1066.5 1797.5C1063.6 1794.6 1057.2 1785.7 1054 1782.5C1050.8 1779.3 1041.5 1772.9 1039 1770C1036.5 1767.1 1032.8 1760.1 1032.8 1757.5Z" fill="#990000"/>
<ellipse cx="971" cy="1875" rx="30" ry="20" fill="#990000" transform="rotate(0 971 1875)"/>
<path d="M939 1965C929.8 1961.2 941.1 1947.9 944 1942.5C946.9 1937.1 951.5 1934.6 956.5 1932.5C961.5 1930.4 968.6 1929.2 974 1930C979.4 1930.8 984.8 1934.2 989 1937.5C993.2 1940.8 997.3 1945.4 999 1950C1000.7 1954.6 1009 1962.5 999 1965C989 1967.5 948.2 1968.8 939 1965Z" fill="#990000"/>
<ellipse cx="881.5" cy="1902.5" rx="10" ry="9.5" fill="#990000" transform="rotate(0 881.5 1902.5)"/>
<ellipse cx="1075.2" cy="1905.5" rx="14.5" ry="15" fill="#990000" transform="rotate(0 1075.2 1905.5)"/>
<ellipse cx="1310" cy="1848.8" rx="14.5" ry="13.8" fill="#990000" transform="rotate(0 1310 1848.8)"/>
<ellipse cx="1204.5" cy="1672.5" rx="9.5" ry="12.5" fill="#FF00FF" transform="rotate(0 1204.5 1672.5)"/>
<path d="M1179 1740C1179.6 1736.7 1183.6 1733.8 1186.5 1730C1189.4 1726.2 1193.2 1720.6 1196.5 1717.5C1199.8 1714.4 1203.6 1711.5 1206.5 1711.2C1209.4 1711 1213.4 1713.5 1214 1716.2C1214.6 1719 1212.3 1724 1210.2 1727.5C1208.2 1731 1204.6 1734.6 1201.5 1737.5C1198.4 1740.4 1194.6 1742.9 1191.5 1745C1188.4 1747.1 1184.8 1750.8 1182.8 1750C1180.7 1749.2 1178.4 1743.3 1179 1740Z" fill="#FF00FF"/>
<path d="M1049 1767.5C1048.6 1764 1052.3 1760.6 1056.5 1758.8C1060.7 1756.9 1067.8 1756.2 1074 1756.2C1080.2 1756.2 1088.8 1757.1 1094 1758.8C1099.2 1760.4 1104 1762.7 1105.2 1766.2C1106.5 1769.8 1103.4 1775.6 1101.5 1780C1099.6 1784.4 1097.3 1789.4 1094 1792.5C1090.7 1795.6 1085.7 1798.8 1081.5 1798.8C1077.3 1798.8 1072.8 1795.6 1069 1792.5C1065.2 1789.4 1062.3 1784.2 1059 1780C1055.7 1775.8 1049.4 1771 1049 1767.5Z" fill="#FF00FF"/>
<ellipse cx="1082.8" cy="1778.8" rx="12.5" ry="11.2" fill="#9966CC" transform="rotate(0 1082.8 1778.8)"/>
<ellipse cx="1252.5" cy="1718" rx="11.2" ry="9.5" fill="#FF00FF" transform="rotate(0 1252.5 1718)"/>
<ellipse cx="1313.8" cy="1768.8" rx="19.5" ry="18" fill="#FF00FF" transform="rotate(0 1313.8 1768.8)"/>
<ellipse cx="1310.5" cy="1771.2" rx="2" ry="2" fill="#9966CC" transform="rotate(0 1310.5 1771.2)"/>
<path d="M952.8 1965C948 1962.5 953.8 1953.5 956.5 1950C959.2 1946.5 964.8 1944 969 1943.8C973.2 1943.5 978.8 1945.2 981.5 1948.8C984.2 1952.3 990 1962.3 985.2 1965C980.5 1967.7 957.5 1967.5 952.8 1965Z" fill="#FF00FF"/>
<ellipse cx="902" cy="1651.2" rx="16.2" ry="15.5" fill="#FF9900" transform="rotate(0 902 1651.2)"/>
<ellipse cx="977" cy="1638.8" rx="19.5" ry="18.8" fill="#FF9900" transform="rotate(0 977 1638.8)"/>
<path d="M910.2 1720C910.2 1714.2 911.3 1705.8 914 1700C916.7 1694.2 922.8 1685.8 926.5 1685C930.2 1684.2 933.2 1690.4 936.5 1695C939.8 1699.6 943.8 1706.7 946.5 1712.5C949.2 1718.3 952.3 1724.6 952.8 1730C953.2 1735.4 951.7 1741.5 949 1745C946.3 1748.5 940.9 1751 936.5 1751.2C932.1 1751.5 926.5 1749 922.8 1746.2C919 1743.5 916.1 1739.4 914 1735C911.9 1730.6 910.2 1725.8 910.2 1720Z" fill="#FF9900"/>
<ellipse cx="936" cy="1720.8" rx="4.5" ry="6" fill="#FFFF00" transform="rotate(0 936 1720.8)"/>
<path d="M1061.5 1657.5C1061.2 1652.5 1064.2 1644.7 1066.5 1640C1068.8 1635.3 1075 1626 1079 1622.5C1083 1619 1092.2 1614.4 1096.5 1613.8C1100.8 1613.1 1108.2 1615 1111.5 1617.5C1114.8 1620 1119.8 1628.2 1121.5 1632.5C1123.2 1636.8 1122.7 1646 1124 1650C1125.3 1654 1128.2 1660.8 1131.5 1662.5C1134.8 1664.2 1144.7 1661.8 1149 1662.5C1153.3 1663.2 1160.7 1665.2 1164 1667.5C1167.3 1669.8 1172.3 1676.7 1174 1680C1175.7 1683.3 1177.2 1689.2 1176.5 1692.5C1175.8 1695.8 1171.7 1702.7 1169 1705C1166.3 1707.3 1160.2 1710 1156.5 1710C1152.8 1710 1144.8 1707.3 1141.5 1705C1138.2 1702.7 1133.5 1695.8 1131.5 1692.5C1129.5 1689.2 1128.8 1682 1126.5 1680C1124.2 1678 1117.7 1677.2 1114 1677.5C1110.3 1677.8 1103 1681.3 1099 1682.5C1095 1683.7 1088 1686.9 1084 1686.2C1080 1685.6 1072 1681.3 1069 1677.5C1066 1673.7 1061.8 1662.5 1061.5 1657.5Z" fill="#FF9900"/>
<path d="M1077.8 1660C1077.1 1656.9 1078.8 1653.8 1081.5 1650C1084.2 1646.2 1089.8 1640.5 1094 1637.5C1098.2 1634.5 1103.7 1632 1106.5 1632C1109.3 1632 1111 1634.1 1111 1637.5C1111 1640.9 1108.9 1647.9 1106.5 1652.5C1104.1 1657.1 1100 1662.3 1096.5 1665C1093 1667.7 1088.4 1669.6 1085.2 1668.8C1082.1 1667.9 1078.4 1663.1 1077.8 1660Z" fill="#FFFF00"/>
<ellipse cx="1157.8" cy="1688.8" rx="12" ry="12.5" fill="#FFFF00" transform="rotate(0 1157.8 1688.8)"/>
<ellipse cx="1317.5" cy="1677.5" rx="29.5" ry="23.8" fill="#FF9900" transform="rotate(0 1317.5 1677.5)"/>
<ellipse cx="1317" cy="1682.5" rx="12.5" ry="12" fill="#FFFF00" transform="rotate(0 1317 1682.5)"/>
<path d="M885.2 1837.5C885.2 1830.8 886.3 1825 889 1820C891.7 1815 896.9 1809.4 901.5 1807.5C906.1 1805.6 912.3 1806.7 916.5 1808.8C920.7 1810.8 924.4 1815.6 926.5 1820C928.6 1824.4 929.4 1829.6 929 1835C928.6 1840.4 926.5 1847.5 924 1852.5C921.5 1857.5 917.8 1862.1 914 1865C910.2 1867.9 905.7 1870.8 901.5 1870C897.3 1869.2 891.7 1865.4 889 1860C886.3 1854.6 885.2 1844.2 885.2 1837.5Z" fill="#FF9900"/>
<path d="M959 1787.5C959.7 1784.5 969.3 1781.5 974 1780C978.7 1778.5 988.7 1776.6 994 1776.2C999.3 1775.9 1009 1776.7 1014 1777.5C1019 1778.3 1027.5 1779.8 1031.5 1782.5C1035.5 1785.2 1041.3 1793.2 1044 1797.5C1046.7 1801.8 1050.8 1810.7 1051.5 1815C1052.2 1819.3 1050.7 1826.3 1049 1830C1047.3 1833.7 1041.7 1839.3 1039 1842.5C1036.3 1845.7 1032 1853.4 1029 1853.8C1026 1854.1 1020.5 1847.8 1016.5 1845C1012.5 1842.2 1003.3 1835.8 999 1832.5C994.7 1829.2 988 1824 984 1820C980 1816 972.3 1806.8 969 1802.5C965.7 1798.2 958.3 1790.5 959 1787.5Z" fill="#FF9900"/>
<ellipse cx="1018.5" cy="1808.8" rx="25" ry="24.5" fill="#FFFF00" transform="rotate(0 1018.5 1808.8)"/>
<path d="M1012.8 1812.5C1012.8 1809.8 1014.6 1803.1 1016.5 1800C1018.4 1796.9 1021.6 1794.8 1024 1793.8C1026.4 1792.7 1030 1791.9 1031 1793.8C1032 1795.6 1031.4 1801.7 1030.2 1805C1029.1 1808.3 1026.3 1811.9 1024 1813.8C1021.7 1815.6 1018.4 1816.5 1016.5 1816.2C1014.6 1816 1012.8 1815.2 1012.8 1812.5Z" fill="#006600"/>
<path d="M1024 1885C1023.6 1881.2 1025.9 1877.1 1027.8 1872.5C1029.6 1867.9 1033.2 1857.9 1035.2 1857.5C1037.3 1857.1 1039 1865.8 1040.2 1870C1041.5 1874.2 1043.2 1878.8 1042.8 1882.5C1042.3 1886.2 1039.8 1890.4 1037.8 1892.5C1035.7 1894.6 1032.5 1896.2 1030.2 1895C1028 1893.8 1024.4 1888.8 1024 1885Z" fill="#FF9900"/>
<path d="M1109 1812.5C1108.7 1808.7 1116.3 1799.7 1119 1795C1121.7 1790.3 1126 1781.2 1129 1777.5C1132 1773.8 1137.2 1769.2 1141.5 1767.5C1145.8 1765.8 1155.8 1764.3 1161.5 1765C1167.2 1765.7 1178.3 1771.2 1184 1772.5C1189.7 1773.8 1198.7 1775.3 1204 1775C1209.3 1774.7 1219.2 1771 1224 1770C1228.8 1769 1235.9 1766.8 1240 1767.5C1244.1 1768.2 1251 1773.7 1255 1775C1259 1776.3 1266.1 1774.2 1270 1777.5C1273.9 1780.8 1282.8 1794.3 1284 1800C1285.2 1805.7 1281.7 1817 1279 1820C1276.3 1823 1268 1823.5 1264 1822.5C1260 1821.5 1253 1815.5 1249 1812.5C1245 1809.5 1237.7 1800.7 1234 1800C1230.3 1799.3 1223.5 1804.2 1221.5 1807.5C1219.5 1810.8 1220.3 1821 1219 1825C1217.7 1829 1214.5 1835 1211.5 1837.5C1208.5 1840 1200.5 1843.8 1196.5 1843.8C1192.5 1843.8 1185.2 1840 1181.5 1837.5C1177.8 1835 1172.7 1827.7 1169 1825C1165.3 1822.3 1158.3 1818.2 1154 1817.5C1149.7 1816.8 1140.8 1819.2 1136.5 1820C1132.2 1820.8 1125.2 1824.8 1121.5 1823.8C1117.8 1822.8 1109.3 1816.3 1109 1812.5Z" fill="#FF9900"/>
<path d="M1124 1812.5C1123 1810 1127.3 1799.7 1129 1795C1130.7 1790.3 1134.2 1780.7 1136.5 1777.5C1138.8 1774.3 1143.2 1771.8 1146.5 1771.2C1149.8 1770.8 1157.2 1772.2 1161.5 1773.8C1165.8 1775.2 1174.3 1780 1179 1782.5C1183.7 1785 1192.5 1789.5 1196.5 1792.5C1200.5 1795.5 1207.3 1801.7 1209 1805C1210.7 1808.3 1210.3 1814.8 1209 1817.5C1207.7 1820.2 1202 1824.3 1199 1825C1196 1825.7 1189.8 1824.2 1186.5 1822.5C1183.2 1820.8 1178.3 1814.3 1174 1812.5C1169.7 1810.7 1159 1808.6 1154 1808.8C1149 1808.9 1140.5 1813.2 1136.5 1813.8C1132.5 1814.2 1125 1815 1124 1812.5Z" fill="#FFFF00"/>
<ellipse cx="1200.2" cy="1811.2" rx="1.2" ry="2.5" fill="#006600" transform="rotate(0 1200.2 1811.2)"/>
<path d="M1325 1817.5C1324.7 1813.5 1329.5 1805.7 1332.5 1802.5C1335.5 1799.3 1342.5 1795.2 1347.5 1793.8C1352.5 1792.2 1364.3 1790.8 1370 1791.2C1375.7 1791.8 1384.3 1796.3 1390 1797.5C1395.7 1798.7 1409.5 1791 1412.5 1800C1415.5 1809 1414.2 1858.3 1412.5 1865C1410.8 1871.7 1402.7 1854.3 1400 1850C1397.3 1845.7 1395.2 1835.8 1392.5 1832.5C1389.8 1829.2 1383.7 1825.3 1380 1825C1376.3 1824.7 1369 1828.3 1365 1830C1361 1831.7 1354 1837.2 1350 1837.5C1346 1837.8 1338.3 1835.2 1335 1832.5C1331.7 1829.8 1325.3 1821.5 1325 1817.5Z" fill="#FF9900"/>
<path d="M1336.2 1817.5C1335.8 1813.8 1339 1808.1 1342.5 1805C1346 1801.9 1351.7 1799.4 1357.5 1798.8C1363.3 1798.1 1371.2 1799.8 1377.5 1801.2C1383.8 1802.7 1392.9 1804.4 1395 1807.5C1397.1 1810.6 1393.3 1817.5 1390 1820C1386.7 1822.5 1380 1821.2 1375 1822.5C1370 1823.8 1365 1826.7 1360 1827.5C1355 1828.3 1349 1829.2 1345 1827.5C1341 1825.8 1336.7 1821.2 1336.2 1817.5Z" fill="#FFFF00"/>
<ellipse cx="1352" cy="1814.5" rx="7.5" ry="7" fill="#006600" transform="rotate(0 1352 1814.5)"/>
<path d="M1403.8 1825C1404.8 1822.1 1411 1817.1 1412.5 1820C1414 1822.9 1413.5 1839.6 1412.5 1842.5C1411.5 1845.4 1407.7 1840.4 1406.2 1837.5C1404.8 1834.6 1402.7 1827.9 1403.8 1825Z" fill="#FFFF00"/>
</g>
<use href="#ol" class="ol" transform="translate(880.7 1594.3) scale(1.0175 0.9914)"/>
<path d="M869.5 1590H881.5M869.5 1613.4H881.5M869.5 1636.9H881.5M869.5 1660.3H881.5M869.5 1683.8H881.5M869.5 1707.2H881.5M869.5 1730.6H881.5M869.5 1754.1H881.5M869.5 1777.5H881.5M869.5 1800.9H881.5M869.5 1824.4H881.5M869.5 1847.8H881.5M869.5 1871.2H881.5M869.5 1894.7H881.5M869.5 1918.1H881.5M869.5 1941.6H881.5M869.5 1965H881.5M887.5 1965V1977M920 1965V1977M952.6 1965V1977M985.1 1965V1977M1017.6 1965V1977M1050.2 1965V1977M1082.7 1965V1977M1115.2 1965V1977M1147.8 1965V1977M1180.3 1965V1977M1212.8 1965V1977M1245.3 1965V1977M1277.9 1965V1977M1310.4 1965V1977M1342.9 1965V1977M1375.5 1965V1977M1408 1965V1977" stroke="#7f7f7f" stroke-width="2" fill="none"/>
<path d="M881.5 1589V1965H1409" stroke="#9a9a9a" stroke-width="2" fill="none"/>
<text x="865" y="1597.2" class="e">52.06</text>
<text x="865" y="1644.1" class="e">52.04</text>
<text x="865" y="1691" class="e">52.03</text>
<text x="865" y="1737.8" class="e">52.01</text>
<text x="865" y="1784.7" class="e">52.00</text>
<text x="865" y="1831.6" class="e">51.98</text>
<text x="865" y="1878.5" class="e">51.96</text>
<text x="865" y="1925.3" class="e">51.95</text>
<text x="865" y="1972.2" class="e">51.93</text>
<text x="887.5" y="1999.7" class="m">22.45</text>
<text x="952.6" y="1999.7" class="m">22.47</text>
<text x="1017.6" y="1999.7" class="m">22.50</text>
<text x="1082.7" y="1999.7" class="m">22.52</text>
<text x="1147.8" y="1999.7" class="m">22.54</text>
<text x="1212.8" y="1999.7" class="m">22.57</text>
<text x="1277.9" y="1999.7" class="m">22.59</text>
<text x="1342.9" y="1999.7" class="m">22.61</text>
<text x="1408" y="1999.7" class="m">22.63</text>
<text x="1144" y="2029.7" class="m">Longitude (°)</text>
<text x="802.2" y="1779" class="m" transform="rotate(-90 802.2 1779)">Latitude (°)</text>
<rect x="1419" y="1653" width="20" height="21.9" fill="#9966CC"/>
<rect x="1419" y="1674.6" width="20" height="21.9" fill="#FF00FF"/>
<rect x="1419" y="1696.1" width="20" height="21.9" fill="#990000"/>
<rect x="1419" y="1717.7" width="20" height="21.9" fill="#CC0000"/>
<rect x="1419" y="1739.3" width="20" height="21.9" fill="#FF0000"/>
<rect x="1419" y="1760.8" width="20" height="21.9" fill="#FF9900"/>
<rect x="1419" y="1782.4" width="20" height="21.9" fill="#FFFF00"/>
<rect x="1419" y="1804" width="20" height="21.9" fill="#006600"/>
<rect x="1419" y="1825.6" width="20" height="21.9" fill="#009900"/>
<rect x="1419" y="1847.1" width="20" height="21.9" fill="#00CC00"/>
<rect x="1419" y="1868.7" width="20" height="21.9" fill="#00FF00"/>
<rect x="1419" y="1890.3" width="20" height="21.9" fill="#0000FF"/>
<rect x="1419" y="1911.8" width="20" height="21.9" fill="#0099FF"/>
<rect x="1419" y="1933.4" width="20" height="21.9" fill="#00CCFF"/>
<text x="1470" y="1637.2" style="font-size:19.5px">1.60</text>
<text x="1470" y="1658.8" style="font-size:19.5px">1.57</text>
<text x="1470" y="1680.4" style="font-size:19.5px">1.53</text>
<text x="1470" y="1702" style="font-size:19.5px">1.50</text>
<text x="1470" y="1723.5" style="font-size:19.5px">1.47</text>
<text x="1470" y="1745.1" style="font-size:19.5px">1.43</text>
<text x="1470" y="1766.7" style="font-size:19.5px">1.40</text>
<text x="1470" y="1788.2" style="font-size:19.5px">1.37</text>
<text x="1470" y="1809.8" style="font-size:19.5px">1.33</text>
<text x="1470" y="1831.4" style="font-size:19.5px">1.30</text>
<text x="1470" y="1853" style="font-size:19.5px">1.27</text>
<text x="1470" y="1874.5" style="font-size:19.5px">1.23</text>
<text x="1470" y="1896.1" style="font-size:19.5px">1.20</text>
<text x="1470" y="1917.7" style="font-size:19.5px">1.17</text>
<text x="1470" y="1939.2" style="font-size:19.5px">1.13</text>
<text x="1470" y="1960.8" style="font-size:19.5px">1.10</text>
<text x="1413" y="1607" class="s" style="font-size:21px">BD (Mg m<tspan dy="-6" style="font-size:12px">−3</tspan><tspan dy="6">)</tspan></text>
<path d="M884 1589.5H1408.5V1961" stroke="#1f8a1f" stroke-width="2.2" fill="none"/>
</g>
<g id="p09">
<clipPath id="c9"><rect x="97.5" y="2110.5" width="521.5" height="372.5"/></clipPath>
<g clip-path="url(#c9)">
<rect x="97.5" y="2110.5" width="521.5" height="372.5" fill="#006600"/>
<path d="M93 2105C123.3 2093.3 291.2 2101.7 320.5 2105C349.8 2108.3 314.7 2124 313 2130C311.3 2136 307 2144.3 308 2150C309 2155.7 316.5 2167.5 320.5 2172.5C324.5 2177.5 332.3 2184.2 338 2187.5C343.7 2190.8 357 2195.5 363 2197.5C369 2199.5 380.3 2199.8 383 2202.5C385.7 2205.2 386 2215.2 383 2217.5C380 2219.8 367.8 2220.7 360.5 2220C353.2 2219.3 335.7 2213.8 328 2212.5C320.3 2211.2 309.7 2209.5 303 2210C296.3 2210.5 284.7 2214.6 278 2216.2C271.3 2217.9 259.7 2221 253 2222.5C246.3 2224 234.7 2226.5 228 2227.5C221.3 2228.5 208 2230.3 203 2230C198 2229.7 193.2 2228.3 190.5 2225C187.8 2221.7 184.3 2210.7 183 2205C181.7 2199.3 182.2 2188.2 180.5 2182.5C178.8 2176.8 173.2 2166.8 170.5 2162.5C167.8 2158.2 163.8 2152.2 160.5 2150C157.2 2147.8 149.5 2145.6 145.5 2146.2C141.5 2146.9 134.8 2151.2 130.5 2155C126.2 2158.8 118 2170 113 2175C108 2180 95.7 2201.8 93 2192.5C90.3 2183.2 62.7 2116.7 93 2105Z" fill="#009900"/>
<path d="M93 2235C95.7 2209.8 107.7 2236.5 113 2237.5C118.3 2238.5 127.7 2240.8 133 2242.5C138.3 2244.2 148.7 2247 153 2250C157.3 2253 161.8 2261 165.5 2265C169.2 2269 177.2 2275.7 180.5 2280C183.8 2284.3 189.2 2292.5 190.5 2297.5C191.8 2302.5 192.2 2312.5 190.5 2317.5C188.8 2322.5 181.7 2330.7 178 2335C174.3 2339.3 166 2344.7 163 2350C160 2355.3 157.5 2369 155.5 2375C153.5 2381 150.7 2390.7 148 2395C145.3 2399.3 139.8 2404.5 135.5 2407.5C131.2 2410.5 121.2 2415 115.5 2417.5C109.8 2420 96 2450.6 93 2426.2C90 2401.9 90.3 2260.2 93 2235Z" fill="#009900"/>
<path d="M226.8 2312.5C226.1 2309.5 233.2 2306.3 238 2305C242.8 2303.7 256.3 2303.2 263 2302.5C269.7 2301.8 281.3 2300 288 2300C294.7 2300 307 2301.8 313 2302.5C319 2303.2 328.3 2306 333 2305C337.7 2304 345.7 2298.3 348 2295C350.3 2291.7 348.2 2284.7 350.5 2280C352.8 2275.3 363.8 2265.3 365.5 2260C367.2 2254.7 360.7 2244.7 363 2240C365.3 2235.3 378.3 2225 383 2225C387.7 2225 395.4 2236.7 398 2240C400.6 2243.3 400.2 2248 402.5 2250C404.8 2252 411.3 2255 415 2255C418.7 2255 427 2252.7 430 2250C433 2247.3 436.3 2240 437.5 2235C438.7 2230 437.4 2217.8 438.8 2212.5C440.1 2207.2 444.7 2199.3 447.5 2195C450.3 2190.7 456 2183.7 460 2180C464 2176.3 472.8 2169.8 477.5 2167.5C482.2 2165.2 489.3 2163.2 495 2162.5C500.7 2161.8 513 2162.5 520 2162.5C527 2162.5 541.2 2161.2 547.5 2162.5C553.8 2163.8 563.2 2169.2 567.5 2172.5C571.8 2175.8 577 2182.8 580 2187.5C583 2192.2 586.7 2202.5 590 2207.5C593.3 2212.5 600.3 2221.3 605 2225C609.7 2228.7 622.3 2220.7 625 2235C627.7 2249.3 628.3 2319.3 625 2332.5C621.7 2345.7 606 2333.1 600 2333.8C594 2334.4 585 2336.5 580 2337.5C575 2338.5 566.8 2341.4 562.5 2341.2C558.2 2341.1 551.5 2337.2 547.5 2336.2C543.5 2335.2 536.2 2332.9 532.5 2333.8C528.8 2334.6 523.7 2340 520 2342.5C516.3 2345 509 2349.8 505 2352.5C501 2355.2 494 2359.8 490 2362.5C486 2365.2 479.7 2370.5 475 2372.5C470.3 2374.5 460.3 2376.3 455 2377.5C449.7 2378.7 439.7 2380.9 435 2381.2C430.3 2381.6 424 2381.2 420 2380C416 2378.8 409.7 2374 405 2372.5C400.3 2371 390.3 2370.4 385 2368.8C379.7 2367.1 369.7 2362.2 365 2360C360.3 2357.8 354.7 2353.2 350 2352.5C345.3 2351.8 336 2353.7 330 2355C324 2356.3 311.7 2361.5 305 2362.5C298.3 2363.5 285.7 2363.5 280 2362.5C274.3 2361.5 266.8 2357.3 262.5 2355C258.2 2352.7 250.6 2348.7 248 2345C245.4 2341.3 245.8 2331.8 243 2327.5C240.2 2323.2 227.4 2315.5 226.8 2312.5Z" fill="#009900"/>
<path d="M467.5 2240C467.9 2235 469.6 2228.1 472.5 2225C475.4 2221.9 480.4 2220.4 485 2221.2C489.6 2222.1 495.8 2226 500 2230C504.2 2234 507.9 2240 510 2245C512.1 2250 513.3 2255.8 512.5 2260C511.7 2264.2 508.8 2267.9 505 2270C501.2 2272.1 495 2272.9 490 2272.5C485 2272.1 478.3 2270.4 475 2267.5C471.7 2264.6 471.2 2259.6 470 2255C468.8 2250.4 467.1 2245 467.5 2240Z" fill="#006600"/>
<path d="M465 2330C465.4 2326.9 467.9 2322.9 470 2321.2C472.1 2319.6 475.4 2319 477.5 2320C479.6 2321 482.3 2324.2 482.5 2327.5C482.7 2330.8 480.4 2336.9 478.8 2340C477.1 2343.1 474.4 2346.2 472.5 2346.2C470.6 2346.2 468.8 2342.7 467.5 2340C466.2 2337.3 464.6 2333.1 465 2330Z" fill="#006600"/>
<path d="M176.8 2457.5C177.2 2452.5 179.5 2446.7 183 2442.5C186.5 2438.3 191.3 2435 198 2432.5C204.7 2430 215.5 2427.9 223 2427.5C230.5 2427.1 237.2 2427.9 243 2430C248.8 2432.1 254.2 2435.4 258 2440C261.8 2444.6 264.7 2451.7 265.5 2457.5C266.3 2463.3 264.7 2469.6 263 2475C261.3 2480.4 268 2487.5 255.5 2490C243 2492.5 200.5 2492.9 188 2490C175.5 2487.1 182.4 2477.9 180.5 2472.5C178.6 2467.1 176.3 2462.5 176.8 2457.5Z" fill="#009900"/>
<path d="M188 2155C189.3 2151 194 2147 198 2145C202 2143 212.7 2141.7 218 2140C223.3 2138.3 234 2135.2 238 2132.5C242 2129.8 246.3 2123.7 248 2120C249.7 2116.3 240.8 2107 250.5 2105C260.2 2103 312.2 2101.7 320.5 2105C328.8 2108.3 314.7 2124 313 2130C311.3 2136 307.3 2144.7 308 2150C308.7 2155.3 314.7 2165.3 318 2170C321.3 2174.7 327.7 2181.7 333 2185C338.3 2188.3 352 2192.7 358 2195C364 2197.3 375.3 2200.2 378 2202.5C380.7 2204.8 380.7 2210.8 378 2212.5C375.3 2214.2 364.7 2215.3 358 2215C351.3 2214.7 335.3 2211 328 2210C320.7 2209 309.7 2207.2 303 2207.5C296.3 2207.8 284.7 2211.2 278 2212.5C271.3 2213.8 259.7 2216.5 253 2217.5C246.3 2218.5 235 2219.5 228 2220C221 2220.5 204.8 2223.9 200.5 2221.2C196.2 2218.6 197.2 2206.2 195.5 2200C193.8 2193.8 189 2181 188 2175C187 2169 186.7 2159 188 2155Z" fill="#00CC00"/>
<path d="M93 2260C95.7 2241.7 107.7 2255.3 113 2255C118.3 2254.7 128 2255.5 133 2257.5C138 2259.5 146.5 2265.7 150.5 2270C154.5 2274.3 160.7 2284.3 163 2290C165.3 2295.7 168.3 2306.8 168 2312.5C167.7 2318.2 162.8 2327.2 160.5 2332.5C158.2 2337.8 153.5 2346.8 150.5 2352.5C147.5 2358.2 141.3 2370 138 2375C134.7 2380 128.8 2387.3 125.5 2390C122.2 2392.7 117.3 2394.7 113 2395C108.7 2395.3 95.7 2410.5 93 2392.5C90.3 2374.5 90.3 2278.3 93 2260Z" fill="#00CC00"/>
<path d="M353 2317.5C351.7 2311.5 356 2300.7 358 2295C360 2289.3 364.7 2279.7 368 2275C371.3 2270.3 378.3 2262.8 383 2260C387.7 2257.2 397.3 2253.8 403 2253.8C408.7 2253.8 420.2 2257.8 425.5 2260C430.8 2262.2 440 2266 443 2270C446 2274 445.3 2288 448 2290C450.7 2292 458.3 2286 463 2285C467.7 2284 478.7 2281.2 483 2282.5C487.3 2283.8 494.2 2291 495.5 2295C496.8 2299 495.3 2309.2 493 2312.5C490.7 2315.8 482.7 2319 478 2320C473.3 2321 462.3 2318.3 458 2320C453.7 2321.7 448.8 2328.8 445.5 2332.5C442.2 2336.2 437.3 2344.5 433 2347.5C428.7 2350.5 419 2354.3 413 2355C407 2355.7 394 2354.5 388 2352.5C382 2350.5 372.7 2344.7 368 2340C363.3 2335.3 354.3 2323.5 353 2317.5Z" fill="#00CC00"/>
<path d="M266.8 2332.5C266.8 2329.4 271.5 2328.3 275.5 2327.5C279.5 2326.7 286.8 2326.2 290.5 2327.5C294.2 2328.8 298.4 2332.1 298 2335C297.6 2337.9 291.8 2343.1 288 2345C284.2 2346.9 279 2348.3 275.5 2346.2C272 2344.2 266.8 2335.6 266.8 2332.5Z" fill="#00CC00"/>
<path d="M513.8 2205C514.1 2201.3 517.2 2195.2 520 2192.5C522.8 2189.8 531 2185.3 535 2185C539 2184.7 546.3 2187.3 550 2190C553.7 2192.7 558.8 2200.3 562.5 2205C566.2 2209.7 573.5 2220.3 577.5 2225C581.5 2229.7 588.2 2236.7 592.5 2240C596.8 2243.3 605.7 2248 610 2250C614.3 2252 623 2245 625 2255C627 2265 627.7 2314.7 625 2325C622.3 2335.3 611 2331.2 605 2332.5C599 2333.8 586.7 2335.3 580 2335C573.3 2334.7 561 2331.7 555 2330C549 2328.3 539.7 2322.2 535 2322.5C530.3 2322.8 524 2329.5 520 2332.5C516 2335.5 508.3 2342.7 505 2345C501.7 2347.3 497 2351.3 495 2350C493 2348.7 490 2339 490 2335C490 2331 492.3 2323.7 495 2320C497.7 2316.3 506 2310.5 510 2307.5C514 2304.5 522.3 2301.2 525 2297.5C527.7 2293.8 529 2285 530 2280C531 2275 532.8 2265.3 532.5 2260C532.2 2254.7 529.5 2245.3 527.5 2240C525.5 2234.7 519.3 2224.7 517.5 2220C515.7 2215.3 513.4 2208.7 513.8 2205Z" fill="#00CC00"/>
<ellipse cx="450" cy="2210" rx="10.5" ry="11.2" fill="#00CC00" transform="rotate(0 450 2210)"/>
<ellipse cx="458.8" cy="2236.2" rx="4.5" ry="4.5" fill="#00CC00" transform="rotate(0 458.8 2236.2)"/>
<ellipse cx="449.2" cy="2210" rx="10" ry="11.2" fill="#00CC00" transform="rotate(0 449.2 2210)"/>
<path d="M184.2 2460C184.2 2456.2 187 2450.8 190.5 2447.5C194 2444.2 199.7 2441.5 205.5 2440C211.3 2438.5 219.7 2437.9 225.5 2438.8C231.3 2439.6 236.8 2441.5 240.5 2445C244.2 2448.5 248 2455.4 248 2460C248 2464.6 244.7 2469.6 240.5 2472.5C236.3 2475.4 229.2 2476.9 223 2477.5C216.8 2478.1 208.4 2477.5 203 2476.2C197.6 2475 193.6 2472.7 190.5 2470C187.4 2467.3 184.2 2463.8 184.2 2460Z" fill="#00CC00"/>
<path d="M229.2 2167.5C230.3 2163.3 233.2 2156.7 238 2152.5C242.8 2148.3 252.2 2145.2 258 2142.5C263.8 2139.8 268.4 2135.8 273 2136.2C277.6 2136.7 281.3 2141 285.5 2145C289.7 2149 293.4 2155 298 2160C302.6 2165 310.1 2171.2 313 2175C315.9 2178.8 317.2 2179.6 315.5 2182.5C313.8 2185.4 308.4 2190.2 303 2192.5C297.6 2194.8 289.7 2196.7 283 2196.2C276.3 2195.8 269.7 2191.9 263 2190C256.3 2188.1 248.2 2187.1 243 2185C237.8 2182.9 234 2180.4 231.8 2177.5C229.5 2174.6 228.2 2171.7 229.2 2167.5Z" fill="#00FF00"/>
<path d="M105.5 2285C106.5 2280 109.2 2275 113 2272.5C116.8 2270 123.4 2268.8 128 2270C132.6 2271.2 137.4 2275 140.5 2280C143.6 2285 145.9 2293.3 146.8 2300C147.6 2306.7 147.4 2313.8 145.5 2320C143.6 2326.2 138 2331.7 135.5 2337.5C133 2343.3 132.6 2350.8 130.5 2355C128.4 2359.2 125.5 2364.2 123 2362.5C120.5 2360.8 117.2 2352.1 115.5 2345C113.8 2337.9 114.5 2327.1 113 2320C111.5 2312.9 108 2308.3 106.8 2302.5C105.5 2296.7 104.5 2290 105.5 2285Z" fill="#00FF00"/>
<path d="M370.5 2315C369 2309.2 372.2 2301.2 374.2 2295C376.3 2288.8 379 2282.1 383 2277.5C387 2272.9 392.6 2268.8 398 2267.5C403.4 2266.2 409.7 2267.9 415.5 2270C421.3 2272.1 428.4 2275.4 433 2280C437.6 2284.6 442.2 2291.2 443 2297.5C443.8 2303.8 441.3 2311.7 438 2317.5C434.7 2323.3 428.8 2329.2 423 2332.5C417.2 2335.8 409.7 2337.9 403 2337.5C396.3 2337.1 388.4 2333.8 383 2330C377.6 2326.2 372 2320.8 370.5 2315Z" fill="#00FF00"/>
<path d="M542.5 2270C545 2264.6 545.8 2258.3 550 2255C554.2 2251.7 561.2 2250 567.5 2250C573.8 2250 581.2 2252.9 587.5 2255C593.8 2257.1 598.8 2260 605 2262.5C611.2 2265 621.7 2260.4 625 2270C628.3 2279.6 629.2 2310.8 625 2320C620.8 2329.2 608.3 2324.6 600 2325C591.7 2325.4 582.5 2324.2 575 2322.5C567.5 2320.8 560.8 2317.9 555 2315C549.2 2312.1 543.3 2309.6 540 2305C536.7 2300.4 534.6 2293.3 535 2287.5C535.4 2281.7 540 2275.4 542.5 2270Z" fill="#00FF00"/>
<ellipse cx="510" cy="2332.5" rx="9.5" ry="10.5" fill="#00FF00" transform="rotate(0 510 2332.5)"/>
<path d="M193 2460C192.2 2457.1 196.8 2454.2 200.5 2452.5C204.2 2450.8 211.3 2449.2 215.5 2450C219.7 2450.8 224.7 2454.6 225.5 2457.5C226.3 2460.4 223.8 2465.4 220.5 2467.5C217.2 2469.6 210.1 2471.2 205.5 2470C200.9 2468.8 193.8 2462.9 193 2460Z" fill="#00FF00"/>
<ellipse cx="297.5" cy="2182.5" rx="2.5" ry="2.2" fill="#0000FF" transform="rotate(0 297.5 2182.5)"/>
<ellipse cx="399.2" cy="2302.5" rx="13.8" ry="16.2" fill="#0000FF" transform="rotate(0 399.2 2302.5)"/>
<path d="M538.8 2297.5C538.3 2292.5 541.5 2284.6 545 2280C548.5 2275.4 554.2 2272.5 560 2270C565.8 2267.5 573.3 2265.4 580 2265C586.7 2264.6 594.2 2265.8 600 2267.5C605.8 2269.2 610.8 2272.9 615 2275C619.2 2277.1 623.3 2274.6 625 2280C626.7 2285.4 628.3 2301.7 625 2307.5C621.7 2313.3 611.7 2313.1 605 2315C598.3 2316.9 591.7 2318.3 585 2318.8C578.3 2319.2 571.2 2319 565 2317.5C558.8 2316 551.9 2313.3 547.5 2310C543.1 2306.7 539.2 2302.5 538.8 2297.5Z" fill="#0000FF"/>
<path d="M551.2 2300C550.4 2296.5 554 2290.2 557.5 2286.2C561 2282.3 567.1 2278.3 572.5 2276.2C577.9 2274.2 584.6 2273.3 590 2273.8C595.4 2274.2 601 2276 605 2278.8C609 2281.5 612.5 2286 613.8 2290C615 2294 614.8 2299.2 612.5 2302.5C610.2 2305.8 605.4 2308.5 600 2310C594.6 2311.5 586.2 2311.7 580 2311.2C573.8 2310.8 567.3 2309.4 562.5 2307.5C557.7 2305.6 552.1 2303.5 551.2 2300Z" fill="#0099FF"/>
<ellipse cx="509.5" cy="2338.8" rx="2" ry="2" fill="#0000FF" transform="rotate(0 509.5 2338.8)"/>
<path d="M113 2207.5C112.6 2202.1 115.1 2197.1 118 2192.5C120.9 2187.9 125.9 2183.3 130.5 2180C135.1 2176.7 140.5 2172.9 145.5 2172.5C150.5 2172.1 156.3 2174.6 160.5 2177.5C164.7 2180.4 168 2185 170.5 2190C173 2195 175.1 2201.7 175.5 2207.5C175.9 2213.3 175.1 2220 173 2225C170.9 2230 166.8 2234.4 163 2237.5C159.2 2240.6 155.1 2243.8 150.5 2243.8C145.9 2243.8 140.5 2240.6 135.5 2237.5C130.5 2234.4 124.2 2230 120.5 2225C116.8 2220 113.4 2212.9 113 2207.5Z" fill="#FFFF00"/>
<ellipse cx="150.5" cy="2202.5" rx="13.8" ry="15" fill="#FF9900" transform="rotate(0 150.5 2202.5)"/>
<path d="M190.5 2262.5C190.8 2259.5 192.5 2254.5 195.5 2252.5C198.5 2250.5 207.3 2249.2 213 2247.5C218.7 2245.8 231.3 2242.3 238 2240C244.7 2237.7 256.3 2232.3 263 2230C269.7 2227.7 281.3 2223.8 288 2222.5C294.7 2221.2 307 2219.3 313 2220C319 2220.7 328.7 2224.8 333 2227.5C337.3 2230.2 343 2236 345.5 2240C348 2244 351.4 2252.8 351.8 2257.5C352.1 2262.2 349.8 2271 348 2275C346.2 2279 342 2284.8 338 2287.5C334 2290.2 324 2294.3 318 2295C312 2295.7 299.7 2292.2 293 2292.5C286.3 2292.8 274.7 2296.5 268 2297.5C261.3 2298.5 249.7 2300 243 2300C236.3 2300 223.7 2299.5 218 2297.5C212.3 2295.5 203.8 2288 200.5 2285C197.2 2282 194.3 2278 193 2275C191.7 2272 190.2 2265.5 190.5 2262.5Z" fill="#FFFF00"/>
<path d="M234.2 2272.5C234.2 2268.3 236.5 2264.2 240.5 2260C244.5 2255.8 251.8 2251.2 258 2247.5C264.2 2243.8 270.9 2240.4 278 2237.5C285.1 2234.6 293.4 2231.2 300.5 2230C307.6 2228.8 314.7 2228.5 320.5 2230C326.3 2231.5 331.5 2234.6 335.5 2238.8C339.5 2242.9 343.4 2249.4 344.2 2255C345.1 2260.6 343.2 2267.9 340.5 2272.5C337.8 2277.1 333.4 2280.4 328 2282.5C322.6 2284.6 314.7 2284.6 308 2285C301.3 2285.4 294.7 2284.2 288 2285C281.3 2285.8 274.2 2288.8 268 2290C261.8 2291.2 255.1 2293.3 250.5 2292.5C245.9 2291.7 243.2 2288.3 240.5 2285C237.8 2281.7 234.2 2276.7 234.2 2272.5Z" fill="#FF9900"/>
<path d="M269.2 2260C269.2 2256.7 272 2253.3 275.5 2250C279 2246.7 285.1 2242.5 290.5 2240C295.9 2237.5 302.2 2235 308 2235C313.8 2235 320.9 2237.1 325.5 2240C330.1 2242.9 333.8 2247.9 335.5 2252.5C337.2 2257.1 337.2 2263.3 335.5 2267.5C333.8 2271.7 330.1 2275.4 325.5 2277.5C320.9 2279.6 313.8 2280.4 308 2280C302.2 2279.6 295.9 2276.7 290.5 2275C285.1 2273.3 279 2272.5 275.5 2270C272 2267.5 269.2 2263.3 269.2 2260Z" fill="#FF0000"/>
<path d="M293 2260C293.2 2257.3 295.1 2252.7 298 2250C300.9 2247.3 306.3 2244.2 310.5 2243.8C314.7 2243.3 319.7 2245.2 323 2247.5C326.3 2249.8 329.7 2254.2 330.5 2257.5C331.3 2260.8 330.1 2265 328 2267.5C325.9 2270 321.8 2271.9 318 2272.5C314.2 2273.1 309 2272.3 305.5 2271.2C302 2270.2 298.8 2268.1 296.8 2266.2C294.7 2264.4 292.8 2262.7 293 2260Z" fill="#CC0000"/>
<ellipse cx="316.8" cy="2259.2" rx="8.8" ry="7" fill="#990000" transform="rotate(0 316.8 2259.2)"/>
<path d="M348 2127.5C347.2 2124.9 351 2119.8 353 2118.8C355 2117.8 363.2 2117.2 368 2117.5C372.8 2117.8 394.8 2120.6 400.5 2121.2C406.2 2121.9 421.5 2122.6 425.5 2123.8C429.5 2124.9 438.5 2130.1 440.5 2132.5C442.5 2134.9 445.2 2144 445.5 2147.5C445.8 2151 444.2 2163.5 443 2167.5C441.8 2171.5 435 2183.8 433 2187.5C431 2191.2 424.9 2201.5 423 2205C421.1 2208.5 416 2222.2 414.2 2222.5C412.5 2222.8 407.6 2211.2 405.5 2207.5C403.4 2203.8 395.8 2189.2 393 2185C390.2 2180.8 381.2 2169 378 2165C374.8 2161 363.5 2148.8 360.5 2145C357.5 2141.2 348.8 2130.1 348 2127.5Z" fill="#FFFF00"/>
<ellipse cx="413" cy="2180" rx="13.8" ry="21.2" fill="#FF9900" transform="rotate(-10 413 2180)"/>
<ellipse cx="418" cy="2233.8" rx="5" ry="7" fill="#FFFF00" transform="rotate(-20 418 2233.8)"/>
<path d="M160.5 2385C162.2 2379.7 163.2 2368.2 165.5 2362.5C167.8 2356.8 174 2346.8 178 2342.5C182 2338.2 191.2 2332.2 195.5 2330C199.8 2327.8 206.5 2325.9 210.5 2326.2C214.5 2326.6 221.5 2329.3 225.5 2332.5C229.5 2335.7 237.2 2345.3 240.5 2350C243.8 2354.7 248.2 2362.8 250.5 2367.5C252.8 2372.2 257.7 2380.3 258 2385C258.3 2389.7 255.3 2398.5 253 2402.5C250.7 2406.5 244.5 2412.3 240.5 2415C236.5 2417.7 228 2421.2 223 2422.5C218 2423.8 207.7 2424 203 2425C198.3 2426 191.3 2427.7 188 2430C184.7 2432.3 179.7 2438.5 178 2442.5C176.3 2446.5 174.8 2456 175.5 2460C176.2 2464 180.7 2468.5 183 2472.5C185.3 2476.5 205 2487.7 193 2490C181 2492.3 106.3 2496 93 2490C79.7 2484 91.7 2453 93 2445C94.3 2437 99.7 2433.3 103 2430C106.3 2426.7 113.3 2422.3 118 2420C122.7 2417.7 133.3 2414.8 138 2412.5C142.7 2410.2 150 2406.2 153 2402.5C156 2398.8 158.8 2390.3 160.5 2385Z" fill="#FFFF00"/>
<path d="M168 2385C170 2379.3 170.7 2370 173 2365C175.3 2360 181.8 2351 185.5 2347.5C189.2 2344 196.5 2339.9 200.5 2338.8C204.5 2337.6 211.5 2337.2 215.5 2338.8C219.5 2340.2 227.2 2346.2 230.5 2350C233.8 2353.8 238.5 2362.8 240.5 2367.5C242.5 2372.2 245.5 2380.7 245.5 2385C245.5 2389.3 242.8 2396.5 240.5 2400C238.2 2403.5 232 2408.9 228 2411.2C224 2413.6 215.2 2416.3 210.5 2417.5C205.8 2418.7 197.3 2419 193 2420C188.7 2421 181.3 2422.7 178 2425C174.7 2427.3 169.7 2433.2 168 2437.5C166.3 2441.8 164.8 2452.8 165.5 2457.5C166.2 2462.2 170.3 2468.2 173 2472.5C175.7 2476.8 196.2 2487.7 185.5 2490C174.8 2492.3 104.5 2495 93 2490C81.5 2485 97.6 2459.2 99.2 2452.5C100.9 2445.8 102.7 2443 105.5 2440C108.3 2437 115.8 2432.7 120.5 2430C125.2 2427.3 135.5 2423 140.5 2420C145.5 2417 154.3 2412.2 158 2407.5C161.7 2402.8 166 2390.7 168 2385Z" fill="#FF9900"/>
<ellipse cx="205" cy="2383.8" rx="33.2" ry="35.5" fill="#FF0000" transform="rotate(0 205 2383.8)"/>
<ellipse cx="205" cy="2383.8" rx="27.6" ry="29.5" fill="#CC0000" transform="rotate(0 205 2383.8)"/>
<ellipse cx="205" cy="2383.8" rx="22.6" ry="24.1" fill="#990000" transform="rotate(0 205 2383.8)"/>
<ellipse cx="205.5" cy="2388" rx="17.5" ry="17.5" fill="#FF00FF" transform="rotate(0 205.5 2388)"/>
<ellipse cx="205.5" cy="2388" rx="11.2" ry="11.2" fill="#9966CC" transform="rotate(0 205.5 2388)"/>
<ellipse cx="205.5" cy="2388" rx="5.6" ry="5.6" fill="#FFFFFF" transform="rotate(0 205.5 2388)"/>
<path d="M108 2470C108 2463.3 108.4 2456.2 110.5 2450C112.6 2443.8 116.3 2436.7 120.5 2432.5C124.7 2428.3 130.5 2425.4 135.5 2425C140.5 2424.6 146.8 2426.7 150.5 2430C154.2 2433.3 156.3 2439.6 158 2445C159.7 2450.4 158.4 2457.1 160.5 2462.5C162.6 2467.9 168 2472.9 170.5 2477.5C173 2482.1 185.5 2487.9 175.5 2490C165.5 2492.1 121.8 2493.3 110.5 2490C99.2 2486.7 108 2476.7 108 2470Z" fill="#FF0000"/>
<path d="M120.5 2457.5C120.1 2452.9 122 2446.7 124.2 2442.5C126.5 2438.3 130.9 2433.3 134.2 2432.5C137.6 2431.7 142 2434.2 144.2 2437.5C146.5 2440.8 147.6 2447.5 148 2452.5C148.4 2457.5 148.4 2463.8 146.8 2467.5C145.1 2471.2 141.3 2474.6 138 2475C134.7 2475.4 129.7 2472.9 126.8 2470C123.8 2467.1 120.9 2462.1 120.5 2457.5Z" fill="#CC0000"/>
<path d="M275.5 2420C276.8 2415.3 281.8 2405 285.5 2400C289.2 2395 297.7 2385.8 303 2382.5C308.3 2379.2 319.2 2376.2 325.5 2375C331.8 2373.8 343.8 2373.1 350.5 2373.8C357.2 2374.4 368.8 2377.5 375.5 2380C382.2 2382.5 394.2 2388.8 400.5 2392.5C406.8 2396.2 417.7 2402.8 423 2407.5C428.3 2412.2 437.2 2421.8 440.5 2427.5C443.8 2433.2 447.3 2444.3 448 2450C448.7 2455.7 446.5 2464.7 445.5 2470C444.5 2475.3 459.5 2487.3 440.5 2490C421.5 2492.7 323.3 2492.7 303 2490C282.7 2487.3 291 2475 288 2470C285 2465 282.2 2457.2 280.5 2452.5C278.8 2447.8 276.2 2439.3 275.5 2435C274.8 2430.7 274.2 2424.7 275.5 2420Z" fill="#FFFF00"/>
<path d="M298 2430C299.3 2424.7 304 2412.5 308 2407.5C312 2402.5 322 2395.3 328 2392.5C334 2389.7 346.3 2386.6 353 2386.2C359.7 2385.9 371.7 2387.8 378 2390C384.3 2392.2 394.8 2398.5 400.5 2402.5C406.2 2406.5 416.2 2415 420.5 2420C424.8 2425 431 2434.3 433 2440C435 2445.7 435.8 2455.8 435.5 2462.5C435.2 2469.2 446.8 2486.3 430.5 2490C414.2 2493.7 330 2493.3 313 2490C296 2486.7 305 2470.7 303 2465C301 2459.3 298.7 2452.2 298 2447.5C297.3 2442.8 296.7 2435.3 298 2430Z" fill="#FF9900"/>
<ellipse cx="368.5" cy="2448.8" rx="54.2" ry="51.2" fill="#FF0000" transform="rotate(0 368.5 2448.8)"/>
<ellipse cx="371.8" cy="2450" rx="43.8" ry="40.5" fill="#CC0000" transform="rotate(0 371.8 2450)"/>
<ellipse cx="373.5" cy="2450.5" rx="34.2" ry="32" fill="#990000" transform="rotate(0 373.5 2450.5)"/>
<ellipse cx="374.2" cy="2450.8" rx="25" ry="24.5" fill="#FF00FF" transform="rotate(0 374.2 2450.8)"/>
<ellipse cx="374.2" cy="2450.8" rx="17.5" ry="17.1" fill="#9966CC" transform="rotate(0 374.2 2450.8)"/>
<ellipse cx="374.2" cy="2450.8" rx="8.8" ry="8.6" fill="#FFFFFF" transform="rotate(0 374.2 2450.8)"/>
<path d="M490 2385C490.3 2381.3 492.7 2373.7 495 2370C497.3 2366.3 504.2 2360.5 507.5 2357.5C510.8 2354.5 516.7 2350 520 2347.5C523.3 2345 528.8 2339.6 532.5 2338.8C536.2 2337.9 543.5 2340.2 547.5 2341.2C551.5 2342.2 558.2 2346.1 562.5 2346.2C566.8 2346.4 575 2343.5 580 2342.5C585 2341.5 594 2339.4 600 2338.8C606 2338.1 621.7 2326 625 2337.5C628.3 2349 628.3 2413 625 2425C621.7 2437 606.3 2427 600 2427.5C593.7 2428 583.5 2428.4 577.5 2428.8C571.5 2429.1 561 2430 555 2430C549 2430 537.8 2429.8 532.5 2428.8C527.2 2427.8 519.3 2425 515 2422.5C510.7 2420 503 2413.3 500 2410C497 2406.7 493.8 2400.8 492.5 2397.5C491.2 2394.2 489.7 2388.7 490 2385Z" fill="#FFFF00"/>
<path d="M510 2385C510.3 2381.3 513 2371.8 515 2367.5C517 2363.2 522.3 2355.7 525 2352.5C527.7 2349.3 531.7 2344.4 535 2343.8C538.3 2343.1 546 2346.5 550 2347.5C554 2348.5 560.7 2351.2 565 2351.2C569.3 2351.2 577.5 2348.5 582.5 2347.5C587.5 2346.5 596.8 2344.4 602.5 2343.8C608.2 2343.1 622 2333.3 625 2342.5C628 2351.7 628.3 2402.7 625 2412.5C621.7 2422.3 606.3 2415.6 600 2416.2C593.7 2416.9 583.5 2417.3 577.5 2417.5C571.5 2417.7 560.3 2418.2 555 2417.5C549.7 2416.8 541.8 2414.5 537.5 2412.5C533.2 2410.5 525.8 2404.8 522.5 2402.5C519.2 2400.2 514.2 2397.3 512.5 2395C510.8 2392.7 509.7 2388.7 510 2385Z" fill="#FF9900"/>
<path d="M521.2 2380C520.9 2376.3 523.5 2366.7 525 2362.5C526.5 2358.3 529.8 2350.2 532.5 2348.8C535.2 2347.2 541 2350.4 545 2351.2C549 2352.1 557.5 2355.2 562.5 2355C567.5 2354.8 577.2 2351.2 582.5 2350C587.8 2348.8 596.8 2346.6 602.5 2346.2C608.2 2345.9 622 2340 625 2347.5C628 2355 628.3 2394.8 625 2402.5C621.7 2410.2 606.3 2404.5 600 2405C593.7 2405.5 583.5 2406.2 577.5 2406.2C571.5 2406.2 560 2406.2 555 2405C550 2403.8 543.7 2399.5 540 2397.5C536.3 2395.5 530 2392.3 527.5 2390C525 2387.7 521.6 2383.7 521.2 2380Z" fill="#FF0000"/>
<path d="M527.5 2372.5C527.7 2369.7 530.2 2360.8 532.5 2358.8C534.8 2356.8 541 2357.3 545 2357.5C549 2357.7 557.5 2360.7 562.5 2360C567.5 2359.3 576.8 2353.8 582.5 2352.5C588.2 2351.2 599.3 2350 605 2350C610.7 2350 622.3 2347.2 625 2352.5C627.7 2357.8 628 2384.7 625 2390C622 2395.3 608.5 2391.8 602.5 2392.5C596.5 2393.2 585.7 2395 580 2395C574.3 2395 565 2393.8 560 2392.5C555 2391.2 546.3 2386.7 542.5 2385C538.7 2383.3 533.2 2381.7 531.2 2380C529.2 2378.3 527.3 2375.3 527.5 2372.5Z" fill="#CC0000"/>
<path d="M567.5 2375C567.3 2372.1 571.2 2368.1 575 2365C578.8 2361.9 585 2357.9 590 2356.2C595 2354.6 601.7 2354 605 2355C608.3 2356 610.4 2359.6 610 2362.5C609.6 2365.4 605.8 2369.6 602.5 2372.5C599.2 2375.4 594.4 2378.3 590 2380C585.6 2381.7 580 2383.3 576.2 2382.5C572.5 2381.7 567.7 2377.9 567.5 2375Z" fill="#990000"/>
</g>
<use href="#ol" class="ol" transform="translate(97.8 2112.9) scale(1.0121 0.9849)"/>
<path d="M85.5 2111.5H97.5M85.5 2134.7H97.5M85.5 2157.9H97.5M85.5 2181.2H97.5M85.5 2204.4H97.5M85.5 2227.6H97.5M85.5 2250.8H97.5M85.5 2274H97.5M85.5 2297.2H97.5M85.5 2320.5H97.5M85.5 2343.7H97.5M85.5 2366.9H97.5M85.5 2390.1H97.5M85.5 2413.3H97.5M85.5 2436.6H97.5M85.5 2459.8H97.5M85.5 2483H97.5M103.5 2483V2495M135.7 2483V2495M167.8 2483V2495M200 2483V2495M232.1 2483V2495M264.3 2483V2495M296.4 2483V2495M328.6 2483V2495M360.8 2483V2495M392.9 2483V2495M425.1 2483V2495M457.2 2483V2495M489.4 2483V2495M521.5 2483V2495M553.7 2483V2495M585.8 2483V2495M618 2483V2495" stroke="#7f7f7f" stroke-width="2" fill="none"/>
<path d="M97.5 2110.5V2483H619" stroke="#9a9a9a" stroke-width="2" fill="none"/>
<text x="79" y="2118.7" class="e">52.06</text>
<text x="79" y="2165.1" class="e">52.04</text>
<text x="79" y="2211.6" class="e">52.03</text>
<text x="79" y="2258" class="e">52.01</text>
<text x="79" y="2304.4" class="e">52.00</text>
<text x="79" y="2350.9" class="e">51.98</text>
<text x="79" y="2397.3" class="e">51.96</text>
<text x="79" y="2443.8" class="e">51.95</text>
<text x="79" y="2490.2" class="e">51.93</text>
<text x="103.5" y="2518.7" class="m">22.45</text>
<text x="167.8" y="2518.7" class="m">22.47</text>
<text x="232.1" y="2518.7" class="m">22.50</text>
<text x="296.4" y="2518.7" class="m">22.52</text>
<text x="360.8" y="2518.7" class="m">22.54</text>
<text x="425.1" y="2518.7" class="m">22.57</text>
<text x="489.4" y="2518.7" class="m">22.59</text>
<text x="553.7" y="2518.7" class="m">22.61</text>
<text x="618" y="2518.7" class="m">22.63</text>
<text x="356" y="2547.2" class="m">Longitude (°)</text>
<text x="18.2" y="2298" class="m" transform="rotate(-90 18.2 2298)">Latitude (°)</text>
<rect x="627.5" y="2177.5" width="20" height="21.8" fill="#9966CC"/>
<rect x="627.5" y="2199" width="20" height="21.8" fill="#FF00FF"/>
<rect x="627.5" y="2220.4" width="20" height="21.8" fill="#990000"/>
<rect x="627.5" y="2241.9" width="20" height="21.8" fill="#CC0000"/>
<rect x="627.5" y="2263.3" width="20" height="21.8" fill="#FF0000"/>
<rect x="627.5" y="2284.8" width="20" height="21.8" fill="#FF9900"/>
<rect x="627.5" y="2306.3" width="20" height="21.8" fill="#FFFF00"/>
<rect x="627.5" y="2327.7" width="20" height="21.8" fill="#006600"/>
<rect x="627.5" y="2349.2" width="20" height="21.8" fill="#009900"/>
<rect x="627.5" y="2370.6" width="20" height="21.8" fill="#00CC00"/>
<rect x="627.5" y="2392.1" width="20" height="21.8" fill="#00FF00"/>
<rect x="627.5" y="2413.6" width="20" height="21.8" fill="#0000FF"/>
<rect x="627.5" y="2435" width="20" height="21.8" fill="#0099FF"/>
<rect x="627.5" y="2456.5" width="20" height="21.8" fill="#00CCFF"/>
<text x="660" y="2161.9" style="font-size:19.5px">0.330</text>
<text x="660" y="2183.3" style="font-size:19.5px">0.308</text>
<text x="660" y="2204.8" style="font-size:19.5px">0.286</text>
<text x="660" y="2226.2" style="font-size:19.5px">0.264</text>
<text x="660" y="2247.7" style="font-size:19.5px">0.242</text>
<text x="660" y="2269.2" style="font-size:19.5px">0.220</text>
<text x="660" y="2290.6" style="font-size:19.5px">0.198</text>
<text x="660" y="2312.1" style="font-size:19.5px">0.176</text>
<text x="660" y="2333.5" style="font-size:19.5px">0.154</text>
<text x="660" y="2355" style="font-size:19.5px">0.132</text>
<text x="660" y="2376.5" style="font-size:19.5px">0.110</text>
<text x="660" y="2397.9" style="font-size:19.5px">0.088</text>
<text x="660" y="2419.4" style="font-size:19.5px">0.066</text>
<text x="660" y="2440.8" style="font-size:19.5px">0.044</text>
<text x="660" y="2462.3" style="font-size:19.5px">0.022</text>
<text x="660" y="2483.8" style="font-size:19.5px">0.000</text>
<text x="645" y="2115" class="s" style="font-size:22px">WC<tspan dy="4" style="font-size:14px">grav</tspan></text>
<text x="642.5" y="2140" class="s" style="font-size:20.5px">(m<tspan dy="-6" style="font-size:12px">3</tspan><tspan dy="6"> m</tspan><tspan dy="-6" style="font-size:12px">−3</tspan><tspan dy="6">)</tspan></text>
</g>
<g id="p10">
<clipPath id="c10"><rect x="881.5" y="2102.5" width="522.5" height="369"/></clipPath>
<g clip-path="url(#c10)">
<rect x="881.5" y="2102.5" width="522.5" height="369" fill="#009900"/>
<path d="M877 2237C880.3 2214.7 896 2239.5 902 2239.5C908 2239.5 916.7 2238 922 2237C927.3 2236 937.3 2234.3 942 2232C946.7 2229.7 953.7 2224.2 957 2219.5C960.3 2214.8 965 2204 967 2197C969 2190 970.7 2175 972 2167C973.3 2159 975.7 2144 977 2137C978.3 2130 980.7 2119.8 982 2114.5C983.3 2109.2 968 2099.3 987 2097C1006 2094.7 1105.2 2093.7 1124.5 2097C1143.8 2100.3 1130.8 2116 1132 2122C1133.2 2128 1134.6 2136.7 1133.2 2142C1131.9 2147.3 1125.8 2157 1122 2162C1118.2 2167 1109.2 2174.8 1104.5 2179.5C1099.8 2184.2 1091.3 2192.3 1087 2197C1082.7 2201.7 1076 2210.8 1072 2214.5C1068 2218.2 1060.3 2223.8 1057 2224.5C1053.7 2225.2 1049.7 2221.5 1047 2219.5C1044.3 2217.5 1040.3 2211.3 1037 2209.5C1033.7 2207.7 1026 2205.4 1022 2205.8C1018 2206.1 1011.3 2209.5 1007 2212C1002.7 2214.5 993.5 2220.8 989.5 2224.5C985.5 2228.2 979.3 2235.2 977 2239.5C974.7 2243.8 972.8 2251.3 972 2257C971.2 2262.7 970.4 2276 970.8 2282C971.1 2288 973.3 2297.3 974.5 2302C975.7 2306.7 980.5 2312.3 979.5 2317C978.5 2321.7 970.3 2331.3 967 2337C963.7 2342.7 957.5 2354.5 954.5 2359.5C951.5 2364.5 947.8 2372.5 944.5 2374.5C941.2 2376.5 934.2 2373.8 929.5 2374.5C924.8 2375.2 914.5 2376.8 909.5 2379.5C904.5 2382.2 896.3 2390.8 892 2394.5C887.7 2398.2 879 2428 877 2407C875 2386 873.7 2259.3 877 2237Z" fill="#00CC00"/>
<path d="M877 2137C879.1 2121.2 885.8 2126.2 889.5 2122C893.2 2117.8 896.2 2114.1 899.5 2112C902.8 2109.9 906.8 2108.2 909.5 2109.5C912.2 2110.8 914.9 2114.9 915.8 2119.5C916.6 2124.1 916 2129.9 914.5 2137C913 2144.1 909.9 2153.7 907 2162C904.1 2170.3 900.3 2179.5 897 2187C893.7 2194.5 890.3 2202 887 2207C883.7 2212 878.7 2228.7 877 2217C875.3 2205.3 874.9 2152.8 877 2137Z" fill="#00CC00"/>
<path d="M1062 2332C1061.7 2327.7 1063.2 2316.3 1064.5 2312C1065.8 2307.7 1069.3 2301.5 1072 2299.5C1074.7 2297.5 1081.2 2296 1084.5 2297C1087.8 2298 1093.3 2306 1097 2307C1100.7 2308 1107.7 2306.5 1112 2304.5C1116.3 2302.5 1125.2 2296 1129.5 2292C1133.8 2288 1141.2 2279.2 1144.5 2274.5C1147.8 2269.8 1151.5 2260.3 1154.5 2257C1157.5 2253.7 1163 2250.2 1167 2249.5C1171 2248.8 1180.2 2251.3 1184.5 2252C1188.8 2252.7 1195.5 2255.2 1199.5 2254.5C1203.5 2253.8 1210.8 2248.3 1214.5 2247C1218.2 2245.7 1224 2243.2 1227 2244.5C1230 2245.8 1234.6 2252.7 1237 2257C1239.4 2261.3 1243.9 2271 1245 2277C1246.1 2283 1245.7 2296 1245 2302C1244.3 2308 1241.7 2317 1240 2322C1238.3 2327 1235.2 2335.5 1232.5 2339.5C1229.8 2343.5 1224 2349.7 1220 2352C1216 2354.3 1207.2 2357.3 1202.5 2357C1197.8 2356.7 1190 2350.5 1185 2349.5C1180 2348.5 1170.3 2348.8 1165 2349.5C1159.7 2350.2 1150.7 2352.8 1145 2354.5C1139.3 2356.2 1128.4 2360.7 1122 2362C1115.6 2363.3 1103 2365.2 1097 2364.5C1091 2363.8 1081 2359.7 1077 2357C1073 2354.3 1069 2347.8 1067 2344.5C1065 2341.2 1062.3 2336.3 1062 2332Z" fill="#00CC00"/>
<path d="M1143.2 2162C1142.8 2156.6 1144.7 2154.5 1147 2152C1149.3 2149.5 1154.1 2146.6 1157 2147C1159.9 2147.4 1162.8 2150.3 1164.5 2154.5C1166.2 2158.7 1166.8 2165.8 1167 2172C1167.2 2178.2 1167 2185.8 1165.8 2192C1164.5 2198.2 1161.6 2207.8 1159.5 2209.5C1157.4 2211.2 1154.9 2206.2 1153.2 2202C1151.6 2197.8 1151.2 2191.2 1149.5 2184.5C1147.8 2177.8 1143.7 2167.4 1143.2 2162Z" fill="#00CC00"/>
<path d="M1267.5 2287C1268.2 2281 1272.7 2272.3 1275 2267C1277.3 2261.7 1282.3 2253 1285 2247C1287.7 2241 1293 2228.7 1295 2222C1297 2215.3 1298.3 2204.3 1300 2197C1301.7 2189.7 1305.5 2173.7 1307.5 2167C1309.5 2160.3 1312.3 2150.8 1315 2147C1317.7 2143.2 1324.2 2138.9 1327.5 2138.2C1330.8 2137.6 1337 2139.5 1340 2142C1343 2144.5 1348 2152.3 1350 2157C1352 2161.7 1353 2172.3 1355 2177C1357 2181.7 1361.7 2189 1365 2192C1368.3 2195 1374 2198.2 1380 2199.5C1386 2200.8 1406 2188.3 1410 2202C1414 2215.7 1413.3 2287 1410 2302C1406.7 2317 1391 2311.5 1385 2314.5C1379 2317.5 1369.7 2322.5 1365 2324.5C1360.3 2326.5 1354 2329.2 1350 2329.5C1346 2329.8 1339 2328.7 1335 2327C1331 2325.3 1324 2318 1320 2317C1316 2316 1309 2318.2 1305 2319.5C1301 2320.8 1294 2325.3 1290 2327C1286 2328.7 1277.7 2334 1275 2332C1272.3 2330 1271 2318 1270 2312C1269 2306 1266.8 2293 1267.5 2287Z" fill="#00CC00"/>
<path d="M997 2154.5C996.6 2149.5 997.4 2142.8 999.5 2137C1001.6 2131.2 1005.8 2124.5 1009.5 2119.5C1013.2 2114.5 1017.8 2110.8 1022 2107C1026.2 2103.2 1027 2098.7 1034.5 2097C1042 2095.3 1061.2 2092.8 1067 2097C1072.8 2101.2 1069.5 2114.5 1069.5 2122C1069.5 2129.5 1069.1 2136.6 1067 2142C1064.9 2147.4 1061.2 2151.2 1057 2154.5C1052.8 2157.8 1047 2159.5 1042 2162C1037 2164.5 1032 2167.4 1027 2169.5C1022 2171.6 1016.2 2174.9 1012 2174.5C1007.8 2174.1 1004.5 2170.3 1002 2167C999.5 2163.7 997.4 2159.5 997 2154.5Z" fill="#00FF00"/>
<ellipse cx="1079.5" cy="2162.5" rx="9.5" ry="13.8" fill="#00FF00" transform="rotate(0 1079.5 2162.5)"/>
<path d="M894.5 2297C896.6 2288.7 898.9 2282.4 902 2277C905.1 2271.6 909.1 2265.3 913.2 2264.5C917.4 2263.7 923 2267.8 927 2272C931 2276.2 934.5 2283.7 937 2289.5C939.5 2295.3 942 2301.2 942 2307C942 2312.8 939.5 2318.7 937 2324.5C934.5 2330.3 931.2 2337 927 2342C922.8 2347 916.6 2351.6 912 2354.5C907.4 2357.4 903.7 2360.8 899.5 2359.5C895.3 2358.2 888.7 2352.4 887 2347C885.3 2341.6 888.2 2335.3 889.5 2327C890.8 2318.7 892.4 2305.3 894.5 2297Z" fill="#00FF00"/>
<path d="M1159.5 2294.5C1159.5 2290.3 1164.1 2283 1167 2279.5C1169.9 2276 1173.7 2273.5 1177 2273.2C1180.3 2273 1183.2 2277.2 1187 2278.2C1190.8 2279.3 1194.9 2280.1 1199.5 2279.5C1204.1 2278.9 1209.9 2274.5 1214.5 2274.5C1219.1 2274.5 1224.1 2276.2 1227 2279.5C1229.9 2282.8 1232.4 2289.5 1232 2294.5C1231.6 2299.5 1227.4 2304.5 1224.5 2309.5C1221.6 2314.5 1217.4 2319.5 1214.5 2324.5C1211.6 2329.5 1209.5 2338.2 1207 2339.5C1204.5 2340.8 1201.2 2335.8 1199.5 2332C1197.8 2328.2 1199.9 2320.3 1197 2317C1194.1 2313.7 1187 2314.1 1182 2312C1177 2309.9 1170.8 2307.4 1167 2304.5C1163.2 2301.6 1159.5 2298.7 1159.5 2294.5Z" fill="#00FF00"/>
<path d="M1290 2289.5C1289.6 2284.5 1292.9 2278.2 1295 2272C1297.1 2265.8 1300 2258.7 1302.5 2252C1305 2245.3 1307.5 2237.8 1310 2232C1312.5 2226.2 1314.2 2219.1 1317.5 2217C1320.8 2214.9 1325.4 2217.8 1330 2219.5C1334.6 2221.2 1339.6 2224.9 1345 2227C1350.4 2229.1 1356.7 2231.2 1362.5 2232C1368.3 2232.8 1374.6 2231.2 1380 2232C1385.4 2232.8 1390 2235.3 1395 2237C1400 2238.7 1407.5 2232 1410 2242C1412.5 2252 1413.3 2286.6 1410 2297C1406.7 2307.4 1396.7 2302 1390 2304.5C1383.3 2307 1376.7 2311.2 1370 2312C1363.3 2312.8 1356.7 2310.3 1350 2309.5C1343.3 2308.7 1336.2 2307.8 1330 2307C1323.8 2306.2 1317.9 2305.3 1312.5 2304.5C1307.1 2303.7 1301.2 2304.5 1297.5 2302C1293.8 2299.5 1290.4 2294.5 1290 2289.5Z" fill="#00FF00"/>
<path d="M977 2452C977.2 2450.1 981.6 2449.5 983.2 2450.8C984.9 2452 984.7 2457.2 987 2459.5C989.3 2461.8 994.1 2462.4 997 2464.5C999.9 2466.6 1006.6 2470.8 1004.5 2472C1002.4 2473.2 988.2 2473.7 984.5 2472C980.8 2470.3 983.2 2465.3 982 2462C980.8 2458.7 976.8 2453.9 977 2452Z" fill="#00FF00"/>
<ellipse cx="939" cy="2178.2" rx="14.5" ry="30" fill="#006600" transform="rotate(10 939 2178.2)"/>
<ellipse cx="1108.2" cy="2244.5" rx="25" ry="40" fill="#006600" transform="rotate(15 1108.2 2244.5)"/>
<ellipse cx="1204.5" cy="2177" rx="22" ry="61.2" fill="#006600" transform="rotate(8 1204.5 2177)"/>
<ellipse cx="1261.2" cy="2218.2" rx="16.2" ry="30" fill="#006600" transform="rotate(8 1261.2 2218.2)"/>
<path d="M877 2477C834.3 2469 875 2427.3 877 2417C879 2406.7 887.7 2403.8 892 2399.5C896.3 2395.2 904.5 2387.2 909.5 2384.5C914.5 2381.8 924.8 2380.2 929.5 2379.5C934.2 2378.8 941.2 2381.5 944.5 2379.5C947.8 2377.5 951.5 2369.8 954.5 2364.5C957.5 2359.2 963.3 2346.5 967 2339.5C970.7 2332.5 978 2318.3 982 2312C986 2305.7 993.3 2295.3 997 2292C1000.7 2288.7 1006.5 2286.3 1009.5 2287C1012.5 2287.7 1016.5 2293 1019.5 2297C1022.5 2301 1029 2311.7 1032 2317C1035 2322.3 1040.3 2331 1042 2337C1043.7 2343 1044.2 2355.3 1044.5 2362C1044.8 2368.7 1044.8 2381.7 1044.5 2387C1044.2 2392.3 1040.3 2400.7 1042 2402C1043.7 2403.3 1053 2398 1057 2397C1061 2396 1067.7 2393.8 1072 2394.5C1076.3 2395.2 1085.2 2400.3 1089.5 2402C1093.8 2403.7 1100.8 2407.7 1104.5 2407C1108.2 2406.3 1113.3 2400.3 1117 2397C1120.7 2393.7 1128 2385.7 1132 2382C1136 2378.3 1143 2372 1147 2369.5C1151 2367 1157.7 2363.6 1162 2363.2C1166.3 2362.9 1175.2 2364.8 1179.5 2367C1183.8 2369.2 1190.8 2375.8 1194.5 2379.5C1198.2 2383.2 1204.3 2390.2 1207 2394.5C1209.7 2398.8 1213.5 2407 1214.5 2412C1215.5 2417 1215.5 2426.7 1214.5 2432C1213.5 2437.3 1209.3 2446 1207 2452C1204.7 2458 1241 2473.7 1197 2477C1153 2480.3 919.7 2485 877 2477Z" fill="#006600"/>
<path d="M949.5 2477C926.2 2473.2 954.9 2460.3 959.5 2454.5C964.1 2448.7 970.8 2446.2 977 2442C983.2 2437.8 990.3 2433.2 997 2429.5C1003.7 2425.8 1011.2 2422.4 1017 2419.5C1022.8 2416.6 1027.8 2414.1 1032 2412C1036.2 2409.9 1039.9 2405.3 1042 2407C1044.1 2408.7 1043.7 2415.8 1044.5 2422C1045.3 2428.2 1045.8 2438.7 1047 2444.5C1048.2 2450.3 1048.7 2454.1 1052 2457C1055.3 2459.9 1061.6 2461.8 1067 2462C1072.4 2462.2 1079.5 2457.4 1084.5 2458.2C1089.5 2459.1 1094.5 2463.9 1097 2467C1099.5 2470.1 1124.1 2475.3 1099.5 2477C1074.9 2478.7 972.8 2480.8 949.5 2477Z" fill="#009900"/>
<path d="M1272.5 2407C1272.5 2401.7 1273.3 2388.3 1275 2382C1276.7 2375.7 1281.7 2365.2 1285 2359.5C1288.3 2353.8 1296.3 2343.7 1300 2339.5C1303.7 2335.3 1309.2 2329.9 1312.5 2328.2C1315.8 2326.6 1322 2325.8 1325 2327C1328 2328.2 1332.3 2335 1335 2337C1337.7 2339 1341.7 2342.3 1345 2342C1348.3 2341.7 1355.3 2336.8 1360 2334.5C1364.7 2332.2 1373.3 2327.2 1380 2324.5C1386.7 2321.8 1406 2302.5 1410 2314.5C1414 2326.5 1412.7 2399.5 1410 2414.5C1407.3 2429.5 1395 2424 1390 2427C1385 2430 1377.2 2435.3 1372.5 2437C1367.8 2438.7 1360 2439.8 1355 2439.5C1350 2439.2 1340.3 2435.5 1335 2434.5C1329.7 2433.5 1320 2431.7 1315 2432C1310 2432.3 1301.8 2437 1297.5 2437C1293.2 2437 1285.5 2434 1282.5 2432C1279.5 2430 1276.3 2425.3 1275 2422C1273.7 2418.7 1272.5 2412.3 1272.5 2407Z" fill="#006600"/>
<path d="M1332.5 2284.5C1332.7 2281.2 1334.6 2275.5 1337.5 2272C1340.4 2268.5 1345 2265.8 1350 2263.2C1355 2260.8 1362.1 2257.6 1367.5 2257C1372.9 2256.4 1379.2 2257.4 1382.5 2259.5C1385.8 2261.6 1387.1 2266.2 1387.5 2269.5C1387.9 2272.8 1387.5 2276.6 1385 2279.5C1382.5 2282.4 1377.1 2284.9 1372.5 2287C1367.9 2289.1 1362.1 2290.5 1357.5 2292C1352.9 2293.5 1348.5 2295.8 1345 2295.8C1341.5 2295.8 1338.3 2293.9 1336.2 2292C1334.2 2290.1 1332.3 2287.8 1332.5 2284.5Z" fill="#0000FF"/>
<ellipse cx="1107.5" cy="2249" rx="8.8" ry="14.5" fill="#FFFF00" transform="rotate(20 1107.5 2249)"/>
<ellipse cx="1202" cy="2182.5" rx="6.2" ry="12.5" fill="#FFFF00" transform="rotate(15 1202 2182.5)"/>
<path d="M897 2449.5C896.7 2445.2 898.2 2436.7 899.5 2432C900.8 2427.3 904.7 2418.2 907 2414.5C909.3 2410.8 913.7 2406.3 917 2404.5C920.3 2402.7 928.3 2400.9 932 2400.8C935.7 2400.6 941.5 2404.4 944.5 2403.2C947.5 2402.1 951.8 2396.2 954.5 2392C957.2 2387.8 961.5 2378 964.5 2372C967.5 2366 973.7 2353 977 2347C980.3 2341 986.2 2331 989.5 2327C992.8 2323 999 2318.5 1002 2317C1005 2315.5 1009.3 2314.8 1012 2315.8C1014.7 2316.8 1019.8 2321.3 1022 2324.5C1024.2 2327.7 1027.1 2334.8 1028.2 2339.5C1029.4 2344.2 1030.9 2354.2 1030.8 2359.5C1030.6 2364.8 1028.8 2374.5 1027 2379.5C1025.2 2384.5 1020.3 2393 1017 2397C1013.7 2401 1006.3 2406.8 1002 2409.5C997.7 2412.2 989.2 2415.5 984.5 2417C979.8 2418.5 971.3 2419.8 967 2420.8C962.7 2421.8 955 2422.7 952 2424.5C949 2426.3 946.5 2431.5 944.5 2434.5C942.5 2437.5 939.7 2443.7 937 2447C934.3 2450.3 927.8 2456.7 924.5 2459.5C921.2 2462.3 915 2467.6 912 2468.2C909 2468.9 904 2467 902 2464.5C900 2462 897.3 2453.8 897 2449.5Z" fill="#FFFF00"/>
<path d="M970.8 2387C971 2381.6 973 2373.7 975.8 2367C978.5 2360.3 983 2352.2 987 2347C991 2341.8 995.8 2337.4 999.5 2335.8C1003.2 2334.1 1006.6 2334.7 1009.5 2337C1012.4 2339.3 1015.5 2344.5 1017 2349.5C1018.5 2354.5 1019.1 2361.2 1018.2 2367C1017.4 2372.8 1015.1 2379.3 1012 2384.5C1008.9 2389.7 1004.1 2394.9 999.5 2398.2C994.9 2401.6 988.7 2404.3 984.5 2404.5C980.3 2404.7 976.8 2402.4 974.5 2399.5C972.2 2396.6 970.5 2392.4 970.8 2387Z" fill="#FF9900"/>
<ellipse cx="992" cy="2377" rx="8.2" ry="14.5" fill="#FF0000" transform="rotate(25 992 2377)"/>
<path d="M1119.5 2477C1109.1 2472 1120.8 2455.8 1122 2447C1123.2 2438.2 1124.5 2432 1127 2424.5C1129.5 2417 1133.2 2408.5 1137 2402C1140.8 2395.5 1145.3 2389.5 1149.5 2385.8C1153.7 2382 1157.8 2379.7 1162 2379.5C1166.2 2379.3 1170.8 2381.2 1174.5 2384.5C1178.2 2387.8 1181.6 2393.7 1184.5 2399.5C1187.4 2405.3 1190.3 2412.4 1192 2419.5C1193.7 2426.6 1194.9 2434.9 1194.5 2442C1194.1 2449.1 1191.2 2456.2 1189.5 2462C1187.8 2467.8 1196.2 2474.5 1184.5 2477C1172.8 2479.5 1129.9 2482 1119.5 2477Z" fill="#FFFF00"/>
<path d="M1135.8 2477C1130.5 2472.8 1134.9 2459.9 1135.8 2452C1136.6 2444.1 1138.5 2436.6 1140.8 2429.5C1143 2422.4 1146 2414.3 1149.5 2409.5C1153 2404.7 1158.2 2401.2 1162 2400.8C1165.8 2400.3 1169.1 2403 1172 2407C1174.9 2411 1178 2418.2 1179.5 2424.5C1181 2430.8 1181.6 2438.2 1180.8 2444.5C1179.9 2450.8 1176.8 2456.6 1174.5 2462C1172.2 2467.4 1173.5 2474.5 1167 2477C1160.5 2479.5 1141 2481.2 1135.8 2477Z" fill="#FF9900"/>
<ellipse cx="1159.5" cy="2439.5" rx="9" ry="16.2" fill="#FF0000" transform="rotate(10 1159.5 2439.5)"/>
<path d="M1295 2394.5C1294.3 2390.2 1296.2 2377.7 1297.5 2372C1298.8 2366.3 1302.7 2356.3 1305 2352C1307.3 2347.7 1312.7 2341.5 1315 2339.5C1317.3 2337.5 1320.5 2336.3 1322.5 2337C1324.5 2337.7 1327.7 2342.2 1330 2344.5C1332.3 2346.8 1337 2353.8 1340 2354.5C1343 2355.2 1348.8 2351.5 1352.5 2349.5C1356.2 2347.5 1363.2 2341.7 1367.5 2339.5C1371.8 2337.3 1379.3 2334.2 1385 2333.2C1390.7 2332.2 1406.7 2325.5 1410 2332C1413.3 2338.5 1412 2373.7 1410 2382C1408 2390.3 1399 2391.8 1395 2394.5C1391 2397.2 1384.3 2400.7 1380 2402C1375.7 2403.3 1367.2 2404.3 1362.5 2404.5C1357.8 2404.7 1349.3 2403.2 1345 2403.2C1340.7 2403.2 1334 2404 1330 2404.5C1326 2405 1318.7 2407 1315 2407C1311.3 2407 1305.2 2406.2 1302.5 2404.5C1299.8 2402.8 1295.7 2398.8 1295 2394.5Z" fill="#FFFF00"/>
<ellipse cx="1379.5" cy="2359.5" rx="9.5" ry="14.5" fill="#FF9900" transform="rotate(0 1379.5 2359.5)"/>
</g>
<use href="#ol" class="ol" transform="translate(877.9 2106.8) scale(1.0251 0.9833)"/>
<path d="M869.5 2104H881.5M869.5 2127.2H881.5M869.5 2150.4H881.5M869.5 2173.7H881.5M869.5 2196.9H881.5M869.5 2220.1H881.5M869.5 2243.3H881.5M869.5 2266.5H881.5M869.5 2289.8H881.5M869.5 2313H881.5M869.5 2336.2H881.5M869.5 2359.4H881.5M869.5 2382.6H881.5M869.5 2405.8H881.5M869.5 2429.1H881.5M869.5 2452.3H881.5M869.5 2475.5H881.5M887.5 2475.5V2487.5M919.8 2475.5V2487.5M952.1 2475.5V2487.5M984.3 2475.5V2487.5M1016.6 2475.5V2487.5M1048.9 2475.5V2487.5M1081.2 2475.5V2487.5M1113.5 2475.5V2487.5M1145.8 2475.5V2487.5M1178 2475.5V2487.5M1210.3 2475.5V2487.5M1242.6 2475.5V2487.5M1274.9 2475.5V2487.5M1307.2 2475.5V2487.5M1339.4 2475.5V2487.5M1371.7 2475.5V2487.5M1404 2475.5V2487.5" stroke="#7f7f7f" stroke-width="2" fill="none"/>
<path d="M881.5 2103V2475.5H1405" stroke="#9a9a9a" stroke-width="2" fill="none"/>
<text x="863" y="2111.2" class="e">52.06</text>
<text x="863" y="2157.6" class="e">52.04</text>
<text x="863" y="2204.1" class="e">52.03</text>
<text x="863" y="2250.5" class="e">52.01</text>
<text x="863" y="2296.9" class="e">52.00</text>
<text x="863" y="2343.4" class="e">51.98</text>
<text x="863" y="2389.8" class="e">51.96</text>
<text x="863" y="2436.3" class="e">51.95</text>
<text x="863" y="2482.7" class="e">51.93</text>
<text x="887.5" y="2511.2" class="m">22.45</text>
<text x="952.1" y="2511.2" class="m">22.47</text>
<text x="1016.6" y="2511.2" class="m">22.50</text>
<text x="1081.2" y="2511.2" class="m">22.52</text>
<text x="1145.8" y="2511.2" class="m">22.54</text>
<text x="1210.3" y="2511.2" class="m">22.57</text>
<text x="1274.9" y="2511.2" class="m">22.59</text>
<text x="1339.4" y="2511.2" class="m">22.61</text>
<text x="1404" y="2511.2" class="m">22.63</text>
<text x="1141.5" y="2540.2" class="m">Longitude (°)</text>
<text x="802.2" y="2290" class="m" transform="rotate(-90 802.2 2290)">Latitude (°)</text>
<rect x="1412.5" y="2173" width="20" height="21.7" fill="#9966CC"/>
<rect x="1412.5" y="2194.4" width="20" height="21.7" fill="#FF00FF"/>
<rect x="1412.5" y="2215.9" width="20" height="21.7" fill="#990000"/>
<rect x="1412.5" y="2237.3" width="20" height="21.7" fill="#CC0000"/>
<rect x="1412.5" y="2258.7" width="20" height="21.7" fill="#FF0000"/>
<rect x="1412.5" y="2280.2" width="20" height="21.7" fill="#FF9900"/>
<rect x="1412.5" y="2301.6" width="20" height="21.7" fill="#FFFF00"/>
<rect x="1412.5" y="2323" width="20" height="21.7" fill="#006600"/>
<rect x="1412.5" y="2344.4" width="20" height="21.7" fill="#009900"/>
<rect x="1412.5" y="2365.9" width="20" height="21.7" fill="#00CC00"/>
<rect x="1412.5" y="2387.3" width="20" height="21.7" fill="#00FF00"/>
<rect x="1412.5" y="2408.7" width="20" height="21.7" fill="#0000FF"/>
<rect x="1412.5" y="2430.2" width="20" height="21.7" fill="#0099FF"/>
<rect x="1412.5" y="2451.6" width="20" height="21.7" fill="#00CCFF"/>
<text x="1445" y="2157.4" style="font-size:19.5px">0.330</text>
<text x="1445" y="2178.8" style="font-size:19.5px">0.308</text>
<text x="1445" y="2200.2" style="font-size:19.5px">0.286</text>
<text x="1445" y="2221.7" style="font-size:19.5px">0.264</text>
<text x="1445" y="2243.1" style="font-size:19.5px">0.242</text>
<text x="1445" y="2264.5" style="font-size:19.5px">0.220</text>
<text x="1445" y="2286" style="font-size:19.5px">0.198</text>
<text x="1445" y="2307.4" style="font-size:19.5px">0.176</text>
<text x="1445" y="2328.8" style="font-size:19.5px">0.154</text>
<text x="1445" y="2350.3" style="font-size:19.5px">0.132</text>
<text x="1445" y="2371.7" style="font-size:19.5px">0.110</text>
<text x="1445" y="2393.1" style="font-size:19.5px">0.088</text>
<text x="1445" y="2414.6" style="font-size:19.5px">0.066</text>
<text x="1445" y="2436" style="font-size:19.5px">0.044</text>
<text x="1445" y="2457.4" style="font-size:19.5px">0.022</text>
<text x="1445" y="2478.8" style="font-size:19.5px">0.000</text>
<text x="1423" y="2110" class="s" style="font-size:22px">WC<tspan dy="4" style="font-size:14px">TDR</tspan></text>
<text x="1426" y="2135" class="s" style="font-size:20.5px">(m<tspan dy="-6" style="font-size:12px">3</tspan><tspan dy="6"> m</tspan><tspan dy="-6" style="font-size:12px">−3</tspan><tspan dy="6">)</tspan></text>
</g>
</svg>
</body></html>
